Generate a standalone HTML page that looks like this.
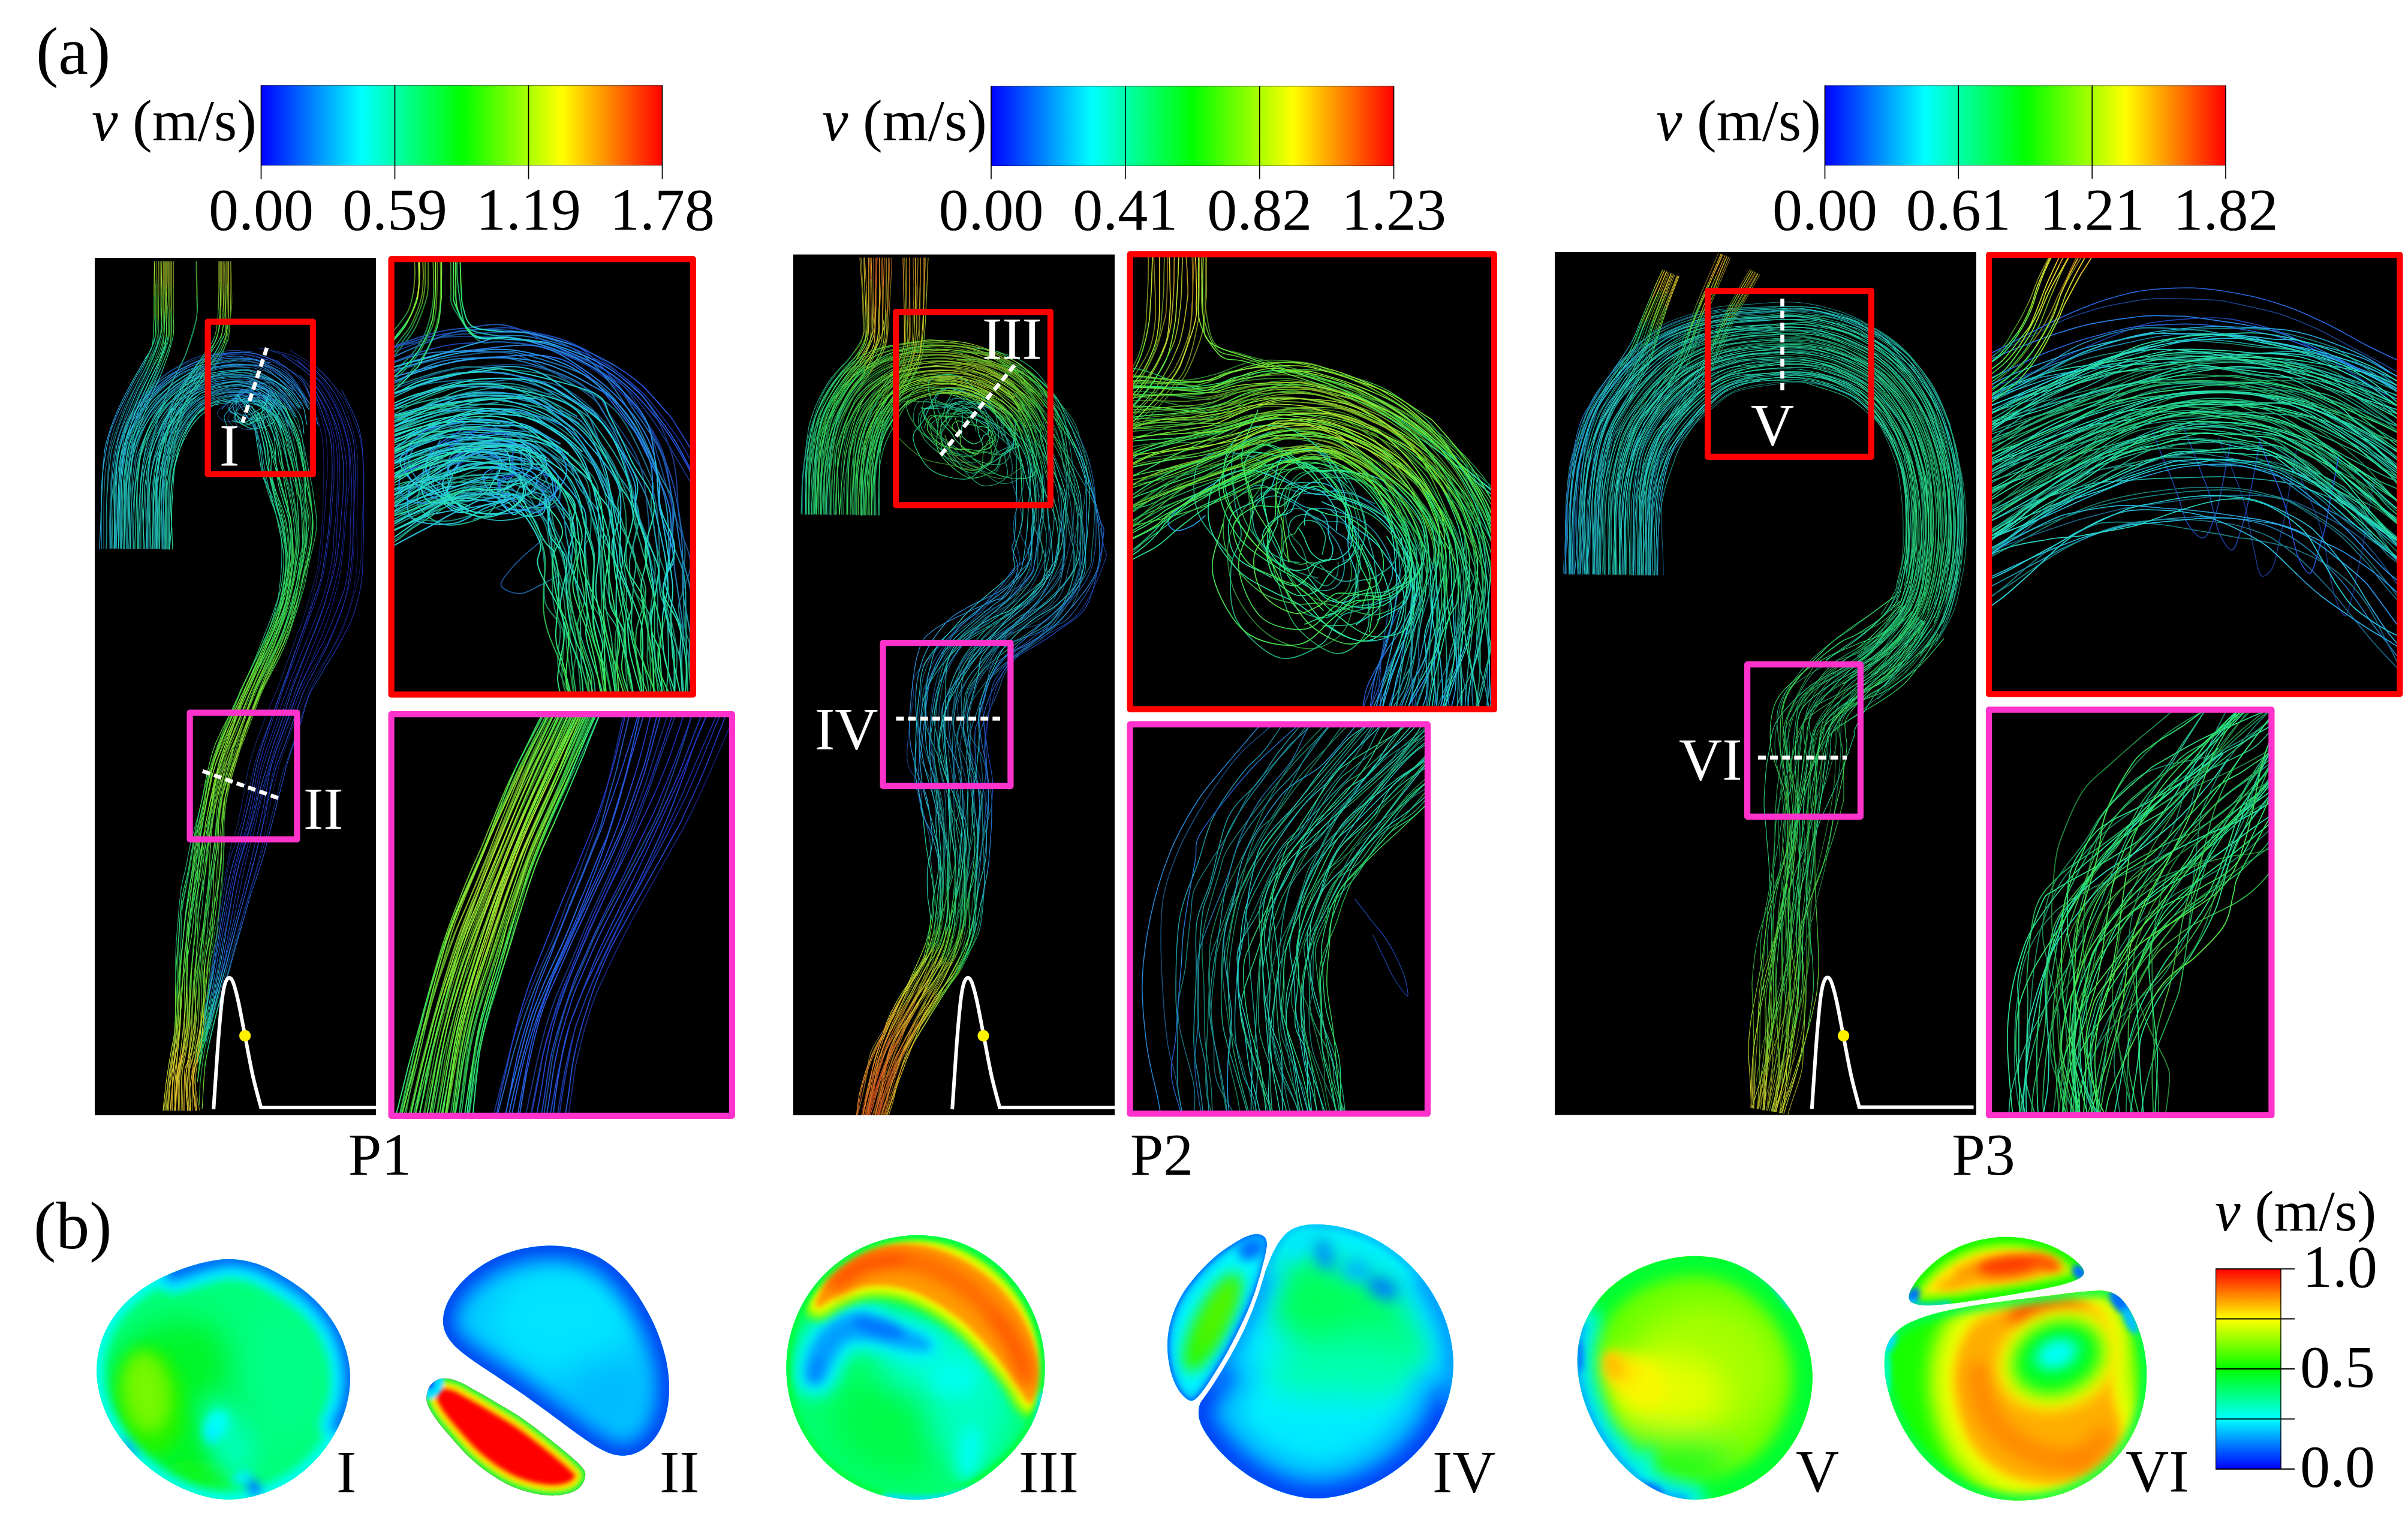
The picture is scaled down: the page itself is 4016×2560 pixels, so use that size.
<!DOCTYPE html>
<html lang="en"><head><meta charset="utf-8"><title>Aortic flow streamlines</title>
<style>html,body{margin:0;padding:0;background:#fff}svg{display:block}text{font-family:"Liberation Serif","Times New Roman",serif;fill:#000}.w{fill:#fff}.i{font-style:italic}.sl{fill:none;stroke-linecap:round;stroke-linejoin:round}</style></head><body>
<svg width="4016" height="2560" viewBox="0 0 4016 2560">
<defs>
<linearGradient id="rb" x1="0" y1="0" x2="1" y2="0"><stop offset="0" stop-color="#0000ff"/><stop offset=".25" stop-color="#00ffff"/><stop offset=".5" stop-color="#00ff00"/><stop offset=".75" stop-color="#ffff00"/><stop offset="1" stop-color="#ff0000"/></linearGradient>
<linearGradient id="rbv" x1="0" y1="1" x2="0" y2="0"><stop offset="0" stop-color="#0000ff"/><stop offset=".25" stop-color="#00ffff"/><stop offset=".5" stop-color="#00ff00"/><stop offset=".75" stop-color="#ffff00"/><stop offset="1" stop-color="#ff0000"/></linearGradient>
</defs>
<rect width="4016" height="2560" fill="#fff"/>
<rect x="435.5" y="142.3" width="669.0" height="133.7" fill="url(#rb)"/>
<path d="M435.5 142.70000000000002H1104.5M435.5 275.6H1104.5" stroke="#000" stroke-opacity=".55" stroke-width="1" fill="none"/>
<line x1="435.5" y1="142.3" x2="435.5" y2="299" stroke="#000" stroke-width="1.7"/>
<text x="435.5" y="383" font-size="100" text-anchor="middle">0.00</text>
<line x1="658.5" y1="142.3" x2="658.5" y2="299" stroke="#000" stroke-width="1.7"/>
<text x="658.5" y="383" font-size="100" text-anchor="middle">0.59</text>
<line x1="881.5" y1="142.3" x2="881.5" y2="299" stroke="#000" stroke-width="1.7"/>
<text x="881.5" y="383" font-size="100" text-anchor="middle">1.19</text>
<line x1="1104.5" y1="142.3" x2="1104.5" y2="299" stroke="#000" stroke-width="1.7"/>
<text x="1104.5" y="383" font-size="100" text-anchor="middle">1.78</text>
<text x="153" y="234" font-size="98"><tspan class="i">v</tspan> (m/s)</text>
<rect x="1653" y="143.5" width="671.5" height="133.5" fill="url(#rb)"/>
<path d="M1653 143.9H2324.5M1653 276.6H2324.5" stroke="#000" stroke-opacity=".55" stroke-width="1" fill="none"/>
<line x1="1653.0" y1="143.5" x2="1653.0" y2="299" stroke="#000" stroke-width="1.7"/>
<text x="1653.0" y="383" font-size="100" text-anchor="middle">0.00</text>
<line x1="1876.8" y1="143.5" x2="1876.8" y2="299" stroke="#000" stroke-width="1.7"/>
<text x="1876.8" y="383" font-size="100" text-anchor="middle">0.41</text>
<line x1="2100.7" y1="143.5" x2="2100.7" y2="299" stroke="#000" stroke-width="1.7"/>
<text x="2100.7" y="383" font-size="100" text-anchor="middle">0.82</text>
<line x1="2324.5" y1="143.5" x2="2324.5" y2="299" stroke="#000" stroke-width="1.7"/>
<text x="2324.5" y="383" font-size="100" text-anchor="middle">1.23</text>
<text x="1371" y="234" font-size="98"><tspan class="i">v</tspan> (m/s)</text>
<rect x="3043.5" y="142.5" width="668.5" height="133.5" fill="url(#rb)"/>
<path d="M3043.5 142.9H3712M3043.5 275.6H3712" stroke="#000" stroke-opacity=".55" stroke-width="1" fill="none"/>
<line x1="3043.5" y1="142.5" x2="3043.5" y2="298" stroke="#000" stroke-width="1.7"/>
<text x="3043.5" y="383" font-size="100" text-anchor="middle">0.00</text>
<line x1="3266.3" y1="142.5" x2="3266.3" y2="298" stroke="#000" stroke-width="1.7"/>
<text x="3266.3" y="383" font-size="100" text-anchor="middle">0.61</text>
<line x1="3489.2" y1="142.5" x2="3489.2" y2="298" stroke="#000" stroke-width="1.7"/>
<text x="3489.2" y="383" font-size="100" text-anchor="middle">1.21</text>
<line x1="3712.0" y1="142.5" x2="3712.0" y2="298" stroke="#000" stroke-width="1.7"/>
<text x="3712.0" y="383" font-size="100" text-anchor="middle">1.82</text>
<text x="2762" y="234" font-size="98"><tspan class="i">v</tspan> (m/s)</text>
<text x="60" y="123" font-size="112">(a)</text>
<text x="56" y="2082" font-size="112">(b)</text>
<rect x="158" y="430" width="469" height="1430" fill="#000"/>
<rect x="1323" y="424.5" width="536" height="1435.5" fill="#000"/>
<rect x="2593" y="420" width="703" height="1439.5" fill="#000"/>
<rect x="651.5" y="431" width="505.5" height="728.5" fill="#000"/>
<rect x="651.5" y="1190" width="570.5" height="672" fill="#000"/>
<rect x="1883.5" y="423" width="609.5" height="761" fill="#000"/>
<rect x="1883.5" y="1207" width="498.5" height="651.5" fill="#000"/>
<rect x="3316" y="424" width="687.5" height="734.5" fill="#000"/>
<rect x="3316" y="1182.5" width="473.5" height="678.5" fill="#000"/>
<clipPath id="cp1"><rect x="158" y="430" width="469" height="1430"/></clipPath>
<g class="sl" clip-path="url(#cp1)" stroke-width="1.2">
<path stroke="#121c6d" stroke-width="1.02" d="M584 702c5 16 10 36 12 55s0 36 0 58s-1 54-1 73s2 27 1 44s-4 44-8 62s-7 29-14 45s-15 34-23 49"/>
<path stroke="#132174" stroke-width="1.05" d="M603 745c3 15 4 31 4 52s-2 51-3 71s0 32-1 48s-1 31-6 52s-17 58-23 75s-6 14-13 28M538 621c14 13 21 26 29 40s12 25 17 41M551 1088c-9 15-16 23-26 41s-23 51-31 69s-10 26-14 39s-8 17-13 34s-11 48-16 68s-6 31-9 48s-8 35-12 53M529 696c5 15 7 26 9 40s2 29 2 45s-1 31-1 49s-1 39-3 58s-3 38-6 56s-9 36-13 51s-9 28-12 39s-5 11-11 29"/>
<path stroke="#142a7a" stroke-width="1.08" d="M412 652c7 2 17 1 22 5M383 669c6-5 8-7 13-12s11-17 19-20s23-1 27 3M570 659c12 17 17 35 23 49s8 22 10 37M561 1071c-8 15-25 45-33 60s-7 12-14 30s-17 54-24 75M484 584c18 12 40 24 54 37M430 1440c-5 18-11 38-16 55s-8 28-13 45M508 644c7 13 16 36 21 52M494 1063c-6 17-20 54-27 74s-11 26-17 41s-14 35-20 52s-11 33-15 49s-5 28-8 43s-7 36-10 50s-7 21-12 40"/>
<path stroke="#163280" stroke-width="1.11" d="M389 682c4-5 7-7 11-10s7-8 13-11s16-7 23-6M434 657c4 3 3 11 4 15M363 687c1-6 15-13 20-18M442 640c5 4 1 15 2 21M521 605c17 18 37 37 49 54M490 1236c-7 21-12 34-17 48s-7 26-10 39s-7 25-11 42s-12 46-18 66s-11 37-16 54s-10 35-14 47M487 620c7 8 14 12 21 24M385 1412c-4 18-10 53-14 71s-2 15-4 32"/>
<path stroke="#173d84" stroke-width="1.14" d="M353 591c18-5 30-8 49-6s43 12 64 18M393 591c16-1 26 0 41 5s31 10 45 24M439 605c15 6 34 21 51 32M380 699c0-6 6-13 9-17M436 655c6 1 10 7 16 11M438 672c1 4 1 7 2 11M375 703c-7-2-14-11-12-16M444 661c1 6 2 8 4 13M404 1532c-3 13-3 13-7 28M401 1540c-6 18-12 40-18 59M367 1515c-2 18-7 50-10 71"/>
<path stroke="#174985" stroke-width="1.18" d="M296 613c14-7 39-18 57-22M337 602c16-5 40-10 56-11M479 620c15 14 33 44 41 60M360 602c16-5 23-5 36-4s27 0 43 7M427 630c13 3 24 8 35 17M409 652c12 1 14 1 24 6M440 683c0 5 4 12 1 17M421 716c-7 2-19-1-24-5s-5-9-7-14M403 698c-8 1-22 7-28 5M448 674c1 6 9 16 5 22"/>
<path stroke="#175687" d="M265 635c12-11 16-14 31-22M298 621c14-11 23-15 39-19M520 680c7 15 3 22 5 33M302 623c17-10 43-17 58-21M455 614c17 6 23 11 33 23M359 631c13-5 14-4 25-5s30 1 43 4M462 647c11 9 21 25 31 38M405 637c13 0 16 0 27 6s32 16 42 25M362 656c13-2 35-4 47-4M433 658c10 6 27 17 36 26M404 658c12 1 20 5 30 8M392 715c-4-6-11-11-12-16M441 700c-3 6-12 14-20 16M448 694c-9 1-20 2-27 3s-11 0-18 1M453 696c-3 6-18 14-27 15s-16-7-24-10M397 1560c-5 16-13 48-18 65M383 1599c-5 19-11 39-16 54"/>
<path stroke="#176385" d="M176 782c3-16 8-46 13-63s12-30 16-40s4-10 9-21M249 665c12-14 34-34 49-44M239 685c7-12 9-16 19-26s27-27 44-36M342 608c16-5 27-8 46-8s50 7 67 14M488 637c11 12 24 33 30 47M402 600c14 1 32 6 44 10s16 5 27 16s26 34 38 51M356 614c15-3 41-4 61-6M349 635c15-4 38-9 53-9s28 3 40 8s25 17 37 25M307 658c12-8 39-22 52-27M324 653c10-7 15-9 28-12s39-5 53-4M474 668c10 9 12 19 18 28M387 638c15 0 35 5 47 9s17 9 24 15s14 11 20 22M307 695c7-9 19-21 29-27s14-9 26-12M469 684c8 9 9 19 13 28M361 663c11-2 31-5 43-5M411 666c11 1 12 2 20 5s16 9 25 14M357 1586c-3 21-6 41-9 58"/>
<path stroke="#177182" d="M173 915c0-14 0-26 0-42s0-43 1-58s0-17 2-33M214 658c6-11 17-28 25-45M177 915c0-12 1-21 1-34s0-26 0-44s2-51 3-66s1-16 5-30s13-38 19-54s12-26 19-38M183 915c0-19-1-40 0-56s0-31 1-43s1-17 2-30s3-26 7-43s13-41 19-58s16-35 21-46M228 680c9-15 26-34 37-45M210 739c4-13 7-21 14-34s13-26 25-40M207 793c2-17 5-46 10-64s15-33 22-44M292 631c14-9 34-18 50-23M518 684c6 14 4 26 7 39M300 631c16-10 41-20 58-25s29-7 44-6M325 624c13-7 16-8 31-10M314 652c11-7 20-13 35-17M249 751c3-11 6-20 12-32s18-31 26-41s8-12 20-20M292 681c9-11 22-22 32-28M316 666c8-8 15-13 27-17s29-10 44-11M266 840c0-17 2-47 4-61s2-11 5-21s11-29 16-40s8-15 16-23M365 656c14-3 39-1 49-1s6 0 14 4s26 15 34 24M314 697c8-9 17-18 25-24s12-7 22-10M348 675c8-5 6-5 17-6s35-3 46-3M442 634c15 16 36 33 46 49M379 1625c-5 18-7 23-12 40M367 1653c-4 14-5 19-9 34"/>
<path stroke="#167d7e" d="M224 649c6-12 11-20 18-34M233 639c6-12 6-9 12-22M192 790c1-13 2-28 5-42s7-25 13-43M270 915c0-18-1-40-1-55s-1-19 0-34s3-42 6-59s5-31 9-45s6-25 12-39s14-29 22-42M192 792c3-20 8-52 14-71s12-27 22-41M194 914c0-14 0-31 1-43s0-15 1-29s3-42 5-59s5-31 9-44M202 914c1-16 1-35 2-49s0-22 1-34s-1-21 2-38M235 693c6-11 10-18 20-29s22-23 37-33M263 664c11-13 21-23 37-33M245 695c9-15 18-26 31-38s36-26 49-33M246 744c5-14 16-34 23-45s7-11 15-19s20-20 30-28M235 915c0-10 0-17 0-30s1-32 1-48s3-34 5-48s4-26 8-38M244 915c0-10 0-18 0-30s0-29 2-45s4-39 6-52s1-14 5-26s8-31 14-44s12-26 21-37M277 723c5-10 10-20 16-30s15-20 23-27M478 684c5 10 9 26 14 39M266 915c0-11 0-22 0-35s-1-24 0-40M313 691c6-9 8-13 17-18s21-14 35-17M462 683c9 8 11 18 16 27M273 871c0-15 0-33 0-45s1-17 2-27s4-23 7-35s7-22 12-34s13-23 20-33M305 717c5-9 6-10 13-17s22-20 30-25M409 652c12 12 25 23 34 37M348 1644c-3 17-5 28-7 44"/>
<path stroke="#178074" d="M188 915c0-17 0-35 0-50s1-30 1-42s1-21 3-33M210 705c7-18 20-47 28-63M246 915c0-18 0-41 0-55s-1-15 0-31s1-45 3-63s3-27 8-45s14-45 20-62s15-33 21-44M318 641c8-13 20-25 28-36M282 915c0-14 0-27 0-44s0-39 1-55s1-22 3-38s7-40 11-56s8-27 13-40s13-24 19-34M186 914c1-17 1-38 2-51s0-12 1-24s0-27 3-47M203 914c1-13 2-27 2-40s1-24 2-40s1-38 3-55s3-30 7-44s11-30 18-42M220 738c4-14 5-16 12-28s20-33 31-46M214 915c-1-17-1-36-1-51s-1-27 0-41s1-32 3-45s0-17 5-30s15-38 24-53M235 915c0-10 0-16 0-30s-2-40-1-57s1-32 3-46s4-24 9-38M250 915c0-13-1-27 0-38s0-19 1-32s3-36 5-51s6-27 9-38s7-23 12-33M284 750c3-11 4-15 9-25s14-26 20-34M274 916c0-15-1-30-1-45M282 916c-1-19-1-41-1-56s-1-24-1-35s-1-17 1-29s5-30 9-43s11-27 15-36M488 683c10 15 11 26 15 43M443 689c9 14 18 34 23 49"/>
<path stroke="#17826a" d="M238 642c7-17 11-22 17-36M298 615c5-12 8-14 13-27M329 648c5-9 10-14 17-24M207 915c0-14 0-26 0-41s-1-34 0-48s0-19 2-34s7-40 11-54M266 915c1-11 1-20 1-33s1-26 2-41s2-32 5-47s7-33 10-44M503 726c3 17 5 40 8 58M367 1665c-4 17-12 45-16 63M358 1687c-4 14-8 36-13 54"/>
<path stroke="#18845f" d="M239 613c8-16 17-40 21-54M242 615c6-14 17-38 20-51M245 617c6-14 19-42 22-59M477 682c5 21 12 47 15 63M466 738c5 15 2 24 6 39M341 1688c-3 15-7 31-10 49"/>
<path stroke="#198455" d="M311 588c5-13 13-37 16-52M346 605c8-11 15-16 20-30M346 624c7-10 20-18 26-36M511 784c3 17 6 31 8 49s2 47 1 62M472 777c4 16 13 38 17 56"/>
<path stroke="#1a854b" d="M255 606c6-14 13-36 16-48M520 895c0 16-2 18-5 32s-5 33-10 51M492 745c4 15 1 18 4 33M489 833c4 17 5 34 6 50"/>
<path stroke="#1b8541" d="M505 978c-4 18-9 38-15 55M371 1476c-2 21-4 32-6 45s-4 20-7 34M496 778c3 14 11 37 15 54M495 883c0 17-1 35-2 48s-1 16-5 33"/>
<path stroke="#208538" d="M260 559c4-15 1-17 1-32M262 564c4-14 1-14 1-28M490 1033c-5 17-9 31-17 48M373 1400c0 18-1 56-2 76M358 1555c-2 14-5 29-8 48M511 832c4 17 8 30 8 49M488 964c-4 16-14 50-19 67s-6 18-11 30M332 1466c-2 20-1 33-3 47s-2 24-4 39M351 1728c-4 19-6 34-10 50"/>
<path stroke="#2a8630" d="M267 558c4-17 1-29 1-42M327 536c3-16 1-23 1-40M473 1081c-8 18-23 43-30 59M374 1368c-2 15-1 13-1 32M519 881c-1 19-7 44-11 64s-10 41-15 56M458 1061c-5 13-12 27-20 44M346 1392c-3 19-11 54-14 74M325 1552c-2 16-4 37-5 53M331 1737c-3 18-6 41-8 58"/>
<path stroke="#348729" d="M271 558c3-11 0-6 1-19M366 575c5-14 7-40 9-53M372 588c7-18 11-52 14-71M443 1140c-8 15-10 19-16 35M381 1309c-3 17-6 43-7 59M350 1603c-3 18-8 43-10 62M493 1001c-4 15-8 21-13 35s-13 34-19 49M363 1472c-1 17 0 11-3 26s-11 46-15 62M438 1105c-7 17-18 42-24 58M351 1353c-3 15-2 20-5 39M320 1605c-1 16 0 24-1 42"/>
<path stroke="#3d8722" d="M328 496c0-16-1-40-1-60M427 1175c-6 15-16 43-22 58s-8 20-12 33s-9 26-12 43M461 1085c-6 15-12 26-18 40M365 1365c-1 12-1 14-1 32s0 59-1 75M345 1560c-3 16-4 17-6 35M414 1163c-6 15-8 20-13 33M364 1302c-5 18-10 36-13 51"/>
<path stroke="#48871e" d="M261 527c0-15 0-44 0-59M263 536c0-15 0-42 0-59M268 516c0-14 0-25 0-38M340 1665c-2 19 0 33-2 49M443 1125c-6 13-10 24-17 42M371 1325c-5 18-5 28-6 40M339 1595c-3 19-6 57-7 75M401 1196c-6 14-14 31-20 48s-12 40-17 58M319 1647c-1 19-4 55-5 70M323 1795c-2 17-2 28-3 42"/>
<path stroke="#54871e" d="M272 539c0-14 0-45 0-62M375 522c1-14 0-14 0-28M426 1167c-6 18-17 52-22 67M394 1256c-5 16-18 51-23 69"/>
<path stroke="#60861e" d="M261 468c0-15 0-21 0-32M404 1234c-5 15-4 7-10 22M332 1670c0 17 3 13 3 29"/>
<path stroke="#6c851e" d="M263 477c1-17 1-27 1-41M268 478c0-13 0-28 0-42M375 494c0-15 0-39-1-58M386 517c2-19 0-30 0-43M338 1714c-1 17-6 36-8 48M314 1717c-1 16 0 11-2 24"/>
<path stroke="#74841d" d="M272 477c0-17 0-27 0-41M386 474c0-14-1-25-1-38"/>
<path stroke="#7b821c" d="M335 1699c-1 17-5 55-7 70"/>
<path stroke="#82801c" d="M330 1762c-3 13-7 14-7 29M312 1741c-3 13-11 36-13 55"/>
<path stroke="#897e1b" d="M323 1791c1 15 6 41 10 61M299 1796c-2 18-1 37-2 56"/>
<path stroke="#8c6d1a" d="M328 1769c-2 15-5 8-6 22s-1 41-1 61"/>
<path stroke="#151f83" stroke-width="0.99" d="M590 821c0 15 0 25 0 44s1 46-1 65s-2 32-8 53s-19 54-26 71M541 866c-2 15-2 31-3 43s-1 17-4 33s-10 45-15 64"/>
<path stroke="#17248d" stroke-width="1.02" d="M551 654c9 15 22 42 28 63s9 42 10 59s1 30 1 45M555 1054c-7 17-7 15-15 30s-26 43-35 61M583 795c0 15-1 15-3 34s-5 61-7 82s-4 33-6 47s-5 24-9 37s-6 25-13 44M527 666c5 19 13 40 16 57s2 28 3 43s-1 33-2 49s-2 35-3 51M519 1006c-5 19-10 33-16 50s-12 35-16 48s-5 13-9 26"/>
<path stroke="#192b96" stroke-width="1.05" d="M492 595c17 7 28 20 38 30s13 13 21 29M505 1145c-9 18-13 32-18 47s-10 28-15 41s-7 18-12 36s-12 55-16 71s-2 14-5 30s-11 49-15 66s-6 22-10 37s-9 32-14 50M530 634c12 14 22 28 30 46s16 42 20 61s2 39 3 54M545 1039c-7 18-19 47-27 67s-17 39-23 52s-3 10-8 25M541 665c7 13 13 28 17 43s7 32 8 51s0 43-1 63s-2 40-3 57s-1 31-3 48s-7 40-11 56s-7 28-12 41s-8 23-16 41s-21 50-29 68M478 1130c-5 13-12 30-19 50s-19 49-26 68s-8 26-12 44s-10 44-14 63s-10 36-14 50s-8 19-11 34s-7 41-10 59"/>
<path stroke="#1a369e" stroke-width="1.08" d="M459 601c15 7 24 17 35 25M430 580c21 5 46 7 62 15M490 600c13 8 29 21 40 34M487 1183c-6 15-18 46-25 65s-12 33-17 51s-11 40-14 54s-3 15-6 28s-9 31-13 48s-8 34-11 51M517 629c8 12 17 23 24 36M491 1133c-7 18-9 25-15 40s-14 38-20 55s-11 31-16 47s-8 33-11 49s-6 28-10 45s-12 40-17 58s-8 36-12 52M372 1498c-3 18-5 33-8 50"/>
<path stroke="#1c41a5" stroke-width="1.11" d="M351 591c17-3 46-3 70-5M340 599c19-6 47-12 67-11s38 7 52 13M409 656c8-4 16-13 22-13M403 663c6-3 10-3 15-4M400 1523c-5 19-12 43-17 60M453 585c12 5 24 6 37 15M401 1480c-4 18-7 33-11 53M390 1479c-3 17-6 31-9 47"/>
<path stroke="#1d4faa" stroke-width="1.14" d="M314 602c15-8 19-9 37-11M401 603c16-1 22-1 37 6M431 643c6 0 14 7 16 11M381 672c3-4 16-7 22-9M383 1583c-4 18-6 24-11 44M390 1533c-5 21-12 51-16 71M381 1526c-3 16-6 30-10 49M364 1548c-3 18-5 37-8 52"/>
<path stroke="#1e5fac" stroke-width="1.18" d="M260 637c15-14 39-28 54-35M290 623c15-10 30-18 50-24M339 613c17-6 45-10 62-10M438 609c16 8 43 27 56 39s12 22 18 32M406 617c14 0 20 1 33 7s29 18 43 27M393 636c14 0 32 4 42 7s11 3 19 10s20 20 30 31M405 678c3-3 4-5 8-7s9-8 14-8M447 654c2 5-5 11-4 16M385 688c-3-3-7-12-4-16M356 1600c-2 16-3 25-6 41"/>
<path stroke="#1e6fae" d="M222 684c11-17 22-33 38-47M250 656c11-10 25-24 40-33M297 634c11-7 24-16 42-21M368 612c17-4 26-3 39-3s21 2 35 8s31 22 47 33M324 628c16-8 36-12 52-15s26 0 39 0M392 611c16 0 33 2 48 7s30 16 41 26s14 21 22 32M318 634c12-6 25-11 39-13s36-5 49-4M356 628c12-5 9-5 22-4s43 3 56 6s14 4 23 12s22 24 33 36M347 646c11-4 31-9 46-10M383 658c10-2 13 0 21 1s17 3 27 8s20 13 29 20M417 669c3-1 6-4 9-5s10-1 12 1M398 678c2-3 7-5 11-7M393 687c2-4 8-7 12-9M427 663c5-1 13 1 15 4M443 670c0 4 6 7 6 12M405 691c-5-2-16 0-20-3M374 1604c-5 20-9 36-13 51M371 1575c-3 19-9 49-13 66"/>
<path stroke="#1e80ac" d="M199 740c5-18 13-39 23-56M202 740c5-15 18-42 26-56s12-17 22-28M238 702c8-14 22-33 32-44s15-16 27-24M304 636c15-7 47-20 64-24M279 658c11-10 29-23 45-30M343 622c15-6 33-10 49-11M255 698c9-16 20-29 30-40s21-18 33-24M310 651c12-8 35-19 46-23M296 683c10-11 23-21 31-28s9-6 20-9M421 648c11 4 25 13 37 19M334 664c12-6 33-11 46-13s19 1 29 1M345 669c11-6 28-9 38-11M413 662c9 3 20 9 29 13M438 665c3 1 5 5 4 8M396 688c-2-2 0-8 2-10M391 700c-2-2 0-10 2-13M442 667c2 3-1 9-2 13M449 682c-1 5-4 15-9 18s-18 0-24-2s-6-6-11-7M387 679c3-5 5-8 10-14s10-15 20-19s27-10 36-8M425 705c3 12 7 23 9 37M372 1627c-6 19-16 57-21 76"/>
<path stroke="#1d91a8" d="M184 766c2-16 1-13 5-25s8-29 15-45M208 915c1-17 1-39 1-53s0-15 1-28s1-31 3-48s6-39 9-52s4-14 8-25s9-26 15-41M185 914c0-18-1-37 0-54M188 815c1-11 0-11 2-23s3-34 9-52M192 914c0-17 0-35 0-51s0-29 1-44s1-31 2-44s1-20 7-35M208 915c0-13 0-24 0-38s0-33 1-47s1-23 3-37s3-31 8-46s9-30 18-45M248 692c9-14 23-29 33-39s9-11 23-17M222 788c2-15 5-40 11-56s14-32 22-45s12-19 24-29M275 670c8-10 18-20 30-28s23-15 38-20M222 915c0-14-1-25-1-40s2-41 3-55s2-17 3-27s2-21 6-37s14-41 22-58M396 620c17 2 44 9 59 15s19 17 29 25M402 621c14 0 24 3 35 7s20 6 30 15s22 26 32 39M246 753c4-14 12-32 18-45s12-21 20-31s14-18 26-26M351 642c13-3 30-6 42-7s18 2 28 2M247 915c0-11 0-22 0-34s0-23 0-36s1-24 3-39s6-38 10-53s7-22 13-34s14-26 23-36M352 653c12-4 31-8 43-9s16 0 26 4M360 652c12-4 17-4 27-4s25 2 37 3M308 687c7-9 14-17 26-23M368 656c8-2 16-5 27-4s31 3 43 8s21 13 28 21M297 729c4-9 10-22 18-32s18-21 30-28M356 667c9-3 21-6 31-7s17 0 26 2M378 663c10-3 12-3 21-1s24 7 36 10M442 673c0 3-4 6-7 8M406 693c-4 0-9-2-10-5M408 704c-5 1-14-1-17-4M374 695c1-6 9-11 13-16M453 638c10 2 14 13 22 19M420 634c12 9 24 11 36 25M416 634c17 15 39 28 50 44M413 635c14 15 33 31 42 46M414 644c14 16 33 34 42 47M407 677c5 9 11 14 16 26M418 696c6 16 13 33 17 47M358 1641c-3 17-4 18-8 38M350 1641c-3 16-6 37-9 55"/>
<path stroke="#1da1a3" d="M178 915c0-16 0-36 0-49s-1-14 0-30s4-55 6-70M204 696c6-17 18-41 24-55M212 776c2-12 1-14 5-29s12-41 18-58M245 668c6-16 15-34 22-51M246 915c0-13 0-25 0-40s0-32 0-51s3-46 4-62s4-24 7-38s8-32 14-49s17-38 23-52M257 915c0-17 0-34 0-50s-2-26-1-43s3-40 5-56s4-24 8-40s12-39 17-52s6-14 14-26M185 860c0-16 2-33 3-45M215 915c0-11 1-18 1-33s0-40 1-58s2-37 3-51s2-20 7-33s12-33 21-48M217 915c1-19 2-40 2-55s1-25 1-37s0-20 2-35M217 915c1-15 1-33 1-44s0-13 1-27s4-43 6-57s0-15 5-29s18-46 25-60s12-19 20-28M330 635c11-7 9-5 20-7s28-9 46-8M309 648c12-6 30-16 46-20s33-6 47-7M232 915c0-15-1-30-1-44s1-31 2-44s2-22 4-34s4-26 9-40M283 690c8-9 23-25 35-33s21-11 33-15M298 695c7-9 17-20 26-27s16-11 28-15M303 690c7-9 8-12 18-18s28-16 39-20M261 915c1-11 1-20 2-33M268 800c2-14 5-35 9-49s7-24 12-35s11-21 19-29M343 666c9-6 16-8 25-10M466 681c8 8 10 18 15 26M275 916c0-19-1-43-2-56s0-12 0-23s1-31 4-45s8-30 11-41s4-13 9-22M313 707c5-8 14-20 21-27s13-10 22-13M341 678c10-7 27-13 37-15M435 681c-3 3-6 3-8 5s-5 3-8 4s-9 4-13 3M423 696c-5 3-9 7-15 8M380 714c-2-7-7-13-6-19M456 659c11 15 25 44 33 62M430 652c12 15 28 32 36 45M442 661c10 16 23 32 30 49M410 650c13 13 28 25 37 40M434 742c2 14 1 29 5 47M423 703c4 13 7 31 11 49M361 1655c-4 14-6 22-10 37"/>
<path stroke="#1da596" d="M228 641c7-14 10-18 16-29M191 915c0-19 0-42 0-56s0-16 0-30s1-36 4-54s6-34 10-49s11-30 16-41s7-17 13-30M203 915c0-16 0-32 0-48s1-34 2-48s1-20 3-35s6-35 10-51s11-34 15-45s2-7 7-21M207 915c0-18 1-38 1-53s1-26 1-40s2-33 3-46M235 689c6-16 11-28 17-42M294 623c7-14 10-15 15-31M300 648c8-13 26-37 36-51M280 915c0-20 0-45 0-59s0-13 1-26s1-34 4-52s6-39 10-54s7-25 11-37s9-20 17-33M260 699c7-12 8-15 20-26s38-30 50-38M257 705c8-14 19-27 28-36s13-14 24-21M248 799c1-13 0-19 3-34s13-41 18-54s6-12 14-21M262 788c1-14 3-22 6-32s6-19 11-29s11-22 19-32M261 915c-1-10-1-17-1-30s-1-30-1-45s0-31 2-45s6-32 9-43s4-16 9-26s17-27 24-36M263 882c0-14 1-35 2-48s1-20 3-34M282 747c4-12 7-16 11-25s11-19 19-28s22-22 31-28M276 916c0-14-1-28-1-41s1-30 1-41s0-15 3-28s8-35 11-47s6-19 10-28s7-15 13-24M309 719c4-9 4-10 10-17s12-18 22-24M466 678c12 17 15 41 19 54M455 681c9 14 10 24 15 40M456 691c9 13 9 18 13 31M447 690c9 15 13 34 17 49M439 789c5 18 18 43 23 60M435 743c4 14 3 21 6 36"/>
<path stroke="#1ea888" d="M234 655c6-14 18-34 24-50M276 915c0-20 0-43 0-59s-1-19-1-34s3-42 5-57s3-22 7-35s11-36 16-47s4-11 11-22M323 654c9-14 27-33 36-47M229 915c0-12 0-18 0-34s0-43 0-61s3-35 4-47s1-10 5-22s15-39 22-52M230 915c0-16 0-34 0-46s-1-17-1-29s0-27 1-41s2-28 6-44s13-35 21-50M244 915c1-15 2-33 3-45s0-18 0-29s0-29 1-42M258 915c0-12 1-25 1-38s-1-24 0-39s1-37 3-50M265 915c0-14-1-26-1-42s1-42 2-54s0-10 3-22s9-37 13-50M279 916c-1-13-1-22-1-38s0-41 0-55s2-20 5-31s6-23 10-35s11-29 16-38M479 678c8 14 16 26 22 44M489 721c8 18 12 29 15 46M466 697c9 14 11 21 15 36M472 710c8 18 11 41 15 57M470 721c4 16 7 39 11 55M469 722c3 13 6 28 9 46M453 694c7 20 16 41 21 59M435 695c5 16 13 33 16 49M462 849c6 18 8 30 11 45M434 752c3 18 6 41 10 59M441 779c3 15 7 34 11 52M470 923c0 16-2 43-4 58s-1 13-6 27M351 1703c-5 19-5 22-8 39"/>
<path stroke="#1faa7b" d="M244 612c5-11 14-25 18-38M240 667c6-13 21-44 28-61M252 647c6-14 14-28 19-40M314 661c8-12 24-33 34-49M501 722c6 18 11 48 14 64M474 672c6 20 15 43 20 60M485 732c4 13 3 12 6 24M481 733c5 16 10 41 14 57M440 670c10 19 24 43 31 58M474 753c6 18 9 35 11 48M464 739c4 15 5 27 9 42M451 744c3 17 1 36 3 51M473 894c2 15 5 28 4 45M444 811c5 18 13 37 17 50M452 831c5 17 12 38 15 53s3 23 3 39M460 1008c-4 15-16 42-22 59M310 1447c-3 14-6 21-8 36s-4 33-5 52M351 1692c-3 15-7 34-11 51"/>
<path stroke="#20ab6e" d="M267 617c6-17 15-34 18-51M309 592c6-16 16-48 19-64M504 767c3 16 3 37 4 53s5 24 4 43M491 756c2 13 5 28 9 49M495 790c4 16 9 21 12 40M487 767c3 17 6 25 9 42M481 776c5 16 10 29 14 42M478 768c4 19 8 45 11 65M485 801c3 13 3 14 6 31M473 781c4 16 9 33 13 52M454 795c3 15 7 26 11 40M477 939c0 16-5 41-8 54s-3 13-8 25s-12 33-19 51M315 1456c-3 20-9 42-11 60s-2 33-2 48M461 861c4 12 5 12 8 24M320 1397c-4 16-7 35-10 50M297 1535c-2 20-4 46-4 66M350 1679c-4 19-12 59-15 79"/>
<path stroke="#21ab61" d="M271 607c5-13 10-21 13-35M336 597c9-15 18-22 22-36M359 607c9-15 16-26 21-40M515 786c4 17 5 20 7 35s7 38 6 57M494 732c5 17 7 26 10 42M512 863c0 18-4 51-7 70M500 805c3 20 10 55 11 76M507 830c2 19 5 55 5 72M496 809c3 18 9 49 10 64s2 13 1 26M495 818c4 14 10 27 12 41s3 31 1 48M471 728c7 14 7 17 11 30M489 833c3 19 8 33 8 51M491 832c2 16 8 51 8 69M486 833c4 18 8 40 9 58M465 835c3 14 9 29 12 45M442 1069c-8 18-20 40-28 57M333 1366c-4 15-6 19-9 34s-5 37-9 56M302 1564c-1 15-2 24-3 41M469 885c2 12 8 30 8 47M438 1067c-7 17-11 28-17 42M333 1350c-4 18-9 31-13 47"/>
<path stroke="#22ac53" d="M258 605c7-15 12-30 15-44M268 606c6-17 11-29 13-40M528 878c-1 19-8 39-12 58M504 774c4 16 8 37 11 54M505 933c-3 18-6 25-10 40s-8 38-12 52M511 881c1 20-3 33-5 48s-5 29-8 45M512 902c0 17-2 16-5 30s-7 33-12 50M507 899c-1 14-6 39-9 56s-5 29-10 46M508 907c-2 18-8 43-12 60s-7 25-12 41M482 758c4 12 7 24 11 42M497 884c1 18-3 41-4 57s-3 27-6 39s-2 18-8 34M499 901c1 18-2 23-5 39s-8 42-13 59M495 891c2 17-1 35-3 48s-1 16-4 31M477 880c3 16 4 32 4 50s-3 41-7 59M477 932c0 18-5 43-7 58s-3 17-9 32M316 1448c-4 20-11 52-14 70s-2 27-3 39s-1 16-2 33M293 1601c-1 20 1 36 1 55"/>
<path stroke="#29ac48" d="M262 574c3-12 2-23 2-37M328 528c3-16 1-16 1-31M348 612c10-15 21-33 26-45M516 936c-4 18-6 35-11 51s-9 30-15 46M515 828c3 18 8 32 7 51s-8 48-12 67M483 1025c-4 15-6 21-12 37M361 1399c-2 19-5 42-7 61s-4 39-6 57s-2 35-3 52M498 974c-4 17-9 35-15 52s-13 36-21 53M355 1448c-3 16-6 35-8 50s-2 22-4 40M495 982c-4 17-9 34-15 51s-12 30-20 47M356 1452c-2 17-5 35-8 55M488 1001c-5 17-11 37-18 56M351 1457c-2 21-4 41-6 56s-4 20-6 35M484 1008c-6 16-14 35-21 54M351 1413c-2 18-1 27-2 42s-1 28-2 45s-4 37-7 54M493 800c4 19 11 50 13 69M479 1014c-5 17-17 49-23 65M346 1417c-2 17-2 26-4 41s-3 30-4 45s-5 31-6 47M481 999c-4 17-8 29-13 42s-8 21-14 34M341 1465c-3 15-5 20-7 34s-5 30-7 48M488 970c-3 14-8 37-15 56s-17 44-24 60M339 1460c-2 19-5 35-7 50s-3 21-5 37M474 989c-3 18-7 35-13 50M414 1126c-8 17-14 32-19 44M345 1313c-3 16-9 38-12 53M299 1605c-1 17-3 41-3 60M461 1022c-6 16-21 47-27 62s-7 13-13 27M325 1401c-4 18-5 28-9 47M421 1109c-6 14-14 30-20 42M348 1289c-5 18-10 43-15 61M343 1742c-3 16-7 44-9 61"/>
<path stroke="#36ad3e" d="M285 566c3-17 1-34 1-49M490 1033c-5 16-11 34-18 50M374 1408c-1 15-1 29-3 44s-2 29-4 46s-3 40-5 58s-8 29-11 46M510 946c-4 19-8 34-12 48s-7 22-12 36M471 1062c-7 16-19 40-26 58M365 1348c-3 18-2 33-4 51M345 1569c-2 16-6 32-7 48M462 1079c-7 16-17 35-22 47M361 1400c-2 14-4 32-6 48M343 1538c-2 19-6 55-7 73M363 1404c-2 14-4 31-7 48M348 1507c-3 20-10 49-12 65s-3 18-4 31M470 1057c-8 19-20 41-28 59M359 1392c-2 18-6 45-8 65M339 1548c-2 15-5 36-7 55M463 1062c-8 18-17 40-24 56M359 1347c-4 19-7 48-8 66M340 1554c-2 17-6 31-8 47M506 869c2 18 1 26-2 42s-9 40-13 57M456 1079c-6 15-5 12-12 27M354 1356c-2 17-6 44-8 61M332 1550c-2 16-4 34-5 49M454 1075c-6 13-14 27-21 43M355 1360c-2 15-4 30-6 48s-6 42-8 57M327 1547c-2 18-5 44-7 60M347 1397c-2 17-5 44-8 63M327 1547c-2 17-5 45-7 64M461 1039c-5 16-12 29-18 44M333 1398c-3 18-6 48-8 66s-2 22-4 39s-8 49-10 64s-2 5-3 22M395 1170c-5 12-4 12-11 28s-24 52-30 71s-5 27-9 44M421 1111c-7 14-19 39-26 55M339 1343c-4 18-11 40-14 58M297 1590c-1 17-1 53-2 71M401 1151c-5 13-7 19-13 35M335 1758c-4 20-4 27-5 41"/>
<path stroke="#42ae35" d="M281 566c3-12 1-16 2-30M284 572c2-15 1-40 1-54M329 497c0-16-1-41-1-61M472 1083c-6 16-17 33-23 46M374 1362c-1 16 0 31 0 46M351 1602c-2 17-3 37-4 53M486 1030c-5 14-13 34-19 49M365 1413c-2 19-3 30-4 46s-3 34-4 50s-2 28-3 43s-4 24-6 44M445 1120c-8 17-12 30-19 48M381 1296c-5 15-12 35-16 52M338 1617c-2 16-1 32-2 49M440 1126c-6 11-6 11-11 23M364 1363c-2 14-1 23-3 37M336 1611c-2 18-2 18-3 34M460 1080c-7 17-20 38-27 55M365 1370c-2 17-1 20-2 34M332 1603c-2 13-5 29-6 48M442 1116c-8 19-17 37-23 51M362 1349c-2 17-1 24-3 43M332 1603c-2 18-4 41-5 57M439 1118c-7 16-11 25-16 40M332 1601c-3 15-7 27-9 46M491 968c-4 17-7 29-12 47s-15 45-21 61M349 1448c-1 14-1 23-2 40s-6 44-9 62M444 1106c-8 16-24 49-32 68M362 1315c-4 16-5 24-8 41M327 1599c-2 14-3 24-4 39M363 1321c-5 19-6 25-8 39M320 1607c-2 17-3 25-4 40M449 1086c-6 15-10 21-15 32M352 1355c-3 17-3 24-5 42M320 1611c-2 18-3 30-4 46M443 1083c-7 14-16 31-21 42M341 1354c-3 16-5 25-8 44M296 1665c-1 19 1 37-1 52M395 1166c-8 16-12 27-18 40M348 1292c-4 17-5 33-9 51M388 1186c-7 15-20 42-26 60s-9 26-14 43M294 1656c-1 19-1 42-2 59"/>
<path stroke="#4fae2c" d="M273 561c2-14 0-23 0-37M358 561c5-13 5-32 6-45M380 567c4-13 3-29 4-42M449 1129c-7 13-9 17-16 34M382 1314c-4 18-7 33-8 48M467 1079c-7 14-12 22-19 38M372 1344c-2 16-5 50-7 69M426 1168c-7 18-17 43-23 58s-8 24-12 36s-6 20-10 34M429 1149c-5 12-13 29-20 48M387 1266c-6 20-11 36-15 52s-6 31-8 45M433 1135c-8 16-12 28-19 44M375 1302c-3 17-7 51-10 68M419 1167c-6 14-9 23-14 35M391 1240c-5 15-12 35-17 53s-9 40-12 56M423 1158c-6 15-11 34-18 51M386 1259c-6 15-10 24-14 39s-10 30-13 49M458 1076c-6 16-10 22-15 35M352 1403c-2 16-2 31-3 45M338 1550c-4 19-7 32-10 50M412 1174c-8 18-11 29-17 44M376 1265c-5 16-11 35-14 50M323 1638c-2 16-2 34-4 55M433 1118c-7 16-15 36-22 52s-12 32-18 46M381 1249c-5 18-14 54-18 72M434 1118c-6 11-10 20-17 36s-20 48-26 62M365 1294c-5 19-10 44-13 61M422 1125c-5 12-6 13-11 25M358 1268c-6 17-5 22-8 37s-6 34-9 49M308 1589c-2 17-4 62-5 79M377 1206c-5 13-9 23-14 37s-11 33-15 49M295 1661c0 17 1 20 0 35M334 1803c-1 17-1 27-2 40"/>
<path stroke="#5dae27" d="M264 537c1-13 0-28 1-45M374 567c5-12 3-10 4-27M433 1163c-6 17-19 52-25 68s-5 10-9 24s-13 41-17 59M347 1655c-2 16-1 23-4 42M448 1117c-7 17-19 46-24 60M378 1320c-4 14-4 9-6 24M348 1596c-3 19-7 52-9 71M336 1666c0 16 1 31-2 48M409 1197c-6 20-15 49-22 69M333 1645c-1 16-1 42-2 60M414 1179c-6 15-13 34-18 49s-8 28-11 40s-7 17-10 34M326 1651c-1 19 2 47 0 67M405 1202c-5 12-9 23-14 38M327 1660c-2 16-1 26-2 40M405 1209c-6 16-14 36-19 50M323 1647c-1 19-2 51-3 68M443 1111c-6 13-13 30-19 43M357 1350c-3 19-4 36-5 53M328 1600c-3 17-5 35-6 55M395 1218c-6 15-13 30-19 47M393 1216c-5 13-7 16-12 33M316 1647c0 15 1 36 0 52M391 1216c-6 15-6 15-11 27s-11 33-15 51M316 1657c-1 16-1 36-2 52M411 1150c-6 13-14 32-23 51s-23 49-30 67M303 1668c-1 16 0 8-2 20"/>
<path stroke="#6dae27" d="M286 517c0-15 0-28 0-41M364 516c1-12 0-16 1-29M424 1177c-6 15-5 16-10 29s-11 34-17 53s-14 47-19 61M424 1154c-5 13-7 20-14 37M370 1292c-5 17-10 40-13 58M295 1717c-1 16-5 26-8 41"/>
<path stroke="#7cad27" d="M273 524c0-14 0-32 0-46M283 536c0-14 0-37 0-54M285 518c1-14 0-19 0-32M384 525c1-12 1-18 0-33M339 1667c-2 20-1 29-4 45M325 1700c-1 13-1 24-4 43M410 1191c-6 16-18 43-25 60s-10 25-15 41M322 1655c-2 19-2 45-3 60M316 1699c0 16-1 27-3 42M301 1688c-1 12-3 33-5 51M295 1696c-1 14-2 34-5 53M292 1715c-1 16-2 27-4 41"/>
<path stroke="#8bac26" d="M265 492c0-17 0-37 0-56M286 476c0-14 0-27 0-40M365 487c0-13 0-34 0-51M378 540c1-16 1-53 2-70M384 492c0-14 0-37 0-56M334 1714c-2 18-10 42-13 54M331 1705c-2 19-5 35-8 50M320 1715c-1 16-1 13-3 30M319 1693c-2 20-7 51-10 68M314 1709c-1 15-3 27-5 42"/>
<path stroke="#96aa25" d="M285 486c0-14 0-33 0-50M343 1697c-2 18-10 51-13 69M326 1718c-1 20-7 39-9 52M287 1758c-2 15-6 33-7 48s-2 31-3 46"/>
<path stroke="#9fa825" d="M273 478c0-15 0-28 0-42M283 482c0-16 0-31 0-46M380 470c0-17 0-23 0-34M335 1712c-2 17-8 40-10 54M321 1743c-2 19-9 54-10 72M317 1745c-1 17-4 52-5 70M319 1715c-1 16-2 16-3 30M288 1756c-2 13-4 22-6 38s-6 38-9 58"/>
<path stroke="#a8a624" d="M313 1741c-2 15-8 30-9 48M309 1751c-3 15-8 32-9 49M296 1739c-3 19-7 40-8 59M290 1749c-2 19-7 42-10 60s-3 28-5 43"/>
<path stroke="#b1a323" d="M330 1766c-2 17-4 23-4 37s1 33 2 49M321 1768c-3 13-4 7-5 21s1 42 1 63M323 1755c-3 16-8 26-10 42s2 37 2 55M317 1770c-2 14-3 16-2 30s2 35 3 52M311 1815c-1 18 2 25 2 37M312 1815c0 18 3 25 4 37M309 1761c-2 17-5 18-6 33s0 39 0 58M304 1789c-2 19 1 42 1 63M300 1800c-2 17 0 35 0 52M288 1798c-1 19-1 36-1 54"/>
<path stroke="#b49922" d="M316 1745c-1 15-5 37-6 55"/>
<path stroke="#b58d21" d="M325 1766c-3 13-5 11-5 26s4 40 6 60M310 1800c-1 18 2 35 3 52"/>
<path stroke="#1b27a4" stroke-width="0.99" d="M575 854c-1 18-3 44-5 63s-6 35-10 51s-6 25-11 40M544 684c7 17 11 32 15 49s3 35 4 51s-1 30-1 46s-2 34-4 50s-1 29-3 44s-6 35-10 51s-10 33-16 49s-11 28-18 45M551 879c-3 17-7 55-11 74s-6 23-9 34"/>
<path stroke="#1d2db0" stroke-width="1.02" d="M584 878c0 17 1 31-1 49s-3 35-9 57M548 669c8 13 11 21 16 37s11 42 13 59s2 24 1 39s-1 31-3 50M549 1008c-5 15-12 32-19 50s-16 38-24 59M516 635c9 16 21 33 28 49M511 1069c-7 17-16 39-23 57s-14 38-19 50s-3 10-8 25s-18 51-24 71s-7 31-10 47s-6 32-11 50s-13 44-17 58s-3 10-7 25M544 689c4 13 8 24 11 41s2 47 2 67s-3 37-4 51s0 13-2 31M531 987c-4 12-5 17-11 32s-15 42-21 59s-11 30-17 44"/>
<path stroke="#1f35bc" stroke-width="1.05" d="M606 818c1 18 0 21 0 35s1 31 0 51s0 44-3 65s-8 41-15 60s-19 38-27 53M592 807c0 17-1 25-2 45s-1 53-3 75s-5 43-8 58s-4 19-9 33s-14 37-21 52M538 640c11 14 17 26 25 43s14 39 18 57s4 41 5 55s0 15 0 29s-1 37-2 54M574 984c-7 22-22 57-29 74s-7 15-14 28s-19 33-27 50M517 626c13 13 23 29 31 43M506 1117c-8 21-17 46-24 65s-12 34-16 46s-5 12-9 26s-13 40-18 58s-9 36-14 53s-9 33-13 49s-8 27-12 45M572 827c-1 16-2 18-3 35s-4 47-7 67s-8 37-13 52s-6 22-12 38M392 1452c-3 15-9 45-13 64M526 652c6 12 13 24 18 37M482 1122c-5 15-9 24-15 43s-18 50-24 71s-11 39-14 52s-2 12-5 27s-8 42-12 59s-8 25-13 43s-12 46-15 62"/>
<path stroke="#2143c5" stroke-width="1.08" d="M570 650c7 16 17 33 23 48s9 26 11 46s2 56 2 74M561 1082c-8 15-15 24-22 37s-16 24-23 39M555 651c11 16 21 41 27 58s8 25 9 41s2 40 1 57M549 1070c-7 16-13 26-20 40s-16 28-24 46M495 600c14 13 31 26 43 40M504 1136c-7 16-13 31-19 48s-13 37-19 52s-8 23-13 40s-10 49-13 66s-4 20-8 37s-11 48-16 67s-9 36-12 49M471 592c15 11 33 21 46 34M400 1459c-4 19-9 45-13 66M543 670c8 14 14 28 19 44s8 34 10 52s0 45 0 61M537 1019c-6 16-15 40-22 58s-13 34-18 47s-4 9-10 26M379 1516c-3 18-5 28-9 48M384 1479c-4 16-4 18-7 33M549 722c4 15 3 17 4 28s1 25 1 40s-2 35-3 53s-2 36-5 56s-6 44-10 63s-12 36-16 49s-3 11-8 23s-13 36-20 53"/>
<path stroke="#2351cf" stroke-width="1.11" d="M345 598c17-5 34-8 51-8s34 7 51 10M516 1158c-6 14-9 31-15 49s-16 48-21 63s-4 16-7 27s-6 23-11 43s-15 59-20 78s-7 23-11 36s-8 23-13 38M521 612c11 13 24 23 34 39M505 1156c-7 19-15 44-22 64s-16 42-21 55s-3 12-7 25s-8 35-12 56s-12 50-16 67s-5 16-9 33s-14 53-19 70M404 1495c-4 12-3 10-7 26M387 1525c-4 21-8 43-12 59M517 631c9 13 19 25 26 39M487 1150c-5 16-18 56-24 72s-4 10-9 26s-15 51-20 67s-4 15-7 29s-10 36-15 54s-11 34-16 53s-9 45-12 63M377 1512c-3 15-8 39-11 57M501 626c8 11 17 18 25 34s18 47 23 62M492 1087c-6 18-11 32-18 51s-16 45-23 65s-14 39-18 53s-5 20-8 33s-4 26-9 46s-13 54-19 75s-10 35-14 51"/>
<path stroke="#2462d4" stroke-width="1.14" d="M427 590c20 5 48 21 62 31s16 12 23 27M296 619c17-11 32-16 49-21M431 601c17 4 34 11 49 23M400 660c5-3 10-7 17-8M418 1492c-4 14-8 28-14 49M399 1526c-5 17-5 20-9 35M397 1521c-4 15-13 49-18 66M375 1584c-3 17-4 24-8 38M384 1514c-3 18-6 32-8 45M370 1564c-4 19-10 52-13 68M366 1569c-4 19-7 35-10 53M383 1461c-4 16-6 29-8 43"/>
<path stroke="#2576d7" stroke-width="1.18" d="M342 597c15-6 14-5 28-7s38-5 57 0M246 663c12-13 34-33 50-44M347 602c14-4 32-9 50-8s36 8 54 11M355 603c13-5 10-4 23-5s36-2 53 3M480 624c14 13 24 34 37 50M431 609c18 2 21 5 33 14M400 632c13 0 19 2 30 6s27 14 36 22s13 15 20 23M402 649c11 2 33 8 44 13M413 655c12 3 24 9 33 14M370 682c5-5 10-11 15-14s9-5 15-8M417 652c7-2 18-5 26-3M404 1541c-6 20-15 52-20 71M379 1587c-4 18-4 19-9 37M375 1504c-3 15-5 27-8 44"/>
<path stroke="#268bda" d="M181 732c4-18 9-28 16-44M282 626c15-9 45-23 60-29M512 648c7 15 12 41 19 62M310 615c13-7 22-10 37-13M300 624c16-9 42-17 55-21M406 600c16-1 23 0 39 8s41 28 52 40M355 612c19-3 57-5 76-3M464 623c12 9 26 26 38 39M418 609c12 1 20 1 33 11M434 630c13 3 18 4 29 14M312 661c10-8 22-16 37-21s37-8 51-8M347 658c12-5 28-8 37-9s8-3 18 0M446 662c11 5 17 10 23 19M373 656c12-2 28-3 40-1M446 669c8 5 13 12 19 18M443 649c7 2 16 9 17 15M390 1561c-4 14-10 38-14 54M367 1622c-3 13-7 29-10 45M376 1559c-2 14-3 19-6 36M357 1632c-3 16-2 12-5 27M367 1548c-3 17-7 41-10 60"/>
<path stroke="#25a0d7" d="M166 915c1-15 1-29 2-44M172 776c2-15 1-22 5-37s12-38 19-54s14-30 22-44M169 915c0-12 0-23 0-37s0-32 0-47s0-23 2-40s6-42 10-59M197 688c7-16 19-38 26-52M197 733c5-17 13-36 19-50M197 915c1-12 1-23 1-37s0-34 1-50s2-35 4-50s4-27 7-40s6-22 11-37s15-38 23-54M252 651c11-12 15-16 30-25M201 780c2-19 6-39 10-52s6-18 12-29s11-23 23-36M265 647c13-12 31-24 45-32M224 708c8-16 21-36 34-50s26-24 42-34M344 610c15-3 45-10 62-10M497 648c12 13 12 24 18 35M318 625c14-8 18-11 37-13M333 622c14-7 27-10 41-13s31-2 44 0M451 620c14 11 40 36 50 50M344 632c11-3 27-8 42-8s35 2 48 6M463 644c11 11 30 35 37 48M402 628c15 2 28 9 42 13M265 725c6-13 15-28 23-39s14-17 24-25M408 639c11 2 23 4 34 11s24 21 36 31M381 644c13-2 30 0 42 3s21 9 31 14M312 684c11-11 23-20 35-26M469 681c6 9 11 22 16 34M314 695c7-8 17-19 27-25s20-11 32-14M390 670c4-2 13-1 18-1s7 1 12 1M408 664c6-1 12 3 17 4M397 660c3-4 13-7 19-10M460 664c1 6-7 14-10 22M408 654c7 2 15 3 20 4s10 3 15 5M390 684c-1-5-3-11-1-16s11-12 16-18M396 670c9 14 21 31 27 42M384 1612c-6 20-9 33-13 45M356 1622c-3 17-7 35-10 52"/>
<path stroke="#25b6d2" d="M168 871c0-15 1-31 2-47s1-34 2-48M223 636c7-14 12-19 18-31M185 915c0-17 0-38 0-51s0-15 0-27s1-33 3-50s5-36 9-54M216 683c5-14 10-24 15-36M192 915c0-14 0-27 1-43s1-43 1-56s0-10 2-24s8-47 11-62s2-10 7-24s16-40 23-55M202 915c0-12 0-24 0-38s0-28 0-42s0-25 2-42s6-42 9-57s8-23 13-37s12-31 19-46M260 915c0-15 0-27 0-44s0-42 1-56s-1-14 1-28s4-36 8-54s11-40 16-54s6-14 13-25M272 915c0-16 0-32 0-48s0-30 0-45s1-24 3-41s8-46 11-61s6-22 11-34s14-29 22-42M219 696c9-14 23-33 33-45M194 914c0-14 1-30 2-42s0-17 1-33s1-41 4-59M211 733c5-13 11-27 20-42s21-31 34-44M204 780c2-13 2-18 5-30s7-27 15-42M314 623c12-8 14-9 30-13M243 699c8-14 16-26 29-38s32-27 46-36M290 650c15-13 29-21 43-28M501 670c10 15 7 25 11 38M400 617c14-1 16-1 29 4s39 19 51 29s15 21 22 31M336 629c17-5 49-10 65-11s16 0 27 5s32 12 44 22s18 23 27 34M277 680c10-13 29-28 40-36s16-8 27-12M332 641c11-8 10-6 22-9s33-5 48-4M357 635c15-5 34-6 46-6s15 1 26 6s30 14 41 24s15 24 23 36M244 915c0-11 1-19 0-33s-1-36-1-49s0-19 2-31s3-28 6-40s8-25 14-37M329 655c12-6 36-14 50-17s19-1 29 1M343 653c9-3 24-8 38-9M344 651c13-6 30-8 41-9s14-1 24 1s24 6 35 13s20 17 30 26M265 795c2-12 5-26 8-37s5-20 12-32s17-31 27-42M274 779c2-12 1-6 5-16s14-33 20-44s8-15 15-24M368 668c11-3 24-4 36-2s24 7 33 11s14 8 20 14M398 670c10 0 15 1 22 3s12 3 19 7s16 7 23 16M409 669c9 0 11 1 19 5M382 683c0-3 4-10 8-13M420 670c5 0 13-3 17-2M392 674c5-4 11-9 16-10M425 668c5 1 6 2 11 3M429 643c6 3 16 6 19 10M394 674c0-4-1-10 3-14M443 663c5 2 11 4 15 8M396 694c-2-4-5-6-6-10M408 668c8 9 19 16 25 26M395 658c10 12 24 22 31 36M376 1615c-5 16-7 25-12 42M370 1624c-5 18-15 55-19 74M370 1595c-4 18-11 51-15 71M357 1608c-3 18-6 35-9 51"/>
<path stroke="#24cacc" d="M218 641c8-15 19-33 25-44M231 647c6-11 10-17 16-32M237 651c7-16 12-26 18-38M244 647c7-17 15-32 21-44M245 653c6-14 13-26 18-41M213 915c0-15 0-32 1-46s0-24 0-38s1-29 3-45s5-37 9-52s10-31 14-42s4-11 9-24M299 654c7-12 19-29 29-44M319 644c9-14 20-24 29-38M193 800c1-17 3-43 8-60s9-29 18-44M198 914c1-16 1-34 1-49s1-30 1-45s2-33 4-47s3-26 7-40M201 914c0-10 0-16 0-31s0-38 1-55s1-35 2-48M243 686c9-14 13-19 25-29s33-26 46-34M211 915c0-18-1-38-1-53s1-26 1-38s0-18 2-32s5-35 10-51s12-29 20-42M218 781c3-16 7-33 12-46s8-21 18-35s28-37 42-50M317 637c12-8 16-9 30-13s40-7 53-7M298 651c10-7 21-16 38-22M235 798c2-16 6-42 9-55s3-12 8-23s14-27 25-40M500 692c7 13 5 20 7 31M288 680c12-13 33-31 44-39M293 676c6-8 9-12 19-19s29-18 45-22M281 711c7-13 16-25 24-34s11-16 24-22M294 694c8-9 26-26 34-33s6-5 15-8M307 677c10-9 24-20 37-26M262 915c0-13-1-25 0-40s0-37 0-50s1-19 3-30M272 916c-1-17-2-36-2-50s-2-16-1-31s3-44 5-56M339 681c7-4 19-11 29-13M457 691c5 7 8 15 13 23M334 687c7-5 14-10 25-12s29-5 39-5M373 670c9-2 27-2 36-1M428 674c8 4 20 12 27 18M394 692c-3-3-11-5-12-9M437 668c4 2 9 8 8 11M436 671c4 1 14 1 17 4M448 653c2 5-3 13-4 18M394 685c0-5-1-6 0-11M458 671c4 4 9 11 7 17M403 706c-5-4-5-8-7-12M439 658c9 10 18 14 26 30M433 694c7 11 9 21 14 36M395 658c11 15 26 33 33 45M423 712c5 11 3 9 5 23M357 1667c-4 15-8 30-12 49M352 1659c-3 15-9 44-12 63"/>
<path stroke="#25cebb" d="M198 915c-1-18-1-41-1-55s0-16 0-30s2-39 3-54s2-18 6-31s10-31 16-47s14-35 21-50M249 668c6-14 18-38 24-56M262 915c0-16 0-34 0-48s-1-20-1-34s1-32 3-48s3-28 8-46s12-44 19-62s15-32 24-45M190 914c1-16 1-37 1-49s0-11 0-21s0-27 2-44M208 841c0-13-1-37 1-54s1-29 7-46s19-41 27-55M218 915c-1-18-1-39-2-54s-1-21-1-35s1-30 3-45M258 697c6-12 11-19 21-29s27-24 38-31M236 752c3-12 7-26 14-40s19-31 27-41s11-13 21-20M231 915c1-15 1-31 2-44s0-21 0-33s1-24 2-40M241 915c-1-18-3-42-3-55s-2-9-1-21s0-34 3-50s10-36 14-48s4-11 10-22s13-26 24-39M253 754c5-16 15-39 22-52s12-19 18-26M252 915c-1-13-1-25-2-39s-1-34-1-48s1-25 3-37s5-24 10-37s12-30 19-43M255 915c0-13 0-25 0-38s0-28 0-41s0-21 2-36s5-35 9-49s9-26 14-35s6-13 14-22M262 783c2-14 4-24 8-36s9-27 15-38s12-22 22-32M310 721c5-11 12-21 17-27s5-8 12-13M303 731c5-11 12-22 17-29s8-11 14-15M462 696c6 9 11 25 16 38M326 702c8-9 20-19 28-25s10-6 19-7M455 692c6 7 9 16 13 23M430 687c0 4 1 10-2 13M400 697c-2-2-3-3-6-5M445 679c-1 4-10 9-14 12M453 675c3 3 4 10 2 14M406 705c-6 1-13-2-19-3M444 671c-2 5-4 7-6 12M393 699c-3-4 1-10 1-14M465 688c-1 7-8 16-15 20s-20 7-28 7s-15-6-19-9M449 647c11 16 24 32 33 48M446 693c4 14 9 24 12 41M432 696c4 16 10 32 13 48M428 703c7 12 6 15 9 27M426 694c8 15 12 39 15 51M428 735c3 13 6 42 10 58M371 1657c-4 13-5 13-9 29M346 1674c-3 17-7 34-10 51"/>
<path stroke="#26d2aa" d="M243 597c6-10 8-9 11-20M241 605c5-12 14-27 17-40M315 632c9-14 21-27 28-35M266 915c0-15 0-28 0-45s1-38 1-53s1-24 3-37s3-26 6-40s5-28 11-44s17-38 25-51s9-13 18-27M277 915c0-13 0-24 0-40s0-39 0-56s2-29 4-42s2-22 6-37s11-40 16-54s9-20 15-30M206 915c1-16 1-35 2-47s-1-13 0-27M223 915c0-13 0-26 0-39s1-25 1-37s1-21 3-38s7-46 12-63s12-29 19-41M225 915c0-10 0-15 1-30s1-45 2-62s1-28 3-40s2-19 5-31M239 915c0-14 0-25 0-41s2-40 2-54s2-16 3-27s3-24 9-39M254 915c0-12 0-22 1-37s1-34 2-49s3-32 5-46M282 916c0-14 1-28 1-40s0-24 1-36s1-25 3-38s5-27 9-40s9-30 14-41M283 916c1-13 2-25 3-38s0-26 1-40s2-33 3-44s1-16 3-26s6-26 10-37M289 785c2-12 4-15 7-25s8-21 13-31s10-19 17-27M428 700c-3 3-12 6-17 6s-8-6-11-9M431 691c-5 2-8 3-12 5M455 689c-3 4-14 7-19 9s-10 0-15 1s-10 6-15 6M438 683c-2 4-1 11-6 15s-15 10-22 11s-14-6-17-10M458 653c11 20 27 43 35 61M465 688c9 15 19 45 24 63M443 664c9 15 21 30 27 47M430 665c9 13 20 24 26 38M438 688c8 15 17 32 22 46M437 691c3 13 5 23 9 38M431 688c8 17 18 35 23 52M420 677c6 14 14 29 18 41M441 745c3 12 0 7 2 20M364 1657c-4 17-10 39-15 59M355 1666c-4 20-8 34-11 49M348 1659c-3 16-5 28-8 44"/>
<path stroke="#27d59a" d="M247 615c7-14 18-42 21-56M255 613c6-12 13-19 16-35M243 648c7-16 15-29 21-43M265 603c5-12 9-19 11-30M263 612c6-15 14-32 17-49M328 610c11-15 27-29 33-45M318 656c6-10 12-18 20-31M288 916c-1-16-1-33-2-47s-2-23-1-37s2-35 4-47M482 695c8 16 14 32 19 49M477 681c6 16 13 27 18 47M470 711c7 16 10 35 14 50M456 703c6 15 8 33 11 48M460 734c5 14 3 22 7 37M458 734c2 18 2 48 5 65M447 730c5 15 11 36 16 54M438 718c5 13 7 18 9 33M445 744c3 16 1 30 5 47M437 730c3 11 5 29 8 44M443 765c2 12 8 36 12 53M438 793c4 15 10 21 14 34M351 1698c-5 19-6 26-9 39"/>
<path stroke="#28d589" d="M343 597c6-9 8-9 12-19M348 606c9-14 20-35 25-45M493 714c8 17 8 27 12 44M501 744c4 18 6 38 9 57M489 751c6 18 7 30 9 44M463 799c2 17 6 24 9 37s9 23 11 39M446 729c4 16 9 36 14 54M454 740c5 16 6 35 9 48M463 784c5 19 11 41 15 57M447 751c3 14 4 37 8 54M450 791c3 18 11 45 14 58s4 8 7 21M445 774c4 15 8 27 13 45M455 818c4 18 10 37 14 52M452 827c4 13 8 27 11 43s9 38 10 53M362 1686c-4 16-12 50-16 67M340 1722c-4 19-6 33-9 49"/>
<path stroke="#29d679" d="M273 612c7-18 13-38 16-53M338 625c9-12 25-29 32-43M495 728c5 19 11 49 13 68M498 795c2 14 3 20 4 40s3 59 3 77M484 761c4 16 7 25 9 43M467 751c3 16 3 28 6 45M467 771c4 15 11 34 15 54M483 875c3 17 5 44 4 61M460 783c5 18 12 40 16 54M463 788c3 13 5 16 9 30M478 841c3 16 4 25 5 39s2 23 1 42s-8 52-11 69M471 870c2 14 8 43 9 60M458 819c5 17 12 40 16 59M469 870c3 16 6 27 7 42s1 31 0 47M473 923c1 16 0 26-2 43s-10 45-15 62M345 1716c-4 19-8 42-12 64"/>
<path stroke="#2bd668" d="M254 577c2-11 2-32 3-46M264 605c6-15 11-31 13-44M276 573c2-11 2-22 2-36M330 618c9-14 31-40 38-56M505 758c4 17 7 36 10 55M510 801c3 18 10 40 11 57s1 24-1 40M508 796c3 18 1 30 2 43M505 912c-1 17-3 13-5 26s-4 31-9 51M493 804c3 19 4 51 5 69M473 796c2 18 7 41 9 58M482 825c5 20 9 51 10 66s3 10 1 26M487 936c0 18-1 29-4 45s-6 32-13 50M476 837c4 14 6 12 9 28M472 818c4 13 10 36 13 52s3 26 2 44M473 991c-3 18-4 23-9 37M455 805c5 18 14 35 18 49M480 930c1 17 0 27-3 44M474 878c3 19 4 42 4 55M476 959c-2 16-4 33-9 51M456 1028c-5 17-9 27-16 41M313 1456c-3 15-8 28-10 45s-4 44-5 60s-2 22-3 36M344 1715c-3 15-6 25-8 40M340 1703c-2 15-6 34-9 50"/>
<path stroke="#33d75a" d="M258 565c3-13 1-24 1-39M268 559c4-13 1-14 1-25M271 578c4-15 3-41 4-57M515 813c3 20 7 44 7 64s-5 41-7 54M520 898c-2 17-9 41-13 57s-4 24-9 41M510 839c2 14 7 21 5 39s-9 50-13 70M491 989c-4 19-13 48-20 67M350 1453c-2 18-6 44-8 64M498 873c1 18 1 27 0 41s-4 30-7 46M482 854c3 16 5 26 5 41s2 27 0 44M493 917c-2 16-10 55-13 70s-1 10-6 24M470 1031c-6 18-19 43-26 58M340 1412c-3 18-6 32-9 49s-9 38-11 53s-4 22-5 36s-2 30-3 47M485 865c2 17 5 52 4 72s-6 37-9 50M487 914c-1 18-5 48-8 64s-2 13-7 28M464 1028c-4 14-12 32-18 47M333 1405c-1 15-2 31-3 47s-3 32-6 49s-6 36-8 53M473 854c4 15 6 24 8 40s2 37 1 54M477 974c-3 17-11 45-15 60s-6 15-12 30M330 1415c-3 19-5 30-7 42s-3 18-6 32s-7 35-9 53s-4 34-5 51M478 933c1 14 0 14-2 28s-7 40-12 57M467 1010c-5 18-17 43-23 58M321 1445c-2 17-6 38-8 53s-3 19-5 37M440 1069c-6 15-14 31-22 48M333 1351c-4 20-9 42-12 60s-5 30-8 45M295 1597c-1 13-2 25-2 43"/>
<path stroke="#43d84e" d="M280 563c2-16 0-35 0-50M355 578c4-9 10-21 12-39M373 561c5-11 2-6 3-20M515 931c-3 13-2 8-7 24s-12 54-18 73M498 996c-5 16-14 45-19 59M365 1468c-2 17-6 31-8 46s-3 29-6 45M502 948c-3 19-5 32-8 46s-5 22-9 36M471 1056c-7 19-14 32-21 47M361 1379c-2 14-2 14-3 27s-5 28-8 47M342 1517c-2 20-3 38-5 55s-3 27-4 44M491 960c-3 15-7 29-11 45s-8 30-15 49M342 1457c-3 17-7 37-9 50s-2 15-3 32M487 939c-2 18-7 45-10 62s-6 24-10 38M474 1011c-4 14-15 42-23 61M343 1410c-3 16-4 31-6 45s-6 22-9 39s-6 46-8 64M444 1089c-7 15-10 18-17 33M351 1351c-3 20-7 42-11 61M480 987c-2 13-1 15-7 29s-19 42-27 59M328 1461c-3 18-5 27-8 43s-5 32-6 51M472 1006c-5 16-18 49-24 65M339 1396c-4 21-10 50-13 68s-4 23-6 39s-6 43-8 58s0 13-1 26M446 1075c-5 15-9 23-16 40M340 1362c-2 15-5 28-7 43M316 1554c-2 17-4 32-6 48M482 948c-1 17-6 36-9 49s-4 15-9 29M450 1064c-7 14-21 42-28 57M343 1347c-4 20-10 50-13 68M303 1593c-2 18-2 33-3 53M464 1018c-5 17-11 30-18 46M327 1410c-3 16-1 12-3 25s-6 36-9 55s-6 38-8 58s-5 44-7 62M444 1068c-6 15-8 19-14 32M337 1351c-4 19-7 32-10 48s-4 30-6 46M308 1535c-2 17-4 50-6 68M346 1287c-4 18-8 43-13 64"/>
<path stroke="#53d942" d="M257 531c0-14 0-23 0-39M278 537c1-13 0-26 0-43M289 559c2-14 0-20 0-34M361 565c6-16 5-33 6-49M490 1028c-5 19-7 23-14 39M369 1439c-2 14-4 31-6 52s-6 52-9 72M479 1055c-5 15-4 13-11 28M369 1412c-1 18-2 39-4 56M351 1559c-3 16-8 35-10 53M485 1030c-4 13-12 32-18 46M363 1409c-2 18-5 28-6 43s-1 34-2 50s-3 32-5 50s-6 36-8 55M450 1103c-7 15-16 31-22 43M369 1324c-4 20-6 41-8 55M465 1054c-7 19-20 46-27 64M348 1404c-3 17-4 36-6 53M330 1539c-1 17-2 53-3 70M467 1039c-5 14-10 30-18 47M338 1409c-2 15-4 38-6 56s-4 37-5 51s0 20-1 37s-5 42-6 61M451 1072c-8 18-17 35-24 51M351 1361c-3 17-6 33-8 49M320 1558c-3 18-6 29-8 45M427 1122c-8 14-20 41-27 55M312 1597c0 16 0 35 0 53M446 1075c-7 18-14 32-20 45M339 1401c-4 19-8 43-11 60M314 1555c-1 18-1 47-1 62M448 1071c-6 15-6 12-13 28M311 1587c-1 13-3 35-3 52M349 1311c-4 17-6 35-9 51M310 1602c-2 17-6 36-8 52M464 1026c-5 13-13 32-21 50M335 1376c-3 17-4 24-6 36s-4 19-6 36s-5 47-7 64s-3 21-4 38s-4 47-6 66M422 1121c-8 14-9 17-15 31M446 1064c-7 17-16 37-23 53M342 1337c-4 17-12 57-15 73M430 1100c-6 13-13 30-21 47M351 1288c-5 17-10 45-14 63M302 1603c-1 18-2 23-3 39M418 1117c-8 17-19 42-25 54s-4 10-10 21s-16 31-23 47s-9 29-14 48M346 1753c-3 18-4 20-5 36M336 1755c-2 15-4 33-7 50"/>
<path stroke="#63da37" d="M259 526c0-15 0-34 0-49M269 534c1-11 1-24 1-40M277 561c2-13 0-18 0-32M370 582c7-14 8-26 10-41M476 1067c-7 16-19 41-26 56M370 1408c0 16 0 17-1 31M354 1563c-3 19-5 29-7 44M468 1083c-7 15-24 46-31 61M373 1358c-2 16-3 35-4 54M341 1612c-2 18-2 41-2 56M467 1076c-6 15-10 24-17 40M367 1349c-3 18-2 43-4 60M428 1146c-6 12-6 14-12 29M333 1616c-2 16-2 40-3 55M357 1356c-4 17-7 31-9 48M327 1609c-1 18-2 21-3 35M449 1086c-7 17-19 40-25 55M343 1371c-2 13-3 22-5 38M427 1123c-8 17-15 34-21 47M359 1310c-3 17-5 34-8 51M312 1603c-1 16-1 32-1 50M400 1177c-6 15-7 15-12 30s-16 44-21 59s-3 15-6 29s-6 37-10 56M351 1348c-3 17-8 34-12 53M313 1617c-1 15-2 14-2 27M435 1099c-7 16-22 50-30 68M350 1337c-4 18-7 38-11 59M430 1115c-7 17-19 45-27 62s-14 27-20 41s-12 28-18 43s-12 33-16 50M302 1654c-1 17 0 33-1 50M443 1076c-7 17-19 41-26 56M407 1152c-7 14-17 35-25 54s-19 46-24 61s-4 15-6 28s-5 32-9 52M423 1117c-7 16-13 28-19 41M347 1305c-4 16-2 14-5 32M300 1610c-1 18-1 28-1 45M409 1147c-8 17-19 39-26 56s-14 28-19 42s-9 25-13 43M299 1642c-1 15-3 39-4 54M293 1640c-1 18 0 50-1 66"/>
<path stroke="#75da31" d="M275 521c1-17 0-26 0-40M280 513c1-14 1-24 1-37M368 562c7-17 3-28 4-43M376 541c0-14 1-45 1-62M450 1123c-7 15-11 21-17 35M373 1345c-3 20-2 48-3 63M347 1607c-1 15-3 32-4 46M437 1144c-8 15-6 15-12 29M393 1266c-4 14-12 34-15 49s-4 27-5 43M450 1116c-7 17-19 43-25 60M377 1306c-4 14-8 26-10 43M342 1607c-1 19-1 45-2 59M416 1175c-6 15-19 48-24 62s-3 10-7 25s-12 43-16 62M438 1118c-8 19-13 30-19 46M369 1304c-4 16-9 36-12 52M424 1141c-7 15-9 21-15 34M353 1328c-4 16-7 30-10 43M320 1614c-2 20-2 40-3 56M406 1170c-6 13-8 20-14 34M373 1257c-5 18-10 35-14 53M312 1650c0 18 1 40 0 55M426 1120c-6 14-10 20-17 36s-18 47-23 63M359 1303c-4 17-4 29-8 45M405 1167c-7 18-10 24-16 38M372 1254c-5 14-7 21-11 35s-7 30-11 48M308 1639c-1 17 1 29 0 48M417 1132c-7 14-9 21-14 33M351 1309c-4 17-12 49-16 67M306 1616c-1 19-2 31-3 47M300 1646c0 20 1 48 0 66M404 1158c-6 13-10 23-17 37s-13 27-20 45s-16 49-20 65M341 1789c-2 16-2 40-4 60"/>
<path stroke="#88d931" d="M259 477c-1-15-1-27-1-41M289 525c0-13 0-31 0-46M367 516c1-16 0-34 0-47M433 1158c-6 14-13 32-19 48M385 1291c-4 16-10 35-12 54M425 1173c-5 15-17 42-22 57s-5 22-10 36M339 1668c-1 15-1 19-3 35M425 1176c-7 16-11 23-16 37s-10 33-15 48s-12 30-17 45M330 1671c-1 14-2 20-3 34M419 1164c-7 17-13 37-19 53s-14 31-19 45s-7 26-12 42M324 1644c0 14 3 29 1 49M409 1175c-5 13-11 26-18 43s-18 42-25 60s-9 35-13 50M392 1204c-5 15-13 36-19 53M311 1653c-1 19-3 49-4 64M386 1219c-6 15-5 14-10 29s-13 38-17 55M311 1644c0 13 2 32 1 50M389 1205c-5 15-13 35-17 49M403 1165c-5 13-11 24-18 42s-19 48-25 65s-5 19-9 37M299 1655c-1 16-1 37-2 53M292 1706c0 16-1 14-3 29"/>
<path stroke="#9bd830" d="M257 492c0-16 0-37 1-56M270 494c0-16-1-39-1-58M275 481c0-14 0-30 0-45M277 529c0-14 0-35 0-50M278 494c1-17 1-39 1-58M367 539c2-18 2-52 2-70M414 1206c-6 16-12 33-17 48s-8 22-12 37M343 1653c-1 13-2 22-3 37M340 1666c-1 15-1 12-3 29M317 1670c-1 16-1 26-3 40M312 1705c0 15 0 18-3 34M303 1663c-1 16-3 37-4 49M295 1696c-1 16 0 19-2 38"/>
<path stroke="#aed730" d="M281 476c0-13 0-27 0-40M367 469c0-13 0-22 0-33M372 519c1-14 0-29 0-43M377 479c0-18 0-29 0-43M380 541c2-15 1-32 1-50M327 1705c-2 14-5 33-8 48M307 1717c0 14 1 8-1 24M301 1704c-1 18-3 37-5 55M300 1712c-1 19-2 26-4 44"/>
<path stroke="#bcd52f" d="M289 479c0-15 0-29 0-43M369 469c0-17 0-22 0-33M340 1690c-1 15-2 36-5 54M336 1703c-1 15-4 42-7 59M312 1694c-1 19-5 45-8 61M308 1687c-1 20-5 52-7 69M299 1712c-1 13-1 14-2 27M297 1708c-1 17-2 31-5 48M289 1735c-3 14-7 37-10 57"/>
<path stroke="#c7d22e" d="M277 479c0-16 0-29 0-43M372 476c0-14 0-27 0-40M381 491c0-17 0-37 0-55M337 1695c-3 17-9 53-12 73M325 1693c-2 20-8 56-11 72M314 1710c-2 15-7 33-10 48M293 1734c-3 20-9 60-11 79"/>
<path stroke="#d2cf2d" d="M306 1741c-2 15-8 51-9 69M309 1739c-2 15-9 40-12 59M296 1759c-1 18-4 39-5 55M296 1756c-2 17-7 44-9 60M282 1813c-2 20-2 26-3 39M279 1792c-3 19-5 40-7 60"/>
<path stroke="#ddcc2c" d="M319 1753c-3 14-8 23-9 39s2 40 3 60M297 1798c-3 19-4 36-6 54M291 1814c-1 15 1 25 2 38M297 1739c-2 12-7 30-8 49M287 1816c-2 16-2 24-3 36M292 1756c-2 17-6 36-8 52s-2 29-3 44"/>
<path stroke="#e1c02b" d="M335 1744c-3 17-12 35-13 53M329 1762c-2 16-6 26-7 41s4 33 6 49M325 1768c-3 20-7 31-8 45s1 26 1 39M314 1765c-2 16-5 8-6 22s-1 43-1 65M304 1758c-3 15-6 27-8 43s-2 34-3 51M297 1810c-1 19 1 28 1 42M304 1755c-3 16-6 20-8 36s-3 40-5 61M301 1756c-2 17-4 19-6 35s-2 41-4 61"/>
<path stroke="#e2b029" d="M322 1797c-2 18 2 37 4 55M289 1788c-2 18-2 42-2 64"/>
</g>
<clipPath id="cp1r"><rect x="652" y="431" width="505" height="728"/></clipPath>
<g class="sl" clip-path="url(#cp1r)" stroke-width="2.0">
<path stroke="#173587" stroke-width="1.86" d="M1054 657c9 10 19 23 29 36s21 31 29 44s11 19 19 32s18 32 28 47M976 583c29 17 66 43 91 72s42 67 53 101M1014 621c32 21 47 52 61 76M749 777c10-5 24-6 35-7s20 0 29 2"/>
<path stroke="#18408b" stroke-width="1.91" d="M974 604c17 8 41 23 55 32s16 12 25 21M489 642c19-9 51-28 76-38s53-15 75-21M890 556c34 5 56 11 86 27M1120 756c11 34 9 76 12 102M455 668c23-10 48-22 68-30M624 601c25-10 67-30 99-36s65-4 92-3s39-2 72 8s96 30 127 51M1075 697c13 23 14 37 22 64M724 800c3-8 15-18 25-23M813 772c10 1 19 3 29 5M936 810c-2 10 0 25-7 31M801 816c-1-11 14-22 22-33"/>
<path stroke="#184d8c" stroke-width="1.96" d="M928 586c14 5 29 10 46 18M452 663c13-7 19-11 37-21M640 583c21-5 32-8 54-12s45-12 78-14s84-5 118-1M523 638c20-8 37-11 54-17s23-11 47-20M1097 761c9 28 20 71 29 100s23 53 25 73M791 612c26-2 66-7 98-1s75 28 97 41s17 18 30 38s39 52 50 82M730 826c-6-7-9-18-6-26M929 841c-7 7-23 7-33 9M829 848c-11-6-27-21-28-32M878 923c-9 8-18 16-25 25s-20 22-17 29s20 13 31 13"/>
<path stroke="#195a8e" d="M891 576c16 3 23 5 37 10M1132 858c4 26 9 36 10 54M1151 934c3 21-9 38-12 52M598 645c21-12 29-13 46-19s37-14 59-20s46-11 73-14s55-10 89 1s92 47 117 66s19 22 34 44s44 62 57 84M478 715c23-9 46-18 68-27s47-19 64-25M647 652c20-6 58-22 82-29s35-9 62-11M1066 772c11 30 13 74 16 98M951 653c23 14 51 41 68 65M762 838c-10-2-25-6-32-12M727 753c6-11 27-25 43-28s40 5 54 9s18 12 29 17M759 763c13-6 26-16 44-19M744 752c19-5 33-6 52-8M896 850c-11 1-17 1-28 0s-28 4-39-2M905 900c-9 8-18 15-27 23M867 990c10 0 22-8 32-13"/>
<path stroke="#18688c" d="M1142 912c2 18-2 31-2 53M480 720c14-9 21-15 41-27s57-37 77-48M1073 787c13 23 17 29 21 53M610 663c17-6 18-4 37-11M1082 870c2 24-3 27 0 47M725 638c24-4 60-5 86-6s49-2 73 1s45 6 67 20M1019 718c16 24 23 58 31 82M807 791c11 0 23 0 31 3s11 9 19 13s21 8 29 13s17 8 23 17M777 821c14-6 23-7 34-8s22 1 33 2M795 834c-11 1-22 5-33 4M735 788c-2-12-14-25-8-35M853 751c12 5 29 6 39 14M705 797c2-10 22-21 33-32M729 782c10-7 18-13 30-19M803 744c17-4 45-7 62-2s36 20 40 32M684 771c16-10 42-15 60-19M796 744c19-2 42-3 63-5M899 977c11-5 21-11 31-17"/>
<path stroke="#187689" d="M834 570c16 1 41 4 57 6M1094 840c5 23 5 64 6 87M903 623c29 5 34 9 55 20s53 22 74 48s46 84 55 108M487 734c17-7 29-10 49-20s53-26 75-37s35-17 54-23s36-13 60-16M1050 800c8 23 8 36 15 58M875 644c25 7 65 24 85 38M818 692c22-5 35-6 52-2s36 14 51 23s21 15 36 31s47 42 57 64M859 728c17 1 28 2 43 11s39 30 51 42M712 816c18-9 45-17 61-21s23-4 34-4M909 837c5 8 5 17 11 33M777 835c13-2 23-1 33-2s20-4 26-4s2 3 7 3s21-7 27-3s9 22 14 30M851 644c23 1 47 10 71 14M589 941c23-14 51-30 69-41s25-18 37-26s19-16 32-25s36-22 50-28M892 765c10 8 24 23 20 33M732 827c-13-5-28-20-27-30M905 774c3 12-7 31-18 42M648 816c1-15 20-34 36-45"/>
<path stroke="#188485" d="M1140 965c0 22-1 56 2 80M1139 986c-3 14-8 14-7 32s10 48 15 71M1100 927c1 23-2 32 2 52M472 703c22-9 45-18 66-25s37-7 59-14s52-17 76-25s47-17 67-21s21-7 48-6s87 6 115 11M1087 799c8 25-3 20-1 40M1082 917c2 19 12 46 14 68M1065 858c6 22 22 52 26 74M724 649c25-7 57-8 83-9s42-3 68 4M960 682c20 14 24 32 35 48s19 24 30 47M758 687c22-3 37-2 57-1s40 1 58 4s35 7 52 18s39 29 52 44s20 32 26 49M518 797c21-9 42-20 61-28s29-12 50-19s61-15 79-20s9-3 27-9s60-24 83-29M1014 808c10 23 4 51 2 70M861 711c16 5 19 11 34 19s39 18 56 30M697 759c18-7 53-18 70-22s15-4 30-5s44-5 62-4M953 781c11 11 10 11 16 26s16 47 21 67M743 751c20-5 45-12 63-15s30-5 46-3s35 10 51 17s30 16 43 25s28 12 34 31M778 790c15-6 31-11 42-11s22 3 29 6s3 5 13 10s36 14 45 21s10 9 11 19M571 904c18-11 39-21 55-31s29-17 43-27s26-21 43-30M920 870c7 17 24 44 28 67M778 814c14-6 23-8 34-8s25 2 31 4s2-3 8 2s22 21 29 28s10 6 16 12M766 828c16-2 35-4 47-5s17 1 23 2s6 0 13 0s24-3 32 3s11 19 17 28M585 932c12-10 18-20 36-31s56-26 74-35s20-17 34-22s34-7 48-9M884 859c4 8 9 5 13 19M678 689c21-7 35-14 52-20s33-11 53-15s45-10 68-10M816 765c13 2 30 8 45 13M836 810c10 1 6 0 14-1s22-4 32-5M912 798c-3 10-24 24-39 29M783 829c-15 0-38 4-51-2M887 816c-10 11-31 18-45 25M677 860c-16-9-30-29-29-44"/>
<path stroke="#18867a" d="M675 603c-9 10-26 24-39 36M797 567c13 10 22 1 37 3M1142 1045c4 23 15 41 19 60s4 33 6 49M1147 1089c4 23 8 44 12 66M1102 979c4 19 16 47 20 67M1086 839c1 20 6 54 11 78M1096 985c3 23-1 49 1 67M1091 932c4 21 0 33-2 54M500 758c13-7 22-14 39-23s44-22 63-31s31-14 51-23s45-26 71-32M1025 777c11 23 29 65 35 89M749 649c19-6 28-9 50-8s60 1 86 11s54 34 71 47s19 16 30 31s31 34 40 54M515 790c18-9 34-17 54-27s46-26 65-35s26-14 46-21s56-16 78-20M1003 801c7 16 5 27 12 50M1016 878c-1 19-12 26-12 46M745 710c18-3 33-9 52-9s47 5 64 10M951 760c17 13 36 27 44 47M536 833c18-8 34-14 54-24s47-23 65-31s23-12 42-19M990 874c5 20 10 33 12 54M535 830c13-10 19-20 38-30s53-23 73-30s27-4 43-8s35-7 54-11M980 806c7 19 6 64 5 82M571 903c19-11 39-22 59-34s43-28 60-38s26-11 41-18s32-17 47-23M918 835c2 9-8 22-5 38M771 802c13-4 29-7 41-7s23 3 30 7s1 10 9 14s28 10 38 14s19-3 25 8M575 912c15-5 24-7 44-16s55-28 74-37s24-12 38-19s34-21 47-26M896 852c5 7 12 16 15 28M576 914c22-12 49-28 65-37s17-7 30-14s32-21 48-27s31-6 47-8M898 856c6 9 16 11 20 27M897 878c5 13 9 42 11 63M497 753c21-7 44-16 62-22s26-9 46-15s52-19 73-27M714 773c21-6 50-10 67-11s22 0 35 3M761 797c13 0 18 3 30 5s36 7 45 8M836 799c10-1 13-2 21 0s17 6 26 10M873 827c-15 5-37 1-52 2s-23 0-38 0M842 841c-15 6-26 10-42 14s-35 13-55 14s-52-1-68-9"/>
<path stroke="#19896f" d="M1122 1046c5 20 7 33 7 52M1097 917c5 24 17 47 18 66M1097 1052c2 18 6 22 11 40s9 46 13 68M1060 866c5 24-6 34-4 55M504 768c16-8 28-14 47-24s46-22 68-33s44-24 65-35s46-21 65-27M1026 784c9 20 13 43 17 68M1015 851c6 23 20 65 25 89M1004 924c0 20 7 53 12 74M525 810c13-8 22-15 38-26s39-30 60-40s47-15 67-20s37-10 55-14M995 807c8 20 0 53 4 73M985 888c0 19-9 8-9 27M913 873c4 16 18 35 25 58M948 937c5 24-3 50-1 73M576 913c12-9 21-16 38-28s44-32 64-44s36-16 51-23s28-12 42-16M914 838c6 11 11 44 12 59M911 880c4 12 3 23 8 44M918 883c4 15 2 43 3 64M908 941c2 21-3 45 1 63M552 864c19-13 42-29 59-40s24-16 41-25s40-20 62-26M575 912c20-15 45-35 59-46s10-14 24-24s43-31 60-38s31-6 43-7M710 836c16-6 35-13 49-18s23-10 36-13s30-5 41-6"/>
<path stroke="#198b64" d="M670 578c-7 9-13 16-19 24M670 572c-7 9-15 18-22 27M681 624c-9 9-21 19-31 29M678 614c-9 10-23 22-35 32M693 583c-6 8-8 11-18 20M1129 1098c0 19-3 41-4 62M1115 983c2 19-3 29-6 47M1089 986c-2 21-8 54-9 73M1056 921c3 21 15 48 19 71M1043 852c3 25 0 64 2 84M1040 940c5 25 5 38 5 58M999 880c4 20 14 28 21 45M1002 928c2 20 0 49 1 68M976 915c1 19 7 68 12 89M938 931c6 22 12 53 14 75M947 1010c2 22 9 43 13 62M926 897c2 15-5 13-2 29M919 924c5 20 18 53 22 79M921 947c1 21-1 45 3 63M909 1004c4 17 21 24 25 42M568 897c13-6 24-12 40-18s37-16 54-23s32-13 48-20"/>
<path stroke="#1a8b5a" d="M649 560c-9 10-14 14-21 21M700 587c-7 11-12 17-22 27M711 551c-5 13-12 23-18 32M756 513c8 14 28 45 41 54M1080 1059c-1 18 1 19 5 36s13 45 19 68M1075 992c4 23 5 49 6 68M1045 936c2 20 3 19 9 37M1016 998c6 21 17 36 21 52s4 25 5 45M1020 925c7 17 19 37 21 59M1003 996c0 19-1 28 0 48M960 1072c3 20 4 34 6 53M924 926c3 17 15 46 21 70M924 1010c3 19 13 27 16 48M934 1046c3 18-7 43-3 66"/>
<path stroke="#1b8c4f" d="M693 546c-7 14-16 23-23 32M688 545c-6 11-12 18-18 27M704 596c-7 10-14 18-23 28M1109 1030c-3 19-12 41-12 63M1081 1060c0 19-3 28-1 45M1054 973c5 18 20 47 25 72M1045 998c1 19-3 39-2 60M1042 1095c2 20 4 50 6 76M1041 984c1 22-12 52-14 72M1003 1044c2 20 6 50 9 72M988 1004c6 22 15 20 21 41M952 1006c3 23-4 42-1 60M966 1125c2 18 2 38 4 57M945 996c7 25 15 56 16 78M941 1003c4 26 2 53 4 75M940 1058c2 21-5 56-2 77M931 1112c5 23 20 47 30 71"/>
<path stroke="#1c8c44" d="M672 561c-7 10-19 23-28 34M721 563c-5 13-10 23-17 33M1097 1093c0 22 8 46 13 69M1080 1105c2 18 9 40 14 59M1079 1045c5 24 5 54 6 75M1043 1058c0 21 2 46 4 64s7 32 11 47M1027 1056c-2 20-2 28 2 48M1012 1116c4 22 8 39 12 58M1009 1045c6 20 12 61 15 82M951 1066c3 18 13 32 20 51M961 1074c2 22-5 36-6 55M945 1078c2 21 5 36 8 54"/>
<path stroke="#218c3b" d="M680 520c-7 12-22 30-31 40M721 545c-5 11-14 30-21 42M722 505c-2 15-7 34-11 46M752 484c1 14-3 15 4 29M1085 1120c1 20 0 30 0 46M1029 1104c4 19 13 44 20 67M1024 1127c2 22 2 31 3 47M971 1117c7 19 14 41 22 62M955 1129c0 18 4 36 6 54M953 1132c2 17 5 34 8 51M938 1135c3 21 13 33 19 49"/>
<path stroke="#2c8d33" d="M712 495c-4 14-12 37-19 51M704 506c-4 12-11 28-16 39M689 535c-5 11-9 16-17 26"/>
<path stroke="#368e2b" d="M733 519c-3 17-7 31-12 44M727 517c-2 13-2 16-6 28M723 459c0 13 1 31-1 46M751 425c1 20 1 44 1 59"/>
<path stroke="#418e24" d="M689 489c-2 10-3 19-9 31"/>
<path stroke="#4c8e20" d="M714 462c0 11 1 19-2 33M709 474c-1 13-2 20-5 32M703 496c-3 12-9 28-14 39M735 463c0 16 0 40-2 56M729 469c0 15-1 36-2 48M722 425c0 11 1 21 1 34"/>
<path stroke="#598e20" d="M713 425c1 12 2 25 1 37M709 425c0 16 0 35 0 49M692 458c-1 11-1 20-3 31M729 425c0 15 1 29 0 44"/>
<path stroke="#658d1f" d="M706 463c-1 12 0 21-3 33M691 425c0 11 1 22 1 33M734 425c0 13 1 22 1 38"/>
<path stroke="#7b8b1f" d="M705 425c0 13 1 26 1 38"/>
<path stroke="#1a2d9e" stroke-width="1.75" d="M1088 674c10 12 29 38 40 53s14 24 22 37s16 29 24 44"/>
<path stroke="#1c38a6" stroke-width="1.81" d="M1025 617c12 8 31 24 42 34s10 10 21 23M982 611c29 18 54 43 75 66s36 45 47 73"/>
<path stroke="#1e44ae" stroke-width="1.86" d="M947 578c18 6 30 12 43 19s22 11 35 20M720 561c27-6 63-10 88-12s33-5 60 1s71 10 105 34s72 76 95 107M458 673c20-7 39-14 61-22M720 582c22-6 38-9 65-10s62-4 95 2s72 20 102 37M1104 750c11 28 14 69 17 97M764 778c7-5 10-13 20-17s26-13 38-12"/>
<path stroke="#1f53b3" stroke-width="1.91" d="M512 644c16-8 17-10 39-21s70-29 98-40s45-16 71-22M1068 691c23 31 31 53 42 79s17 53 21 78M640 585c24-11 51-20 74-27s40-9 65-11s46-13 84 1s116 57 149 79M519 651c21-7 44-14 66-22s43-16 66-24s46-18 69-23M1121 847c3 28 0 51 1 70M743 791c6-6 15-8 21-13M822 749c12 0 27 8 32 15M773 720c21 0 46-6 62-1"/>
<path stroke="#1f64b5" stroke-width="1.96" d="M879 561c19 3 49 11 68 17M457 672c18-9 39-20 55-28M1131 848c5 24 6 46 7 69M568 621c24-13 47-26 72-36M1012 627c32 22 28 32 44 55s37 49 48 77s15 65 21 93M702 575c21-7 43-21 73-24s73-2 106 5s67 17 95 39M730 814c-2-7 8-17 13-23M854 764c4 7-3 17-4 26M835 719c15 5 25 20 31 30"/>
<path stroke="#2075b8" d="M460 679c13-6 21-7 39-17s46-28 69-41M1125 852c5 28 8 55 12 75M653 597c20-10 29-14 49-22M976 595c28 22 54 59 74 91M1122 917c1 20 2 24 5 46M639 612c22-9 45-19 74-23s79-3 106-2s27-4 55 4s84 23 113 41s44 41 60 63s28 45 39 70s20 49 25 76M726 606c23-8 41-8 63-9s41-4 71 3s80 23 105 38s32 37 46 57M860 763c15 2 21 4 29 9M752 831c-10-2-21-11-22-17M866 749c6 10 2 19 4 29M682 768c2-15 15-38 34-48s53-17 76-17s40 14 60 21M829 787c4-6 20-6 29-7s13 3 22 3s21-6 28-2s15 15 14 22"/>
<path stroke="#2087b5" d="M830 560c15 1 29-2 49 1M1138 917c1 23 0 50 1 69M1137 927c5 21 10 34 13 49s3 20 3 41M460 677c23-5 49-8 70-15M585 633c21-11 49-27 68-36M1050 686c21 32 36 75 48 101s21 33 25 52s-4 44-1 64M1127 963c3 21 10 61 12 83M472 702c20-10 42-20 61-29s32-21 50-31s35-21 56-30M651 643c21-12 52-30 75-37M1011 695c13 21 22 44 33 67s29 49 37 75M815 637c20-1 32-8 58-1s73 25 94 41s22 39 32 57M849 662c23 5 70 16 93 26s28 11 41 33M801 713c19 1 51 4 69 6s27 1 40 9s26 25 36 40s12 33 22 48M763 771c12-4 19-5 35-6s47-3 62-2M889 772c8 5 13 12 19 22s10 26 18 42M798 779c15-1 29-2 42 1s24 11 36 17s24 10 34 18s21 16 27 28M846 816c6 1 6 0 11 2s8 6 15 11M791 708c18-1 38 3 58 4M780 713c19-1 47 1 66 8s36 19 49 28s19 17 29 26M811 761c14-1 24 0 35 2s18 4 28 5M824 816c9-2 17-2 26-3M809 818c-7 3-13 7-22 9s-26 6-35 4M753 759c8-7 29-14 42-13s24 11 32 17M870 778c2 10 8 19 6 30M899 761c11 13 31 23 32 37M705 809c-10-11-25-27-23-41M835 813c-4-7-10-21-6-26M922 803c0 7-12 13-16 19M856 772c8 0 16 4 23 6s11 3 19 6"/>
<path stroke="#1f99b1" d="M1139 986c1 18 4 25 7 42s7 36 9 57M530 662c21-7 35-18 55-29M1122 903c3 20 16 37 19 58M1139 1046c2 23-2 35-2 53M1111 841c4 28 5 65 4 89M483 725c24-11 51-22 71-31s30-13 46-22s30-18 51-29M1081 837c9 26 12 57 15 82M865 628c31 10 81 43 102 57M652 681c22-11 69-34 96-41s46-2 67-3M999 734c9 17 15 28 26 48s36 45 40 71M734 669c22-6 54-8 73-9s20-2 42 2M983 721c12 22 27 75 35 99M534 828c17-12 36-25 51-34s21-11 40-19s49-21 72-31s45-24 62-29s24-3 42-2M968 816c9 15 27 25 32 44M870 729c17 3 13 3 26 12s36 27 49 40M818 736c18-1 35-2 50 0s28 8 38 14s17 12 26 24s19 31 26 45M562 886c21-10 44-21 63-31s32-17 49-28s37-28 52-37s25-14 37-19M926 836c7 17 22 40 26 57M562 886c23-14 49-30 67-42s32-21 46-29s27-14 40-18s24-8 38-11s31-6 45-7M937 843c5 13 5 34 7 49M776 813c17-3 34 0 46 0s18 3 24 3M872 829c6 5 16 10 23 18s15 18 20 32M723 695c16-6 29-11 46-15s42-6 62-9M532 824c21-14 48-31 63-40s8-7 25-16s54-29 74-38s31-12 47-16s32-6 50-6M541 843c20-11 44-23 60-32s20-14 33-23s28-23 44-33s35-23 52-30s30-12 50-12M763 746c18-6 33-8 52-8s45 5 60 10s20 13 30 20M545 851c19-10 36-20 56-29s47-22 61-29s12-5 28-10s48-15 68-18s38-4 53-4M817 770c14-2 33-3 44-3s15 3 23 4M756 783c18-6 33-8 46-10s21 0 31 0M732 840c14-5 27-9 37-13s14-4 23-6s22-4 32-5M817 826c12 2 19 5 26 4s9-5 13-7M746 787c1-8-1-21 7-28M827 763c8 5 10 11 17 17M709 776c5-12 17-28 25-41M876 808c-3 12-7 31-22 40s-43 12-64 18M931 798c1 15-7 37-23 48M740 832c-12-7-26-12-35-23M851 829c-5-7-12-9-16-16M906 822c-4 7-5 13-7 19M832 781c8-3 16-9 24-9M898 784c7 3 19 6 25 12"/>
<path stroke="#1eaaac" d="M787 551c9 4 27 7 43 9M1155 1085c2 21 3 47 4 70M1153 1017c0 22-4 66-4 90M1141 961c4 22 2 47 3 70M666 658c20-9 45-22 64-28s30-9 53-9s51-4 82 7M967 685c22 15 16 11 29 29s37 52 48 78M498 755c21-9 42-20 62-29s41-15 56-23s14-12 36-22M504 768c17-8 33-16 52-24s38-12 57-19s38-17 58-27s40-22 63-29M1018 820c8 24 6 28 13 46M796 665c20-2 50-8 75-1s57 31 74 44s15 16 26 32s31 43 39 64M1000 860c6 19-1 45 0 69M737 727c15-3 37-6 59-6s57 4 74 8M945 781c14 14 27 31 33 43s3 16 7 31M712 759c19-8 27-11 44-15s43-7 62-8M958 819c6 15 9 24 14 42M952 893c5 16 2 28 1 43M944 892c3 14 4 22 8 40M575 913c18-11 34-20 52-31s44-23 59-31s17-11 32-18s41-17 58-20M915 879c4 14 4 30 7 53M735 664c23-4 50-8 78-8s66 1 90 8s39 20 59 30M509 779c16-6 32-12 46-18s23-8 43-16s54-22 75-31s34-14 50-19M747 687c22-5 36-5 56-3s44 7 66 10M793 714c20 0 42 4 58 7s23 8 35 12M750 742c23-2 64-1 84 1s23 6 35 10M549 858c22-12 49-26 67-36s24-15 39-23s30-19 48-28s41-20 60-25M551 863c18-8 34-15 54-22s44-18 64-26s39-15 57-21s33-12 48-16s28-7 43-8M784 763c14 0 31 2 44 7s27 16 36 22s13 8 19 12M563 887c20-12 43-24 62-35s36-21 47-28s10-7 24-14s42-21 60-27M849 803c9-1 7-7 17-4s30 14 45 22M572 905c22-9 47-19 65-27s31-13 47-19s33-14 48-19M577 915c21-15 46-35 62-46s21-14 35-21s28-14 45-18s39-8 56-8s31 3 42 4M748 806c0-7-3-11-2-19M844 780c7 6 22 12 24 20M703 806c2-11 1-18 6-30M908 846c-15 12-48 21-70 22s-46-8-62-14s-24-14-36-22M863 852c-4-8-7-17-12-23M923 796c6 7 13 19 11 27"/>
<path stroke="#1fad9e" d="M1137 1099c0 19 1 39 1 59M1115 930c-1 24-9 37-9 54M1096 919c3 26 2 53 5 70M496 752c15-9 25-14 45-26s53-31 74-42s32-17 51-26M1044 792c10 25 8 52 13 74M1065 853c4 26-14 62-15 84M730 666c20-8 38-17 60-20s48-2 71 4s46 21 66 33s37 21 55 42s42 60 50 80M1031 866c6 18 23 43 28 62M516 793c16-7 27-9 47-20s54-33 72-43s14-10 34-19s60-28 82-35s24-9 45-11M1010 804c9 22 10 46 12 67M534 829c16-9 30-18 48-29s38-24 59-35s53-23 69-29s13-7 27-9M985 855c4 15 14 33 18 57M542 846c20-9 43-19 61-27s26-15 44-24s47-27 65-36M972 861c6 17 16 44 19 63M797 760c12-2 33-8 49-7s37 5 49 10s14 11 21 21s17 24 23 38M819 781c16 1 26 3 35 3s16-6 24-3s12 11 23 18s33 11 41 27M953 936c-1 15-11 23-8 46M952 932c3 18 10 48 13 66M796 793c12-1 34-4 46-4s14-1 23 3s19 13 29 21s23 15 33 26M846 820c5 0-2-2 1 0s12 7 17 13M492 743c20-8 41-18 60-25s31-12 52-19s49-15 71-21s37-11 60-14M793 667c20-2 15-3 34 0s59 7 81 15s32 23 49 34M798 674c22 0 44 0 66 5s44 16 65 24M767 680c18 0 50 1 70 3s36 9 54 13M522 804c17-11 33-21 50-32s39-26 56-36s22-15 42-23s55-21 77-26M535 831c16-10 30-17 49-29s46-30 64-41s31-17 46-24s25-12 42-15s38-7 57-8M540 840c22-13 47-29 65-40s28-15 43-23s34-15 51-21s29-12 51-14M564 890c17-9 34-16 50-26s35-26 48-36s16-15 30-24s37-25 53-32s26-8 39-9M735 807c17-4 30-3 42-3s23 1 35 1s28 0 37-2M769 821c10-4 11-6 22-8s29-5 44-8M781 830c13-4 21-6 32-8s27 1 33 1s-3-4 2-1s18 11 27 16M749 831c-6-6-1-17-1-25M868 800c3 9-7 21-11 32M853 797c-6 10-9 18-16 28M698 844c-6-11 3-26 5-38M934 823c-1 9-12 18-20 22"/>
<path stroke="#20b190" d="M1149 1107c0 23 3 32 4 49M1144 1031c0 23 1 46 1 67M1106 984c1 18 5 33 9 52s14 41 19 61M1101 989c2 17 9 14 11 33s3 59 3 82M1057 866c5 22 11 38 16 58M1050 937c-1 22 2 32 8 47M504 767c23-12 48-26 69-36s41-17 57-24s27-8 44-14s37-19 56-27M1032 805c8 20-5 21-1 41M1059 928c4 19-2 30-3 51M1022 871c2 20 0 40 3 59M1000 929c1 25 3 58 7 79M991 924c2 20-3 35-3 55M548 856c14-5 27-10 44-16M651 818c22-9 55-26 76-35s35-14 46-17s12-4 24-6M939 822c7 14 12 26 16 45M727 793c18-5 19-9 35-11s42-1 57-1M942 826c9 16 9 53 12 70M945 982c3 23 19 66 27 90M560 881c21-11 42-23 62-34s36-22 54-30s36-12 52-16s29-4 40-6s16-1 28-2M927 839c10 11 23 25 29 40M922 932c4 22 9 58 13 82M776 831c10-3 26-7 38-9s26-1 32-2M864 833c6 7 11 17 16 25M506 772c20-10 41-22 59-31s35-18 49-24s19-9 34-15s35-15 59-21s66-12 86-14M510 779c22-13 50-30 67-40s17-10 33-17s40-18 60-25s38-13 59-17s46-5 69-6M513 786c20-13 46-30 60-39s12-8 25-14s29-17 50-25s59-19 79-23s21-5 40-5M571 903c19-15 39-33 57-45s30-23 48-32s42-15 59-19M572 906c16-6 31-12 47-19s30-13 48-21s44-21 61-29s30-12 41-16M580 922c20-10 43-21 61-30s31-15 47-22s30-15 46-21s33-15 47-19M783 844c-11-4-28-7-34-13M837 825c-8 11-13 27-29 36s-48 17-66 14s-37-19-44-31M914 845c-9 3-21 1-30 1s-16-2-23-3"/>
<path stroke="#20b382" d="M773 534c4 13 4 12 14 17M1145 1098c1 21 1 39 2 59M1134 1097c4 20 4 41 7 61M1073 924c6 19 14 37 17 59M1058 984c5 15 20 24 25 42M1031 846c4 21 18 59 26 82M1056 979c0 21-5 53-2 75M1025 930c2 19 7 34 12 54M1007 1008c5 21 20 26 23 45M1003 912c4 25 3 63 6 88M592 840c17-6 36-12 59-22M955 867c4 19 7 48 8 68M551 863c18-8 37-15 54-24s31-22 51-29s54-13 71-17M954 896c3 16 2 12 6 29M965 998c3 18 2 24 3 43s-1 44 2 67M956 879c5 14 5 29 4 47M935 1014c5 25 13 49 16 66M590 942c22-12 50-28 67-38s18-15 34-25s44-29 58-37s16-8 27-11M880 858c5 8 9 13 14 25"/>
<path stroke="#22b474" d="M1115 1104c-1 24-3 39-4 58M1090 983c3 23 1 54 2 75M1083 1026c5 17 4 42 5 65M1057 928c8 24 19 37 20 58M1054 1054c3 22 16 40 21 59M1030 1053c3 19-4 49-4 69M1009 1000c2 26 8 47 11 67M988 979c0 21-1 45 2 69M972 1072c7 24 13 36 17 54s4 35 5 52M960 926c-1 17-11 34-10 57M951 1080c3 16 1 17 4 34M894 883c5 11 13 26 15 46"/>
<path stroke="#23b466" d="M763 468c2 18 6 52 10 66M1092 1058c0 22 0 37 1 55M1088 1091c1 23 2 49 3 74M1077 986c0 21-14 48-16 68M1075 1113c5 19 6 35 9 53M1037 984c5 20 14 48 18 68M1026 1122c1 20 4 34 6 51M1020 1067c2 20 3 35 4 53M990 1048c4 24 17 56 22 77M963 935c2 21-3 33 2 55M960 925c3 17 14 52 15 73M970 1108c4 23 12 47 18 71M955 1114c2 17 6 46 10 69M909 929c2 20-4 52-3 72"/>
<path stroke="#24b558" d="M1093 1113c1 17 4 34 6 51M1055 1052c5 19 3 29 6 48M1024 1120c2 18 3 36 4 54M1012 1125c5 21 7 33 10 50M965 990c4 22 18 60 24 78M975 998c0 20-13 29-12 50M950 983c1 24 11 59 16 85"/>
<path stroke="#2bb54c" d="M762 425c1 14-1 25 1 43M1061 1054c-2 21-1 37 3 55M1061 1100c3 20 8 45 12 67M989 1068c6 19 7 17 11 35M963 1048c2 21 19 57 23 79M966 1068c6 25 13 50 15 69M906 1001c0 21 2 34 8 53s17 41 25 62"/>
<path stroke="#38b642" d="M1064 1109c4 19 13 38 20 57M1000 1103c3 18 7 49 11 73M986 1127c3 22-1 35-2 53M981 1137c3 19 0 29 0 43M939 1116c7 22 13 45 20 68"/>
<path stroke="#2347d0" stroke-width="1.81" d="M1113 689c9 10 6 6 14 19s25 40 34 56s13 26 20 40M1122 735c7 11 13 21 20 34s16 29 23 44"/>
<path stroke="#2555d9" stroke-width="1.86" d="M1029 612c16 10 28 18 42 31s32 35 42 46M1099 697c10 13 18 24 26 37s14 25 21 38s14 26 22 39M1053 651c15 14 33 36 44 49s17 23 25 35M720 768c14-9 17-15 31-23s36-27 53-29s42 11 50 21M832 802c3-6 17-7 25-11"/>
<path stroke="#2667e0" stroke-width="1.91" d="M951 574c16 5 16 6 29 12s34 17 49 26M1024 620c14 10 29 23 42 35s23 29 33 42M981 601c14 7 18 9 30 17s28 19 42 33M906 593c31 4 44 10 68 28s57 63 73 84M721 750c10-12 34-23 51-34M669 794c7-11 37-18 51-26M854 737c8 10-3 27 0 38M696 758c18-7 37-16 54-21s32-9 51-12s40-6 61-3M704 722c17-11 49-15 73-23M904 814c2 5 5 10 5 16M841 826c-5-6-11-18-9-24M900 788c8 4 19 6 23 12s5 17 3 24M835 805c5-5 14-7 21-11"/>
<path stroke="#277de3" stroke-width="1.96" d="M981 596c17 8 28 14 43 24M926 578c16 6 41 17 55 23M983 609c35 21 69 54 88 81M787 584c27-2 77-12 108-7s54 23 78 39s47 35 67 57s39 50 49 80M790 599c33-3 86-9 116-6M1047 705c17 21 15 20 27 44s35 66 42 97M987 643c22 12 28 14 43 34s43 59 52 86M750 768c6-8 27-18 41-19s28 11 39 16s15 8 25 12M709 786c6-12 1-25 12-36M678 833c-12-8-16-28-9-39M854 775c2 12 11 19 16 29M862 722c20 3 48 10 62 22M694 809c-10-10-21-25-19-40s13-35 29-47M909 830c0 7-1 19-6 22M861 837c-6-4-16-5-20-11M926 824c-2 6-10 11-16 15M830 829c-2-7 1-18 5-24M839 775c10-3 20-1 30-1"/>
<path stroke="#2892e5" d="M886 556c19 4 49 13 65 18M925 575c13 5 40 14 56 21M887 569c14 2 24 4 39 9M796 572c21-5 32-14 63-8s89 24 124 45M1071 690c18 27 17 54 22 80M467 692c15-9 25-19 45-28s53-16 72-23s21-12 45-20s76-24 102-30s28-4 56-7M1089 753c10 29 6 67 11 96M777 587c27-3 57-7 87-2s67 14 97 32s65 48 87 77s39 71 48 95M470 698c19-6 38-11 58-19s46-20 63-27s19-9 39-15s54-17 80-23s47-12 80-15M1116 846c7 31 1 65 0 89M790 598c33-3 74-2 106 5s69 27 91 40M1082 763c10 26 3 45 8 73M721 634c22-6 48-14 76-14s66 6 90 12s34 13 54 25s47 28 66 51s40 67 49 90M847 683c18 3 53 10 74 19s32 14 47 33M841 704c17 3 37 11 55 17M850 791c10-1 15-5 26-1s26 16 39 24M775 763c7-5 22-10 32-10M753 770c5-7 16-14 25-21M751 798c-1-10-8-22-1-30M855 777c11 5 33 7 38 15M778 753c14 0 28 8 38 12M771 749c15-1 23 4 37 4M682 819c4-13 20-22 27-33M738 840c-20-2-49 1-60-7M924 744c13 11 24 32 20 48M731 833c-13-7-28-13-37-24M903 852c-6 4-20 2-27-1s-9-10-15-14M910 839c-6 3-12 4-18 6M849 848c-7-3-17-12-19-19M806 793c3-8 22-15 33-18"/>
<path stroke="#27a8e2" d="M838 553c17 1 30-1 48 3M903 570c13 2 9 1 22 5M459 676c16-3 30-5 49-10M731 592c23-7 43-15 65-20M1100 849c6 29 23 58 24 79M469 695c21-10 46-22 63-30s24-12 42-19s44-15 65-22s41-14 64-20s47-14 74-17M1096 789c8 24 2 30 4 49M472 703c22-10 49-22 65-29s15-5 33-11s52-15 74-22s33-15 58-22s56-19 88-21M491 742c18-11 37-23 54-33s28-18 48-27s49-19 71-27s34-15 57-21M1056 798c9 23 0 31 4 49M802 654c25-1 55 1 80 10s51 33 67 45s14 10 27 26M888 664c22 3 22 6 37 17M727 708c20-6 62-18 82-22s19-5 38-3M968 735c15 19 34 59 43 79s2 20 5 40M858 724c16 1 38 5 53 12s23 13 35 29M813 743c17-2 27-3 39-2s23-2 36 7s30 32 43 46s25 29 33 40M750 771c17-5 40-15 58-17s40 5 52 8s6 5 15 10s32 12 41 21s3 21 10 35M846 778c12 3 19 5 29 13s25 22 32 32M719 653c22-7 36-8 56-9s44 2 66 4M846 665c18 0 21-4 41 3s52 26 78 38M738 686c18-3 29-3 47-3s38 3 57 4M885 712c13 6 32 19 49 28M723 712c16-3 50-9 70-10s31-1 48 2M869 743c16 6 21 13 31 19M840 741c15 1 31 4 46 6M770 809c13-4 32-9 45-12s25-5 35-6M845 826c7 0 8-2 12-2M789 846c16-3 29-5 38-8s11-4 16-6M802 834c10-3 28-4 35-6s3-6 10-5s19 9 29 13M748 792c4-5 8-9 12-13s7-12 15-16M807 753c10 0 23 6 27 12M746 788c3-6 2-12 7-18M763 777c5-7 9-18 20-25s32-17 48-17s39 6 48 14M893 792c5 7 2 23-7 30M738 835c-2-8 10-19 15-28M714 797c-1-10 5-25 16-32s33-12 48-12M816 765c10 5 15 9 23 15M712 790c-4-9-2-26 8-33s36-7 51-8M808 753c14 0 33-7 47-4s33 14 34 23M668 763c5-12 32-28 50-33s44 2 61 3s27 1 45 2s46-2 60 5M688 865c-12-9-9-33-6-46M944 792c-4 17-23 37-42 48s-50 16-72 18M772 849c-17-4-28-10-41-16M892 845c-6 1-10 4-17 5s-18 2-26-2M822 826c-8-8-19-25-16-33"/>
<path stroke="#27bfdd" d="M846 563c18 2 44 5 57 7M837 565c17 2 35 1 50 4M508 666c18-5 38-10 62-18s57-24 83-34s54-14 78-22M1093 770c5 26 3 54 9 78M1124 928c2 20-17 23-15 42M1100 838c3 19 7 42 11 65M1116 935c-2 24-10 36-10 54M1090 836c4 27 15 67 19 91M731 633c28-7 61-17 89-20s52-3 77 7s59 40 76 54s14 7 28 27s49 68 59 94M1060 847c4 18 13 33 18 58M609 723c23-11 58-25 78-34s24-13 43-19s47-15 72-16M976 735c14 16 43 47 53 70s5 46 6 68M735 675c19-7 31-15 57-16s74 1 96 5M925 681c16 11 43 32 57 49s20 30 28 53M753 681c22-7 33-11 50-13s25-4 46 1s57 17 80 33s41 42 54 62s19 43 27 59M515 791c21-9 43-16 64-25s42-18 60-26s36-13 51-18s17-8 37-14M797 687c19-2 48-7 67-4s29 11 45 23s41 30 54 46s16 29 23 50M738 741c16-4 54-12 74-14s29-5 46-3M946 765c12 16 28 47 36 66M544 849c24-12 56-27 73-34s11-4 24-11s37-24 55-33s33-17 52-22s47-5 65-6M964 834c8 12 12 15 13 28M559 878c21-12 47-28 64-38s26-10 40-19s32-27 46-35s25-10 41-15M926 828c7 14 27 31 31 49M722 802c18-10 36-20 50-25s22-5 34-5s29 3 40 6M907 823c6 10 4 20 6 29M809 796c14-1 25 7 36 8s22-6 28-4s3 11 10 17s26 4 31 16M807 835c10 1 29 2 34 3s-8-1-5 2s14 15 20 18M504 767c12-7 21-12 37-22s39-25 56-36s24-16 44-25s56-24 78-31M508 775c14-9 26-17 43-28s43-27 63-37s41-17 59-22s28-9 46-12s41-6 62-8s48-3 65-3M515 790c11-7 17-12 34-22s45-28 66-39s40-19 61-26s44-13 62-17M731 705c23-5 44-6 64-6s42 3 56 5s20 2 34 8M526 813c19-11 39-24 56-34s29-17 47-27s50-23 66-30s12-6 28-10M687 748c19-8 48-18 68-21s29-3 48 0s50 11 66 16M740 742c17-3 39-3 56-3s29 0 44 2M854 761c12 2 16 3 24 5M799 775c14-3 32-7 48-10M560 881c16-6 28-11 49-19s54-18 75-26s41-13 55-17s19-7 31-10M786 825c14-3 21-1 31-1s21 2 28 2M584 929c13-9 19-17 40-28s65-31 84-39s14-4 27-7s39-6 54-9M589 941c17-8 32-13 52-23s50-27 68-36s27-16 39-22s20-11 29-15s15-9 25-11M834 765c5 6 1 15-1 21M738 807c0-7 6-13 8-19M752 798c3-7 6-13 11-21M879 749c9 8 5 22 8 33M735 785c10-7 15-9 25-16s21-18 34-21s39-3 48 3M886 822c-9 7-32 8-44 12M768 855c-12-1-27-12-30-20M734 821c-7-7-19-15-20-24M839 780c8 5 20 8 26 16M734 827c-8-6-17-16-26-23M740 811c-7-7-25-12-28-21M889 772c1 9-18 23-27 31M688 803c-10-10-25-28-20-40M884 740c15 7 30 26 27 38M857 831c-16 5-31 9-47 16s-34 23-54 26s-56 1-68-8M830 858c-22 1-42-5-58-9M909 827c-1 10 3 24-4 29M849 839c-8-5-20-6-27-13"/>
<path stroke="#26d4d7" d="M1102 848c5 24 23 43 23 66M1109 970c1 19 20 52 25 72M1111 903c3 24 10 56 11 76M1109 927c4 23 5 33 5 50M856 619c30 6 106 23 133 36s19 24 30 43s24 50 36 74M483 726c22-7 44-13 65-21s45-19 61-26s18-12 38-20s55-18 84-26M1060 795c10 26-5 38 1 62M1078 905c6 25 12 70 13 91M805 632c24-2 62-2 87 4s40 17 61 31s46 29 62 52s29 67 35 87M809 640c20 0 29 3 52 9s65 13 86 25s28 27 42 50M509 778c13-7 21-13 38-23s39-21 62-32M514 788c23-11 54-25 70-34s12-8 27-17s47-27 67-37s38-18 57-25M1010 783c7 23 12 62 17 87M516 793c17-10 32-20 51-30s46-21 62-30s16-17 37-25s64-21 87-27M1010 823c8 16 21 21 22 37M1016 854c3 20 12 61 14 81M813 681c24-1 43 8 64 15s43 20 58 31s20 19 30 34M527 814c22-11 48-23 68-32s33-15 49-25s31-23 49-33s44-19 61-26s25-8 43-11M986 802c7 21 12 57 17 76M531 822c14-5 24-10 41-17s37-13 61-22s65-26 82-33s7-5 23-9M982 831c9 20 12 35 15 51M977 862c2 14-2 34-2 55M859 734c12 3 18 7 28 17s24 30 35 45M957 877c4 18-12 33-9 56M570 902c19-12 39-26 55-36s23-15 39-26s40-27 58-38M913 852c2 10 3 14 8 27M567 895c21-10 49-22 65-29s17-9 33-17s48-25 65-32s21-4 34-7s32-14 45-14M914 833c6 12-3 40 2 57M843 829c8 1 6-4 10-4s10-1 15 5M696 869c18-13 36-28 50-34s24-4 34-4s16 3 27 4M856 858c6 2 9-10 16-2s25 36 29 51M800 690c25 0 56 1 78 6s39 15 55 25s25 21 38 32M522 805c14-9 26-17 41-26s33-20 49-29s27-15 47-23s50-18 72-22M812 710c17-1 36-1 49 0s16 0 31 8s37 26 56 38M901 738c16 4 22 11 33 16M542 844c12-8 21-15 38-26s42-32 60-43s28-19 47-27M543 846c17-12 37-25 53-35s25-19 41-28s36-20 53-27s32-11 50-14M843 743c15 0 17 0 28 3s26 11 39 17M698 770c15-6 28-12 46-15s43-2 61-1s37 5 49 7M809 746c17-3 35-2 48 2s21 16 31 23M552 865c20-11 44-25 59-33s15-7 33-12s58-16 78-22s30-8 43-12s20-7 34-11M788 781c13-2 29-3 41-1s21 6 32 9M579 920c15-9 26-17 44-27s47-27 65-36s29-14 45-20s39-10 53-12M833 786c-2 6-7 10-10 16M747 829c-7-5-9-15-9-22M746 824c-3-8 4-18 6-26M704 808c4-9 22-17 31-23M842 751c10 6 7 20 10 31M842 834c-13 3-18 5-31 8s-31 14-43 13M756 835c-8-5-15-8-22-14M865 796c6 8 14 21 10 31M760 839c-9-4-17-7-26-12M754 832c-5-7-7-14-14-21M862 803c-10 8-21 12-31 17M728 822c-12-7-30-9-40-19M911 778c-3 12-30 24-44 35M905 856c-6 6-24 6-34 3s-14-14-22-20"/>
<path stroke="#27d9c5" d="M789 545c11 6 33 6 49 8M793 560c14 7 35 2 53 3M788 559c13 10 33 5 49 6M1125 914c1 23-20 49-19 70M1134 1042c4 20 0 29 0 48M1122 979c1 20-3 25-3 44M1106 989c-1 18 5 36 8 52s8 26 10 45M1114 977c-1 17-8 33-9 53M482 722c21-12 42-26 63-35s42-13 62-18s40-10 57-16s21-14 46-20s76-12 100-15s17-5 46 1M1055 772c12 23 32 43 36 68M1061 857c6 24 28 61 34 80M1091 996c1 20-6 16-6 34M493 744c15-6 26-9 46-18s48-22 72-32s49-24 71-32s45-13 65-18s34-11 58-12M1050 806c7 21 1 17 6 35M502 763c17-8 34-12 52-23s43-31 59-41s17-7 39-15s64-28 90-36s47-8 67-8M989 724c15 22 32 62 44 84s21 26 23 48M1035 873c1 22-3 46-1 64M1027 870c5 25 10 44 11 62M1032 860c2 17-15 36-11 59M1030 935c2 20-2 20-2 38M637 746c22-12 46-23 62-31s14-7 33-13s57-20 81-21M965 761c9 14 18 38 27 55s23 24 28 44M1003 878c5 19 10 15 12 37M814 694c16 0 28 2 42 8s28 15 42 26s28 21 44 36s42 33 52 52M820 719c18 1 35 0 52 4s39 12 51 18s13 7 23 16s25 20 36 40M997 882c3 16 2 26 2 44M748 758c17-4 56-12 73-14s21-1 34 1s25 7 40 14s36 19 48 31s18 28 23 41M975 917c1 21 1 47 6 73M754 754c19-8 44-16 61-19s32-4 44-1M922 796c12 14 27 28 34 44M800 750c16 0 49 0 63 1s9-2 19 6s28 30 41 43M855 774c14 1 31-2 41 0s13 4 21 13M948 933c4 23 25 58 30 80M921 879c5 14 16 36 20 55M916 890c5 17 26 26 29 45M841 816c11-2 20-12 28-10s14 15 21 21M774 819c14-5 24-5 36-3s26 11 33 13M868 830c6 5 11 17 18 29M589 940c15-10 27-16 45-28s43-30 62-43M823 665c23-2 46-1 69-1M513 787c22-11 45-23 64-32s36-17 53-24s31-12 48-17s32-11 52-15s46-8 70-9M775 703c17 0 39 2 58 3M526 813c14-7 24-11 43-20s49-24 71-33s39-17 59-24s41-15 59-19s37-6 54-7M738 730c18-3 28-1 44-1s32 0 52 2s50 3 67 7M704 762c16-6 34-10 47-13s14-3 29-4s48-2 63-2M551 864c18-11 34-19 52-31s40-29 56-40s25-16 39-23M550 862c20-6 40-10 59-17s39-14 59-24s42-25 56-34s14-11 28-18s39-19 57-23M564 889c17-9 33-16 51-26s40-22 56-31s29-17 42-24s25-12 37-16s25-9 38-11M823 802c-4 5-4 12-11 17s-19 15-29 16s-29-1-36-6M771 849c-8-9-21-16-25-25M715 836c-9-5-14-20-11-28M782 851c-9-6-18-11-26-16M875 827c-4 9-21 22-35 27s-36 2-49 0s-21-10-31-15M867 790c1 14 11 29 3 41s-33 28-52 31M757 848c-15-7-18-18-29-26"/>
<path stroke="#28ddb3" d="M689 620c-9 10-24 24-36 36M1134 1090c1 20 3 46 4 68M1124 1086c1 20 0 49 1 74M1091 840c3 24-15 54-15 79M1095 937c6 19 3 15 1 33M1085 1030c1 17 4 47 8 69M1056 841c4 19 20 53 23 76M1056 856c2 21-17 57-14 80M1034 937c2 18 7 26 13 44M1038 932c1 18-6 24-3 46M1021 919c3 24 27 62 31 82M1028 973c0 17-2 42 2 66M518 797c16-5 27-6 47-14s50-26 72-37M1020 860c6 20 2 57 4 78M528 816c17-8 33-16 51-24s37-18 58-28s47-26 68-36s37-21 55-27s39-7 54-7M994 816c11 19 10 44 12 60M627 753c19-10 43-21 65-27s50-7 71-9s39 1 57 2M982 797c11 21 24 63 30 83M999 926c-1 18-7 40-5 63M541 842c22-9 52-22 68-29s10-6 28-14s62-26 81-33s13-5 30-8M966 831c5 14 4 25 8 41M546 852c20-6 39-9 59-18s48-26 63-35s16-11 30-19s36-19 56-26M956 840c7 16 6 31 8 49M704 780c16-8 49-25 65-30s16 0 31 0M923 800c13 14 30 24 35 38s-7 31-4 46M716 777c19-6 20-8 36-9s45 3 62 4s27 2 41 2M917 787c8 9 20 23 29 40s21 43 24 60M941 934c4 19 2 39 4 58M945 935c3 19-10 51-10 70M767 819c12-3 20-1 32-2s30 1 42-1M890 827c6 6 12 6 20 15s27 28 28 43M583 927c13-8 23-15 41-25s50-26 67-35s21-12 35-20s34-23 48-28M886 859c7 13 16 34 23 45s13 8 16 21M901 907c4 15-9 20-3 39M500 759c17-9 34-21 51-29s25-13 49-20s70-19 95-25s35-7 56-11s48-7 72-9M518 796c16-10 34-21 48-29s18-12 36-20s52-21 74-28s40-10 57-13s25-3 42-3M537 835c11-9 19-14 34-26s42-33 59-44s29-16 47-22s43-11 61-13M544 849c15-10 27-17 45-28s43-27 63-37s35-16 52-22M760 839c-15-1-36 2-45-3M818 862c-19 3-46-8-61-14"/>
<path stroke="#29e0a2" d="M660 561c-8 10-17 18-25 27M704 600c-6 13-7 11-15 20M679 608c-11 12-26 23-39 35M1106 984c1 21 19 36 25 55s11 44 13 63M1119 1023c0 20 1 49 3 72M1105 1030c-1 19 0 44 3 66M1096 970c-1 18-11 54-10 74M1093 1099c3 22 9 42 14 64M1079 917c2 23-10 43-10 63M1047 981c6 17 18 40 23 62M1035 978c2 21 13 62 18 84M1030 1039c3 24 15 55 19 77M1015 915c3 21-2 67 2 90M1006 876c2 16-1 21 1 37M531 822c16-12 32-24 48-36s29-23 48-33M1012 880c6 20 4 20 4 39M994 989c2 24 12 61 16 79M974 872c3 16 13 35 16 57M981 990c4 25 19 61 23 80M964 889c3 18 4 45 7 59M550 862c15-8 25-13 45-24s55-33 73-43s19-8 36-15M954 884c3 15 15 23 20 45M555 871c14-13 27-26 41-37s24-19 44-29s57-22 76-28M970 887c3 17-4 27-6 43M978 1013c5 22-4 31 0 51M945 992c2 19 2 34 8 55M570 901c17-10 36-23 52-30s27-8 45-14s45-16 62-22s26-13 38-16M938 885c2 16-15 28-16 47M925 925c4 13 7 33 7 56M898 946c5 19 29 53 36 72"/>
<path stroke="#2ae190" d="M703 576c-6 12-13 21-24 32M773 515c3 11 5 24 16 30M1144 1102c2 20 0 37-1 55M1122 1095c3 22 9 42 13 64M1108 1096c4 21 13 42 19 64M1076 919c-1 25 9 50 14 73M1042 936c3 24 26 43 31 62M1070 1043c4 23 1 52 2 73M1052 1001c5 21-5 24-5 38s0 30 4 52M1049 1116c5 22 6 36 9 53M1024 938c1 20 3 24 6 43M1017 1005c5 23 18 30 23 47M1007 913c2 16 6 32 10 58M1010 1068c4 19 4 15 7 33M990 929c2 22-1 55-1 75M1004 1070c4 18-2 12-1 29s7 51 11 77M971 948c3 14 5 12 11 27M978 1064c3 19 14 49 20 68s8 29 12 44M953 1047c6 22 21 52 27 74M935 1005c-1 18 3 23 8 41s19 47 25 70M934 1018c7 20 7 25 7 44"/>
<path stroke="#2ce17f" d="M729 546c-5 15-18 42-25 54M764 518c6 16 16 34 29 42M759 508c5 12 16 42 29 51M1090 992c4 22 11 41 13 61M1086 1044c0 19 11 24 14 44s3 50 4 75M1069 980c0 20 5 37 9 57M1073 998c4 20-3 39-4 57M1072 1116c1 21 1 34 1 51M1053 1062c5 23 8 32 12 50s5 37 7 55M1051 1091c5 21 14 51 21 76M1030 981c3 19 11 49 12 72M1040 1052c5 17 3 36 6 55M1016 919c-1 18-8 50-9 72M1017 1101c4 17 8 48 12 73M989 1004c1 19 0 25 2 42M982 975c6 15 20 38 24 62M974 929c4 21 2 59 5 83M964 930c-2 17-11 31-8 53M980 1121c7 21 9 38 13 58M968 1116c5 22 4 44 6 65M922 932c-2 20 3 50 8 70M932 981c1 23-6 61-5 82M941 1062c-1 19-11 49-11 70"/>
<path stroke="#2de26e" d="M666 557c-7 8-19 22-29 33M682 531c-6 11-15 21-22 30M769 479c1 15 0 25 4 36M1103 1053c1 20-7 40-5 58M1078 1037c3 20 9 42 11 63M1069 1055c0 17-2 28 3 46M1042 1053c1 22-6 43-5 62M1046 1107c3 20 9 42 13 62M1017 971c5 26 14 74 16 97M1007 991c-1 23-1 38 3 61M991 1046c3 18 10 41 14 62M1006 1037c5 23 1 55 2 78M979 1012c3 24 8 41 13 61M956 983c3 22 20 56 27 80M930 1002c4 20 16 28 18 50M927 1063c1 21 7 24 12 44M930 1132c1 21 9 36 14 54"/>
<path stroke="#36e25e" d="M719 540c-3 9-9 25-16 36M757 488c0 14-3 8 2 20M1098 1111c3 18 13 33 20 50M1089 1100c2 22 1 43 2 65M1072 1101c5 18 17 42 25 63M1037 1115c2 20 11 37 16 55M1033 1068c1 22-4 20-4 38M1010 1052c4 22 17 57 22 77M1005 1108c3 22 5 45 7 68M1008 1115c1 23 3 41 5 61M992 1073c5 19 14 36 17 54M983 1063c7 24 10 45 14 64M948 1052c3 23-6 63-4 85M939 1107c6 21 13 51 20 77"/>
<path stroke="#47e352" d="M679 538c-5 10-6 10-13 19M735 506c-1 13-1 24-6 40M767 425c1 18 1 39 2 54M760 466c1 15-2 37 4 52M756 425c0 21 0 49 1 63M1029 1106c0 17 3 45 4 67M1032 1129c6 20 9 28 13 42M1009 1127c2 17-2 33-2 50M997 1127c3 19 6 33 9 50M944 1137c3 22 13 31 19 46"/>
<path stroke="#57e546" d="M695 498c-3 10-7 23-13 33M723 518c-1 11 0 12-4 22M760 425c0 14-1 25 0 41"/>
<path stroke="#68e63a" d="M736 467c0 13 1 26-1 39M726 478c0 16-1 30-3 40"/>
<path stroke="#7be534" d="M696 498c-3 14-12 30-17 40M699 473c-1 12-1 15-4 25M736 425c0 14 1 28 0 42"/>
<path stroke="#8fe433" d="M698 425c0 16 1 36 1 48M726 425c0 18 0 38 0 53"/>
<path stroke="#b7e232" d="M700 454c-1 12-1 30-4 44"/>
<path stroke="#c6e031" d="M699 425c0 10 1 17 1 29"/>
</g>
<clipPath id="cp1m"><rect x="652" y="1190" width="569" height="671"/></clipPath>
<g class="sl" clip-path="url(#cp1m)" stroke-width="2.0">
<path stroke="#131d73" stroke-width="1.70" d="M1226 1190c-10 24-19 46-31 73s-29 65-40 88"/>
<path stroke="#14237b" stroke-width="1.75" d="M1155 1351c-11 23-15 30-26 49s-25 45-38 68s-27 47-41 74s-33 65-43 88"/>
<path stroke="#162c81" stroke-width="1.81" d="M1007 1630c-11 23-13 27-21 50s-19 66-24 88s-4 22-7 44s-8 57-13 86M1125 1156c-9 27-17 54-26 81s-18 58-26 80s-12 33-20 55s-22 52-32 75M1053 1132c-6 29-13 59-19 87s-13 59-18 79s-3 16-10 40s-24 74-35 103"/>
<path stroke="#173587" stroke-width="1.86" d="M1138 1161c-9 24-16 45-26 72s-23 66-33 92s-15 42-25 65M1021 1447c-10 24-18 41-29 64s-21 48-32 75s-26 59-36 85s-16 49-21 69s-7 28-12 52s-13 61-19 91M971 1441c-10 29-21 53-28 72s-6 17-15 40s-32 69-42 96s-14 35-23 62s-21 75-28 102s-10 40-15 60"/>
<path stroke="#18408b" stroke-width="1.91" d="M1161 1168c-7 25-13 45-22 73s-24 70-33 94s-11 28-22 50M1054 1390c-9 22-19 47-29 69s-21 47-30 67s-13 29-23 52s-26 59-36 85s-16 41-24 69s-16 72-21 97s-7 37-11 56"/>
<path stroke="#184d8c" stroke-width="1.96" d="M1084 1385c-11 22-32 62-43 83s-13 24-23 43s-22 40-34 69s-32 72-41 101s-14 51-19 71s-4 26-8 49s-9 59-13 89"/>
<path stroke="#198b64" d="M1006 1178c-13 29-30 68-40 89"/>
<path stroke="#1a8b5a" d="M816 1689c-5 20-9 31-13 50s-7 41-12 67s-9 60-14 90"/>
<path stroke="#1b8c4f" d="M966 1267c-10 21-9 20-18 38M836 1623c-7 26-14 47-20 66"/>
<path stroke="#1c8c44" d="M861 1532c-7 27-17 65-25 91M787 1801c-4 28-9 62-14 94M771 1815c-4 29-6 52-9 78"/>
<path stroke="#218c3b" d="M948 1305c-8 18-21 44-32 70M997 1173c-10 23-21 46-31 70M799 1724c-4 20-8 48-12 77M990 1170c-8 20-15 36-25 61M784 1720c-5 27-9 66-13 95M984 1167c-8 18-14 32-24 55M759 1811c-5 27-8 53-12 79M722 1807c-6 27-10 51-14 76"/>
<path stroke="#2c8d33" d="M916 1375c-11 26-25 59-34 86s-13 44-21 71M811 1678c-6 20-8 26-12 46M965 1231c-10 24-25 61-36 87M989 1170c-8 18-16 35-25 55M775 1758c-5 26-8 50-11 72s-7 41-10 61M772 1728c-6 26-9 56-13 83M736 1807c-4 25-9 52-13 79M961 1157c-11 21-21 43-31 65M739 1720c-5 23-12 60-17 87M713 1821c-4 24-7 40-11 61M938 1146c-12 26-25 55-36 79M699 1746c-6 23-9 40-13 62s-8 45-12 68"/>
<path stroke="#368e2b" d="M966 1243c-10 23-19 46-30 71M833 1606c-8 26-16 53-22 72M929 1318c-10 25-18 41-28 63M802 1655c-7 22-13 39-18 65M964 1225c-9 20-16 37-29 65M791 1675c-6 28-12 57-16 83M960 1222c-10 22-26 57-37 81M789 1657c-6 23-12 46-17 71M968 1160c-14 29-31 63-43 87M748 1736c-5 25-8 46-12 71M930 1222c-11 22-22 44-32 68M751 1670c-5 20-7 27-12 50M717 1816c-6 26-9 44-14 66M958 1155c-13 27-27 58-37 80M730 1736c-6 27-12 61-17 85M691 1823c-5 22-9 36-14 54M902 1225c-11 24-21 46-30 65M720 1665c-9 28-16 57-21 81"/>
<path stroke="#418e24" d="M936 1314c-11 26-27 60-36 82M857 1522c-8 27-16 58-24 84M901 1381c-9 23-19 45-29 72M840 1543c-8 23-9 25-15 44s-16 45-23 68M923 1303c-11 24-19 40-29 63M810 1589c-6 19-14 45-21 68M925 1247c-12 25-19 38-28 60M767 1657c-7 26-14 54-19 79M898 1290c-11 23-24 50-33 71M772 1600c-9 28-15 50-21 70M956 1154c-14 29-29 61-40 85M738 1723c-6 27-15 67-21 93M921 1235c-11 22-15 29-25 53M750 1659c-7 26-14 50-20 77M942 1148c-10 20-18 35-29 60M710 1745c-8 29-14 55-19 78M749 1579c-9 25-21 59-29 86"/>
<path stroke="#4c8e20" d="M900 1396c-9 22-11 28-19 49s-16 51-24 77M872 1453c-10 27-24 68-32 90M935 1290c-14 27-37 75-49 101M815 1593c-8 26-17 55-24 82M894 1366c-10 23-21 46-32 75M826 1540c-8 24-9 29-16 49M897 1307c-10 21-22 47-31 67M789 1581c-6 21-15 50-22 76M865 1361c-9 22-14 33-24 57M807 1503c-12 30-25 69-35 97M916 1239c-12 25-21 45-29 64M758 1653c-7 22-13 43-20 70M896 1288c-11 24-30 66-40 89M776 1578c-7 22-18 54-26 81M913 1208c-11 24-28 57-40 85M737 1649c-10 31-19 67-27 96M872 1290c-8 19-10 24-20 49M777 1514c-11 23-18 40-28 65"/>
<path stroke="#598e20" d="M837 1520c-8 24-15 47-22 73M862 1441c-11 29-27 74-36 99M806 1529c-9 27-10 30-17 52M841 1418c-10 24-23 55-34 85M887 1303c-8 19-12 29-21 50M779 1588c-10 27-15 42-21 65M856 1377c-9 23-10 24-20 49s-31 76-41 102s-11 28-19 50M852 1339c-10 24-28 69-41 98s-24 53-34 77"/>
<path stroke="#658d1f" d="M886 1391c-12 26-15 34-23 55s-18 49-26 74M866 1374c-8 19-10 23-20 49s-30 80-40 106M866 1353c-8 21-21 53-30 77M813 1492c-10 26-25 69-34 96M873 1293c-12 28-25 62-34 84M788 1503c-9 22-12 29-20 53s-22 61-31 93"/>
<path stroke="#718c1f" d="M836 1430c-9 23-14 35-23 62M839 1377c-9 22-10 27-19 48s-23 57-32 78"/>
<path stroke="#1a2d9e" stroke-width="1.75" d="M1205 1183c-12 28-25 61-35 85s-15 36-24 56s-22 44-33 67M1200 1182c-11 25-23 52-34 77s-21 50-31 72s-19 42-29 63s-21 43-31 64s-18 33-31 61"/>
<path stroke="#1c38a6" stroke-width="1.81" d="M1113 1391c-12 23-25 46-38 71s-29 51-42 78s-28 57-39 83s-21 53-27 70s-6 12-10 31s-12 59-17 88s-8 55-12 83M1044 1519c-13 28-37 78-50 106s-17 41-25 62s-16 49-20 68s-5 20-9 43s-11 64-16 96"/>
<path stroke="#1f53b3" stroke-width="1.91" d="M1062 1135c-7 31-14 67-21 94s-10 47-17 70s-14 49-20 71s-13 36-20 55"/>
<path stroke="#1f64b5" stroke-width="1.96" d="M984 1425c-7 19-14 36-24 60s-23 59-33 82s-17 36-27 61s-25 65-33 92s-13 43-19 68s-15 57-22 86"/>
<path stroke="#24b558" d="M774 1820c-3 24-6 49-9 73M684 1789c-6 22-13 57-20 86"/>
<path stroke="#2bb54c" d="M994 1172c-11 27-25 57-35 80M798 1689c-6 24-10 39-14 61s-7 46-10 70M992 1171c-12 28-25 57-35 83M786 1729c-6 28-12 74-16 101s-6 42-9 63M990 1170c-8 20-14 36-25 60M698 1824c-7 27-9 36-13 54M935 1145c-13 25-27 54-39 76M713 1668c-8 28-13 53-18 73s-6 25-11 48"/>
<path stroke="#38b642" d="M959 1252c-9 23-16 41-25 60M824 1609c-8 25-19 57-26 80M957 1254c-11 25-19 45-29 69M805 1659c-5 19-13 41-19 70M965 1230c-10 24-24 59-36 87M778 1726c-5 23-10 55-14 83s-7 55-11 82M968 1160c-12 27-27 61-36 82M741 1755c-6 24-4 22-8 44s-11 57-16 86M967 1160c-8 18-15 32-25 53M744 1721c-6 27-13 70-18 97s-7 44-11 66M712 1802c-5 22-11 52-17 78M953 1153c-11 23-21 44-35 69M710 1791c-7 28-15 59-22 88M949 1151c-8 17-13 27-24 49M724 1717c-6 26-20 80-26 107M896 1221c-11 22-18 35-29 57M932 1144c-11 21-21 39-34 65M698 1726c-7 27-11 46-17 70s-12 52-18 78"/>
<path stroke="#46b738" d="M934 1312c-8 19-15 35-24 56M847 1539c-9 28-15 45-23 70M820 1615c-7 21-9 25-15 44M793 1670c-7 25-10 33-15 56M738 1808c-6 29-10 52-14 78M932 1242c-9 20-9 19-17 39M770 1649c-7 25-23 81-29 106M942 1213c-10 22-25 53-35 76M761 1655c-7 24-11 39-17 66M954 1153c-15 30-33 67-44 90M723 1748c-6 27-6 32-11 54M732 1707c-7 26-14 55-22 84M925 1200c-12 23-31 58-45 88M736 1672c-6 21-6 20-12 45M944 1149c-8 17-14 28-25 50M716 1726c-6 24-9 35-15 61s-13 60-20 91M936 1145c-11 24-24 50-34 71M707 1715c-8 28-16 60-23 86s-12 50-18 74M939 1146c-16 29-34 65-46 86M709 1716c-6 28-17 73-24 100s-10 40-15 60M867 1278c-11 23-23 52-36 80M742 1572c-11 32-21 68-29 96M898 1209c-14 26-34 63-47 90M720 1637c-7 27-16 63-22 89"/>
<path stroke="#54b82e" d="M910 1368c-9 21-19 41-29 70s-24 72-34 101M928 1323c-10 23-25 55-33 73M847 1530c-10 31-20 63-27 85M929 1317c-12 27-26 56-36 79M826 1578c-9 26-25 68-33 92M981 1166c-14 28-30 62-41 85M753 1815c-4 24-9 49-13 74M970 1161c-14 30-31 66-41 89M757 1714c-5 21-14 66-19 94M915 1281c-9 20-23 51-35 79M785 1606c-7 19-8 19-15 43M907 1289c-11 22-18 35-29 62M787 1575c-8 24-18 55-26 80M910 1243c-11 23-15 30-23 49M752 1642c-8 28-22 79-29 106M918 1222c-13 26-33 65-44 86M751 1636c-7 25-12 46-19 71M761 1592c-9 27-19 59-25 80M919 1199c-11 23-27 54-40 84M739 1641c-8 27-17 61-23 85M902 1216c-10 21-16 32-27 57M893 1232c-12 22-12 22-24 45M726 1649c-7 27-10 39-17 67M831 1358c-12 28-29 68-37 87s-5 10-14 31s-27 64-38 96M851 1299c-12 26-21 48-29 68M743 1561c-9 25-15 48-23 76"/>
<path stroke="#62b829" d="M895 1396c-8 18-7 14-15 37s-23 67-33 97M893 1396c-10 23-15 38-23 58s-15 41-23 62s-12 36-21 62M781 1677c-7 25-11 42-15 65s-9 48-13 73M929 1250c-11 24-13 28-22 50M765 1682c-6 20-4 11-8 32M811 1535c-10 26-19 51-26 71M811 1511c-8 21-15 40-24 64M887 1292c-8 18-18 40-27 61M771 1582c-6 19-11 32-19 60M874 1308c-10 20-8 16-18 39M773 1561c-7 22-15 51-22 75M880 1288c-14 30-28 64-39 90M789 1511c-10 25-20 54-28 81M763 1565c-8 23-16 49-24 76M732 1633c-8 27-17 54-25 82M869 1277c-11 24-32 72-43 98M754 1554c-7 21-20 68-28 95M822 1367c-9 20-13 33-22 53s-21 47-30 70s-19 47-27 71"/>
<path stroke="#72b729" d="M940 1251c-11 24-16 35-26 56M907 1300c-10 21-26 58-35 81M794 1590c-9 29-23 71-29 92M880 1360c-12 29-25 62-37 91s-23 58-32 84M878 1351c-12 26-30 70-41 96s-18 43-26 64M860 1353c-9 22-16 39-27 68s-32 79-43 106s-12 36-19 55M856 1347c-10 22-29 69-40 95s-17 43-24 63s-12 34-19 56M841 1378c-11 26-17 43-26 65s-17 43-26 68M879 1283c-14 29-31 71-41 94M788 1501c-10 24-17 41-25 64M875 1273c-11 26-28 68-39 95M759 1557c-7 20-18 50-27 76M826 1375c-11 25-13 31-23 55s-28 67-36 88s-6 14-13 36"/>
<path stroke="#82b629" d="M914 1307c-10 21-22 46-33 71M805 1593c-8 28-18 59-24 84M872 1381c-10 23-15 34-23 56s-19 49-28 75s-18 50-27 78M838 1377c-9 22-7 19-16 40s-24 59-34 84M836 1368c-11 27-16 42-26 66s-25 61-34 82s-10 22-17 41"/>
<path stroke="#92b528" d="M881 1378c-11 25-23 58-31 79s-11 28-18 51s-18 57-27 85"/>
<path stroke="#1e2fba" stroke-width="1.70" d="M1186 1177c-12 26-25 58-34 79s-10 25-21 49M1162 1169c-7 21-12 36-22 63s-27 70-38 96M1150 1165c-10 28-20 59-29 85s-20 52-29 73M1133 1159c-7 22-15 43-22 66s-16 47-24 70s-16 43-26 68M1053 1132c-4 23-7 42-12 69"/>
<path stroke="#2138c6" stroke-width="1.75" d="M1213 1186c-11 28-22 57-33 85s-27 62-36 81s-2 7-15 31M1185 1177c-8 19-15 35-24 57s-18 53-28 79M1131 1305c-11 25-34 74-45 98s-11 24-20 43s-23 47-34 71M1177 1174c-10 26-21 54-30 78s-14 38-26 64M1102 1328c-10 25-16 37-26 57s-20 41-32 67s-32 62-44 88M1092 1323c-10 21-16 34-26 55s-25 52-35 72s-15 29-24 49s-20 40-32 70M1061 1363c-10 24-23 55-33 78s-14 32-27 60s-35 81-46 109s-16 36-24 60s-19 64-24 84s-3 14-7 36s-13 63-19 95M1096 1147c-7 29-15 62-21 87s-10 38-17 61M1041 1201c-6 26-14 63-22 89s-13 43-22 68s-25 62-33 82s-7 16-17 40"/>
<path stroke="#2347d0" stroke-width="1.81" d="M1129 1383c-13 23-46 83-61 109s-17 31-26 47s-19 32-28 52s-18 40-27 67s-22 68-28 97M1133 1313c-10 27-21 55-32 80s-20 44-32 69s-28 53-42 79s-28 56-39 78s-17 35-24 53s-14 33-20 57M1032 1517c-11 24-21 42-34 71s-32 80-41 103s-5 10-10 30s-16 65-21 93s-10 52-14 78M1121 1316c-11 26-33 69-43 91s-8 16-20 39s-37 71-51 99s-24 52-33 73s-14 29-21 52s-18 55-23 80M1000 1540c-13 26-22 50-31 69s-11 24-19 48s-22 66-29 95s-10 60-14 83s-6 36-9 54M975 1569c-13 30-32 79-43 111s-14 52-19 76s-7 43-11 65s-8 44-12 66M1112 1152c-6 20-9 37-16 61s-15 57-24 84s-18 53-29 79M1106 1150c-7 30-16 67-22 90s-5 23-13 46s-21 62-32 91M1058 1295c-7 23-17 53-25 75s-15 39-23 59s-17 38-28 62M1090 1144c-6 18-10 28-18 54s-23 77-30 103M1079 1141c-7 24-13 45-21 73s-19 63-28 90s-18 50-24 70M947 1480c-10 23-30 74-41 102s-19 45-27 70s-17 56-23 80s-9 43-15 66s-11 51-16 76"/>
<path stroke="#2555d9" stroke-width="1.86" d="M959 1755c-7 29-8 55-12 78s-6 43-10 64M944 1729c-6 24-12 60-16 87s-6 51-9 77M930 1750c-6 25-9 46-12 69s-8 48-12 71M1043 1376c-11 26-23 53-34 76s-20 41-30 64s-23 48-33 72s-22 49-31 70s-13 34-19 56s-12 50-18 77M1039 1377c-12 29-26 58-38 82s-21 44-31 66s-21 47-30 67s-15 29-23 51s-19 51-27 81s-15 73-20 99s-7 39-10 58M982 1491c-10 24-24 56-36 82s-21 45-32 74s-26 71-34 98s-12 46-17 69s-9 43-14 65M1042 1301c-8 26-8 31-16 55s-19 61-30 89s-21 56-32 81s-21 49-31 71M1079 1141c-5 21-9 38-15 64s-13 60-21 89s-19 64-25 84s-6 19-15 39s-24 60-35 84M1006 1374c-7 19-9 22-18 45s-25 62-37 91s-24 60-33 84s-16 36-24 61s-19 62-26 86s-8 36-13 58"/>
<path stroke="#2667e0" stroke-width="1.91" d="M878 1791c-5 28-10 60-15 90M933 1597c-9 21-18 39-25 56s-12 23-20 51s-24 88-31 117s-8 38-12 57M968 1501c-10 25-16 41-27 66s-29 60-39 86s-15 36-23 64s-21 79-28 106s-7 36-11 54M855 1799c-4 23-10 52-16 78"/>
<path stroke="#2ae190" d="M1000 1175c-11 26-24 59-33 79M782 1832c-3 25-5 42-8 63"/>
<path stroke="#2ce17f" d="M1006 1178c-11 26-24 58-32 79M794 1803c-2 24-6 63-9 94M784 1840c-3 22-5 37-8 55M967 1254c-9 21-9 24-19 46M794 1742c-6 28-9 64-12 90"/>
<path stroke="#2de26e" d="M974 1257c-9 21-12 28-20 47M800 1752c-3 20-3 27-6 51M1002 1175c-9 20-18 39-27 59M812 1688c-7 26-12 51-17 77s-8 54-11 75M816 1659c-6 20-16 54-22 83M929 1142c-13 27-29 58-41 82M681 1778c-6 25-16 64-24 95"/>
<path stroke="#36e25e" d="M954 1304c-8 20-20 45-30 69M816 1685c-8 27-12 48-16 67M975 1234c-9 20-16 39-27 63M836 1608c-8 28-17 54-24 80M948 1300c-9 21-24 53-36 82M856 1535c-8 25-21 67-28 87s-7 18-12 37M999 1174c-9 21-18 40-27 61M783 1804c-4 27-9 60-13 90M764 1828c-4 22-7 42-10 63M888 1224c-11 24-20 40-29 60M716 1652c-8 27-13 48-19 69s-9 32-16 57"/>
<path stroke="#47e352" d="M847 1588c-7 24-24 69-31 97M912 1382c-12 29-27 67-36 92s-12 37-20 61M808 1677c-7 25-9 32-13 54s-7 45-12 73M988 1169c-13 28-28 62-38 84M774 1762c-6 28-7 45-10 66M986 1168c-14 30-30 64-41 89M759 1825c-3 23-5 44-8 66M976 1164c-10 21-17 37-29 63M749 1793c-5 28-10 63-15 95M744 1821c-5 22-9 44-13 66M744 1793c-4 24-11 62-16 94M963 1158c-12 26-24 52-36 78M721 1810c-4 22-9 49-13 73M957 1155c-10 22-19 40-30 65M724 1738c-7 26-10 42-14 66s-10 51-15 76M859 1284c-8 19-15 35-23 57"/>
<path stroke="#57e546" d="M924 1373c-11 24-22 46-32 74s-24 72-31 95s-6 22-14 46M948 1297c-11 24-26 56-37 82M860 1525c-8 26-16 56-24 83M972 1235c-10 21-20 44-30 66M950 1253c-10 22-10 23-20 46M798 1660c-7 26-18 74-24 102M769 1753c-5 27-6 49-10 72M750 1821c-5 26-7 45-10 68M762 1721c-5 24-8 45-13 72M976 1163c-11 22-21 43-32 66M756 1752c-4 23-8 46-12 69M972 1162c-9 20-18 40-27 60M753 1742c-4 20-5 27-9 51M729 1793c-6 28-11 60-17 91M732 1750c-7 29-7 38-11 60M748 1649c-8 28-18 63-24 89M950 1152c-12 26-25 55-36 79M720 1734c-7 27-14 58-19 82s-8 42-13 63M944 1149c-14 29-31 65-41 86M701 1789c-7 28-14 59-21 89M937 1146c-11 21-20 42-31 64M686 1798c-7 28-13 51-20 77M745 1563c-10 27-21 63-29 89"/>
<path stroke="#68e63a" d="M911 1379c-11 25-19 46-28 70s-15 49-23 76M942 1301c-10 21-20 41-30 63M836 1580c-6 22-21 71-28 97M930 1299c-10 22-30 67-40 89M816 1603c-6 20-11 31-18 57M945 1257c-11 24-16 36-26 59M790 1661c-7 27-16 65-21 92M981 1166c-11 28-25 60-35 83M766 1731c-6 26-12 64-16 90M978 1165c-8 18-14 32-25 55M763 1732c-6 29-12 72-16 98s-6 39-9 58M947 1227c-12 26-30 65-42 92M780 1653c-6 21-13 45-18 68M944 1229c-11 23-25 52-35 74M772 1683c-8 30-11 47-16 69M945 1222c-10 20-16 34-28 59M771 1669c-8 29-13 52-18 73M964 1158c-10 22-18 39-30 65M746 1712c-4 19-12 52-17 81M927 1236c-11 26-23 50-34 75M762 1636c-8 30-23 85-30 114M927 1220c-12 25-30 62-39 83M741 1658c-10 30-15 50-21 76M722 1707c-6 25-14 53-21 82M906 1210c-11 22-23 44-35 69M725 1639c-6 22-10 41-17 67s-15 64-22 92M836 1341c-9 21-18 47-28 72s-24 54-35 79s-19 44-28 71"/>
<path stroke="#7be534" d="M846 1542c-7 24-3 15-10 38M873 1431c-9 25-28 83-38 112s-13 41-19 60M919 1316c-11 22-27 57-35 76M812 1591c-7 22-15 43-22 70M946 1249c-9 23-15 37-23 56M784 1664c-7 22-13 40-18 67M953 1220c-10 23-27 59-38 83M782 1657c-6 21-13 46-19 75M905 1319c-12 26-22 49-30 67M798 1595c-6 20-12 37-18 58M909 1303c-10 22-16 35-25 55M805 1574c-9 31-24 80-33 109M917 1281c-12 26-29 63-42 93M801 1572c-8 26-22 69-30 97M934 1223c-11 26-30 66-40 89M755 1680c-6 19-4 13-9 32M893 1311c-12 26-25 56-35 78M785 1571c-8 22-14 35-23 65M888 1303c-9 21-10 21-18 41M775 1571c-9 23-18 50-27 78M914 1231c-12 24-22 46-31 67M903 1235c-10 22-10 20-20 43M742 1640c-8 25-13 42-20 67M744 1572c-6 20-13 45-19 67"/>
<path stroke="#8fe433" d="M912 1364c-11 23-21 44-32 73s-26 82-34 105M890 1388c-9 22-8 17-17 43M868 1428c-8 23-27 75-36 102s-13 39-20 61M923 1305c-8 19-15 34-24 55M809 1594c-8 22-17 47-25 70M797 1606c-8 26-10 30-15 51M875 1386c-8 18-7 15-17 40s-29 80-39 108s-14 41-21 61M884 1358c-9 20-18 42-27 66M830 1497c-9 25-15 46-25 77M875 1374c-13 30-26 63-35 87M819 1518c-6 18-10 29-18 54M894 1312c-10 23-13 29-21 48M781 1598c-9 26-20 63-26 82M858 1389c-9 22-15 36-22 55s-15 34-23 56s-19 48-28 71M870 1344c-9 19-20 47-32 75s-29 67-39 92s-16 37-24 60M883 1298c-9 21-17 38-25 59M776 1557c-10 27-26 72-35 101M883 1278c-10 24-29 69-40 98M770 1557c-8 23-20 59-28 83M871 1279c-12 26-27 58-39 84M764 1518c-10 24-13 34-20 54"/>
<path stroke="#a3e333" d="M884 1392c-9 19-7 13-16 36M899 1360c-10 21-19 42-31 71s-28 75-38 102s-14 39-21 61M915 1303c-10 23-16 35-26 58M833 1501c-10 28-27 80-36 105M857 1424c-10 23-19 48-27 73M840 1461c-9 24-14 38-21 57M808 1524c-11 29-18 48-27 74M858 1357c-9 21-17 41-27 65s-22 52-31 75s-15 33-24 60M843 1376c-12 28-21 51-30 73s-15 38-23 56s-12 30-20 52M832 1363c-12 26-20 45-31 71s-28 61-37 84"/>
<path stroke="#b7e232" d="M889 1361c-11 24-26 59-35 83s-12 30-21 57M873 1360c-7 19-15 37-26 64s-28 71-39 100"/>
</g>
<clipPath id="cp2"><rect x="1323" y="424.5" width="536" height="1435.5"/></clipPath>
<g class="sl" clip-path="url(#cp2)" stroke-width="1.25">
<path stroke="#163c81" stroke-width="1.19" d="M1527 1126c-11 17-1 16-4 39s-12 77-10 101s17 31 22 46"/>
<path stroke="#174883" stroke-width="1.22" d="M1766 1026c-11 20-23 30-36 40s-26 13-39 21M1799 965c-7 24-26 49-42 63s-41 17-55 22M1597 1184c1 18 16 47 21 64s3 20 4 34M1724 972c-8 13-10 16-20 24s-23 14-39 26M1727 932c-3 10-1 23-12 34s-36 23-50 32s-23 13-35 23s-29 22-42 38s-28 37-36 55s-9 30-9 51s6 52 9 75s5 45 8 60M1702 889c3 13 19 36 19 50s-13 24-20 35s-13 23-27 32s-42 15-57 24s-16 13-31 29s-49 49-59 67M1535 1312c4 16-1 32 4 47"/>
<path stroke="#175484" d="M1684 1110c-6 8-9 14-12 22s-4 13-9 25s-19 39-24 52M1800 945c-4 23-22 61-34 81M1691 1087c-13 7-28 16-38 24s-17 12-25 27s-23 44-25 61s4 21 9 36s13 35 19 53s13 42 15 57s-1 13-3 29M1799 885c1 22 7 56 0 80M1702 1050c-13 6-16 4-27 12s-28 27-38 40s-20 22-26 36s-15 28-14 46M1622 1282c2 15 2 34 3 54M1786 896c-2 16-7 32-12 50s-7 41-18 56s-37 29-50 39s-16 8-25 18s-22 30-32 45s-25 32-31 46s-2 18-5 34s-11 45-12 63s5 34 8 47s6 19 6 32M1763 986c-9 18-29 26-43 37s-25 16-40 27M1592 1189c-2 17-2 9-1 25M1771 944c-7 16-27 37-41 51s-29 22-42 32M1588 1192c-2 20-7 42-6 60M1749 884c0 12 3 21-1 35s-17 40-24 53M1665 1022c-16 13-42 34-56 50s-21 30-28 45s-9 24-12 42s-4 49-5 68s1 34 3 51s7 31 9 50M1729 924c-3 13-5 28-13 41s-25 26-35 34s-10 6-24 17s-43 32-57 48s-23 28-31 48s-14 53-16 72s-1 30 0 47s3 30 6 50M1733 905c-2 13-3 17-6 27M1560 1300c3 16 5 14 8 32M1704 859c3 14-5 17-2 30M1539 1359c5 15 19 30 23 43M1691 889c1 13 10 36 10 47s-6 12-11 20s-12 17-23 30s-30 34-47 50M1540 1128c-5 17-4 33-6 51s-3 39-5 59s-6 40-4 60s12 44 16 61"/>
<path stroke="#176182" d="M1756 1041c-18 22-37 30-49 42s-18 19-23 27M1639 1209c-4 13-6 12-6 28s5 47 6 64M1788 1010c-11 18-30 37-46 51s-36 24-49 34s-20 17-28 24M1638 1262c6 17 14 52 16 70M1790 888c2 18 14 34 10 57M1781 952c-4 19-7 32-15 44s-15 16-31 29s-52 34-66 48s-15 29-22 41s-13 16-18 29s-11 36-12 48s2 12 2 24s-2 27-1 49s4 63 5 82M1791 830c5 15 7 33 8 55M1625 1336c1 20 6 45 5 65M1787 852c2 20 2 28-1 44M1615 1326c0 14-5 30-5 51M1788 968c-3 17-6 23-19 36s-36 29-55 40M1746 982c-11 18-25 30-37 44s-27 30-36 41M1653 1092c-8 13-24 38-31 53s-7 19-11 32s-10 30-13 47s-7 37-7 54M1770 879c0 14 5 22 4 40s-2 50-11 67M1680 1050c-15 11-38 27-51 38s-19 11-25 28s-10 57-12 73M1591 1214c1 16 4 50 7 71s9 36 10 53M1773 901c0 18 5 27-2 43M1688 1027c-14 10-25 17-38 29s-34 29-42 41s-6 14-10 30s-7 44-10 65M1582 1252c0 18 6 32 7 47s2 30 2 46M1746 846c2 17 2 26 3 38M1576 1328c2 18 1 44 2 62M1732 841c0 15 0 30-1 44s0 26-2 39M1559 1281c2 21 6 52 8 71M1740 855c1 16-4 38-7 50M1568 1332c3 19 8 58 9 77M1688 803c3 14 14 41 16 56M1692 862c-2 14-3 15-1 27M1620 1036c-17 15-41 27-55 42s-20 34-25 50M1541 1359c4 17 8 30 10 42"/>
<path stroke="#166e7f" d="M1826 843c0 20-3 55-5 74s3 17-8 37s-39 66-57 87M1639 1301c1 18 0 27 0 40M1804 954c-2 25-6 38-16 56M1665 1119c-8 7-13 9-22 20s-24 29-28 44s1 34 5 47s12 15 18 32M1654 1332c1 17-2 16-6 34M1792 832c0 16-3 37-2 56M1643 1374c-2 16-6 46-11 66M1795 885c-3 20-9 49-14 67M1623 1346c1 19 4 17 2 33M1773 794c7 16 14 21 18 36M1630 1401c-1 19-8 32-13 51M1789 900c2 18 3 50-1 68M1714 1044c-19 11-44 18-59 26s-20 12-30 24s-19 30-25 47s-10 41-11 56s1 17 6 33s18 44 23 62s4 26 5 42M1778 863c0 14 2 36-3 56s-18 45-29 63M1673 1067c-10 11-12 12-20 25M1591 1278c-1 17-1 27 1 47M1770 834c2 17-1 31 0 45M1608 1338c1 17-3 32-4 47M1766 837c2 16 6 46 7 64M1591 1345c1 15 0 31 1 46M1738 780c4 19 6 49 8 66M1578 1390c2 19 6 30 6 48M1730 946c-3 11-4 16-11 24s-21 17-33 28M1567 1352c3 19 5 31 7 44s1 16 1 30M1721 930c-2 11-2 13-7 25s-13 33-24 46s-29 17-46 29M1562 1105c-8 18-18 57-22 78s-6 28-3 47s17 52 22 67M1728 808c4 19 11 31 12 47M1577 1409c1 18-3 21-4 35M1716 918c-2 14 0 16-3 25s-11 19-17 29s-7 18-16 28s-25 14-41 28M1583 1081c-15 19-30 44-38 59s-5 16-7 35s-7 58-4 80s17 40 22 55M1688 775c2 14-3 14 0 28M1562 1402c5 12 3 18 4 31M1707 806c-1 18-12 42-15 56M1551 1401c2 12 0 15 1 30"/>
<path stroke="#167a7c" d="M1338 858c0-19 0-39 1-56s4-34 5-47M1581 675c4-6 15-17 25-14s27 20 35 29s6 17 13 26s19 18 29 27M1583 667c8-4 29-3 39 4s19 26 24 36s0 15 4 24M1669 705c4 11 6 19 12 33M1582 675c13 0 16-5 30-5s37-5 50 3s20 30 30 45M1820 800c4 19 6 24 6 43M1639 1341c0 14-1 23 0 43M1805 862c-1 20 2 67-1 92M1791 792c2 20 1 24 1 40M1799 828c2 18-1 36-4 57M1773 775c5 23 12 57 14 77M1610 1377c-1 21 4 52 4 73M1780 857c4 19 8 24 9 43M1623 1334c0 16-1 35-3 54M1781 834c-1 16-2 15-3 29M1592 1325c3 19 11 52 14 70M1759 780c4 20 9 38 11 54M1604 1385c-1 16-2 31-2 47M1761 810c5 16 3 12 5 27M1592 1391c1 16 5 29 6 44M1732 905c-2 16 0 30-2 41M1686 998c-13 11-28 22-45 37s-43 40-56 55s-13 24-17 38s-4 28-6 51s-5 60-4 82s5 34 8 50s7 30 8 46M1729 796c3 16 3 31 3 45M1721 888c-1 16 1 31 0 42M1644 1030c-17 13-41 32-55 44s-18 13-27 31M1559 1297c4 15 2 12 5 25s9 35 11 55M1729 861c-1 19-10 44-13 57M1639 1028c-16 14-40 35-56 53M1556 1310c5 15 4 22 7 36M1566 1433c1 14 3 33 3 50"/>
<path stroke="#167d72" d="M1344 755c2-12 1-14 5-29s13-45 20-62M1583 701c2-7-6-19-2-26M1573 692c4-7 2-22 10-25M1650 731c4 9 17 21 18 31M1681 738c6 14 28 38 26 49M1532 671c9-6 36 4 50 4M1802 733c6 18 14 49 18 67M1639 1384c0 20 3 60 3 79M1811 768c5 23-1 50-2 65s-3 9-4 29M1648 1366c-4 18-12 53-16 72M1779 714c4 19 10 58 12 78M1632 1440c-5 21-12 36-17 57M1781 773c6 22 15 36 18 55M1625 1379c-1 16-9 44-12 64M1750 736c4 15 16 43 23 58M1760 788c4 16 15 50 20 69M1781 769c5 22 0 49 0 65M1606 1395c3 18 2 22 3 38M1584 1438c1 18-2 42-3 62M1741 853c0 19-7 37-9 52M1574 1357c1 17-1 40-1 54M1575 1426c0 15-2 37-2 55M1728 836c0 20-6 36-7 52M1713 742c4 15 10 47 15 66M1573 1444c-1 14 1 31-2 49M1563 1346c3 13 10 32 12 47M1676 722c3 13 10 40 12 53M1552 1431c1 15 5 40 7 59"/>
<path stroke="#178067" d="M1369 664c8-18 18-31 26-41M1662 757c-8-2-18-5-26-5M1571 717c1-8 11-9 12-16M1561 705c4-4 9-7 12-13M1668 762c1 10-3 26-12 28M1707 787c-2 11-22 22-38 19M1642 1463c0 18-1 17-3 31M1617 1452c-4 18-11 43-14 60M1762 719c7 17 7 34 11 56M1614 1450c0 22-4 37-6 54M1620 1388c-2 19-5 43-8 61M1602 1432c0 16 3 32 3 49M1734 744c8 21 21 51 27 66M1598 1435c2 16 4 30 3 48M1720 733c6 14 14 28 18 47M1732 793c3 18 9 41 9 60M1573 1411c0 13 1 15 2 27M1718 750c4 14 9 31 11 46M1575 1377c1 20-1 47-2 64M1723 802c1 13 7 39 6 59M1575 1393c1 15-1 24-2 43M1699 754c3 15 9 34 8 52"/>
<path stroke="#17815d" d="M1636 752c-8 1-11 9-21 8s-29-5-37-12s-8-23-7-31M1656 790c-9 1-32-11-43-18M1669 806c-15-3-38-27-53-36M1581 747c-14-9-45-22-53-34s-5-35 4-42M1784 692c13 19 12 23 18 41M1777 697c12 18 28 48 34 71M1632 1438c-4 19-5 27-7 44M1766 681c9 13 9 15 13 33M1763 699c6 17 12 53 18 74M1613 1443c-2 20-1 42-2 57M1744 706c7 15 1 15 6 30M1752 761c4 14 3 11 8 27M1609 1433c1 16 2 35 2 55M1744 718c5 17 11 43 15 62M1573 1481c-1 18-1 38-3 54M1723 772c2 15 6 45 5 64M1702 716c7 10 7 11 11 26M1720 780c5 13 1 8 3 22M1569 1483c1 18 1 38-2 54"/>
<path stroke="#188253" d="M1395 623c8-11 13-13 21-24M1387 859c0-15 0-30 0-44s2-29 3-42s1-21 5-36M1349 857c0-11-1-18-1-34s1-44 4-62s4-30 11-48M1460 859c0-16 0-36 0-49s0-23 1-34M1461 859c0-15-1-32-1-44s0-18 1-28s3-21 5-32M1613 772c-11-8-15-19-25-27s-21-13-32-20M1616 770c-15-10-20-13-35-23M1639 1494c-2 14-2 34-8 54M1603 1512c-3 16 1 26-2 40M1731 671c11 15 24 30 31 48M1608 1504c-3 18-4 33-8 50M1612 1449c-3 19-6 36-10 52M1750 702c10 17 26 45 31 67M1605 1481c-1 17-3 35-8 54M1601 1483c-1 18-4 41-8 60M1705 696c10 12 10 23 15 37M1581 1500c-1 19 0 38-3 54M1722 744c4 15 7 30 10 49M1575 1438c1 13 4 29 3 48M1705 711c7 14 9 24 13 39M1573 1441c-1 18-1 26-2 43M1571 1493c-2 19-7 47-11 62M1573 1436c-2 19-5 55-7 72M1687 715c3 11 9 23 12 39M1559 1490c1 19 6 41 4 56"/>
<path stroke="#198249" d="M1395 737c4-15 13-44 18-57M1363 713c6-17 18-42 28-58M1349 857c0-16 0-33 0-47s1-24 4-38s6-34 12-50M1377 857c0-11-1-19 0-34s2-41 4-55s2-16 7-29M1403 858c0-14 0-31 0-43s-1-19 0-34s5-39 8-53M1404 858c1-13 0-23 2-38s7-43 9-56s2-13 5-23M1440 859c0-13 0-27 0-39s1-19 3-33M1453 859c1-13 1-24 3-38s3-31 5-44M1461 776c1-11 2-20 4-30s7-24 10-31M1466 755c3-10 5-19 10-30s15-28 22-37M1625 1482c-3 17-3 35-8 57M1724 638c20 13 33 30 42 43M1615 1497c-5 21-9 49-14 68M1611 1500c-1 15 2 18-2 33M1736 703c8 19 12 43 16 58M1611 1488c0 20 1 50-2 67M1729 679c10 13 10 22 15 39M1715 686c5 13 11 38 19 58M1717 743c6 13 4 13 6 29M1696 723c8 16 19 44 24 57M1667 693c7 10 5 15 9 29"/>
<path stroke="#1a823f" d="M1413 680c4-12 2-6 9-16M1448 858c0-13-1-26 0-39s1-25 3-40s4-28 9-45s16-42 22-56M1348 857c0-13 0-24 1-38s-1-26 0-43s3-36 8-55M1391 655c10-15 18-24 30-35M1365 722c6-17 15-37 23-52M1388 739c5-14 13-38 21-52s12-24 24-36M1385 858c1-12 1-18 2-34M1385 858c0-13 1-27 1-40s2-24 4-38s5-30 10-45M1411 728c4-15 4-19 12-32M1420 741c2-11 4-26 10-41s20-38 29-49M1426 858c0-12-1-20-1-35s0-42 1-55s1-14 3-23M1443 787c2-13 7-36 10-48s5-17 9-25M1461 777c2-13 4-24 7-34s5-18 8-27M1475 715c3-8 2-7 8-15M1587 673c14 0 32 0 48 0M1722 623c18 16 48 51 62 69M1747 671c14 13 11 11 16 28M1710 644c12 20 28 46 34 62M1602 1501c-3 15-4 24-9 42M1578 1486c0 18-4 42-8 62M1571 1484c-2 17-5 41-8 58M1668 680c13 11 26 26 34 36M1566 1508c-2 17-4 19-6 31M1567 1537c-3 17-6 30-14 46"/>
<path stroke="#1f8336" d="M1436 858c0-16-1-32 1-49s5-38 7-52M1482 678c7-14 10-16 17-28M1357 721c5-20 13-43 22-61s19-31 33-44M1421 620c12-11 29-22 44-29M1388 670c7-14 12-23 24-35s29-30 47-40M1387 824c1-16 3-46 4-62s3-21 6-32s4-21 10-34M1400 735c4-14 7-28 15-43M1423 696c7-14 20-36 32-48M1429 745c2-10 3-20 8-32s11-25 19-36M1462 714c3-9 6-16 12-25M1476 716c4-9 9-19 13-27M1483 700c5-7 16-24 23-31M1498 688c6-9 9-12 16-17M1552 671c14 0 21 2 35 2M1631 1548c-5 20-16 46-26 65M1741 657c12 13 24 21 36 40M1601 1552c-3 14-8 28-16 45M1696 630c14 10 24 26 35 41M1722 667c9 11 19 18 28 35M1597 1535c-4 19-10 44-17 60M1703 667c11 9 7 6 12 19M1664 657c12 9 32 26 41 39M1710 703c6 12 9 26 12 41M1671 666c11 15 26 31 34 45M1570 1535c-2 16-3 26-8 41M1686 691c9 13 25 38 31 52M1560 1555c-4 14-5 14-10 25M1680 688c6 10 4 16 7 27"/>
<path stroke="#29832f" d="M1416 599c7-10 20-28 24-40M1422 664c7-10 22-30 31-44M1444 757c3-15 4-20 8-33s10-29 15-41M1412 616c14-12 38-26 51-32M1465 591c14-7 26-10 46-13M1711 622c14 13 26 31 39 47M1433 651c12-13 34-30 48-39M1407 696c6-13 15-33 25-46M1415 692c8-16 21-38 33-50M1455 648c12-12 30-20 41-26M1459 651c9-11 13-13 25-18M1474 689c6-8 14-22 22-29M1489 689c5-8 6-14 14-21M1506 669c7-7 12-7 19-9M1514 671c7-5 19-10 27-12M1708 777c-12 7-23 19-37 21M1503 672c11-7 35-1 49-1M1677 621c16 11 55 37 70 50M1609 1533c-4 15-13 38-21 57M1600 1554c-3 17-8 38-15 54M1708 645c9 19 21 39 28 58M1609 1555c-3 18-9 26-16 39M1680 639c17 13 38 26 49 40M1593 1543c-5 19-8 35-17 53M1578 1554c-3 17-12 33-17 44M1628 651c12 6 28 18 40 29M1672 681c7 10 15 26 24 42M1636 661c10 10 25 22 31 32M1563 1546c-1 16-6 22-13 36"/>
<path stroke="#328428" d="M1432 858c0-11-1-17 0-32s3-40 5-57s5-32 11-48M1467 683c5-12 9-19 15-30M1441 858c1-19 2-44 3-58s0-11 2-24s6-39 10-55s11-31 17-43M1733 639c10 12 22 33 32 50M1459 595c18-10 42-16 61-20M1481 612c14-8 24-9 38-13M1432 650c11-13 24-25 40-34M1448 642c11-13 24-21 36-28M1496 622c10-5 13-5 24-7M1484 633c12-5 31-10 46-13M1456 677c9-12 24-26 34-33M1496 660c8-7 14-10 24-13M1525 660c8-3 13-6 25-7M1541 659c8-3 10-4 21-5M1671 798c-14 1-34-10-49-14M1487 712c-5-15 6-33 16-40M1617 1539c-5 22-15 56-22 75M1648 605c22 5 57 20 76 33M1601 1565c-5 19-11 33-18 48M1649 609c16 7 34 10 47 21M1651 629c17 13 42 28 52 38M1632 638c14 5 19 9 32 19M1685 676c8 9 18 16 25 27M1597 644c10 3 19 1 31 7M1560 1539c-2 13-1 26-7 43M1648 661c13 6 25 18 32 27"/>
<path stroke="#3c8421" d="M1448 721c5-17 16-39 22-52M1482 653c7-12 19-23 25-37M1473 678c5-12 9-17 17-29M1499 650c7-11 19-28 25-41M1463 584c14-7 17-7 32-9M1511 578c19-4 50-7 71-6M1669 595c12 6 29 15 42 27M1693 613c11 10 30 30 45 45M1519 599c15-3 31-6 47-7M1689 630c12 9 20 19 30 28M1484 614c13-7 26-10 39-12M1678 643c14 9 26 24 39 35M1490 644c10-7 15-8 28-10M1503 668c8-6 24-13 36-17M1641 668c9 5 22 14 33 21M1562 654c11 0 33 0 45 1M1622 784c-14-3-20-4-35-8s-37-4-53-15s-42-34-47-49M1676 599c15 8 28 9 46 24M1593 1543c-5 17-15 49-20 64M1580 631c17 2 38 3 52 7M1659 666c11 7 17 12 27 25M1563 1542c-2 17-4 32-8 45M1550 1580c-4 11-9 25-17 41M1598 653c17 3 36 2 50 8"/>
<path stroke="#47841e" d="M1470 669c7-13 11-18 18-28M1495 575c14-2 36-6 57-5M1708 617c12 8 16 10 25 22M1582 572c21 1 42 7 57 10s18 6 30 13M1520 575c20-4 43-4 56-4M1648 607c13 6 29 15 41 23M1472 616c15-8 39-12 52-15M1679 634c12 9 25 23 38 34M1520 615c11-2 28-4 42-5M1530 620c16-2 31-4 45-4M1518 634c12-3 35-6 46-7M1520 647c11-3 30-7 41-8M1539 651c11-4 23-4 33-4M1550 653c11-1 33-2 45-1s18 5 26 7s11 4 20 9M1607 655c12 2 18 7 27 10M1597 607c17 0 30-8 51-2M1577 607c24 0 55-2 72 1s11 3 28 13M1561 1598c-4 11-6 11-12 23M1570 1548c-4 20-10 42-15 58M1562 1576c-6 15-16 33-24 49M1654 667c11 7 11 5 18 14M1553 1583c-8 16-24 38-33 52"/>
<path stroke="#52841e" d="M1453 620c9-15 19-27 24-43M1552 570c21 0 51 4 70 7M1664 592c15 6 33 17 44 25M1576 571c14 0 9-2 25 3s55 18 71 25s10 4 21 14M1566 592c16 0 36 2 49 5s21 4 33 10M1524 601c13-3 16-2 27-3M1689 637c13 8 18 15 27 23M1523 602c14-3 31-5 44-5M1562 610c13 0 24 0 37 2s27 6 40 11s26 11 39 20M1575 616c14-1 26 0 38 2s24 7 35 11M1561 639c11-1 13-1 23 0s24 4 36 8s24 10 37 16M1572 647c11 0 18 1 27 3s19 5 30 10s24 15 37 22M1605 1613c-10 19-26 35-35 47M1583 1613c-6 16-16 32-22 45M1585 1597c-8 17-25 41-33 56M1585 1608c-8 16-22 29-30 43M1593 1594c-8 13-19 26-29 39M1580 1595c-6 17-11 25-20 40M1578 637c15 4 31 7 45 12s26 10 36 17M1564 634c14 2 27 1 42 6s37 20 48 27M1550 1582c-6 14-18 35-25 49"/>
<path stroke="#5e831d" d="M1440 559c4-11 1-13 1-28M1488 641c6-10 15-20 20-32M1490 649c7-12 22-28 28-43M1524 609c6-12 6-21 8-35M1622 577c19 4 28 8 42 15M1551 598c11 0 24-1 39 2M1642 612c16 7 35 17 47 25M1567 597c12-1 19 0 32 3s32 8 45 14s23 11 35 20M1564 627c12-1 10-2 22 0s35 7 48 12s18 8 28 12M1595 1614c-7 19-11 23-19 37M1588 1590c-8 19-18 39-28 58M1576 1596c-9 18-28 41-37 54"/>
<path stroke="#6a831d" d="M1507 616c6-14 11-29 14-46M1590 600c15 2 35 6 52 12M1573 1607c-6 16-5 11-13 27M1549 1621c-7 12-17 31-26 48M1555 1587c-3 13-8 20-15 33M1533 1621c-7 16-18 35-28 54M1520 1635c-9 14-12 18-19 31"/>
<path stroke="#72811c" d="M1561 1658c-7 13-8 19-16 35M1552 1653c-8 16-9 22-14 35M1555 1651c-9 14-14 26-22 41M1538 1625c-9 17-17 33-27 51M1553 1582c-6 18-21 47-28 62"/>
<path stroke="#797f1c" d="M1441 531c0-16-2-50-3-67M1477 577c5-16 4-35 6-54M1508 609c5-12 8-27 9-39M1532 574c2-13 2-30 2-45M1570 1660c-9 13-11 16-19 27M1576 1651c-8 13-17 28-28 43M1564 1633c-10 14-18 23-29 40M1560 1635c-10 15-27 34-37 51M1539 1650c-9 13-8 10-16 24M1555 1606c-6 15-14 26-21 36M1525 1631c-7 14-8 20-16 33"/>
<path stroke="#807e1b" d="M1438 464c-1-17-1-23-2-34M1518 606c7-16 9-37 10-52M1560 1648c-9 19-23 43-30 56M1538 1688c-6 13-12 27-20 42M1560 1634c-8 16-26 52-36 71M1540 1620c-6 14-14 29-24 47M1501 1666c-7 13-16 31-24 46"/>
<path stroke="#867c1b" d="M1521 570c2-17 2-41 2-55M1534 529c1-15 0-27 1-44M1545 1693c-9 16-27 43-36 60M1533 1692c-9 16-22 39-29 53M1523 1669c-10 17-23 35-31 52M1534 1642c-6 11-9 12-17 27M1505 1675c-9 20-23 48-29 63M1525 1644c-7 15-7 16-13 28M1477 1712c-8 15-19 27-25 44M1509 1664c-7 14-20 33-29 49"/>
<path stroke="#89741a" d="M1517 570c2-13 1-20 1-38M1551 1687c-8 12-20 29-28 43M1548 1694c-10 14-23 31-33 45M1530 1704c-7 13-6 4-13 20M1523 1686c-11 18-20 37-27 53M1523 1674c-8 15-23 46-31 63M1511 1676c-9 18-21 42-29 58"/>
<path stroke="#896b19" d="M1483 523c1-18 2-41 3-57M1523 515c1-15 1-19 1-33M1528 554c2-16 0-28 0-41M1535 485c0-16 0-37 0-55M1518 1730c-7 15-20 35-27 50M1535 1673c-11 16-25 38-35 57M1492 1721c-9 16-14 31-21 49M1476 1738c-6 15-4 15-7 28M1452 1756c-6 18-8 44-12 63M1480 1713c-10 16-20 30-26 46"/>
<path stroke="#8a6118" d="M1518 532c0-18-1-51-1-68M1524 482c0-14-1-35-1-52M1528 513c0-12 0-20 0-34M1509 1753c-9 17-12 27-17 40M1517 1724c-6 15-20 56-26 72M1491 1780c-7 16-9 27-14 43M1504 1745c-8 13-9 12-15 28M1524 1705c-9 19-15 28-21 42M1496 1739c-7 15-10 25-15 40M1492 1737c-8 17-10 24-15 38M1471 1770c-6 19-14 45-19 63M1517 1669c-8 15-22 43-30 62M1482 1734c-8 17-10 23-16 41M1516 1667c-9 17-23 37-33 58M1469 1766c-4 13-8 32-13 50M1512 1672c-6 11-14 24-24 43M1440 1819c-4 20-9 36-14 54M1454 1759c-6 17-7 32-12 51"/>
<path stroke="#8a5817" d="M1486 466c1-16 1-24 1-36M1523 1730c-9 15-17 31-23 46M1492 1793c-6 13-12 24-18 39M1477 1823c-6 17-13 40-19 59M1489 1773c-6 17-14 53-20 71M1500 1730c-10 20-20 40-25 58M1481 1779c-5 15-11 33-15 51M1477 1775c-4 14-7 28-11 45M1452 1833c-5 18-7 30-10 45M1466 1775c-5 17-13 47-17 64M1456 1816c-5 19-11 41-17 61M1442 1810c-4 19-10 42-15 63"/>
<path stroke="#8a4e16" d="M1517 464c0-17 0-23 0-34M1528 479c-1-14-1-33-2-49M1500 1776c-6 15-8 27-14 45M1515 1739c-9 15-17 28-23 42M1474 1832c-6 15-11 34-16 50M1491 1796c-6 17-4 15-10 29M1469 1844c-6 18-10 25-15 37M1503 1747c-7 14-12 29-17 42M1466 1830c-5 17-7 34-11 51M1466 1820c-4 18-9 41-13 61M1449 1839c-5 17-7 25-11 38M1483 1725c-9 20-19 48-25 64M1488 1715c-9 18-23 50-30 68"/>
<path stroke="#894515" d="M1486 1821c-5 19-11 43-17 64M1492 1781c-6 14-8 25-12 43s-8 41-11 61M1481 1825c-5 14-15 38-23 57M1486 1789c-5 14-8 22-13 38s-14 36-21 54M1475 1788c-6 17-7 30-10 46s-6 32-8 48M1487 1731c-9 19-16 38-22 53M1458 1789c-6 16-6 17-10 32M1458 1783c-8 19-10 27-14 43"/>
<path stroke="#883b14" d="M1465 1784c-5 15-8 22-13 37s-8 37-13 56M1448 1821c-4 14-8 37-12 55M1444 1826c-4 15-7 33-10 49"/>
<path stroke="#1a359a" stroke-width="1.13" d="M1842 937c-7 19-24 63-43 86M1648 1197c-1 15-4 31-5 43M1654 1174c-3 11-6 20-8 32s-4 24-4 37"/>
<path stroke="#1c3fa2" stroke-width="1.16" d="M1840 907c3 19 9 11 2 30M1799 1023c-20 22-56 35-74 47M1653 1154c-2 11-3 29-5 43M1643 1240c-1 12-1 16 0 29M1666 1136c-7 15-9 26-12 38M1642 1243c-1 12 1 23 2 40"/>
<path stroke="#1d4da6" stroke-width="1.19" d="M1821 821c5 19 16 67 19 86M1725 1070c-17 11-22 13-33 23s-24 27-30 37s-7 12-9 24M1643 1269c1 14 5 28 5 50M1827 911c-3 22-4 36-15 56s-37 48-54 66s-37 31-48 40s-11 4-18 15s-20 34-26 48M1644 1283c0 16 1 40 0 56"/>
<path stroke="#1d5da9" stroke-width="1.22" d="M1648 1319c1 21-2 60-3 81M1818 776c5 17 8 37 9 60s2 53 0 75M1644 1339c0 16-1 19-3 39M1838 890c1 19 1 38-7 61s-30 57-44 74s-23 16-41 24M1639 1180c0 11 3 32 4 49s3 38 2 53"/>
<path stroke="#1e6dab" d="M1814 792c6 17 3 9 7 29M1825 840c9 21 12 32 13 50M1746 1049c-19 9-53 18-68 29M1652 1115c-6 14-7 36-9 47s-4 7-4 18M1645 1282c0 16-4 23-6 41M1774 1011c-11 15-33 43-47 57s-26 19-37 28s-24 16-32 27M1768 957c-8 18-26 37-37 50s-15 17-30 28s-44 28-59 38s-19 9-28 20s-21 28-27 45s-6 38-6 55s1 22 4 42s8 58 11 77"/>
<path stroke="#1d7da8" d="M1645 1400c-1 20-3 27-4 41M1801 731c7 15 13 27 17 45M1641 1378c-2 19-6 60-8 78M1678 1078c-16 11-20 23-26 37M1639 1323c-2 17-4 42-6 65M1809 907c-1 22-11 53-17 71s-7 18-18 33M1658 1123c-8 11-14 25-19 36s-6 19-11 32s-12 36-15 52M1767 866c4 14 8 18 8 33s0 40-7 58M1596 1312c3 19 4 24 6 39"/>
<path stroke="#1d8ea4" d="M1782 719c9 21 25 56 32 73M1641 1441c0 15 2 29 0 48M1797 846c5 18 13 39 12 61M1613 1243c-2 16-1 32 1 47s6 28 8 45M1805 883c2 22 10 53 3 75s-29 43-46 60s-40 33-56 44s-33 10-45 18M1607 1204c0 13 1 18 3 30s4 26 8 41s14 31 16 51M1774 861c-1 19 3 52 1 71s-4 27-13 41s-28 28-43 43s-32 31-46 46s-24 28-33 39s-16 15-23 26s-16 23-20 37s-6 30-7 47s-2 35-1 54s3 42 7 61M1791 947c-6 20-34 44-48 58s-27 14-42 23s-31 23-43 32M1605 1135c-5 19 0 44-1 59s-7 20-8 34s6 31 7 51M1752 811c4 18 11 40 15 55M1602 1351c3 14 7 29 7 48M1744 950c-4 14-9 29-20 42s-32 25-45 34M1582 1153c-6 15-11 21-12 39s3 48 5 68"/>
<path stroke="#1c9ea0" d="M1593 646c13 3 34 21 45 32s11 23 19 33s22 16 30 29M1607 682c11 0 19-12 32-10s42 13 50 24s4 30 2 40M1641 1489c-2 20-2 45-9 67M1774 682c11 16 19 33 27 49M1633 1456c-1 18 0 12-2 30M1783 763c10 19 33 56 42 77M1622 1335c3 17 8 36 9 57M1790 962c-6 23-17 50-31 68s-40 25-53 35s-19 13-29 21s-24 18-34 28M1610 1184c-1 13-6 28-3 44s11 35 16 52s12 32 14 49M1661 1080c-12 9-18 23-27 35s-18 25-23 40s-4 36-4 49M1634 1326c2 20-2 47-3 69M1779 819c-1 14-4 23-5 42M1596 1326c4 20 14 37 17 55M1782 881c3 20 16 45 9 66M1658 1060c-12 8-20 7-29 19s-20 36-24 56M1603 1279c0 21-2 56-3 73M1609 1399c0 18-4 44-6 63M1758 865c0 16-4 31-6 45s-3 26-8 40M1679 1026c-13 9-20 9-32 21s-32 36-43 54s-16 36-22 52M1575 1260c2 19 6 34 7 49s-1 21 0 38M1745 891c1 15-2 39-3 52s4 17-4 29s-33 34-45 44s-13 8-29 19s-54 28-69 44s-17 33-23 52s-13 43-14 61s4 31 7 46s7 23 11 42M1738 910c4 16 11 41 7 56s-20 27-29 36s-13 10-25 18s-31 20-47 30s-32 17-48 32s-38 41-47 60s-7 40-6 57s7 28 14 45s17 36 23 56M1738 924c-2 14-9 28-17 42s-20 27-32 39s-24 23-37 32s-29 14-41 25s-21 20-29 37s-13 40-18 64s-13 63-14 81s6 10 9 27"/>
<path stroke="#1da193" d="M1689 742c-9 5-19 8-26 13M1561 664c4-9 19-20 32-18M1687 740c8 12 13 29 20 44M1600 686c9 2 16 2 26 6s25 10 35 18M1574 675c11 0 22 8 33 7M1691 736c-3 10-13 11-15 21M1633 1388c-2 22-3 54-4 69M1782 796c4 20 11 31 15 50M1631 1392c1 21-3 52-4 70M1797 890c0 19 0 49-7 72M1643 1114c-10 11-21 23-27 34s-4 22-6 36M1637 1329c1 17-6 36-7 54M1796 826c5 17 7 35 9 57M1613 1381c3 18 4 35 3 52M1775 828c4 15 4 33 7 53M1600 1352c-1 16-6 9-5 27M1747 761c2 15 2 33 5 50M1766 867c2 20 1 57-5 75s-21 24-30 33s-13 10-24 20s-27 27-40 41s-27 24-40 42s-28 45-36 63s-10 28-14 45s-9 41-11 55s-3 15 0 31s12 46 18 67M1582 1347c1 16 6 48 8 63M1737 852c1 17 7 24 8 39M1576 1280c3 18 7 50 9 68s1 23 1 39M1724 873c2 18 11 22 14 37M1580 1300c5 20 6 46 8 64M1733 884c0 14 7 27 5 40M1559 1271c3 17 6 57 9 74s2 11 5 28"/>
<path stroke="#1da585" d="M1350 858c0-17-1-36 0-51s-1-19 1-35M1639 676c13 5 26 19 39 29M1663 755c-6 5-5 12-12 17M1570 700c-1-10-13-27-9-36M1572 678c10 0 19 5 28 8M1661 710c10 9 22 25 24 36M1603 684c11 3 18 5 30 10s25 14 38 20M1541 687c1-8 22-11 33-12M1676 757c-2 10 9 31 2 39M1761 668c9 16 12 31 21 51M1631 1486c-2 18-4 54-10 77M1629 1457c-1 16-2 9-2 25M1796 851c2 14 2 21 1 39M1775 780c5 13 16 29 21 46M1631 1395c-1 22-2 47-5 63M1776 778c5 16 3 28 3 41M1759 791c6 15 12 22 16 37M1595 1379c2 17 10 57 12 75M1584 1339c6 21 16 43 19 59M1752 814c3 17 6 35 6 51M1590 1410c2 15 3 15 3 27M1727 802c-1 18-5 52-3 71M1588 1364c2 18 5 33 5 46M1740 837c0 18-6 32-7 47"/>
<path stroke="#1ea778" d="M1336 857c1-19 1-41 2-56s2-24 4-38s4-35 7-51M1343 858c1-18 1-39 2-53s0-14 2-29s6-46 9-61M1351 772c2-16 6-48 10-63s4-16 12-30M1383 858c0-14-1-29 0-44s1-32 3-45M1592 690c6-4 11-12 20-12s26 6 35 13s16 21 18 29s-1 15-3 21M1588 695c4-5 6-15 15-18s24-6 36-1M1651 772c-7 6-18 18-30 17M1569 724c-1-11 2-14 1-24M1542 684c6-6 21-6 30-6M1685 746c2 10-4 23-12 27M1566 675c11-1 26 6 37 9M1566 725c-8-13-27-30-25-38M1678 796c-6 9-28 18-42 13s-34-32-44-45s-14-23-21-34M1732 632c18 14 30 34 42 50M1770 723c7 18 4 20 13 40M1627 1482c-1 15 3 47-2 70M1772 727c4 20 6 50 10 69M1627 1462c-1 19-1 25-2 42M1786 803c3 22 8 33 10 48M1630 1383c-1 17 1 31-2 50M1616 1433c0 18-5 32-8 52M1739 723c8 17 6 23 8 38M1603 1462c-3 19-9 38-11 51M1754 825c4 14 11 23 12 42M1603 1398c3 16 2 21 0 39M1740 764c4 16 9 34 12 50M1738 789c2 20-2 46-1 63M1586 1387c0 16-2 37-3 56M1593 1410c1 14 1 23-1 37M1732 780c4 16 8 40 8 57M1573 1373c3 18 12 60 13 78"/>
<path stroke="#1fa76b" d="M1349 712c4-16 9-31 16-45s12-24 22-37M1356 715c3-16 2-17 10-33M1373 679c7-14 25-41 34-54M1369 858c0-18 1-41 1-55s1-17 2-29M1373 858c1-17 0-40 1-52s-1-9 1-24s8-52 12-68M1386 769c1-14 2-24 5-36s6-26 10-38M1426 858c0-12 0-22 0-35s0-26 3-44s7-44 12-62s12-33 20-47M1458 858c0-17-1-39-1-52s0-12 2-25s8-41 13-57s12-27 17-37M1361 857c0-10-1-14-1-31s2-50 4-67s2-16 7-32M1361 857c-1-16-2-34-2-49s1-28 3-40s3-22 8-36M1370 857c0-13-2-24-1-40M1379 857c0-12-1-24 0-38s-1-28 1-45M1422 858c0-14 0-31 1-43s-1-17 1-30M1467 859c0-16-1-36-1-50s0-20 1-31M1594 683c5 1 14 5 19 9s9 11 11 15M1662 741c-1 6-3 9-5 15M1579 709c3-6 5-9 9-14M1621 789c-13-2-36-17-45-28s-5-27-7-37M1537 714c-4-10-1-24 5-30M1673 773c-9 4-26 1-38-3M1553 714c-8-9-11-23-17-35M1579 671c5-7 11-24 23-24s37 12 48 22s11 30 15 41s6 18 10 27M1533 691c4-10 21-15 33-16M1575 650c15 4 30 16 43 24s20 15 32 24s26 22 40 33M1727 619c14 13 24 32 34 49M1775 720c5 19 7 61 11 83M1767 748c8 18 3 19 8 32M1626 1458c-2 16-7 20-10 35M1746 720c12 20 24 41 30 58M1737 738c4 15 16 38 22 53M1607 1454c2 18 0 16-1 32M1592 1513c-3 14-2 18-5 32M1743 786c5 16 7 25 11 39M1593 1437c0 12 0 27-2 47M1729 761c2 15-1 22-2 41"/>
<path stroke="#20a85f" d="M1366 682c7-15 25-46 36-60M1372 774c1-11 1-23 5-39s11-44 19-61M1387 714c4-16 6-19 12-30s13-24 20-35M1401 695c5-12 10-21 18-34M1461 670c7-14 16-25 23-37M1429 858c0-15 0-31 1-44s-1-17 2-33s6-47 11-65s11-30 18-43M1489 687c5-10 5-10 12-23M1371 727c6-16 20-48 28-63M1370 732c4-14 7-30 18-48M1369 857c1-16 0-33 1-50s1-34 3-49M1369 817c1-15 3-37 6-53s6-27 10-39s7-20 12-32M1370 857c1-16 2-33 3-48s5-30 7-43M1380 774c2-18 6-41 12-59s14-34 22-47M1385 858c0-17-1-37-1-49s-1-11 0-25s5-39 8-54M1395 858c0-13 0-26 0-37s0-20 1-33s4-29 8-44M1412 858c0-13 0-23 0-38s1-39 2-53M1419 858c1-16 2-33 3-49M1424 785c1-12 2-28 6-43s10-33 15-44M1426 858c0-11 0-21 1-34s-1-25 1-40M1467 778c2-11 5-25 8-34s5-12 8-19M1579 687c2-3 9-5 15-4M1624 707c3 4 3 8 4 12M1657 756c-2 5-1 14-7 19M1569 729c0-9 7-15 10-20M1597 690c9-1 23-5 33 0s23 20 25 29M1605 759c-12-3-26-4-37-11s-27-23-31-34M1635 770c-11-3-21-12-30-17s-15-9-24-16s-21-13-28-23M1692 741c-7 6-14 15-23 17M1572 692c4-6 2-13 7-21M1627 771c-13-1-26 2-40-4s-36-21-45-34s-12-32-9-42M1527 649c11-6 33-3 48 1M1674 590c23 5 39 17 53 29M1632 1556c-8 22-28 52-37 66M1738 656c11 17 24 49 32 67M1756 677c10 16 12 30 16 50M1625 1504c-1 16 0 43-4 60M1628 1433c-2 18-9 40-13 60M1608 1485c-3 20-5 53-9 70M1603 1437c-3 17-10 48-14 66M1728 719c6 15 8 30 12 45M1726 736c5 18 11 34 12 53M1583 1443c-1 20-1 44-2 60M1592 1447c-2 13-7 27-12 46M1718 739c6 16 11 25 14 41M1586 1451c2 17-3 13-5 28"/>
<path stroke="#22a852" d="M1387 630c10-13 29-31 37-42M1407 625c9-13 14-13 20-24M1353 858c0-15-1-30 0-46s2-34 3-48M1356 858c1-19 1-40 2-56s2-24 3-35s2-20 6-36M1396 674c7-17 19-31 26-41M1461 673c7-14 16-25 24-38M1348 857c0-15-1-27 0-44s1-35 3-54s5-36 12-55M1353 857c1-17 2-34 4-50s2-31 3-45s4-26 7-41M1359 857c0-11-1-17 0-34M1399 664c8-15 7-15 20-27M1388 684c10-17 31-44 44-58M1373 758c2-15 4-28 7-42s9-28 16-41M1397 693c6-12 13-27 23-40M1380 766c2-13 4-22 7-34s7-28 12-42s9-26 19-39M1414 668c8-14 17-24 28-34M1392 730c4-16 8-27 14-40s16-29 26-40M1404 744c4-15 10-31 15-44s10-20 18-31M1407 858c0-13 1-25 1-38s-1-31-1-43M1414 767c1-13 1-15 4-27s7-29 14-42M1414 858c0-16 0-36 0-49M1422 809c1-16 1-32 2-46s2-26 5-38s5-20 12-32M1445 698c5-12 9-16 15-25M1428 784c1-16 4-36 8-51s10-29 15-39M1435 859c0-15 0-30 1-43s0-22 1-35s4-31 6-43M1450 859c0-11 0-19-1-32M1483 725c3-7 8-14 13-22M1578 702c-1-5-2-11 1-15M1596 691c9 2 17 9 24 13s10 7 16 12s15 11 20 18M1594 687c6-2 16-4 25-1s24 11 31 19s11 21 11 28M1650 775c-6 4-17 10-28 7s-30-12-38-21s-14-24-15-32M1580 696c8-1 9-5 17-6M1655 719c3 8-8 15-10 22M1545 666c8-3 27 7 41 11M1669 758c-9 3-21-4-30-4M1552 712c0-10 15-13 20-20M1513 684c-3-13 4-29 14-35M1667 598c22 12 48 20 65 34M1621 1563c-6 23-19 45-27 61M1616 1493c-3 16-3 39-10 58M1731 701c8 16 1 22 6 37M1606 1486c-1 16-3 43-6 63M1701 658c12 14 31 48 38 65M1724 730c7 17 14 40 19 56M1717 711c6 15 11 35 12 50M1581 1479c-1 14 1 40-3 58"/>
<path stroke="#28a846" d="M1402 622c10-15 19-19 26-29M1356 764c2-15 2-24 7-39s11-37 19-53M1367 731c4-15 11-41 18-57s14-26 21-36M1369 858c0-14 0-28 0-42s1-24 3-39s6-37 9-50s3-20 9-34M1419 649c8-12 19-22 27-35M1419 661c9-14 24-30 33-45M1385 858c0-18-1-42-1-56s1-13 2-25M1444 858c0-18-1-40-1-53s0-13 3-28s10-47 15-63s7-18 14-30M1363 704c7-19 20-44 29-59M1367 721c3-14 4-26 14-44s27-44 41-59M1359 823c0-17 0-51 2-68s2-21 8-36M1419 637c14-12 42-34 61-43M1432 626c13-13 20-16 33-22M1396 675c6-13 12-24 23-36M1369 857c-1-15-2-31-2-45s2-26 5-40s6-29 12-47M1420 653c10-13 22-30 38-40M1418 651c10-13 28-30 42-39M1375 857c2-18 3-42 4-55s0-7 2-21s7-47 11-64M1442 634c11-9 23-18 38-25M1432 650c9-12 18-21 33-29M1393 858c1-10 1-13 2-29s1-46 2-63M1394 858c0-11-1-17 0-33M1437 669c8-11 19-26 32-35M1407 777c1-13 0-18 3-30s6-30 12-43M1432 698c6-14 16-28 25-38M1414 809c0-13 0-17 1-29s3-26 7-40s9-28 14-40M1418 858c0-17 1-37 1-50s0-18 2-31s2-30 6-45M1441 693c7-12 21-29 30-38M1460 673c7-8 11-17 24-25M1700 678c7 10 19 30 29 45M1451 694c5-10 4-13 14-22M1443 738c3-12 3-18 9-31M1438 859c0-15-1-32-1-46s1-25 3-37M1449 827c0-13-3-31-2-46s4-32 7-44M1449 859c0-13 0-28 1-40s1-24 2-35s4-22 7-33M1496 703c4-8 7-17 13-24M1587 714c-3-3-8-8-9-12M1569 691c5-4 19-2 27 0M1656 734c4 7 5 17 7 25M1581 696c4-3 6-8 13-9M1661 733c0 7-9 10-13 15M1552 693c6-3 20 3 28 3M1645 741c-3 6-3 8-5 15M1541 695c-4-10-3-26 4-29M1607 660c11 10 28 21 35 31s5 21 6 29M1639 754c-9 1-13 9-25 8s-34-3-45-12s-17-28-17-38M1586 751c-14-8-30-12-42-23s-28-31-31-44M1590 587c28 1 61-2 84 3M1625 1552c-4 23-16 50-25 67M1711 626c17 14 35 34 45 51M1621 1564c-4 17-9 26-18 42M1755 686c9 13 15 14 20 34M1729 673c12 20 30 57 38 75M1705 656c13 15 29 43 41 64M1591 1484c-2 21-6 57-10 76M1581 1503c-1 17-2 28-4 41"/>
<path stroke="#34a93d" d="M1382 672c8-17 19-32 29-45M1422 633c7-10 10-9 17-20M1390 693c6-13 17-34 27-50M1386 777c2-12 4-33 7-46s5-21 10-33M1484 633c7-12 16-24 20-33M1447 858c1-15 1-31 2-46s2-33 4-47s4-27 8-39s7-24 14-37M1501 664c8-13 27-39 33-58M1392 645c10-15 14-21 28-31M1422 618c14-14 25-20 43-27M1369 719c5-16 17-41 26-57s13-22 28-34M1480 594c18-9 32-9 48-12M1708 632c11 11 25 31 37 47M1465 604c14-7 35-12 50-16M1419 639c11-12 29-27 43-35M1384 725c6-17 17-43 25-59M1458 613c15-10 40-18 55-22M1392 717c4-18 7-26 15-40M1707 646c12 10 19 23 28 35M1397 766c1-16 2-24 6-37s11-33 16-44M1394 825c1-16 2-44 5-61s6-30 10-43M1422 704c6-13 14-25 24-36M1457 660c9-10 18-17 29-24M1436 700c6-12 11-20 20-31M1427 732c4-15 11-31 17-43M1471 655c9-8 14-10 25-15M1465 672c10-9 32-26 44-33M1452 707c7-13 22-37 29-47M1440 776c1-11 3-21 7-33s10-27 16-40M1454 737c3-12 7-18 11-26s10-13 15-20M1459 751c2-11 5-22 10-32s12-24 17-32M1509 679c7-7 20-13 27-17M1677 699c9 8 13 17 20 25M1596 722c-3-3-6-4-9-8M1564 714c2-7-1-19 5-23M1572 706c2-4 6-6 9-10M1541 714c4-7 4-18 11-21M1640 756c-2 7 1 22-6 26M1565 724c-6-8-21-19-24-29M1648 720c2 8 2 12 3 20M1704 619c12 12 24 20 34 37M1615 1493c-4 21-7 46-10 63M1587 1545c-3 14-9 39-15 54M1589 1503c-3 19-3 29-8 44M1704 675c10 12 18 29 24 44M1708 683c8 13 13 36 18 53M1580 1493c-5 19-13 48-18 66M1698 684c6 18 14 39 20 55"/>
<path stroke="#41aa34" d="M1406 638c7-11 12-13 20-26M1403 698c6-12 15-28 22-40M1485 635c8-13 20-31 25-43M1432 858c0-12-1-19 1-36s4-46 6-61M1475 684c7-13 20-32 27-45M1475 689c6-13 15-30 22-41M1420 614c13-11 34-25 54-32M1462 604c14-8 25-11 40-14M1409 666c9-16 15-26 26-37M1460 612c13-10 26-12 41-15M1708 639c9 11 22 32 33 48M1407 677c7-13 15-30 29-43M1480 609c15-6 39-11 53-14M1465 621c15-8 41-16 56-20M1419 685c5-11 7-14 15-23s20-22 32-30M1409 721c4-12 9-24 15-35s11-19 20-30M1469 634c13-10 33-17 46-22M1446 668c11-12 25-25 37-33M1486 636c11-6 26-10 37-13M1456 669c10-11 23-25 36-32M1444 689c7-12 14-21 22-29M1484 648c13-8 42-17 55-20M1686 665c8 6 7 4 14 13M1696 677c10 10 10 15 16 23M1481 660c8-10 6-7 14-11M1463 703c6-12 14-25 22-34M1480 691c5-7 8-13 16-20M1486 687c5-8 5-11 12-16M1566 724c2-6 3-13 6-18M1634 782c-7 4-25 3-35-3s-19-23-24-32s-4-14-10-23M1651 740c1 8 6 20 2 27M1595 1622c-8 15-7 10-14 21M1594 1624c-8 16-14 24-21 35M1717 641c14 13 28 32 38 45M1599 1555c-4 17-6 19-13 31M1690 640c14 15 34 44 41 61M1667 634c11 8 22 9 34 24M1703 684c8 13 14 29 21 46"/>
<path stroke="#4eab2b" d="M1439 761c2-16 1-14 6-29s18-50 24-63M1474 582c20-8 51-10 67-12M1465 591c18-7 50-11 66-13M1423 628c15-12 42-30 60-38M1528 582c16-2 30-5 48-3M1679 611c12 7 18 10 29 21M1515 588c15-3 22-5 39-5M1654 597c14 6 30 17 45 25M1502 590c15-3 34-5 49-5M1435 629c12-11 29-23 43-30M1513 591c15-4 19-4 33-4M1681 622c13 9 28 22 42 33M1501 597c15-4 32-5 48-5M1436 634c13-13 38-26 52-33M1533 595c14-3 14-3 29-3M1667 617c15 7 29 18 40 29M1521 601c15-4 22-3 35-4M1699 643c11 9 18 18 27 28M1444 656c9-10 23-23 35-31M1515 612c13-5 14-5 30-6M1483 635c13-8 26-12 37-16M1701 667c11 10 19 24 28 35M1688 657c12 8 14 13 21 20M1466 660c7-8 12-14 24-19M1496 640c11-5 29-9 40-12M1677 655c11 10 23 26 34 39M1539 628c12-4 7-3 20-3M1509 639c12-7 18-6 28-8M1495 649c9-5 23-12 38-14M1485 669c7-9 14-14 22-18M1498 671c6-6 19-14 29-18M1689 697c9 9 11 16 17 24M1536 662c8-3 9-4 19-5M1645 677c8 5 23 14 32 22M1653 767c-4 6-16 14-27 12M1605 587c16 3 30 1 48 7s41 19 58 32M1694 628c13 11 23 25 35 45M1606 1551c-6 18-19 39-27 54M1669 631c14 6 23 11 36 25M1600 1549c-4 19-6 37-15 54M1577 1544c-1 12 1 20-4 33M1694 667c7 10 17 28 23 44M1578 1537c-4 19-12 39-18 52"/>
<path stroke="#5cab26" d="M1424 588c9-11 12-14 15-27M1428 593c7-11 14-23 17-35M1427 601c7-12 17-32 20-46M1411 627c9-13 22-25 28-34M1417 643c10-15 25-30 33-44M1452 616c9-15 19-30 24-45M1425 658c8-13 16-21 24-34M1504 600c4-10 5-13 6-25M1469 669c6-14 4-9 9-18M1502 639c8-12 13-17 17-31M1497 648c7-12 14-14 19-29M1483 590c19-8 35-8 50-11M1576 579c18 1 44 6 61 11s30 14 42 21M1554 583c16-1 44 0 60 3s26 5 40 11M1682 619c11 8 30 25 45 37M1478 599c15-7 28-8 43-10M1704 634c11 10 25 30 37 44M1546 587c13 0 31 0 47 2M1643 603c14 6 25 11 38 19M1689 625c10 6 10 4 19 14M1488 601c14-6 20-5 32-7M1562 592c15 1 43 2 61 7s30 10 44 18M1556 597c13 0 26-1 43 2M1657 617c16 7 30 17 42 26M1466 632c12-9 28-14 41-19M1479 625c11-7 18-10 34-13M1523 623c12-3 18-5 32-5M1638 628c14 6 38 20 50 29M1492 637c13-8 26-11 42-15M1681 656c8 8 23 25 34 37M1490 641c11-6 30-12 44-15M1536 628c11-3 13-4 25-4M1559 625c12 0 39 1 55 4M1651 643c12 6 26 16 35 22M1537 631c9-2 16-4 31-4M1648 644c12 7 37 24 48 33M1496 671c9-7 25-16 36-21M1555 657c10 0 28-2 40 0s26 8 34 12s8 3 16 8M1626 779c-10-2-29-14-37-23s-9-20-13-30M1600 1619c-9 17-18 23-29 37M1605 1556c-4 17-3 22-11 39M1621 620c16 3 34 5 48 11M1581 1547c-4 15-9 30-17 46M1667 649c15 8 26 14 37 26M1581 1560c-4 19-7 27-14 41M1673 656c13 8 26 14 35 27"/>
<path stroke="#6aaa26" d="M1439 613c7-10 21-28 26-43M1446 614c8-12 18-26 23-40M1478 651c6-9 19-21 25-36M1534 606c7-18 7-40 8-54M1541 570c15-2 12-2 27-1M1531 578c16-2 17-2 31-2M1664 596c16 7 29 17 44 26M1533 579c14-2 25-3 39-3M1551 585c15-1 24-2 42 2s49 13 64 19s13 5 25 13M1593 589c17 3 35 9 50 14M1549 592c16-1 33-1 50 1s35 6 50 11s30 15 40 21M1520 594c12-1 23-3 39-3M1599 599c17 3 41 11 58 18M1507 613c14-4 27-6 41-8M1686 642c12 10 23 24 35 36M1545 606c15-1 46 0 61 2s20 5 31 9s23 12 35 18M1520 619c11-4 13-6 28-7M1666 640c11 8 25 17 35 27M1555 618c14-1 38 0 52 1s18 3 31 9M1561 624c13-1 35-2 50 0M1648 636c11 6 19 10 29 19M1614 629c15 3 25 8 37 14M1568 627c15 1 46 6 59 9s10 1 21 8M1533 635c15-3 38-4 52-4M1507 651c8-5 12-8 25-10M1532 650c11-4 20-6 31-8M1527 653c10-5 17-7 30-8M1651 667c9 7 29 21 38 30M1581 1643c-7 11-19 29-29 43M1573 1659c-7 12-11 18-20 32M1603 1606c-10 16-30 39-40 53M1670 613c20 5 33 16 47 28M1596 598c20 4 44 6 60 11s26 9 38 19M1586 1586c-7 12-17 22-29 40M1646 614c15 9 30 12 44 26M1572 1599c-5 15-11 21-20 37M1676 647c9 12 19 23 27 37M1611 628c19 7 40 13 56 21M1675 648c14 7 12 8 19 19M1562 1559c-5 18-5 28-11 44"/>
<path stroke="#79a926" d="M1510 592c4-12 3-17 4-29M1568 569c16 2 46 6 66 11s33 15 50 23M1562 576c13 1 32 1 49 4s37 9 53 16M1572 576c13 0 26 1 42 5M1521 589c16-2 34-2 51-1M1677 616c14 7 17 8 27 18M1679 636c10 7 17 14 25 21M1513 612c15-4 43-8 58-9M1548 612c15-1 48 0 62 2s12 3 21 7s23 12 35 19M1534 622c15-3 38-4 52-4M1615 623c13 4 38 15 48 21s9 3 18 12M1534 626c15-3 29-5 43-5M1611 624c14 2 26 7 37 12M1585 631c14 1 20 4 31 7s23 11 35 16M1532 641c12-3 38-5 50-5M1563 642c11-1 23-2 35 0M1634 653c11 5 18 11 27 16M1557 645c12 0 32 0 45 2M1634 658c8 4 8 3 17 9M1601 608c23 1 50-1 69 5M1633 636c14 7 28 12 40 20M1567 634c15-2 27-8 45-5s49 13 63 19"/>
<path stroke="#88a825" d="M1426 612c8-13 24-41 29-55M1510 575c1-13 1-36 0-52M1542 552c2-13 1-15 2-28M1614 581c16 4 34 12 51 19M1572 588c16 1 33 3 51 8s41 14 54 20M1559 591c15 1 36 2 54 7s34 12 51 18M1548 605c14-2 27-4 43-2s40 8 54 14s24 12 34 19M1571 603c15 0 21 1 33 3M1647 619c13 6 26 14 39 23M1586 618c14 0 16 1 29 5M1577 621c14 0 25 1 39 5s29 11 43 17M1582 636c13 0 12 0 24 4s29 11 43 16M1598 642c12 1 26 7 36 11M1602 647c13 2 24 8 32 11M1573 1577c-5 14-15 31-25 48M1560 1589c-6 14-9 12-18 28"/>
<path stroke="#93a725" d="M1439 593c7-10 10-13 12-23M1449 624c9-13 22-30 27-47M1514 563c0-11-1-26-1-41M1519 608c5-13 8-36 9-51M1516 619c6-14 13-44 15-59M1604 606c13 3 29 7 43 13M1552 1686c-10 14-20 27-28 43M1553 1691c-8 15-24 39-32 53M1571 1656c-10 14-24 34-34 49M1594 1595c-8 16-26 42-36 60M1579 1605c-7 16-12 26-19 39M1585 1603c-9 16-29 34-38 46M1567 1601c-6 14-16 26-24 40"/>
<path stroke="#9ca424" d="M1439 561c2-12 0-33 0-48M1445 558c3-13 1-27 1-40M1447 555c4-15 1-27 1-41M1450 599c8-15 12-29 15-42M1469 574c4-13 2-23 3-40M1476 571c4-15 3-30 3-46M1510 523c0-17 0-32 0-47M1503 615c6-14 10-35 13-49M1544 524c0-13 2-35 2-50M1563 1659c-10 14-12 16-20 31M1552 1636c-9 16-27 45-35 60M1564 1593c-7 17-21 42-27 54M1551 1603c-5 15-15 37-20 50"/>
<path stroke="#a5a223" d="M1465 570c4-16 2-34 2-50M1513 522c-1-15-1-33-1-48M1557 1626c-11 19-29 52-39 71"/>
<path stroke="#ada022" d="M1439 513c0-15-1-28-2-42M1446 518c0-14-1-26-1-40M1448 514c1-15 1-31 1-45M1451 570c2-11 2-23 2-40M1479 525c1-16 2-33 2-49M1510 476c0-16-1-31-1-46M1528 557c2-16 1-28 1-40M1531 560c3-14 1-16 2-29M1546 474c1-16 1-29 2-44M1524 1729c-9 16-15 33-21 52M1521 1744c-8 14-8 14-15 31M1560 1644c-7 12-14 21-23 38M1547 1649c-9 12-11 14-18 25M1543 1641c-9 15-21 31-28 45M1548 1625c-9 17-20 37-31 56M1542 1617c-9 17-27 55-35 71"/>
<path stroke="#b09621" d="M1455 557c5-14 1-19 1-30M1472 534c0-17 0-45 0-62M1476 577c6-16 3-33 4-52M1512 474c0-16 0-29 0-44M1529 517c0-13 1-22 1-37M1503 1781c-5 18-9 39-14 57s-11 32-16 49M1537 1705c-10 14-19 27-26 38M1543 1690c-9 16-26 46-33 61M1558 1655c-10 18-14 32-23 47M1517 1696c-9 15-8 14-14 31M1537 1647c-7 13-3 6-10 22M1531 1653c-6 12-6 11-14 26"/>
<path stroke="#b18a20" d="M1437 471c-1-14-2-27-3-41M1445 478c-1-15-2-32-3-48M1449 469c0-14 0-26-1-39M1467 520c1-17 0-37 0-52M1465 557c3-14 2-24 2-40M1481 476c1-16 1-31 1-46M1516 566c2-14 0-18 0-35M1533 531c0-13 1-30 1-46M1506 1775c-7 18-20 54-26 72M1529 1674c-7 12-16 31-24 46"/>
<path stroke="#b27e1f" d="M1453 530c0-17-1-48-1-64M1456 527c1-12 1-23 1-39M1472 472c0-17 0-28 0-42M1530 480c0-14 1-33 1-50M1534 485c1-17 1-37 1-55M1480 1847c-7 18-9 25-14 38M1511 1743c-7 12-10 16-16 31M1537 1682c-8 17-20 45-28 62M1518 1697c-9 19-13 31-18 44M1503 1727c-7 16-18 49-24 66M1515 1686c-8 14-11 19-19 37"/>
<path stroke="#b2711e" d="M1467 468c0-14 0-25 0-38M1467 517c1-15 2-40 3-55M1516 531c0-18 1-52 1-68M1510 1751c-8 14-7 10-14 26M1535 1702c-10 16-24 37-31 49M1500 1741c-6 12-9 19-14 34M1479 1793c-7 17-9 23-14 38M1527 1669c-7 15-25 55-34 74M1517 1681c-11 19-27 42-34 57M1517 1679c-7 15-24 49-31 65M1507 1688c-8 16-8 12-15 25"/>
<path stroke="#b1651d" d="M1457 488c1-16 0-39 0-58M1480 525c2-19 2-46 3-62M1517 463c0-17 0-22 0-33M1495 1774c-5 16-11 43-15 62s-7 33-11 49M1496 1777c-6 16-21 53-27 71M1509 1744c-7 18-12 31-17 45M1486 1775c-5 14-11 36-16 54M1505 1720c-8 15-17 26-23 46M1465 1831c-5 14-11 32-17 49M1496 1723c-7 17-21 51-27 68"/>
<path stroke="#b0591b" d="M1452 466c0-17-1-24-1-36M1470 462c0-14 0-21 1-32M1469 1848c-6 17-5 23-8 35M1504 1751c-8 12-7 11-12 25M1492 1789c-5 14-7 24-11 40M1470 1829c-4 18-8 35-12 53M1482 1766c-7 19-10 52-14 72M1469 1791c-6 16-6 18-11 32M1483 1738c-8 15-7 17-12 34M1486 1744c-7 16-4 13-10 29M1492 1713c-6 14-16 37-23 58"/>
<path stroke="#af4c1a" d="M1483 463c0-16 1-22 1-33M1492 1776c-4 13-11 37-17 55M1481 1829c-5 15-12 36-18 55M1468 1838c-4 19-7 29-10 44M1493 1743c-9 19-14 28-20 40M1458 1823c-4 15-9 37-13 55M1471 1772c-5 16-15 46-19 64M1476 1773c-5 16-17 52-24 69M1469 1771c-7 22-12 53-17 70"/>
<path stroke="#ae4019" d="M1475 1831c-5 18-11 34-17 51M1473 1783c-5 12-8 17-13 33s-11 41-16 62M1452 1836c-4 18-5 28-8 42M1452 1842c-6 18-9 23-14 35M1452 1841c-5 18-8 24-12 36"/>
<path stroke="#224fca" stroke-width="1.16" d="M1840 896c-3 23-13 83-25 109s-31 32-48 45s-40 27-54 35s-18 11-26 19M1640 1198c0 13 4 29 6 46s7 37 9 54s-1 35-1 51"/>
<path stroke="#2460d0" stroke-width="1.19" d="M1834 866c5 18 9 7 6 30M1687 1104c-8 7-15 18-21 28s-13 22-17 33s-8 20-9 33M1632 1201c-3 11-6 8-6 23M1691 948c-7 7-9 14-19 26"/>
<path stroke="#2474d3" stroke-width="1.22" d="M1654 1349c0 17 0 30-2 48M1633 1194c-1 12 1 21 3 37s9 38 11 59M1802 968c-6 20-14 25-27 39s-36 31-52 46s-33 29-44 41s-17 19-23 29s-9 20-13 33s-8 33-11 45M1626 1224c-1 14 1 46 2 65M1709 932c-6 12-12 9-18 16M1672 974c-10 12-30 34-43 47M1537 1246c-3 20-5 26-5 43s0 42 4 60"/>
<path stroke="#2588d5" d="M1814 792c7 22 16 57 20 74M1652 1397c-1 17-2 37-5 56M1833 895c1 22 4 41-7 64s-43 60-62 79s-35 26-49 35s-26 11-36 19M1656 1122c-6 11-9 25-13 37s-9 23-10 35M1647 1290c2 20 2 48 1 65M1812 842c0 15 1 28 0 49s-4 58-10 77M1628 1289c2 20 5 38 6 53M1725 940c-2 11 1 9-6 18s-21 26-33 38M1724 879c-2 15-9 42-15 53M1629 1021c-13 13-23 16-35 32s-31 48-39 67s-6 27-9 48s-7 58-9 78M1536 1349c4 18 14 31 19 47M1674 982c-15 10-45 22-62 32s-23 12-35 25M1692 897c-1 14-5 8-4 17s12 24 9 37M1652 1004c-20 9-74 31-94 46s-20 17-27 39s-11 69-13 94s-2 37 0 55s8 36 12 52"/>
<path stroke="#259dd2" d="M1795 733c7 17 13 37 19 59M1824 829c3 15 9 45 9 66M1679 1092c-10 8-17 18-23 30M1648 1355c0 16-2 22-3 35M1809 796c5 19 2 30 3 46M1634 1342c0 14-1 17-2 35M1762 921c-3 18-3 25-8 38s-10 25-20 39s-31 32-45 45s-25 22-37 32s-19 15-31 29s-33 40-41 55s-8 20-8 33s3 31 9 47s17 33 21 52s4 45 4 61M1732 892c-3 17-5 37-7 48M1686 996c-13 13-29 24-43 38s-31 31-43 47s-23 36-29 49s-8 15-11 30s-7 39-9 62s1 57 2 74s-1 13 3 30M1701 961c-8 9-25 23-35 31s-10 6-26 18M1707 932c-2 12-2 14-7 24s-12 25-20 35s-13 9-28 22M1540 1168c-5 22-6 49-7 69s2 37 3 52s2 21 6 37M1721 846c1 16 5 19 3 33M1719 931c-3 11-11 14-18 23s-13 18-27 28M1577 1039c-11 13-26 32-35 53s-14 46-15 72s6 60 9 80s3 22 7 39M1695 830c0 19-2 53-3 67M1697 951c-2 14-16 34-23 43s-3 1-22 10M1530 1290c5 16 12 24 16 42"/>
<path stroke="#24b2cd" d="M1647 1453c-3 19-8 40-12 57M1813 805c5 13 8 9 11 24M1645 1390c0 13 1 27-1 43M1632 1377c-1 19-2 55-3 75M1642 1149c-5 14-9 33-10 47s2 24 1 36s-1 18-3 37M1631 1127c-4 17-14 48-17 65s0 25 1 36s3 17 3 33M1774 851c-2 17-9 52-12 70M1606 1352c0 16-1 20-2 34M1754 912c1 15 3 23-1 35s-11 27-19 38s-15 17-28 29s-36 29-51 44s-29 32-40 48s-20 31-26 46s-10 25-13 39s-2 25-1 43s6 48 7 66M1740 834c-1 16-6 40-8 58M1556 1326c3 18 17 58 21 77M1721 907c-2 16-3 25-6 34s-6 12-14 20M1640 1010c-15 13-54 40-69 57s-15 30-20 47s-6 33-7 55s-2 53 1 76s10 41 14 58M1713 885c-2 14-4 35-6 47M1652 1013c-16 13-48 39-63 55s-17 26-26 43s-18 36-23 57M1542 1326c4 16 11 37 16 58M1555 1396c5 15 9 29 11 45M1720 889c0 15 2 32-1 42M1543 1283c4 16 14 44 17 59s0 16 1 34M1690 922c-2 13 5 18 2 26s-7 11-18 21M1546 1332c4 18 8 47 9 67"/>
<path stroke="#23c5c8" d="M1607 670c15 1 44 8 58 19M1796 748c10 22 13 43 17 57M1782 726c9 21 22 51 27 70M1813 895c-3 24-3 49-11 68s-26 34-40 46s-29 15-43 27s-33 30-43 42s-12 22-18 34s-12 23-16 37M1630 1269c-2 19-8 57-9 78M1803 860c-1 18 2 53-5 75s-22 39-36 55s-34 29-48 40s-22 14-35 24s-32 26-40 38s-4 19-8 35M1618 1261c0 15-3 41-4 61M1776 819c4 17 1 15-2 32M1604 1386c-1 15-3 33-4 52M1762 931c-8 17-28 42-38 55s-11 12-21 22s-26 27-38 41s-21 26-32 41s-24 33-33 49s-19 31-24 47s-9 31-10 47s2 31 7 49M1748 859c2 22 6 38 6 53M1582 1300c2 17 0 23 0 37s1 27 3 43M1765 914c-2 15-5 32-16 48s-35 37-50 48s-28 12-43 20s-36 20-49 31s-19 20-25 37s-4 42-5 63s-1 52-1 69s1 17 2 34s4 50 5 68M1577 1403c4 19 3 24 4 37M1727 841c-1 18-4 49-6 66M1559 1303c3 17 3 26 5 44M1715 848c-1 18-1 23-2 37M1715 782c2 15 4 47 6 64M1722 843c2 16-1 31-2 46M1705 868c-2 17-12 41-15 54M1674 969c-11 10-36 30-48 41s-10 7-23 23s-46 48-58 69s-9 39-12 58s-4 36-5 58s-3 53-1 75s8 34 10 52M1695 785c0 16 1 27 0 45M1555 1399c0 20-7 35-8 51"/>
<path stroke="#24cab7" d="M1344 858c0-17-1-35-1-50s1-25 2-40s5-38 9-54M1629 699c5 3 13 5 17 8s3 11 2 14M1573 680c12-2 19-12 34-10M1665 689c14 12 26 38 26 50s-19 20-28 27M1551 678c6-9 10-27 23-30s39 9 59 13M1776 690c7 13 13 26 19 43M1644 1433c-3 16-9 33-13 53M1629 1452c0 20 2 26 0 44M1810 778c4 13 7 25 7 44s-2 50-4 73M1802 827c2 13 1 15 1 33M1614 1322c-1 21 1 44 0 62M1751 749c9 20 21 53 25 70M1775 882c-2 14-4 32-13 49M1573 1282c5 18 17 39 24 59M1749 836c6 14 11 23 13 36s5 27 3 42M1583 1332c1 17 1 19 1 37M1736 794c5 17 5 24 4 40M1564 1347c2 18 3 48 4 62s2 7 1 21M1718 780c2 19-2 51-3 68M1558 1384c5 21 10 54 13 69M1707 753c5 12 6 13 8 29M1566 1441c3 17 2 37 2 54M1710 793c4 18 11 34 12 50M1561 1376c1 18 5 52 4 73M1537 1345c3 17 4 38 6 52M1547 1450c-1 15-1 26 0 40"/>
<path stroke="#25cea7" d="M1354 714c4-16 9-29 16-42M1379 858c0-12-1-19 1-36M1648 721c-1 4-6 4-8 6M1605 704c0-4 0-10 0-15M1539 681c11 0 23 1 34-1M1540 701c5-9 6-14 11-23M1635 1510c-4 18-6 32-11 50M1792 744c13 19 14 21 18 34M1621 1347c-1 21 4 35 5 50M1788 782c9 19 11 32 14 45M1614 1384c-1 19-4 31-5 50M1600 1438c-2 19-4 44-6 63M1776 847c2 15 1 21-1 35M1597 1341c6 20 12 40 13 58M1748 781c1 21-1 57 0 78M1585 1380c2 17 7 35 8 56M1584 1369c-1 17-3 49-3 68M1581 1440c0 13 0 29 0 44M1723 801c3 14 4 23 4 40M1704 819c1 16 4 32 1 49M1543 1397c1 13 1 13 4 28"/>
<path stroke="#26d097" d="M1370 672c7-13 16-27 24-38M1354 858c0-13 0-24 1-38s1-28 3-45M1380 822c1-17 4-51 5-65s1-11 3-22s7-32 12-45M1640 727c-2 3-1 6-4 8M1581 685c3-4 9-12 16-11s21 10 27 16s4 16 6 22s2 8 3 14M1663 766c-8 6-15 7-23 12M1523 732c-2-14 13-22 17-31M1597 627c16 6 37 30 49 43s13 22 24 34s33 23 42 38M1752 651c16 17 16 25 24 39M1754 671c10 16 19 34 28 55M1629 1496c-2 17-7 43-12 62M1626 1397c0 16 0 24-2 41M1761 795c8 19 13 38 15 52M1610 1399c1 19-3 38-6 54M1729 785c6 20 15 36 20 51M1714 730c5 14 18 46 22 64M1713 752c5 17 8 34 10 49M1569 1430c0 14-2 41-5 62M1571 1453c2 15 2 8 2 21M1680 712c9 12 21 30 27 41M1695 740c6 14 10 36 15 53M1565 1449c-1 21-8 39-9 52M1693 733c2 14 2 36 2 52M1547 1490c0 14 5 28 5 45"/>
<path stroke="#27d186" d="M1394 634c8-11 16-18 24-29M1358 775c1-16 5-38 7-53s4-20 10-34M1400 690c5-12 7-17 16-30M1358 857c1-10 2-16 2-31s-1-38 0-55s2-33 5-48M1437 859c0-11 0-22 0-33s-2-22-1-36M1454 859c0-11-1-19-1-33s1-40 2-53M1465 859c0-18 1-41 1-56M1636 735c-3 2-8 6-13 5M1605 728c-3-5-1-11-1-15s1-5 1-9M1578 699c2-4 0-10 3-14M1633 726c2 6 8 16 6 21M1640 778c-9 6-15 20-29 21s-45-5-59-16s-27-37-29-51M1701 743c-9 5-22 8-29 14M1550 635c7-9 31-14 47-8M1712 742c9 14 19 41 12 50M1751 670c12 19 34 55 45 78M1631 1486c-4 21-7 51-12 69M1609 1434c-1 19 0 46 0 64M1720 702c8 12 22 28 31 47M1738 734c3 11 8 26 10 47M1593 1436c2 20 1 50 0 69M1581 1437c-1 19-1 26-1 45M1581 1484c0 14 1 28-1 44M1706 735c5 14 11 27 12 45M1568 1495c0 16 1 33-1 47M1556 1501c-2 13 0 14-2 26M1702 772c1 15 2 31 2 47M1547 1425c2 15 9 43 10 61"/>
<path stroke="#29d176" d="M1348 858c1-17 1-37 2-50s0-15 2-31s8-53 12-71M1375 688c6-15 18-35 29-51M1368 858c0-12-1-19 0-36s2-49 3-65s2-20 5-33M1439 858c1-18 1-39 2-53s1-16 4-31s7-40 11-56M1365 723c4-15 7-28 16-44M1365 857c0-13-1-26 0-40s0-32 2-47s4-28 7-40M1391 858c0-15-1-28 0-44M1436 790c1-13 3-30 7-44s10-29 15-39M1442 859c0-16 0-33 1-48s3-30 5-41M1455 773c1-14 2-18 4-28s5-19 11-31M1466 803c1-15 1-23 1-33s1-19 3-28M1623 740c-6-1-15-8-18-12M1568 711c4-4 8-8 10-12M1596 695c7 1 15-1 24 2s24 12 30 20M1672 757c-7 7-4 20-13 27M1557 682c-2-13-14-38-7-47M1724 792c-7 9-36 7-53 2M1676 592c22 12 59 43 76 59M1624 1560c-6 17-14 37-23 54M1624 1438c-2 17-6 42-8 64M1750 712c12 19 30 51 38 70M1594 1501c-1 20-1 37-4 54M1727 734c8 16 26 42 34 61M1604 1453c-2 16-6 28-10 44M1713 717c6 20 10 49 16 68M1703 705c6 10 5 10 11 25M1573 1474c0 13-1 40-4 58"/>
<path stroke="#2ad266" d="M1364 706c4-17 7-21 13-34M1361 858c1-12 0-22 1-37s2-36 3-53M1376 724c3-13 7-29 14-44M1376 858c0-18-1-41-1-56M1416 660c8-12 24-32 33-45M1456 718c5-16 10-27 17-40M1454 858c0-13 0-25 1-39s2-30 5-46s7-38 10-49s4-12 9-22M1345 857c0-10 0-15 0-30s-1-39 1-57s3-36 8-54s11-37 20-54M1381 679c10-16 27-38 43-52M1374 730c3-13 3-20 12-37M1391 814c0-17 2-40 3-53s-1-9 4-24M1400 858c-1-17-2-37-2-51s-2-17 0-31M1437 859c0-16 1-32 1-47M1458 707c4-9 4-9 11-18M1444 859c1-16 1-34 2-48s2-22 4-34M1448 770c2-11 3-15 7-25s8-24 14-36M1470 714c6-12 18-30 25-38M1458 859c0-10 0-18 0-30s0-28 1-41s4-24 7-35M1470 742c2-10 5-18 9-27M1616 708c5 1 7 0 12 2s16 1 21 5s11 14 10 18M1639 747c-2 4-12 9-19 7s-18-12-24-18s-6-11-11-16s-10-10-15-16M1578 694c7 0 11 1 18 1M1650 717c5 8 7 21 4 26M1659 784c-10 6-30 17-45 12M1566 754c-8-14-1-30-2-42s-5-18-7-30M1671 794c-17-4-33-19-49-29M1720 631c16 12 23 24 34 40M1738 669c14 18 42 57 54 75M1609 1498c-1 18 0 28-3 45M1729 711c8 13 6 11 9 23M1593 1505c-1 18-3 26-6 41M1693 702c6 11 15 34 20 50M1564 1492c-2 21-4 45-7 62M1651 683c10 9 20 17 29 29M1675 708c8 11 15 18 20 32M1695 731c5 13 5 26 7 41M1557 1486c2 19 0 34-2 51M1685 704c7 10 6 16 8 29"/>
<path stroke="#32d358" d="M1377 672c7-13 18-30 26-43M1365 768c2-18 4-36 8-52s9-30 16-44M1362 858c1-12 1-23 1-36M1390 680c7-15 20-34 28-46M1375 802c1-15 1-21 3-34s3-29 7-43s11-31 16-43M1473 678c7-14 19-32 26-43M1479 702c5-11 13-28 21-42M1374 662c9-16 19-31 33-44M1424 627c16-15 38-27 53-34M1386 693c8-16 30-49 40-62s2-8 17-15M1398 737c5-14 17-46 24-61s8-16 19-26M1398 776c2-14 7-41 10-54s3-12 10-23M1400 858c1-15 2-30 3-44s3-28 5-40M1413 858c1-12 0-19 1-35s1-45 3-60M1429 859c0-18 0-40 0-53s-1-10 0-21M1429 859c0-15 0-31 0-44s1-23 3-36s6-30 9-40M1438 812c1-14 1-27 2-39s3-22 5-33M1469 689c7-9 19-26 29-34M1450 777c1-11 3-24 5-35s4-20 9-31M1469 709c6-11 14-25 20-34M1495 676c6-9 7-8 14-12M1466 753c2-11 5-19 10-30s13-22 19-31M1479 715c5-9 13-21 18-28M1597 702c5-1 13 5 19 6M1659 733c0 4-9 6-12 8M1554 696c6-4 17-2 24-2M1654 743c-2 6-14 7-21 8M1614 796c-15-5-40-28-48-42M1623 580c18 4 32 0 53 12M1727 637c14 12 13 15 24 33M1619 1555c-5 19-9 24-18 41M1617 1558c-5 18-12 32-21 49M1616 1502c-1 22 3 47-1 66M1702 672c6 10 10 17 18 30M1712 701c8 14 7 17 15 33M1594 1497c-4 17-10 40-14 54M1580 1482c1 19 5 51 4 70M1679 675c13 9 18 21 24 30M1580 1528c-3 15-7 35-13 50M1688 695c9 11 13 26 18 40M1567 1542c-1 13 0 19-8 35M1554 1527c-2 12-5 30-10 46"/>
<path stroke="#42d44c" d="M1418 605c8-10 20-19 24-33M1404 637c10-16 28-31 36-45M1389 672c7-14 17-29 24-40M1363 822c1-14 2-31 3-45s2-26 6-43s14-47 20-62M1401 682c6-12 10-19 17-29M1423 858c0-17-1-34 0-50s3-33 4-45s2-16 6-30M1453 858c0-19 0-40 1-56s3-28 4-38s1-12 4-23s8-29 13-43M1407 618c14-14 29-26 50-34M1477 593c16-8 25-8 37-11M1441 650c11-10 34-26 46-33M1418 699c6-11 18-30 29-42M1408 774c2-12 2-18 6-32s10-39 16-54M1417 763c1-15 3-22 6-32s2-16 10-29M1429 785c2-12 3-34 7-49s12-31 18-42M1441 739c3-11 3-15 8-24s13-26 19-35M1445 740c3-12 8-28 12-38s7-14 12-22M1464 711c5-11 12-26 19-35M1489 675c6-8 9-12 17-17M1509 664c6-3 12-7 23-10M1497 687c6-7 10-10 16-14M1588 713c-1-5 4-10 9-11M1647 741c-4 3-5 4-8 6M1599 716c-1-5-4-13-6-19M1617 749c-6 0-10 1-18 0M1547 717c-2-8 2-17 7-21M1633 751c-7 1-14-1-21-2M1654 603c20 6 49 17 66 28M1720 667c12 12 19 25 30 45M1693 656c12 18 29 42 36 55M1647 676c8 7 20 21 28 32M1650 678c11 6 28 17 35 26M1552 1535c-1 17-6 42-10 57"/>
<path stroke="#51d541" d="M1403 629c9-12 19-21 27-32M1392 672c6-14 7-14 16-26M1418 634c9-12 15-16 23-26M1433 733c4-14 10-35 19-53M1499 635c7-12 11-16 15-26M1475 698c6-13 10-21 19-37M1500 660c8-14 21-26 27-43M1514 582c13-3 22-7 39-7M1691 617c13 11 31 29 47 44M1443 616c15-7 53-23 73-29M1447 657c11-12 27-22 37-29M1430 688c6-15 10-24 20-34M1725 690c7 10 10 18 15 27M1433 702c7-13 20-37 32-49M1454 694c6-11 12-17 18-23M1468 680c6-10 9-15 16-21M1469 680c6-8 9-16 19-23M1498 655c10-8 22-11 30-14M1483 676c6-10 11-16 21-21M1671 677c9 8 18 18 26 27M1495 692c5-8 10-14 15-19M1513 673c7-4 11-7 23-10M1603 729c-5-6-14-12-15-16M1639 747c-3 3-6 10-12 10M1601 728c-1-5-1-7-2-12M1599 749c-8-2-19-2-28-7s-21-17-24-25M1612 749c-6 0-13 1-20 1M1601 1614c-9 17-22 36-31 50M1668 602c20 12 45 24 59 35M1590 1555c-3 17-7 32-13 48M1692 670c8 12 14 28 21 47M1678 684c11 8 9 6 15 18M1656 670c11 6 24 14 32 25M1569 1532c-3 18-8 35-15 51M1670 695c7 9 20 23 25 36M1618 668c12 4 21 4 32 10"/>
<path stroke="#61d536" d="M1413 632c8-11 15-15 22-27M1418 653c7-10 15-16 24-32M1449 615c10-13 17-18 22-33M1452 680c8-17 24-40 32-53M1457 584c22-8 61-13 78-15M1711 616c12 11 29 32 44 48M1487 617c12-7 15-7 29-9M1694 645c11 9 21 22 32 34M1484 628c10-6 13-6 25-9M1450 654c10-11 26-24 39-30M1472 671c6-7 8-11 17-17M1693 688c9 9 12 17 18 25M1528 641c8-3 9-4 19-5M1506 658c9-6 20-11 33-14M1532 654c12-3 32-6 45-7M1636 659c11 6 27 17 40 25M1510 673c5-5 7-6 14-8M1674 688c7 8 16 21 24 31M1627 757c-5 0-17-5-22-10s-3-14-4-19M1596 599c19 2 37-1 58 4M1708 636c10 11 15 15 30 33M1615 1568c-4 20-13 36-21 51M1606 1543c-4 18-12 42-18 59M1681 651c10 17 24 36 31 50M1587 1546c-4 15-8 33-15 50M1631 650c15 6 36 16 48 25M1557 1554c-4 17-8 27-13 40M1627 666c11 4 12 3 20 10M1579 656c13 4 28 8 39 12"/>
<path stroke="#72d530" d="M1535 569c16-3 8-2 22-2M1553 575c17 0 46 1 64 5s27 10 40 16s20 10 34 21M1516 587c20-6 32-4 46-5M1687 618c14 9 21 17 32 26M1516 608c13-3 34-7 53-6M1696 655c12 10 21 24 29 35M1465 653c12-13 27-20 40-25M1489 654c9-6 28-15 39-19M1484 659c8-7 19-15 31-19M1488 657c11-8 32-16 44-20M1547 636c10-1 29-3 41-2M1619 641c12 5 26 13 40 19M1504 655c10-6 25-11 38-13M1539 644c13-4 32-5 45-5M1645 660c10 5 18 10 26 17M1577 647c13-1 21 1 31 3s16 4 28 9M1524 665c7-3 16-7 27-9M1536 663c12-3 37-8 51-9M1596 1607c-8 17-23 40-31 53M1677 636c14 11 31 18 43 31M1580 1551c-4 14-5 18-11 32M1666 647c9 8 18 12 26 23M1584 1552c-2 19-6 29-12 43M1586 637c15 5 29 7 45 13M1567 1578c-7 15-15 23-25 40M1629 655c13 6 38 21 49 29M1625 656c10 4 20 7 31 14M1559 1577c-8 16-30 42-41 58M1582 651c15 5 35 10 45 15M1650 678c8 6 12 8 20 17M1555 1537c-3 18-7 42-10 55"/>
<path stroke="#85d430" d="M1408 646c9-13 28-37 36-49M1484 627c8-12 12-15 15-24M1514 609c4-10 7-20 9-35M1494 661c9-16 29-45 36-60M1557 567c13 1 39 1 60 6M1683 598c16 7 16 7 28 18M1562 582c14 0 26 1 38 3s19 2 33 8s39 17 54 25M1569 602c18 0 44 4 59 8M1659 622c11 6 24 13 35 23M1509 619c12-3 31-8 47-9M1489 624c13-7 26-8 38-10M1505 628c13-6 25-7 38-9M1665 657c8 7 23 20 35 30M1515 640c12-5 26-8 40-10M1532 637c12-4 19-3 28-4M1662 662c10 7 23 18 31 26M1588 634c12 1 20 3 31 7M1542 642c13-3 27-3 40-2M1584 639c12 0 20 3 30 7s22 9 31 14M1551 656c11-3 28-5 41-4M1653 673c8 5 13 8 21 15M1587 654c14-1 24 3 33 5s16 7 24 11M1570 1664c-8 13-12 18-19 30M1601 1596c-9 17-24 45-34 63M1600 648c9 2 16 1 29 7M1544 1573c-6 16-15 36-22 51M1570 654c17 2 38 3 51 7s21 12 29 17"/>
<path stroke="#98d32f" d="M1442 572c4-14 2-33 2-50M1430 597c7-11 14-18 17-33M1440 592c9-13 12-25 14-35M1441 608c7-10 16-19 21-34M1527 617c7-17 10-41 12-58M1617 573c21 5 51 18 66 25M1628 610c15 3 20 7 31 12M1556 610c15-2 30-3 45 0M1651 623c13 5 21 12 32 18M1527 614c13-2 22-3 37-3M1651 629c13 6 32 16 45 26M1528 635c11-4 16-5 28-6M1555 630c14-1 31 0 43 1M1560 633c9-1 14-2 26 0M1634 647c13 5 18 9 28 15M1582 640c13 1 27 5 37 8s16 7 24 11M1592 652c14 1 29 6 39 10s15 7 22 11M1577 1603c-7 15-19 33-27 45M1554 1583c-6 16-17 29-25 43M1542 1592c-4 14-9 17-16 29"/>
<path stroke="#aad32f" d="M1471 582c5-16 5-43 6-63M1601 610c16 2 36 8 50 13M1564 611c14 1 36 3 50 6s23 5 37 12M1543 619c13-1 28-2 41-1s28 5 39 8s15 4 26 10s29 18 43 27M1556 629c12-1 30-3 45 0s37 14 48 18s8 4 16 10M1598 631c13 2 23 6 32 10s17 8 26 13M1586 633c13 3 36 9 48 14M1565 1660c-8 14-9 12-18 26M1594 1619c-8 15-20 25-29 38M1588 1602c-6 16-10 24-19 40M1569 1583c-5 14-13 35-20 51M1572 1596c-7 17-17 36-27 53M1544 1594c-6 13-13 23-21 38"/>
<path stroke="#b8d02e" d="M1435 605c8-12 18-33 22-45M1442 621c9-17 25-52 30-67M1499 603c4-9 7-16 9-29M1551 1694c-8 13-19 30-27 45M1572 1595c-7 14-17 29-25 41M1542 1618c-10 16-25 41-34 57M1518 1635c-10 16-17 25-23 37M1545 1592c-3 12-1 6-10 21M1526 1621c-6 12-12 23-21 40"/>
<path stroke="#c3cd2d" d="M1444 522c0-17-2-38-2-53M1454 557c2-10 1-9 1-24M1444 597c9-13 11-12 14-26M1523 574c2-15 2-38 3-55M1530 601c7-15 5-15 6-28M1539 559c2-16 1-27 1-40M1567 1659c-10 18-21 32-28 44M1550 1648c-8 13-11 13-21 28M1529 1626c-8 13-14 19-24 37M1522 1624c-6 14-9 19-17 37"/>
<path stroke="#cecb2c" d="M1462 574c4-16 3-42 4-58M1547 1686c-9 14-28 43-36 58M1495 1672c-7 12-10 17-17 35"/>
<path stroke="#d9c82b" d="M1442 469c-1-15-1-26-1-39M1447 564c3-15 2-40 2-56M1455 533c0-15-1-49-1-66M1477 519c1-19 1-41 1-56M1526 519c1-18 1-34 1-49M1536 573c2-13 3-36 4-53M1540 519c1-13 1-22 1-37M1524 1739c-7 15-12 28-18 45M1539 1703c-7 13-8 20-14 32M1565 1657c-9 13-18 25-27 41M1569 1642c-10 16-30 42-40 58M1549 1634c-7 16-14 34-21 48M1545 1649c-10 17-22 36-30 49M1547 1636c-9 13-15 21-24 36M1523 1632c-8 16-19 41-26 57M1535 1613c-8 15-33 53-42 69"/>
<path stroke="#dcbc2a" d="M1457 560c4-12 1-15 2-29M1472 554c5-16 0-15 0-27M1508 574c1-14 0-37 0-54M1527 470c0-15 0-27 0-40M1541 482c1-15 2-35 2-52M1506 1784c-7 17-15 42-21 58M1529 1676c-10 15-31 44-40 62M1508 1675c-9 16-13 24-20 39M1505 1661c-8 18-24 52-31 70M1505 1661c-9 17-22 43-32 62"/>
<path stroke="#ddac28" d="M1458 571c2-14 2-45 3-59M1466 516c1-17 1-27 1-42M1478 463c0-14 0-22 0-33M1540 520c1-16 1-33 1-48M1485 1842c-5 17-9 29-14 44M1525 1735c-6 13-14 28-21 45M1511 1744c-9 16-9 22-14 36M1505 1663c-9 18-27 54-35 72M1478 1707c-6 19-17 55-23 76"/>
<path stroke="#de9d27" d="M1449 508c0-17 0-30 0-43M1454 467c0-18-1-25-1-37M1459 531c0-13 1-36 1-53M1472 527c1-12 1-29 1-45M1508 520c0-17-1-31-1-46M1504 1780c-6 16-11 36-17 54M1497 1780c-5 14-12 31-17 49M1538 1698c-10 16-22 40-30 54M1529 1700c-10 15-12 20-20 34M1528 1682c-7 14-13 23-21 38M1515 1698c-9 13-12 16-19 31M1523 1672c-9 15-22 37-30 52M1488 1714c-6 14-15 28-20 47M1497 1689c-8 15-10 19-16 36M1473 1723c-10 19-19 37-26 55s-10 32-14 48"/>
<path stroke="#df8e25" d="M1449 465c0-13 0-23 0-35M1467 474c0-14 0-29 0-44M1507 474c0-15-1-29-1-44M1541 472c0-15 0-28 0-42M1487 1834c-6 17-13 34-19 51M1480 1829c-6 17-12 36-17 55M1489 1738c-9 18-9 30-13 46M1468 1761c-6 18-9 43-14 63M1470 1735c-8 18-9 23-12 35M1455 1783c-6 21-8 33-11 49s-6 29-8 44M1474 1731c-7 18-8 24-13 41M1493 1682c-10 16-5 9-13 25M1433 1826c-3 16-4 32-6 47"/>
<path stroke="#de7e24" d="M1461 512c0-15 0-15 0-28M1509 1734c-7 13-16 31-23 48M1476 1784c-4 15-5 31-9 47s-9 33-13 50M1496 1729c-7 15-18 44-24 60M1493 1724c-9 15-13 21-20 39M1454 1824c-4 19-7 36-11 54M1481 1725c-7 16-16 44-21 61M1458 1770c-4 13-5 22-8 40M1461 1772c-4 16-10 42-15 59M1480 1707c-7 17-25 56-32 74"/>
<path stroke="#dc6f22" d="M1460 478c1-17 1-32 1-48M1473 482c1-17 1-35 2-52M1508 1752c-8 14-11 18-17 31M1507 1720c-8 15-19 33-27 53M1472 1789c-6 17-6 24-11 38M1460 1786c-5 16-6 24-9 39M1450 1810c-4 17-9 44-14 66M1446 1831c-4 18-7 30-11 45M1448 1781c-7 18-7 20-11 36"/>
<path stroke="#db5f21" d="M1461 484c1-14 1-36 2-54M1491 1783c-6 13-14 31-19 47M1486 1782c-8 17-14 36-19 52s-8 32-12 47M1480 1773c-9 20-20 50-25 68M1461 1827c-4 15-10 35-16 52M1473 1763c-7 17-16 48-21 68s-6 31-8 47M1451 1825c-4 15-9 34-14 51M1437 1817c-3 15-7 37-10 56"/>
<path stroke="#d9501f" d="M1472 1830c-5 17-7 35-11 53M1455 1841c-6 18-7 25-11 37"/>
</g>
<clipPath id="cp2r"><rect x="1884" y="423.5" width="608.5" height="760.0"/></clipPath>
<g class="sl" clip-path="url(#cp2r)" stroke-width="1.65">
<path stroke="#18408b" stroke-width="1.57" d="M2295 1144c-4 19-8 31-12 47"/>
<path stroke="#184d8c" stroke-width="1.62" d="M2316 1017c-3 13-6 38-9 59s-8 48-12 68"/>
<path stroke="#195a8e" d="M2529 1169c4 20 4 41 6 61M2513 1173c-1 21-4 35-5 53M2515 1121c0 17-2 30-4 47s-8 38-12 56M2480 1172c0 19 0 33 0 50M2434 1147c2 18 3 45 5 68M2366 1131c-2 21-7 47-10 71M2321 994c-3 11-3 9-5 23"/>
<path stroke="#18688c" d="M2538 1119c-2 18-8 45-11 63s-3 31-4 46M2509 1108c3 22 15 41 20 61M2513 1100c1 21 1 52 0 73M2508 1066c4 19 6 38 7 55M2481 1108c-1 18 0 45-1 64M2489 1167c-5 17-12 35-18 53M2439 1167c0 18-5 31-7 47M2447 1163c2 18 4 36 6 54M2430 1104c0 15 3 24 4 43M2398 1150c-5 16-8 38-12 57M2383 1107c-2 19 0 19-1 35s-5 42-7 63M2370 1037c-4 18-3 24-4 39s2 34 0 55M2372 1148c-6 16-13 36-20 54M2362 1148c-6 15-15 35-22 52"/>
<path stroke="#187689" d="M2541 1071c0 21-1 29-3 48M2488 1064c-4 23-5 26-7 44M2506 1061c1 21-2 40-4 58s-8 31-13 48M2465 1155c-2 20-8 42-12 62M2434 1105c1 21 5 43 5 62M2437 1115c3 21 7 31 10 48M2429 1055c-1 19 0 34 1 49M2413 1111c-7 18-11 23-15 39M2403 1165c-6 17-11 28-17 42M2388 1105c-4 18-10 27-16 43M2376 1109c-4 15-8 24-14 39M2334 1155c-4 16-7 28-11 42M2348 1143c-5 18-11 37-17 56M2336 950c-4 16-11 33-15 44M2176 823c11 1 17 0 28-1s23-7 38-4s34 15 51 22"/>
<path stroke="#188485" d="M2537 991c2 23 4 59 4 80M2508 1038c-1 17-3 48 1 70M2529 1110c-5 20-15 48-20 67s-6 32-10 48M2509 1049c2 20 3 30 4 51M2494 1005c6 26 11 41 14 61M2499 1172c1 18-2 35-3 52M2468 1099c0 20 0 36-3 56M2433 1040c-3 21 0 44 1 65M2427 1038c1 21 7 56 10 77M2416 1143c-3 21-4 45-5 68M2439 1045c-6 23-19 49-26 66M2424 1106c-5 18-14 42-21 59M2384 1158c-3 17-7 32-10 47M2389 1031c-3 20-5 57-6 76M2389 973c-5 17-15 47-19 64M2396 1038c-1 20-4 48-8 67M2386 1055c-2 19-6 38-10 54M2348 1104c-5 18-10 36-14 51M2360 1091c-3 18-7 34-12 52M2350 1139c-5 19-17 39-26 59M2196 866c7 3 10 3 17 4s19-2 27 2s22 16 25 25s-2 22-7 28M2138 815c13-1 27 7 38 8"/>
<path stroke="#18867a" d="M2518 1006c-3 18-8 15-10 32M2538 1057c-1 23-4 33-9 53M2504 977c2 22 4 51 5 72M2495 1158c-7 21-16 41-24 62M2487 1178c0 16-1 30-1 44M2508 974c-3 21-15 68-20 90M2499 990c4 23 7 49 7 71M2492 1117c3 22 6 37 7 55M2465 1151c-2 19-6 45-9 67M2465 1034c0 16 3 45 3 65M2431 993c-2 18-5 25-4 45M2439 989c-2 21-8 47-10 66M2429 1085c-3 15-10 37-13 58M2450 979c-1 17-5 44-11 66M2429 1058c-1 17-1 30-5 48M2391 1104c-2 21-4 37-7 54M2399 984c-3 14-7 26-10 47M2392 987c2 17 5 32 4 51M2360 1047c-4 18-8 39-12 57M2367 1037c-2 16-4 36-7 54M2352 1051c0 14 2 16 2 30s1 39-4 58M2345 903c0 13-5 32-9 47M2170 849c9 2 19 13 26 17M2258 925c-4 7-12 8-19 12M2097 829c8-10 27-13 41-14"/>
<path stroke="#19896f" d="M2477 802c15 13 24 20 36 30M2527 931c7 27 7 37 10 60M2525 928c3 24-4 59-7 78M2530 972c3 20 8 62 8 85M2475 911c4 23 13 68 19 94M2513 1092c-3 17-11 44-18 66M2489 1123c0 21-1 38-2 55M2503 934c8 21 7 18 5 40M2476 1037c4 24 12 57 16 80M2469 1108c0 19-2 25-4 43M2463 1001c1 17 1 17 2 33M2451 981c-4 17-15 39-18 59M2440 929c2 18 1 39-1 60M2437 1052c-2 16-4 18-8 33M2432 1002c1 22-1 38-3 56M2401 1029c-3 21-7 53-10 75M2403 948c2 18-2 22-4 36M2399 932c-1 14-5 23-10 41M2385 993c2 18 2 43 1 62M2372 995c-3 17-7 34-12 52M2371 993c-1 14-2 27-4 44M2354 996c-2 18-2 41-2 55M2232 938c-1 8 1 16-3 23s-11 16-18 16M2146 855c3-6 16-8 24-6M2198 964c-11-3-20-4-33-10s-33-12-46-25s-28-35-32-51s1-38 10-49"/>
<path stroke="#198b64" d="M2419 754c17 13 42 35 58 48M2502 858c13 26 20 45 23 70M2498 918c5 24 5 37 6 59M2514 1058c1 16 2 18-1 34M2491 1055c-1 24-1 48-2 68M2480 922c8 24 14 45 19 68M2467 1038c1 19 3 51 2 70M2459 933c2 23 3 51 4 68M2460 942c1 19-4 23-9 39M2439 935c-1 18-6 41-8 58M2444 990c1 22-4 46-7 62M2447 946c6 18 5 16 3 33M2397 885c4 15 3 32 2 47M2384 936c3 15 6 34 8 51M2377 946c4 17 7 29 8 47M2211 977c-7 0-19-10-25-18s-7-22-9-30M2170 911c-5-7-16-15-20-25s-8-25-4-31"/>
<path stroke="#1a8b5a" d="M2494 829c13 27 26 75 33 102M2520 935c9 22 8 16 10 37M2473 833c11 23 20 61 25 85M2467 863c5 20 3 24 8 48M2502 995c5 22 10 47 12 63M2459 852c12 20 36 62 44 82M2472 970c1 22 1 43 4 67M2464 996c2 20 2 24 3 42M2447 871c8 20 12 53 13 71M2440 886c6 23 1 31-1 49M2425 878c9 19 12 32 15 51M2410 867c12 20 30 60 37 79M2426 929c5 22 6 52 6 73M2413 976c-3 18-8 32-12 53M2391 876c5 18 11 54 12 72M2375 899c6 15 6 23 9 37M2360 895c6 16 13 35 17 51M2381 946c-1 15-5 32-9 49M2372 951c1 15-1 28-1 42M2362 944c-1 15-6 34-8 52M1843 959c17-13 36-28 50-41s24-25 35-36M2340 871c6 12 6 19 5 32M2177 929c-3-8-3-11-7-18M2234 798c15 19 24 46 29 66s3 38 2 53"/>
<path stroke="#1b8c4f" d="M2375 721c15 11 27 19 44 33M2444 770c13 19 45 61 58 88M2443 793c10 22 18 51 24 70M2494 979c0 23-2 52-3 76M2449 849c10 19 23 49 31 73M2449 865c8 23 7 45 10 68M2432 920c4 16 11 48 12 70M2376 844c12 16 17 27 21 41M2367 903c3 16 4 33 5 48M2361 905c2 13 2 23 1 39M1928 882c10-11 17-20 29-29M2210 789c14 6 31 20 41 33s13 32 19 48M2114 753c15-8 41-9 61-2s44 28 59 47M2265 917c0 16-3 26-4 40"/>
<path stroke="#1c8c44" d="M1893 644c-9 12-23 25-35 38M2328 691c17 10 32 20 47 30M2451 769c16 18 31 33 43 60M2481 840c14 27 31 73 39 95M2435 776c11 15 28 33 38 57M1735 688c16-6 32-12 48-17s29-10 49-13s47-6 72-5M2402 735c16 17 30 37 41 58M2481 922c7 24 16 50 21 73M2490 919c2 17 3 37 4 60M1746 714c15-13 29-28 47-38s41-17 61-20M2428 814c14 18 18 18 31 38M2469 908c1 17 2 41 3 62M2458 920c2 21 4 57 6 76M2412 821c12 15 27 29 35 50M2405 798c12 22 29 65 35 88M2386 815c11 15 30 44 39 63M2421 891c7 15 7 12 11 29M2374 823c10 11 24 23 36 44M2403 873c8 16 18 34 23 56M2418 921c1 18-2 37-5 55M2370 837c10 15 15 21 21 39M1799 847c19-9 41-21 56-27s19-7 35-11s44-8 61-12s16-1 38-8M2349 847c9 15 21 37 26 52M2341 851c6 12 14 28 19 44M2381 900c2 15 2 30 0 46M1957 853c12-9 23-16 44-26s57-22 78-29s30-10 44-13s31-2 44-3s24-4 35-2M2310 829c10 11 24 30 30 42M2250 924c1 11 5 22 4 33M2168 790c11-5 28-6 42-1M2083 799c5-17 16-38 31-46M2261 957c-1 15 1 30-3 46s-7 38-19 52M2094 825c8-12 15-24 23-36"/>
<path stroke="#218c3b" d="M1914 610c-6 12-11 22-21 34M1877 631c-9 13-23 25-34 37M1718 644c23-2 51-5 70-7s20-5 39-6s54-2 78-1M1728 670c20-2 36-1 59-5s59-18 80-22s32-3 48-3s31 1 48 0s40-4 56-7M2423 745c16 14 8 6 21 25M1738 693c18-7 32-14 54-22s57-21 78-25s31-3 49-2s42 3 59 4M2408 748c14 12 16 14 27 28M1904 653c24 1 55 7 74 10s25 4 40 3M2350 693c16 11 37 26 52 42M1854 656c20-2 38 3 58 7s44 12 62 14M1745 712c17-2 29-3 50-6M2424 809c13 17 16 21 25 40M2462 869c5 15 5 22 7 39M2412 793c11 17 29 49 37 72M1773 784c14-7 27-13 41-20s29-14 49-22M1767 767c20-10 41-22 60-29s35-14 53-17M1771 778c23-6 48-14 68-20s35-11 54-14s44-6 61-8M2362 782c10 13 14 17 24 33M1773 783c15-3 25-7 46-10s60-6 82-9M2406 871c6 15 11 33 12 50M1794 836c19-6 42-13 57-17s17-5 34-11s49-16 71-23M1989 789c21-6 69-23 90-31M2325 792c13 12 39 36 51 52M1813 884c19-9 43-19 57-26s15-9 28-18s37-27 55-38M2320 809c11 13 20 23 29 38M1818 896c13-9 26-17 40-27s27-22 41-32M2365 854c8 14 13 31 16 46M2352 856c7 15 12 31 15 47M2349 866c7 14 10 26 12 39M2202 780c12 1 22 5 34 10s30 10 42 17s22 11 32 22M2254 957c-1 11-4 26-12 33M2142 851c0-10 0-23 4-33s12-23 22-28M2086 856c-1-19-7-40-3-57M2239 1055c-12 13-33 27-54 27M2069 857c8-14 17-21 25-32"/>
<path stroke="#2c8d33" d="M1916 696c-11 11-15 14-22 21M2274 660c14 7 37 20 54 31M1905 630c25 1 50 5 70 4s29-4 49-9s45-20 70-23M2402 724c17 14 34 28 49 45M2019 633c15-4 14-11 36-14s59-12 90-7M2347 690c23 14 59 42 76 55M1727 667c15-7 28-13 45-19s35-15 56-19s43-6 70-3M2435 775c14 17 31 39 46 65M1978 648c17 1 25 4 41 2s36-12 59-15M2018 666c15-2 23-8 49-12M2302 670c23 8 31 13 48 23M2460 850c8 22 14 48 21 72M2481 874c9 21 7 27 9 45M1974 677c19 3 33 5 50 2M2375 743c13 17 39 53 53 71M1795 706c21-3 56-11 78-15s31-2 50-4s50-4 66-7s18-2 32-7M2372 745c14 16 39 46 52 64M2441 816c13 21 16 37 21 53M2450 867c7 22 5 31 8 53M1761 752c14-3 25-5 43-11s38-16 62-23s59-17 78-21M1863 742c20-8 49-18 71-25s47-11 64-15s20-5 37-8M2372 779c18 16 27 26 40 42M1880 721c18-4 40-4 57-5s23 1 42-1s57-6 74-9M2364 757c16 13 28 20 41 41M1954 736c17-2 25-2 41-5s37-8 53-13M2387 829c10 18 26 47 34 62M1901 764c21-2 30-2 47-5s40-10 58-16s32-14 47-21M2352 797c13 13 12 14 22 26M2381 833c9 14 15 24 22 40M1956 785c21-6 40-13 58-19s31-11 46-17M2333 786c10 12 28 36 37 51M2079 758c21-8 23-13 36-18s24-9 41-11M2295 769c13 8 16 10 30 23M1953 802c18-11 34-18 54-28s51-23 69-31M1899 837c14-10 29-21 44-30s26-13 46-21M2326 825c8 11 10 15 15 26M1818 895c17-16 37-35 52-47M1816 889c16-10 33-21 48-29M1828 921c14-9 27-15 41-26s28-30 44-44M2242 990c-7 8-21 14-33 13M2140 877c1-9 1-16 2-26M2185 1082c-21 0-52-10-73-26s-44-47-54-72s-12-55-10-76s13-37 21-51"/>
<path stroke="#368e2b" d="M1915 687c-12 11-19 16-28 23M1929 573c-3 10-9 26-15 37M1882 639c-10 10-23 23-34 34M1898 595c-5 11-12 24-21 36M2026 573c10 12 29 12 47 18s45 12 63 17s25 8 43 14s49 18 65 24s16 6 30 14M2094 602c24-4 58 0 78 2M2346 683c19 12 38 26 56 41M1898 626c27 2 72 15 93 19M2078 635c22-3 49-6 76-3M2351 705c20 13 43 31 57 43M2067 654c26-4 85-11 109-12M2208 646c21 4 70 16 94 24M2438 792c13 20 35 61 43 82M2024 679c16-3 25-12 48-19s61-18 85-21M2291 669c22 12 46 34 60 46s11 12 24 28M2021 673c13-5 28-18 50-24M1741 701c21-6 46-14 65-18M2413 789c13 20 30 56 37 78M1944 697c20-5 23-4 39-6s40-8 57-12M2383 762c16 13 18 13 29 31M2035 694c17-4 48-13 66-15M2307 726c19 13 48 37 65 53M2053 706c18-4 14-6 31-10M2310 722c15 8 39 22 54 35M2048 718c16-6 25-13 43-19s44-15 66-17M2324 740c15 13 28 30 38 42M1781 803c19-9 43-19 58-26s16-9 31-15s39-15 59-21s42-8 61-13M2356 785c12 14 20 26 31 44M2053 722c15-8 22-18 41-25M2299 740c12 12 41 43 53 57M1788 819c19-14 40-30 57-41s27-19 40-25s23-9 41-12s50-2 69-4M2353 785c13 17 20 33 28 48M2382 833c9 11 18 23 24 38M2060 749c15-6 25-13 43-19s44-13 63-16M2313 765c10 9 11 9 20 21M2156 729c17-2 47-1 62 1s16 5 28 11s36 20 49 28M2076 743c17-8 23-14 38-18M2280 769c10 9 29 27 40 40M1989 786c21-9 53-20 75-29M2291 782c12 11 27 31 35 43M1870 848c14-12 17-17 33-27s41-22 57-28s17-6 37-11M2336 816c13 12 22 24 29 38M1864 860c15-9 25-16 41-24s35-17 54-25s41-14 59-20M2324 811c11 14 21 30 28 45M1913 851c16-14 36-31 52-40M2322 820c9 12 21 32 27 46M2209 1003c-12-1-29-10-40-20s-21-27-27-41s-5-27-5-38s3-19 3-27"/>
<path stroke="#418e24" d="M1961 646c-11 13-34 38-45 50M1907 677c-11 12-18 18-27 26M2172 604c21 3 25 5 44 13s52 21 73 32s39 21 57 34M2145 612c32 4 76 26 100 35s24 9 41 16s38 13 61 27M1991 645c20 3 16 3 32 0M2400 736c15 14 22 22 35 39M2154 632c28 3 67 16 89 22s26 8 44 17s44 21 64 34M2176 642c23-1 11-1 32 4M1738 694c17-4 32-7 51-11M2432 793c12 19 20 36 28 57M2157 639c25-2 39 0 61 5s50 14 73 25M2071 649c22-6 51-15 79-14s68 13 89 19M2277 671c17 10 46 29 61 42s20 16 34 32M1806 683c18-4 26-6 46-6s50 3 74 5s51 6 68 7M2382 741c16 17 45 53 59 75M1760 751c18-7 34-14 53-22s39-18 57-23M2040 679c17-4 23-10 45-13M2315 715c16 10 52 34 68 47M2101 679c19-2 25-1 43 0s45 6 64 10M2255 702c16 6 32 11 52 24M2084 696c17-3 47-10 71-11s51 3 71 7M2276 707c14 5 20 6 34 15M2157 682c22-3 47 0 67 3s32 9 48 18s37 24 52 37M1990 728c20-4 38-8 56-14M2094 697c19-6 51-15 73-16s42 5 61 12M2279 723c12 8 8 5 20 17M1995 737c19-2 28-2 45-6s38-13 57-18M1790 825c20-11 44-25 60-33s19-10 35-15s40-9 62-13s48-7 69-11M2355 802c14 13 19 19 27 31M2166 714c19-2 31-2 49 1s42 13 58 22s30 20 40 28M2114 725c15-4 35-7 52-7M2214 726c16 5 36 20 47 27s10 6 19 16M2064 757c22-8 41-17 58-21s28-5 43-5M2255 755c13 8 24 15 36 27M1997 782c21-5 66-16 85-20s21-6 33-8M2287 780c17 9 36 23 49 36M2018 791c18-7 31-11 50-17s46-19 59-23M2285 775c14 10 28 22 39 36M1965 811c16-9 24-10 43-16s49-13 68-18s36-10 48-13M2293 788c13 10 19 19 29 32"/>
<path stroke="#4c8e20" d="M1957 643c-11 13-31 33-42 44M1883 658c-9 11-16 17-23 26M1935 550c-2 13-2 13-6 23M1903 609c-6 11-12 19-21 30M1906 569c-2 9-4 16-8 26M2011 516c3 16 5 44 15 57M2023 645c16-2 42-13 64-16M2344 690c21 13 41 32 56 46M1789 683c19-5 43-11 64-13s39-2 61-2s49 2 69 1M2387 738c17 16 33 36 45 55M1746 715c15-6 23-10 44-19s61-25 83-32s34-4 50-4s30 0 45 0s29 4 48 2M2403 755c14 13 22 17 35 37M2239 654c21 6 22 7 38 17M1994 689c17 0 15 1 33-5M2345 709c18 12 21 14 37 32M1870 706c19-6 38-9 54-11s25-2 45-5s56-8 75-12M2372 748c14 11 28 21 41 41M2085 666c21-2 60-3 84-1s41 9 61 15s42 16 57 21s12 4 28 14M2208 689c18 4 30 7 47 13M2226 692c20 3 36 10 50 15M2046 714c19-5 40-16 57-20s29-7 48-7M2314 741c17 13 30 29 42 44M2228 693c19 7 39 22 51 30M2097 713c19-5 40-10 56-13M2303 733c12 11 37 35 50 52M2016 753c20-4 37-10 55-16M2300 757c14 10 41 33 55 45M2166 718c17 0 32 2 48 8M2165 731c15 0 34 1 50 5s28 12 40 19M2115 754c12-2 27-3 41-4s33-1 45 0s19 2 33 7s36 13 53 23M2127 751c14-5 11-4 22-5s28-5 43-5M2236 749c16 6 34 15 49 26M2124 764c12-3 10-3 24-5s44-9 59-9M2239 757c14 7 40 21 54 31"/>
<path stroke="#598e20" d="M1981 618c-8 15-9 15-20 28M1980 607c-6 17-12 22-23 36M1907 687c-10 10-15 14-23 20M1947 631c-10 12-29 34-40 46M1911 542c-2 10-3 19-5 27M2011 477c0 17-3 23 0 39M2087 629c22-3 49-5 71-3s39 5 59 9s36 10 57 19s49 22 70 36M1983 669c20-1 37-5 53-9s16-10 38-13M2016 662c19-3 47-13 67-17M2351 716c22 13 37 27 52 39M2027 684c18-6 56-24 76-30s27-7 46-8M2275 670c21 9 52 28 70 39M2044 678c20-3 24-8 41-11M2326 718c16 9 31 18 46 30M2151 687c19 0 51 3 68 6s21 4 37 12s42 23 58 36M2153 700c17-2 23-5 44-2s67 17 85 22s9 2 21 13M2071 737c17-5 35-13 50-17s26-6 42-6M2268 738c13 6 17 8 32 19M2192 741c15 1 29 3 44 8M2207 750c15 0 18 1 32 7"/>
<path stroke="#658d1f" d="M1943 648c-10 13-26 29-36 39M1963 607c-6 13-7 13-16 24M1911 618c-8 13-20 29-28 40M1940 495c-1 13-3 42-5 55M1919 577c-4 13-10 22-16 32M2011 415c0 20 0 45 0 62M2074 647c22-4 68-9 91-10M2275 667c20 8 37 15 56 27s40 27 56 44M2083 645c20-3 28-6 53-4M2149 646c19 0 49 2 70 6s35 8 56 18M2085 667c17-3 38-5 58-5s44 6 66 11M2274 694c20 8 36 15 52 24M2163 714c16 0 36 0 53 4s38 13 52 20"/>
<path stroke="#718c1f" d="M2005 555c-5 20-17 48-24 63M1941 471c0 14 0 11-1 24M1913 508c-1 13-1 24-2 34M2165 637c23 0 29 4 48 9s43 13 62 21M2136 641c25 3 72 14 96 19s24 7 44 17s54 26 75 39M2209 673c22 5 46 14 65 21"/>
<path stroke="#7b8b1f" d="M1997 542c-3 16-10 48-17 65M1968 608c-7 14-15 26-25 40M1984 552c-4 17-14 42-21 55M1929 580c-5 14-11 25-18 38M1942 415c0 19-1 43-1 56M1927 531c-1 13-4 33-8 46"/>
<path stroke="#82891e" d="M2012 496c-2 15-2 38-7 59M1915 467c-1 15-1 28-2 41"/>
<path stroke="#89871d" d="M2012 467c0 13 1 14 0 29M1999 512c0 14 2 14-2 30M1983 564c-4 17-9 30-15 44M1989 505c-1 16-1 30-5 47M1942 534c-3 11-8 33-13 46M1927 502c0 14 1 17 0 29M1916 415c-1 17-1 36-1 52"/>
<path stroke="#90851d" d="M2012 415c0 17 0 38 0 52M2000 458c0 16 0 40-1 54M1925 447c0 14 2 40 2 55"/>
<path stroke="#937d1c" d="M2002 415c-1 14-2 26-2 43M1988 507c-1 17-2 41-5 57M1989 461c0 15 1 29 0 44M1945 514c-1 15 0 9-3 20M1924 415c0 11 0 17 1 32"/>
<path stroke="#93731b" d="M1990 465c-1 16 0 26-2 42M1988 415c0 15 1 31 1 46M1947 448c0 16-1 52-2 66"/>
<path stroke="#94691a" d="M1992 415c-1 17-1 35-2 50M1947 415c0 11 1 16 0 33"/>
<path stroke="#1e44ae" stroke-width="1.53" d="M2301 1131c-2 19-4 41-6 62"/>
<path stroke="#1f53b3" stroke-width="1.57" d="M2305 1135c-8 18-16 37-23 56M2307 1079c-5 19-4 33-6 52M2285 1150c-7 19-10 26-15 39"/>
<path stroke="#1f64b5" stroke-width="1.62" d="M2356 1154c0 19 0 32 1 49M2333 1127c-4 15-15 45-22 68M2332 1020c-8 16-19 41-25 59M2312 1077c-7 21-21 54-27 73"/>
<path stroke="#2075b8" d="M2540 1118c-4 21-12 33-18 51s-12 37-18 56M2353 1090c0 19 2 45 3 64M2355 1155c-4 20-7 30-10 46M2346 1050c-5 19-7 38-9 51s1 10-4 26M2306 1141c-5 18-3 35-4 53M2329 1085c-8 18-16 32-24 50M2324 1026c-3 17-6 31-12 51"/>
<path stroke="#2087b5" d="M2547 1041c1 24-3 55-7 77M2511 1155c0 22 2 48 3 72M2457 1117c-2 17-2 19-2 36s4 44 6 66M2413 1151c1 20 8 42 12 62M2358 1039c-3 17-4 31-5 51M2373 1076c-4 19-13 58-18 79M2331 1086c-8 18-20 37-25 55M2351 1029c-6 17-15 38-22 56M2352 985c-5 15-13 20-20 35M2192 865c6 6 14 10 21 17"/>
<path stroke="#1f99b1" d="M2532 1180c-3 17-7 32-10 48M2517 1093c-1 19-5 39-6 62M2516 1101c-5 15-15 31-22 50s-14 47-21 70M2483 1153c-2 20-7 45-11 67M2444 1168c-1 20-1 32-2 48M2431 1162c0 18 0 35-1 52M2418 1092c-4 19-6 39-5 59M2409 1168c-2 17-6 28-9 41M2374 990c-6 17-12 33-16 49M2383 1043c-4 17-5 15-10 33M2343 1130c-8 16-23 43-35 65M2343 1147c-7 18-21 32-32 48M2367 986c-4 19-16 45-21 64M2309 1139c-8 19-16 35-24 52M2333 974c-2 12-5 35-9 52M2215 876c5 4 9 7 13 11s11 6 16 11s13 12 17 20M2154 837c8 4 14 10 21 15s11 8 17 13M2213 882c7 8 15 18 20 29s10 25 9 36M2181 847c13 4 25-2 43 4s45 13 62 29s34 47 36 67M2270 830c24 13 60 43 71 68"/>
<path stroke="#1eaaac" d="M2540 1125c-1 19-5 38-8 55M2530 970c6 18 15 46 17 71M2520 1038c1 18-1 35-3 55M2525 1066c0 21-4 21-9 35M2484 1105c0 15 1 29-1 48M2478 1152c4 19 8 47 12 71M2467 1046c-3 21-8 53-10 71M2468 1168c-6 21-14 32-22 48M2451 1091c-2 18-6 56-7 77M2433 1169c-7 18-9 29-13 43M2432 1108c0 17 0 37-1 54M2436 1039c-5 17-14 34-18 53M2413 1107c-1 20-2 44-4 61M2336 1127c-3 21-6 47-9 71M2357 1099c-5 17-6 15-14 31M2355 1085c-1 19-5 43-12 62M2359 1034c-6 15-19 34-28 52M2363 980c-2 16-7 31-12 49M2363 928c1 15-6 42-11 57M2335 954c0 11 0 9-2 20M2197 864c7 3 13 9 18 12M2261 918c4 7 8 18 8 26s-4 17-9 21M2127 827c9 1 19 6 27 10M2242 947c0 12-5 24-12 30M2261 835c16 6 42 18 53 34M2148 830c13 6 21 14 33 17M2322 947c3 20-11 43-23 54s-36 8-50 13M2149 802c20 10 29 12 49 16s48-1 72 12M2341 898c12 25 8 65-3 84s-43 24-61 32"/>
<path stroke="#1fad9e" d="M2541 1069c1 19 1 38-1 56M2516 933c8 17 9 19 14 37M2513 987c5 21 6 33 7 51M2519 975c3 22 7 70 6 91M2477 1119c-4 20-10 40-14 57s-4 28-5 42M2480 1060c2 22 3 29 4 45M2467 1108c3 16 7 25 11 44M2477 992c-2 18-6 33-10 54M2484 1091c-2 19-10 56-16 77M2464 1176c0 22-9 27-14 41M2455 1057c-2 20-2 16-4 34M2460 1106c-6 18-20 45-27 63M2434 1060c-2 19-1 31-2 48M2411 1050c0 18 2 37 2 57M2398 1151c-1 20-3 38-5 57M2377 1139c-6 16-15 42-23 63M2358 1136c-6 16-15 42-23 63M2390 941c-2 19-11 33-16 49M2395 972c-2 17-9 53-12 71M2345 1075c-3 14-6 32-9 52M2372 1025c-3 17-10 56-15 74M2354 1031c-2 19 3 35 1 54M2371 938c1 14 0 30-4 48M2368 996c0 16-3 23-9 38M2333 1077c-6 18-16 43-24 62M2331 914c3 13 3 30 4 40M2173 858c7-1 17 3 24 6M2260 965c-5 4-14 5-21 4M2089 862c1-11 6-22 12-27s18-8 26-8M2230 977c-8 7-20 9-31 8s-23-9-33-16M2218 833c14 0 27-4 43 2M2314 869c12 15 18 43 15 59s-23 26-34 34M2062 830c12-7 23-21 38-21s34 14 48 21M2249 1014c-14 4-22 8-34 13M2200 750c16 17 36 32 48 49s18 37 24 52s6 28 9 42s9 27 11 43M2002 768c14-16 52-15 77-9s51 33 70 43M2277 1014c-17 8-30 5-42 15M2059 752c9-20 39-22 59-32"/>
<path stroke="#20b190" d="M2534 1007c5 27 6 42 7 62M2493 1055c-4 22-11 43-16 64M2463 1057c-1 20 2 35 4 51M2477 933c2 19 1 40 0 59M2483 1057c3 19 4 16 1 34M2471 1059c-1 19-5 29-11 47M2442 994c-1 25-6 47-8 66M2446 989c-1 15-6 33-10 50M2410 999c0 17 0 33 1 51M2399 1085c-1 16 0 45-1 66M2389 1105c-4 15-6 18-12 34M2373 1105c-6 17-9 15-15 31M2389 942c5 12 7 13 6 30M2355 1039c-4 13-7 21-10 36M2360 904c5 12 10 20 11 34M2361 928c3 15 4 35 2 52M2349 895c4 8 14 18 14 33M2343 1029c-2 17-4 30-10 48M2221 955c-5-2-10-4-16-6M2150 896c-2-9-1-20 3-27s12-10 20-11M2239 969c-8-1-16-7-22-12M2167 938c-6-1-12 0-19-2s-17-6-26-12s-18-17-24-27s-9-25-9-35M2166 969c-9-8-17-19-23-27s-9-17-13-25s-8-15-11-22M2295 962c-11 7-26 3-34 9M2292 936c2 16 6 37 2 54M1997 852c-9-28-8-69 5-84M2235 1029c-13 10-15 35-32 46M2070 892c1-19-9-35-11-58s-10-63 0-82"/>
<path stroke="#20b382" d="M2479 811c12 10 20 17 31 26M2487 868c13 25 22 48 29 65M2490 912c8 24 18 54 23 75M2507 933c7 20 9 20 12 42M2473 974c2 24 5 64 7 86M2468 975c5 24 12 62 15 82M2450 1087c2 20 14 67 14 89M2464 970c-1 21-7 67-9 87M2467 997c3 19 5 44 4 62M2442 946c5 20 5 27 4 43M2401 1056c-2 17-2 13-2 29M2397 1051c-1 20-5 39-8 54M2389 878c3 16 4 44 1 63M2369 997c-5 16-10 29-14 42M2372 995c2 17 2 13 0 30M2367 971c-4 16-11 42-13 60M2356 934c4 15 11 45 12 62M2348 891c5 11 11 22 13 37M1838 945c16-9 33-16 48-26M2336 878c7 10 8 8 13 17M2346 974c0 13-1 38-3 55M2321 873c4 12 8 27 10 41M2177 868c5-1 14 0 20 4s11 14 13 21s-1 14-2 19M2205 949c-6-3-12-4-18-8s-16-9-22-17s-13-18-15-28M2217 957c-6-4-10-10-15-15M2203 785c16 3 40 19 52 34s20 43 22 60s-6 31-8 44s-4 18-4 31M2261 971c-8 7-8 18-16 28s-19 29-33 31M2281 985c-1 22 7 50-2 68M2294 990c-4 17-13 38-28 47M2055 932c-20-27-50-53-58-80M2203 1075c-17 11-46 28-69 22s-57-37-71-62s-11-65-10-88s16-36 17-55"/>
<path stroke="#22b474" d="M2434 773c18 14 32 27 45 38M2513 907c7 27 17 73 21 100M2480 856c11 24 20 57 27 77M2499 986c2 25-3 47-6 69M2472 990c-1 20-8 48-9 67M2463 877c11 23 12 37 14 56M2454 1055c-5 19-6 11-4 32M2461 928c4 19 4 21 3 42M2450 944c7 19 13 34 17 53M2445 913c1 20-1 57-3 81M2409 944c2 21 1 37 1 55M2410 982c0 21-7 57-9 74M2399 1034c-5 18-19 54-26 71M2368 899c8 13 17 31 21 43M2360 927c4 15 10 52 12 68M2374 938c0 11-4 18-7 33M2341 864c8 16 14 27 19 40M2348 906c3 11 5 13 8 28M1886 919c14-10 28-23 39-33s12-17 26-27M2303 839c10 12 25 30 33 39M2343 951c3 12 3 10 3 23M1841 953c20-15 45-33 60-44M2165 880c3-4 7-11 12-12M2208 912c-1 6-2 9-3 13M2144 844c5-14 6-30 15-40s28-21 44-19M2265 954c-1 12 0 29 0 44M2212 1030c-14 2-39-5-51-17s-23-41-26-58s5-34 5-47s-3-22-4-33M2279 1053c-8 17-29 38-49 37M2057 789c5-19 32-23 47-35M2266 1037c-15 9-40 5-60 7"/>
<path stroke="#23b466" d="M2374 728c16 12 43 32 60 45M1726 664c15-10 27-21 44-30s39-19 61-22s46 0 69 4M2439 783c14 23 35 60 48 85M2464 842c8 19 18 46 26 70M2468 916c3 20 3 34 5 58M2471 940c5 22 2 31 1 50M2449 913c5 17 13 38 19 62M2477 974c-1 25-19 63-23 81M2416 868c9 22 21 58 26 78M2396 984c1 19 2 47 1 67M2404 994c1 18 0 22-5 40M1813 883c21-7 46-14 63-22s27-17 39-25M2369 843c11 12 16 18 20 35M2346 862c7 12 15 23 22 37M2384 941c-1 19-10 39-15 56M2353 902c4 12 4 9 7 25M1823 909c20-12 43-27 58-36s22-14 32-20M2338 869c5 12 7 26 10 37M1827 919c17-11 35-25 49-34M2327 858c7 10 15 21 21 33M1951 859c14-11 34-25 58-37s63-27 81-35M2277 809c9 9 16 19 26 30M2329 903c3 13 11 37 14 48M1901 909c15-11 20-15 30-22s19-15 31-22s20-11 42-21s68-28 89-37M2303 840c8 11 13 20 18 33M2159 890c3-3 3-6 6-10M2230 1090c-19-1-51-25-68-45s-23-54-31-74M2115 922c-9-17-30-32-39-55s-24-59-19-78M2242 840c19 9 39 12 56 27s39 41 47 62s7 51-1 67M2175 810c13-4 25-14 44-14s46 1 66 14s47 39 57 63s12 55 6 75s-26 33-39 43"/>
<path stroke="#24b558" d="M2493 851c12 23 13 30 20 56M1900 616c24 5 52 19 72 25M2442 787c15 21 27 44 38 69M2482 907c8 23 15 54 17 79M2454 854c6 18 11 42 14 62M2409 799c14 18 43 56 54 78M2440 858c7 18 17 52 21 70M2424 881c8 20 18 44 26 63M2438 877c6 16 6 17 7 36M2397 873c5 18 10 50 12 71M2404 931c4 16 7 30 6 51M2393 938c1 14 2 28 3 46M1915 836c12-9 19-17 32-26s24-18 44-29M2327 804c14 10 32 27 42 39M1806 864c23-4 53-10 71-14s22-3 33-6s14-5 32-14M2327 827c9 14 12 23 19 35M2370 904c6 12 5 23 4 34M1913 853c11-7 14-10 31-18s51-21 74-30s46-19 65-27M2307 813c9 12 25 36 34 51M1876 885c14-9 22-14 35-21s23-14 40-22s40-16 58-23s32-12 52-20M2302 828c10 10 17 19 25 30M2090 787c19-8 18-8 30-12M2245 782c15 8 22 17 32 27M2093 807c21-9 26-12 37-16s23-9 34-12M2274 806c11 10 21 23 29 34M2193 939c-4 0-7-1-11-1M2140 911c0-6 5-12 8-16s8-3 11-5M2131 971c-8-21-7-31-16-49M2344 996c-8 16-31 25-47 29M2139 815c14-1 22-2 36-5M2309 991c-14 9-31 8-43 13"/>
<path stroke="#2bb54c" d="M2338 704c14 9 20 13 36 24M1972 641c20 6 30 12 50 9M2371 693c17 14 23 23 34 38s21 30 34 52M1737 692c17-4 31-6 52-12M2441 796c8 15 15 26 23 46M1730 674c20-6 41-12 61-17s38-11 57-13s33-3 53-1M2434 812c9 16 14 25 20 42M2444 861c9 21 22 58 27 79M1752 731c20-8 41-19 58-24s28-9 49-10s56 2 78 2M2379 769c14 14 16 12 30 30M2436 875c6 15 8 21 13 38M2456 910c8 20 21 40 21 64M2416 816c11 15 17 23 24 42M2407 816c14 20 25 45 31 61M1775 788c16-4 26-6 47-12M2390 814c8 15 17 32 26 54M2383 838c9 16 10 18 14 35M2398 928c4 19 6 49 6 66M1991 781c20-10 57-26 76-34M2286 779c15 8 27 14 41 25M1942 830c18-9 61-32 78-42s16-7 29-15M2373 879c6 17 11 42 11 62M2335 850c6 16 14 39 18 52M2342 863c11 14 23 28 28 41M2083 778c18-7 33-15 45-19M2289 795c11 8 9 7 18 18M1827 917c13-10 26-21 39-30s20-17 37-26s45-19 64-26s32-12 52-20M2321 833c11 14 12 23 17 36M2061 799c21-7 55-19 69-24s11-3 20-5M2264 796c13 9 28 22 38 32M2120 775c12-4 31-8 43-10s10-5 24-2s43 12 58 19M2321 876c5 13 4 15 8 27M2164 779c11-3 21-7 33-6M2237 783c13 6 26 14 37 23M2182 938c-4 1-9 4-15 3s-14-4-19-9s-9-15-8-21M2297 1025c-17 3-39-7-54-10s-25-8-39-9M2089 816c16-6 36 0 50-1M2266 1004c-12 6-20 14-30 21"/>
<path stroke="#38b642" d="M1906 660c-8 10-22 24-33 36M2287 673c18 10 36 22 51 31M1720 650c19-1 31-1 55-3M2440 770c12 18 40 58 53 81M2022 650c21-2 52-17 73-23M2212 619c26 5 66 15 92 27s50 33 67 47M1789 680c21-5 51-16 74-20s43-2 62-2s37 2 52 1s25 0 42-6M2411 755c17 18 21 27 30 41M1901 643c21 1 50 6 71 8s33 5 52 4M2391 732c18 15 36 35 51 55M2450 846c13 18 23 37 32 61M1753 732c13-5 19-8 39-16M1937 699c22 1 39 3 56 1s30-5 47-12M2410 823c12 19 19 37 26 52M1760 751c22-7 46-14 66-20M2401 826c9 20 15 36 23 55M1767 767c19-7 37-15 58-22s45-12 63-16M1822 776c20-5 56-15 76-20s30-10 48-16s40-13 58-19M2367 781c11 11 15 19 23 33M1785 812c18-7 36-14 55-20M2389 887c6 15 12 28 15 44M2388 899c5 18 3 25 5 39M2067 747c18-8 18-10 33-12s41-4 58-3M2237 755c14 6 34 16 49 24M2049 773c14-7 33-20 53-28M2294 778c10 13 24 35 33 49M1822 905c11-10 21-18 35-28s29-24 45-34M1825 913c17-8 35-16 50-25s24-15 39-27M2128 759c12-4 17-4 28-5s24-3 38-1s28 6 44 13s39 22 51 29M2019 815c19-8 48-21 65-29M2150 770c9-1 23-4 36-4s25 2 38 7s27 14 40 23M2197 773c12 1 27 5 40 10M2204 1006c-13-2-25 4-43 1s-43-8-62-22s-43-40-52-62s-9-54-2-72s29-29 44-35"/>
<path stroke="#46b738" d="M1925 635c-8 13-10 15-19 25M2228 645c17 7 41 18 59 28M1775 647c25-2 72-9 93-11s13 1 32 1M2095 627c20-5 29-7 48-9s42-3 69 1M2019 653c16-5 39-19 59-25s30-12 57-9M2337 692c23 16 56 46 74 63M2024 655c19-1 43-9 62-12M2407 793c13 15 31 34 43 53M1792 716c20-7 61-24 80-29s19-4 37-4s53 0 73-1M2396 764c18 18 28 33 38 48M1752 729c15-3 29-5 47-8M2418 814c11 18 18 26 26 47M2040 688c16-6 32-19 53-25s44-12 68-11M2323 720c20 15 42 36 56 49M1755 737c16-3 31-6 49-9s31-7 55-10M2428 857c6 14 20 33 28 53M1826 731c21-6 39-12 56-15s28-4 47-6s50-2 69-4M2377 767c15 16 29 34 39 49M1770 774c20-13 41-29 60-39s38-21 58-26s44-4 60-5M1888 729c18-3 29-2 45-4s27 0 47-3s53-10 72-15M2356 761c13 13 37 36 51 55M2004 721c17-6 35-13 49-18s16-8 33-11M2325 744c18 11 31 25 42 37M1840 792c18-6 38-11 55-15s30-5 48-9s44-9 63-14s32-9 50-16M2339 777c15 16 34 45 44 61M2365 835c9 17 18 36 24 52M2382 876c7 16 12 32 16 52M2158 732c17 1 32 5 45 9s20 7 34 14M2102 745c20-8 51-16 67-20M2264 752c15 8 19 13 30 26M2347 841c9 12 19 22 26 38M1902 843c17-10 33-17 53-24s46-14 64-19s25-7 41-12s40-16 56-22M2313 810c8 12 15 25 22 40M1914 861c15-11 35-30 51-41s30-16 46-24M2302 820c11 11 29 29 40 43M2084 786c17-8 26-16 40-21s27-11 42-13M2269 783c14 11 40 36 52 50M1826 916c18-12 38-27 55-35s35-10 46-13s10-2 23-6s38-10 58-17s37-14 58-25M2300 824c7 14 16 39 21 52"/>
<path stroke="#54b82e" d="M1916 662c-9 11-26 26-39 38M2028 581c10 12 23 9 38 14s34 10 54 16s47 13 65 19s26 7 43 15M1900 637c18 1 59 4 78 5s14 2 32-3s52-24 76-29M2367 699c20 15 37 33 49 45s11 8 24 26M2135 619c28 2 85 18 108 25M2274 657c16 8 40 18 63 35M2086 643c20-2 36-3 58-1M2335 695c19 11 38 22 56 37M1756 740c16-6 27-10 48-19s54-24 75-30s36-8 54-10M1982 682c20-1 28 0 47-4s44-16 66-20M2321 705c21 14 56 41 75 59M1799 721c17-2 33-5 57-8s63-6 83-9s22-2 36-6M2383 757c11 16 25 40 35 57M2161 652c24 0 59 12 76 16s13 4 27 12s40 25 59 40M1859 718c23-3 64-4 87-6s31-2 47-5s32-8 49-15M2368 760c15 18 31 43 42 63M2416 829c9 18 5 15 12 28M1998 706c20-3 36-8 50-11s17-8 32-12M2322 721c19 13 39 31 55 46M1948 704c15 0 15 2 32 2s48 1 67-1M2370 765c11 17 22 42 31 61M2052 707c19-5 23-11 42-16M2326 737c15 10 16 10 30 24M2086 692c16-2 44-5 66-4M2259 713c18 7 48 20 66 31M2056 738c17-7 39-19 54-24M1791 827c20-6 42-14 61-19s38-8 53-11M2362 835c9 17 20 47 26 64M2359 836c7 10 17 25 23 40M2169 725c16-3 15-3 31 1s48 17 64 26M1812 881c17-9 37-20 52-28s21-9 35-15s35-13 53-20s40-14 57-21M2317 810c10 9 20 20 30 31M2116 766c17-6 25-11 41-14M2286 780c10 8 19 18 27 30M2011 796c17-7 37-14 53-20s26-11 43-16M2279 794c8 8 13 14 23 26M2166 752c15-1 34 0 47 2s19 8 28 13s15 5 28 16M2066 820c22-10 54-30 69-38"/>
<path stroke="#62b829" d="M1932 640c-7 12-7 12-16 22M1955 578c-6 14-22 43-30 57M1902 651c-8 10-24 26-36 39M2006 523c4 20 12 46 22 58M2086 610c24-6 44-7 69-5s56 12 79 20M2292 650c23 12 54 33 75 49M2243 644c23 6 15 5 31 13M2144 642c22 2 50 8 72 12s36 10 56 17s43 14 63 24M1933 681c19-3 43-4 58-5s17-2 33-6s34-16 58-20M2375 760c14 13 19 19 32 33M2095 658c22-4 48-4 68-4M1975 698c15-3 30-6 51-13s48-24 71-30M2350 719c17 14 21 22 33 38M2042 692c17-6 36-19 53-25M2320 713c16 13 33 29 48 47M1761 752c23-8 50-16 69-22s27-12 41-17s28-10 47-12M2369 753c16 19 37 59 47 76M2080 683c16-4 36-12 60-13M2262 689c17 7 41 18 60 32M2047 705c20-3 29-9 49-14M2338 728c17 13 21 21 32 37M2094 691c19-4 51-9 72-10M2265 704c18 8 45 24 61 33M2152 688c23 2 52 9 70 13s20 5 37 12M2110 714c15-6 21-8 36-9s36-5 56-1M2267 723c16 7 19 10 31 18s27 20 41 36M1905 797c15-4 21-4 37-9s42-14 63-22s45-20 63-28M2337 788c9 12 20 31 28 47M1804 859c19-11 42-25 59-34s23-15 38-23s34-17 53-23M1806 865c17-13 36-27 52-38s35-21 48-28M2341 815c12 11 11 11 18 21M2009 797c18-6 31-11 49-18s41-18 57-23M2289 787c14 9 18 14 28 23M2157 752c15-4 38-9 55-8M2256 759c13 6 21 12 30 21M2107 760c16-4 43-10 57-13M2189 746c15 4 49 16 64 24s18 15 26 24M2135 782c15-8 11-8 20-12M2278 793c8 9 14 17 22 31"/>
<path stroke="#72b729" d="M1917 630c-6 10-6 11-15 21M2234 625c23 7 36 12 58 25M2082 650c25-4 66-5 88-4M2325 716c16 13 36 31 50 44M2163 654c20 1 32 3 50 8s39 11 57 18s30 11 51 25M2097 655c23-6 48-6 67-6M2281 675c23 11 52 31 69 44M2095 667c17-6 31-9 48-10s37-2 59 3s53 16 73 25s30 16 45 28M1918 701c19-2 47-1 66-2s33 2 50-1M2140 670c23-1 62 4 83 7s22 5 39 12M2096 691c19-4 46-10 68-11s51 0 68 1M2266 689c17 8 54 27 72 39M2166 681c21 0 38 4 54 7s28 7 45 16M2202 704c20 3 49 13 65 19M2068 738c17-9 27-17 42-22M2313 761c12 10 15 14 24 27M1954 779c19-6 42-11 60-16s31-7 47-12s32-11 47-15M2333 795c9 11 20 22 29 40M1906 799c14-7 17-8 33-13s42-12 61-18s37-11 55-16M2115 756c15-6 22-8 37-10M2234 755c14 7 41 23 55 32M2212 744c16 1 32 9 44 15M2164 747c13-2 10-5 25-1M2155 770c9-4 16-12 32-12s47 7 62 12s20 14 29 23"/>
<path stroke="#82b629" d="M1959 591c-6 15-19 37-27 49M2004 461c1 18-2 43 2 62M2170 646c22 1 25 4 43 10s44 18 62 28s33 19 50 32M2164 649c19 0 28 1 48 6s46 10 69 20M2034 698c16-4 31-13 50-19s40-15 64-15M2319 718c15 9 34 17 50 35M2232 681c17 2 16 0 34 8M2110 716c14-5 28-9 45-10M2267 728c17 9 35 23 46 33M2108 736c15-5 27-8 42-10M2304 767c12 9 19 17 29 28M2055 752c18-6 36-14 52-17s27-5 44-5M2284 770c13 10 44 34 57 45M2152 746c15-1 37-2 51-1s16 3 31 10"/>
<path stroke="#92b528" d="M1964 546c-3 12-2 17-9 32M1940 586c-6 14-16 33-23 44M2005 415c-1 15-1 28-1 46M2148 664c24-1 57 6 79 12s40 17 55 24s23 10 37 18M2155 706c18-1 39-1 58 3s37 11 54 19M2150 726c15-2 29-6 48-3s48 10 66 18s29 17 40 26M2151 730c17 0 40 2 58 6s40 16 52 22s10 3 23 12"/>
<path stroke="#9eb327" d="M1972 552c-3 16-6 24-13 39M1969 509c-2 14-3 26-5 37"/>
<path stroke="#a8b127" d="M1971 463c0 16-1 32-2 46M1952 545c-3 16-6 27-12 41"/>
<path stroke="#b1ae26" d="M1981 493c-2 16-5 43-9 59M1972 415c0 16 0 32-1 48"/>
<path stroke="#baac25" d="M1957 491c-1 13-2 38-5 54"/>
<path stroke="#bda124" d="M1977 415c1 14 3 30 3 43s2 20 1 35M1958 471c-1 13 0 8-1 20"/>
<path stroke="#be9423" d="M1959 415c-1 19-1 43-1 56"/>
<path stroke="#2555d9" stroke-width="1.53" d="M2281 1143c-7 17-6 31-10 46"/>
<path stroke="#2667e0" stroke-width="1.57" d="M2523 1175c-3 21-7 34-10 52M2312 1086c-9 15-24 40-31 57M2292 1134c-5 19-5 38-8 57"/>
<path stroke="#277de3" stroke-width="1.62" d="M2531 1100c-1 21-5 54-8 75M2356 1136c-8 17-19 41-28 62M2310 1078c-5 14-14 37-18 56"/>
<path stroke="#2892e5" d="M2525 1045c3 17 6 33 6 55M2486 1167c1 19 3 38 5 56M2408 1161c-7 19-8 32-13 48M2427 1151c-3 19-10 40-15 60M2395 1168c1 17 2 27 2 41M2376 1133c-10 18-27 44-40 66M2318 1131c-7 17-15 41-23 62M2307 1136c-5 17-10 38-16 56M2336 1050c-8 16-15 20-24 36M2319 1047c-3 14-5 16-9 31M1948 870c-1 6 7 14 13 15s19-4 27-8"/>
<path stroke="#27a8e2" d="M2529 1162c-2 22-8 44-12 65M2484 1107c0 19 1 41 2 60M2437 1095c-7 20-22 47-29 66M2421 1149c-6 21-17 40-25 60M2429 1099c0 20 0 33-2 52M2392 1110c-1 19 2 42 3 58M2406 1162c-2 19-9 31-14 46M2379 1158c-3 19-13 30-20 45M2396 1092c-4 13-10 23-20 41M2377 1097c-6 18-12 22-21 39M2321 1128c-6 20-13 44-19 66M2334 1092c-6 15-10 22-16 39M2318 1091c-4 17-7 28-11 45M2329 991c-1 18-7 41-10 56M1966 848c-7 7-17 16-18 22M1988 877c8-4 15-11 22-17"/>
<path stroke="#27bfdd" d="M2537 1183c-4 21-8 30-12 46M2531 1094c1 18 0 46-2 68M2532 1175c0 22-6 36-9 53M2517 1001c6 23 6 28 8 44M2450 1155c-2 17-2 41-3 61M2452 1041c-3 21-7 35-15 54M2437 1085c-3 17-9 44-16 64M2424 1029c1 21 4 50 5 70M2398 1056c-6 22-6 36-6 54M2401 1093c2 18 6 49 5 69M2356 1160c-9 20-9 27-13 40M2378 1086c0 18 4 52 1 72M2402 1051c0 20-2 27-6 41M2389 1029c-2 21-7 50-12 68M2330 1129c-5 19-8 45-13 67M2340 1075c-5 16-12 33-19 53M2311 1152c-5 21-5 28-8 42M2350 1039c-4 17-11 38-16 53M2332 1033c-4 18-10 41-14 58M2361 992c-3 18-17 42-25 58M2208 860c4 4 6 11 7 16s0 8 0 12M2188 805c11-2 30 2 40 12s19 31 23 44s-3 27-3 38s0 15 2 25M1988 830c-8 6-15 12-22 18"/>
<path stroke="#26d4d7" d="M2535 1164c3 17 8 45 11 68M2550 1100c-1 23-9 61-13 83M2523 1094c3 22 9 59 9 81M2497 1174c2 16 6 34 9 52M2483 1057c0 20 0 32 1 50M2458 1111c-4 18-6 26-8 44M2467 1180c2 22-2 26-3 39M2418 1146c-8 20-15 42-23 62M2439 1050c0 16 1 19-2 35M2421 974c1 16 2 34 3 55M2392 1051c2 17 6 23 9 42M2377 1054c-4 16 1 15 1 32M2396 972c1 18 6 59 6 79M2346 1082c-7 18-11 28-16 47M2352 1033c-4 16-7 26-12 42M2334 1073c-8 22-18 59-23 79M2356 992c-1 15-3 30-6 47M2327 939c1 14 4 34 2 52M2181 852c3-3 9-5 13-3s11 6 14 11M2215 888c1 4 2 7 3 11s5 10 5 16M2219 850c9 9 23 16 28 26s8 26 6 35M2205 820c9 6 19 21 23 32s1 22 1 33M2153 853c5-5 5-15 11-23s13-23 24-25M2250 924c3 11 12 27 13 39s-2 32-11 38M2142 758c14-9 43-13 60-2s33 47 40 68s-2 40 4 57s19 27 29 47s31 57 28 76M2254 874c17 15 37 25 51 44s33 50 36 73M2141 802c17 7 28 15 43 20s27 1 45 7s44 12 64 28s44 44 53 67s9 57 1 75M2035 800c-8 5-16 10-24 15s-16 10-23 15"/>
<path stroke="#27d9c5" d="M2529 1130c1 16 3 17 6 34M2544 1039c4 20 7 37 6 61M2526 1051c3 17 5 25 5 43M2490 910c7 22 21 69 27 91M2491 1124c1 20 3 33 6 50M2482 990c2 20 1 48 1 67M2474 1045c-4 23-11 47-16 66M2437 1171c0 22-1 29-1 44M2450 972c1 17 4 49 2 69M2442 1089c-5 15-16 37-24 57M2414 1163c-5 20-12 30-18 46M2425 978c-5 20-21 56-27 78M2389 1145c-4 19-7 41-10 61M2388 992c-1 20 1 43 4 59M2397 1081c-8 22-32 59-41 79M2399 989c-6 20-19 49-22 65M2386 974c1 16 5 35 3 55M2359 980c0 17-4 37-7 53M2346 984c-3 13-9 32-14 49M2355 941c5 14 10 33 6 51M2324 905c2 13 2 19 3 34M2176 865c1-4 2-10 5-13M2223 915c0 5-1 12-4 16M2253 911c-3 9-13 16-20 20M2153 832c4-6 11-17 19-19s23 0 33 7M2129 863c8-6 18-4 24-10M2252 1001c-8 6-26 5-38-2M2205 837c13 7 29 9 39 20s17 29 18 42M2190 779c17 10 34 35 45 51s14 34 22 48s13 22 22 37s25 32 31 51M2121 811c7-13 8-43 21-53M2303 1004c-2 19-27 25-41 38M2341 991c3 22-3 51-16 64s-40 16-60 13M2081 784c19-1 43 12 60 18M2347 999c-8 18-33 23-50 35"/>
<path stroke="#28ddb3" d="M2454 790c16 13 38 30 57 45M2457 799c14 12 33 28 49 41M2526 1064c0 23 1 49 3 66M2515 992c5 21 8 42 11 59M2510 1044c4 20 9 28 13 50M2495 1057c-2 23-4 48-4 67M2448 1090c5 24 16 69 19 90M2436 1084c0 20 2 65 1 87M2445 944c3 15 4 12 5 28M2451 1057c-2 15-3 18-9 32M2437 990c2 22 2 45 2 60M2418 930c2 14 3 27 3 44M2426 1089c-2 19-7 54-12 74M2401 1094c-4 19-9 33-12 51M2388 1106c-4 20 5 28 4 45s-6 37-8 56M2408 1028c-2 15-2 32-11 53M2395 942c1 14 0 11 1 30M2384 935c2 16 2 24 2 39M2369 1021c-6 15-17 44-23 61M2354 1021c-6 16-13 30-20 52M2352 948c3 15 4 29 4 44M2354 954c-1 16-4 17-8 30M2334 903c5 10 17 23 21 38M2176 876c0-4-1-7 0-11M2219 931c-3 3-10 5-15 3M2233 931c-7 4-17 1-23 3M2144 851c4-5 4-13 9-19M2118 936c-4-15-14-33-12-45s15-21 23-28M2214 999c-12-6-21-24-32-36M2262 899c2 12-6 26-12 34s-16 9-22 14M2148 809c8-6 24-3 36-4M2132 769c15-5 40 0 58 10M2310 966c7 20 14 50 9 67M2097 834c12-8 16-11 24-23M2337 897c2 23 11 49 6 68M2206 752c17 15 27 35 41 53M2265 1068c-20-3-43-20-60-31M2025 808c11-16 36-23 56-24M2238 786c20 3 48 2 70 17s52 43 62 68s8 60-1 79"/>
<path stroke="#29e0a2" d="M2422 771c14 10 21 16 35 28M2532 992c2 28-5 49-6 72M2530 981c6 20 11 39 14 58M2501 976c2 20 6 49 9 68M2474 868c9 19 9 20 16 42M2475 939c4 18 6 31 7 51M2485 970c-1 19-6 52-11 75M2442 1039c0 15 2 28 6 51M2441 1054c-4 15-4 11-5 30M2432 877c7 24 10 51 13 67M2455 1002c3 23-2 41-4 55M2412 890c7 18 5 26 6 40M2421 1052c2 14 6 18 5 37M2431 935c1 17 0 22-6 43M2416 1031c-4 17-10 44-15 63M2398 935c-2 19-9 38-10 57M2409 994c0 14 1 20-1 34M2412 934c-1 15-7 35-13 55M2390 887c5 17 4 41 5 55M2377 993c-2 14-3 13-8 28M2355 933c2 12 5 30 4 47M2366 977c-2 13-7 28-12 44M2338 906c5 13 11 28 14 42M1842 956c19-12 41-26 56-37M2322 882c5 10 6 11 12 21M2315 864c4 12 7 29 9 41M2204 934c-5-1-12-7-16-11s-7-12-9-17s-3-8-5-12s-5-9-8-13M2210 934c-7 1-10 2-16 5s-11 10-19 11M2116 883c2-9 11-15 16-20s9-7 12-12M2218 934c-7 2-16 3-22 7M2108 824c4-10 18-14 26-21M2228 947c-7 4-9 8-14 14M2133 841c3-10 6-26 15-32M2104 813c3-17 14-38 28-44M2319 1033c-5 17-23 34-40 36M2120 963c-21-13-50-21-61-38s-13-49-6-64s33-19 44-27M2343 965c-4 18-19 35-33 43M2078 717c17-9 44-9 65-4s45 24 63 39M2205 1037c-17-10-28-23-42-31s-25-11-42-20s-41-19-58-37s-39-48-45-71s-3-54 7-70M2313 895c14 24 36 47 42 72s6 61-5 76M2140 763c20 5 36 18 52 22s27-2 46 1M2369 950c-9 19-36 28-53 35"/>
<path stroke="#2ae190" d="M2418 760c11 10 21 18 36 30M2377 737c16 11 32 23 45 34M2499 921c7 25 12 49 16 71M2436 795c12 20 29 54 38 73M2502 981c-1 20-6 52-7 76M2458 880c11 24 13 40 17 59M2483 934c3 17 4 18 2 36M2444 1004c-1 17-3 21-2 35M2458 994c-3 21-13 45-17 60M2429 921c2 17 6 48 8 69M2414 1001c1 22 5 36 7 51M2418 875c7 17 12 43 13 60M2422 994c-1 15-3 20-6 37M2416 1031c-7 18-24 55-28 75M2377 878c3 13 6 41 7 57M2349 906c4 13 5 14 6 27M2322 869c7 14 11 24 16 37M2349 890c3 15 5 48 5 64M1898 919c14-10 23-19 31-28M2301 846c9 12 15 26 21 36M1842 957c22-11 48-25 64-33s18-9 29-17s23-21 38-32M2175 950c-9 2-22 2-32-3s-21-19-26-29s-4-26-1-35M2196 941c-5 4-5 11-11 17M2113 865c-1-11-8-31-5-41M2214 961c-5 6-8 17-16 23s-22 11-34 9M2123 891c3-9 7-13 8-21s-1-19 2-29M2197 811c14 3 38 18 47 33s4 37 6 56M2134 915c-5-14-14-26-19-43s-14-42-11-59M2279 1069c-17 2-44-10-61-22s-32-35-44-50M2216 819c14 10 26 7 44 17s50 21 66 40M2310 1008c-14 7-36 7-53 4M2043 768c4-21 19-42 35-51M2350 1043c-11 16-41 22-63 18M2070 757c18-8 50 1 70 6M2316 985c-17 7-34 1-48 7"/>
<path stroke="#2ce17f" d="M2386 735c15 11 21 16 32 25M2516 898c5 22 15 66 16 94M2508 916c10 24 16 44 22 65M2498 924c3 21 1 32 3 52M1739 698c20-8 41-16 58-23s27-14 47-19s50-10 72-11s43 2 62 1M2499 938c3 19 4 23 3 43M2465 865c8 19 15 51 18 69M2451 938c2 23-5 49-7 66M2399 804c12 19 25 50 33 73M2434 916c6 21 18 62 21 86M2421 888c7 17 5 16 8 33M2376 817c11 18 29 54 36 73M2432 999c-2 14-9 14-16 32M2399 874c4 18 0 41-1 61M2406 945c2 17 2 35 3 49M2402 898c8 16 11 21 10 36M2362 838c10 13 22 31 28 49M2365 852c8 11 8 12 12 26M2380 935c0 15-1 43-3 58M2366 944c3 14 2 21 0 33M1929 891c9-9 8-14 20-24s30-28 52-41M2269 808c10 9 23 25 32 38M1973 875c15-12 33-26 53-38M2185 958c-6 6-15 19-25 19s-27-7-35-16M2112 920c-1-11 6-19 6-29s-3-15-5-26M2164 993c-12-3-29-15-37-26s-13-31-14-44s7-23 10-32M2134 845c10-3 12-11 23-16s25-20 40-18M2143 953c-3-13-5-25-9-38M2174 997c-12-14-18-26-27-38M2213 857c13 4 31 2 46 12s36 29 43 45M2213 792c16 12 30 40 38 58s3 38 5 53M2269 908c8 18 18 33 23 54M2177 785c17 13 25 28 39 38s30 17 45 25M2117 742c17 1 44 23 61 35s24 32 38 42M2326 876c16 19 31 54 28 73s-25 36-41 43M2257 1012c-16-3-34-13-48-20s-25-17-37-25M2091 905c-14-17-32-40-40-63s-13-53-8-74M2147 760c16 8 30 18 49 23s42-3 67 7s64 31 82 56s31 68 26 93s-32 44-51 55M2287 1061c-22-5-50-29-68-44M2033 812c1-23 19-47 37-55M2268 992c-14 5-18 17-34 25s-39 16-58 24"/>
<path stroke="#2de26e" d="M1908 656c-10 13-25 25-38 38M1872 644c-8 10-17 18-25 28M2328 694c14 10 43 30 58 41M2326 703c15 10 35 23 51 34M2473 842c11 24 19 55 26 79M2486 854c8 23 10 50 12 70M1978 646c20-1 41-4 56-7s13-8 32-11M2402 749c15 18 22 26 34 46M2480 867c10 24 15 52 19 71M2413 794c14 22 35 62 45 86M2464 932c2 22-2 42-6 62M1765 762c21-6 42-12 63-17s48-7 66-10M1790 825c19-12 40-25 58-36s38-24 51-31s8-5 25-10M2411 922c1 23 1 58 3 79M2391 833c11 14 20 26 27 42M2424 943c3 20 0 36-2 51M2429 944c4 17 5 40 3 55M2398 889c8 19 6 38 8 56M2364 838c9 14 30 44 38 60M1808 871c13-6 24-9 40-18s39-27 55-37s26-18 42-25M1807 868c21-10 45-21 63-29s29-13 42-17s16-7 30-12M2329 810c14 14 28 31 36 42M2372 904c5 12 7 16 8 31M2329 855c7 14 16 38 20 51M2344 895c7 14 18 35 22 49M1831 928c19-9 39-19 56-28s33-16 44-23s9-7 24-16s42-25 65-38M2298 820c8 13 18 34 24 49M2335 861c6 10 11 13 14 29M2001 826c22-13 62-30 82-39M2242 790c12 6 17 9 27 18M2026 837c19-13 48-28 63-37M2301 833c7 11 11 19 14 31M2125 961c-8-10-12-29-13-41M2174 771c14 3 34 17 46 30s18 33 24 46s5 25 9 36s11 20 16 33s16 33 16 49M2093 845c12-5 30 3 41 0M2183 847c10 3 18 6 30 10M2302 914c8 17 6 41 0 54s-27 17-39 20M2159 781c13-5 39 0 54 11M2256 903c3 14 5 21 11 37s20 35 23 54M2292 962c5 21 14 54 7 73M2115 743c21 6 45 29 62 42M2076 772c4-17 24-31 41-30M2313 992c-17 7-42-3-56 0M2071 758c2-25 18-49 27-74M2172 967c-12-8-23-14-37-24s-30-21-44-38M2320 994c-19 11-45 3-62 9M2219 1017c-19-14-28-33-43-44s-28-14-47-27s-48-29-64-51s-33-60-32-83"/>
<path stroke="#36e25e" d="M2298 677c14 7 15 8 30 17M2288 680c17 9 23 14 38 23M2501 860c11 20 10 16 15 38M2473 834c10 22 26 58 35 82M2066 628c19-4 50-12 80-10M2340 691c21 16 46 41 62 58M1748 720c19-2 36-4 55-7s44-11 63-14s29-4 46-6M2439 818c14 19 19 27 26 47M2435 865c7 18 15 50 16 73M1894 735c19-2 32-2 47-3s25-1 44-5s56-12 74-17M2362 761c16 13 26 23 37 43M2415 875c8 15 12 20 19 41M2384 821c14 19 29 51 37 67M1924 748c18-5 60-16 79-21s23-4 37-8M2347 785c12 11 18 15 29 32M1789 823c13-3 23-4 40-9s41-13 61-21s38-19 58-29M2352 792c16 14 28 28 39 41M2408 869c8 20 14 53 16 74M2377 823c8 13 19 32 22 51M1799 849c17-11 34-24 49-33M1945 791c15-8 35-15 52-21s30-10 48-17M2332 809c12 11 21 17 30 29M1942 810c14-5 33-11 51-18s39-15 60-25M1827 917c19-10 41-21 58-30s31-18 42-24s9-8 22-15M2321 858c6 9 16 23 23 37M2020 823c22-13 53-28 70-38M1829 922c15-9 32-18 46-26s23-12 37-20s37-21 52-29M2083 787c21-9 27-11 41-14s32-2 44-2s18-2 30 1s32 12 44 18M2089 800c15-9 16-11 28-17M2275 801c10 10 19 22 26 32M2136 786c7-10 24-17 38-15M2285 965c1 16-9 31-13 47M2207 1018c-13-13-27-30-40-38M2057 877c3-15 23-26 36-32M2263 988c-13 4-25-1-35 2M2126 865c3-12-1-29 4-43s15-36 29-41M2290 994c3 19-4 40-6 60M2299 1035c-6 18-25 38-44 39M2041 821c-4-23-1-55 12-68s41-15 62-10M2090 841c-7-19-19-53-14-69M2257 992c-15 3-18 10-32 20s-27 34-48 37M2089 835c-2-21-20-52-18-77M2258 1003c-16 7-20 17-36 29"/>
<path stroke="#47e352" d="M1936 617c-7 11-17 27-28 39M1888 660c-9 11-17 18-26 26M1895 611c-6 12-15 23-23 33M2246 653c19 8 39 17 52 24M2222 649c18 8 48 22 66 31M2454 779c17 24 37 61 47 81M1729 671c19-4 39-9 59-13s40-10 59-12s35-2 57-1M2436 777c11 16 27 41 37 65M2449 789c17 21 28 43 37 65M2146 618c30 3 79 19 101 25s14 3 30 11s42 21 63 37M2438 791c13 20 32 51 42 76M1912 693c18-2 39-2 59-5s47-8 65-14M2375 743c12 14 24 28 38 51M1751 726c17-8 33-18 52-26s41-16 60-20s28-3 51-2M2377 752c17 16 47 47 62 66M2443 858c7 19 18 51 21 74M2059 710c19-5 23-9 37-12M2307 726c18 9 40 22 55 35M1785 813c14-8 27-15 43-24s34-20 51-28s29-13 47-19s43-12 62-16M2040 719c14-4 30-11 48-15s39-7 61-6M2303 750c12 9 31 23 44 35M2406 867c3 16 3 33 5 55M1948 764c19-9 42-20 60-28s32-15 47-21M2406 895c9 21 19 31 23 49M1794 834c19-13 44-31 58-40s10-7 26-12s48-10 68-14s33-4 50-7M2356 798c12 11 14 13 21 25M2361 828c11 15 30 41 37 61M1848 816c15-9 23-15 39-21s39-9 58-13s35-7 53-11s35-12 54-18M2347 810c10 13 8 13 17 28M2045 753c19-7 43-20 60-26M2289 774c15 11 31 25 43 35M2053 767c22-10 52-28 68-35M2282 771c13 10 34 26 47 39M2354 861c8 14 14 31 18 43M1949 848c14-8 35-19 57-29s58-25 76-33M2309 819c9 12 14 21 20 36M1828 920c19-7 41-14 57-21s31-15 42-22M2312 842c6 9 4 7 9 16M2090 785c17-9 17-12 30-18M2276 790c9 10 14 17 22 30M1964 847c16-8 20-10 41-19s62-26 81-34s19-9 30-13M2310 828c9 10 18 22 25 33M2117 783c11-6 28-15 43-18M2242 779c12 6 23 13 33 22M2128 831c-1-14 0-35 8-45M2167 980c-13-9-21-7-35-15s-40-14-53-29s-24-43-22-59M2228 990c-10 3-13 12-24 18M2110 891c6-12 13-15 16-26M2255 1074c-19 2-50-15-68-30s-33-45-44-63M2079 891c-13-19-34-47-38-70M2119 890c-9-16-21-29-29-49M2177 1049c-20 3-56-3-74-20s-34-56-37-81s13-48 17-67s8-25 6-46M2222 1032c-15 12-32 39-57 43s-66-3-89-22s-47-64-53-94s10-57 16-85"/>
<path stroke="#57e546" d="M1948 592c-4 12-6 14-12 25M1880 653c-9 10-17 17-26 26M2085 597c18 7 27 9 44 14s35 11 55 18s43 16 62 24M2035 593c12 10 21 5 38 9s45 13 62 18s26 8 41 13s27 8 46 16M1719 648c16-4 30-7 49-10s37-10 62-11M1726 664c21-4 45-9 62-13s23-7 41-10s48-6 70-6M2446 790c13 19 17 23 27 44M1904 645c22 0 55 5 73 6s21 3 34 0M2411 745c12 12 15 16 25 32M1734 685c20-7 38-14 60-21s52-15 69-18s21-1 38 0s42 3 62 3M2386 727c18 16 47 41 63 62M1741 701c12-2 15-1 37-7M2036 674c19-5 26-14 45-19s45-13 71-14M2338 707c16 13 24 22 37 36M1914 678c22 1 65 7 85 9s19 1 36-2M2413 825c11 17 16 21 22 40M2423 822c13 17 14 18 20 36M2096 698c15-3 30-7 48-7s41 0 60 3M2254 705c18 6 35 11 53 21M2386 821c10 18 21 38 29 54M1988 726c18-5 27-6 47-11s55-18 75-21M2342 777c12 12 29 26 42 44M2149 698c21 0 48 5 68 11s41 16 55 23s18 9 31 18M2055 715c16-6 29-13 47-16M2292 750c16 10 43 28 60 42M2382 824c9 14 19 26 26 45M1996 761c17-3 33-7 51-12s35-15 54-20M1796 839c22-6 51-14 67-18s15-4 30-9s47-15 66-22M2052 753c18-7 40-19 58-24M2302 761c17 13 34 36 45 49M2105 727c17-5 24-9 42-9s54 4 71 9M2247 743c12 8 28 20 42 31M2121 732c15-7 9-6 25-6s56 2 73 6s22 11 32 18s18 11 31 21M1813 883c22-11 48-25 66-33s23-9 37-15s25-11 43-18M2326 819c13 15 20 28 28 42M2082 786c17-8 18-10 30-15s21-10 36-14M2273 783c13 10 26 24 36 36M1927 877c10-7 10-10 22-19s35-24 54-35M2120 767c13-6 33-14 47-18M2239 761c12 7 27 19 37 29M2116 781c10-4 19-8 32-11M2236 775c14 7 33 18 46 27s19 16 28 26M2160 765c14-3 32-4 46-2s25 9 36 16M2149 937c-1-12-3-26-5-37s-3-18-5-29s-11-26-11-40M2204 1008c-11 5-27 17-43 15s-41-15-53-30s-18-43-17-60s13-31 19-42M2143 981c-12-19-15-32-25-47s-26-24-39-43"/>
<path stroke="#68e63a" d="M1926 667c-11 12-27 28-41 41M1918 624c-9 13-21 26-30 36M1909 572c-3 13-8 27-14 39M2018 571c13 11 48 20 67 26M2002 540c6 19 21 42 33 53M1830 627c24-2 58 0 85 2s57 7 73 8s9 2 23-2M2400 713c12 14 37 41 54 66M1899 635c22-1 41 4 62 3s48-2 63-5s10-7 30-12M2395 723c16 18 38 48 51 67M2011 651c14-2 24-12 49-17s77-14 103-15M2310 663c25 12 39 24 56 38s33 31 45 44M1963 649c21 0 40 0 61-5s46-19 64-23M1778 694c23-5 75-22 100-28s35-5 51-7s26-1 42-2s36-1 52-3M2398 745c13 13 26 26 40 46M2152 641c26 0 62 8 83 13s27 7 44 16s43 25 59 37M2035 685c17-3 49-14 67-17M2336 721c18 11 23 15 41 31M1760 751c23-3 52-6 70-8s21-5 38-8s41-7 64-11M1772 780c12-6 19-8 37-18M2204 694c18 2 33 6 50 11M1779 798c14-9 25-17 43-27s47-29 64-37s18-6 36-8s51-3 71-4M2353 770c13 16 22 34 33 51M2110 694c20-4 29-3 48 0M2308 752c13 8 21 13 34 25M2388 825c10 15 14 25 18 42M2102 699c17-3 41-2 60 1s42 10 58 15s27 12 39 17s18 8 33 18M1793 832c18-11 39-24 55-34s28-19 42-26s22-12 39-17M2374 819c9 18 22 55 32 76M2101 729c20-5 44-11 64-13M2307 759c15 10 37 28 49 39M1959 790c18-7 31-12 46-19s31-14 47-23M2334 803c11 10 17 11 27 25M2110 729c19-4 38-4 52-5s18 0 31 2M2243 735c18 6 42 14 59 26M2218 727c17 4 17 8 29 16M1959 817c17-7 42-16 61-23s42-14 58-20s32-13 44-17M2148 757c15-3 38-6 53-6M2236 760c12 6 25 13 37 23M2003 823c19-11 42-22 61-31s32-17 49-24M2284 802c13 13 21 31 28 40M2167 749c14-3 24-3 36-1s24 6 36 13M2148 770c13-3 32-7 47-6s26 5 41 11"/>
<path stroke="#7be534" d="M1948 640c-7 9-12 16-22 27M1959 542c-2 13-7 37-11 50M1909 614c-8 14-20 28-29 39M2007 532c2 18-2 28 11 39M2011 635c13-3 32-14 57-18M2313 654c27 12 50 30 64 39s10 6 23 20M2054 621c21-5 64-16 92-17s52 6 76 13M2295 646c21 11 38 22 54 35s30 24 46 42M2163 619c27-1 29 2 54 9s68 23 93 35M2088 621c19-5 25-8 48-6M2343 695c16 10 26 17 43 32M2023 654c15-2 20-8 42-11M2360 713c17 11 25 19 38 32M2102 668c17-3 20-4 38-4s46 2 67 6M2269 688c21 8 49 23 67 33M1932 724c23-4 58-9 74-12s11-1 23-6M2368 764c14 17 34 45 45 61M1809 762c18-11 50-34 71-44s37-14 57-18s46-3 64-5M2365 759c18 16 45 47 58 63M1993 722c20-1 31-1 48-4s31-9 50-14M2158 694c19 2 47 9 65 14s25 10 39 18s32 17 46 26M1783 808c12-7 21-15 36-22s32-17 50-22s39-7 60-10s46-3 68-6M2348 776c13 14 31 34 40 49M1929 755c17-6 45-12 65-17s36-7 56-12M2351 790c10 10 21 21 31 34M1789 822c18-8 37-16 54-25s36-18 51-25s24-13 43-17M2165 716c20-1 40 1 57 4s29 10 43 17s27 12 42 22M2052 748c15-8 27-20 46-27M2296 772c13 11 27 22 38 31M2193 726c14 2 32 3 50 9M2122 757c13-4 18-5 32-6M2279 777c12 9 35 28 47 42M2201 751c15 1 23 4 35 9M2113 768c17-6 38-12 53-15M2234 764c15 8 37 25 50 38"/>
<path stroke="#8fe433" d="M1938 587c-5 12-12 25-20 37M1917 533c-2 12-4 26-8 39M2006 462c0 19-1 52 1 70M1999 481c0 21-3 41 3 59M2068 617c25-5 67-8 92-7s29 3 54 10s72 22 99 34M2222 617c25 7 52 19 73 29M2136 615c22 2 61 9 87 17s51 21 71 32s34 20 49 31M2065 643c22-3 66-6 90-5M2296 677c25 10 46 24 64 36M2207 670c22 4 40 9 62 18M2029 706c13-5 35-16 54-23s37-15 61-17M2333 725c14 12 22 22 35 39M2001 695c19-3 32-5 48-8s28-10 48-12M2091 704c18-5 36-11 59-13M2308 725c12 11 32 29 45 45M1997 748c21-4 38-9 59-16s48-20 63-25M2050 726c20-5 48-14 66-18M2319 763c13 9 22 17 32 27M1937 755c19-5 49-8 70-11s43-7 60-11M2351 791c14 11 14 11 23 28M2098 721c19-7 48-15 69-15M2252 739c12 9 30 23 44 33M2154 751c13-2 33-5 50-3s37 10 49 15s14 4 26 14M2166 753c14-2 20-2 32-1s22 3 36 12"/>
<path stroke="#a3e333" d="M1967 613c-8 16-12 18-19 27M1962 509c-1 14 0 19-3 33M1927 572c-4 13-11 29-18 42M2007 415c0 16-1 27-1 47M1999 415c0 22-1 46 0 66M2155 638c24 0 30 3 54 9s62 19 87 30M2144 666c25-2 61 0 84 4s38 11 56 20s35 23 49 35M2097 675c19-2 49-1 67 1M2314 728c18 9 33 15 51 31M2150 691c23-3 58-2 79 0s34 10 47 15s19 9 32 19M2119 707c14-6 11-5 25-5M2269 724c18 7 26 13 39 22s27 17 40 30M2116 708c18-3 26-2 42-1s32 1 51 6s46 15 64 23s33 18 46 27M2067 733c17-5 28-11 43-15M2288 754c15 8 49 26 63 37M2167 706c20 0 39 8 54 14s18 11 31 19"/>
<path stroke="#b7e232" d="M1965 456c-1 16-2 39-3 53M1948 555c-2 14-5 21-10 32M1919 502c-1 13-1 19-2 31M2164 676c18 2 25 4 40 9s36 11 55 18s38 15 55 25M2144 702c14-1 37-4 58-1s49 15 67 23M2110 718c15-4 35-7 50-8s17-3 34 3s56 23 72 30s8 2 22 11"/>
<path stroke="#c6e031" d="M1992 541c-5 18-18 55-25 72M1967 415c-1 14-2 26-2 41M1933 534c-1 12-2 24-6 38M1921 457c0 14-1 32-2 45"/>
<path stroke="#d1dd30" d="M1952 506c-1 16-2 36-4 49M1922 415c0 14 0 27-1 42"/>
<path stroke="#ddda2f" d="M1995 506c0 12 2 17-3 35M1951 461c0 15 1 29 1 45M1934 497c0 11 0 24-1 37"/>
<path stroke="#e9d72e" d="M1995 467c1 15 1 27 0 39M1950 415c0 15 1 31 1 46M1934 467c0 13 0 19 0 30"/>
<path stroke="#edca2d" d="M1993 415c1 17 2 37 2 52M1934 415c0 17 0 38 0 52"/>
</g>
<clipPath id="cp2m"><rect x="1884" y="1207.5" width="497.5" height="650.5"/></clipPath>
<g class="sl" clip-path="url(#cp2m)" stroke-width="1.45">
<path stroke="#174985" stroke-width="1.42" d="M2108 1221c-14 13-27 21-45 42s-44 59-61 86"/>
<path stroke="#175687" d="M2307 996c-17 23-35 47-52 67s-30 34-48 54s-43 50-59 68s-26 23-40 36M2002 1349c-17 28-30 52-41 80s-20 52-23 85s-2 79 0 117s5 78 9 107s11 42 15 66s11 56 13 81s0 46 1 69"/>
<path stroke="#177182" d="M2278 1143c-21 19-50 57-67 76s-18 19-30 37M2024 1733c2 30-2 45 5 69M2324 1012c-13 22-24 45-41 66s-47 42-62 61s-19 37-30 54M1965 1696c2 33 21 84 26 113s-2 40 2 63s15 49 22 74"/>
<path stroke="#167d7e" d="M2414 1093c-20 19-44 41-61 57s-29 22-45 40s-31 48-48 71s-40 49-54 69s-18 34-31 52M2070 1697c6 27 20 62 27 89s15 55 20 78s8 40 12 60M2378 1060c-14 15-24 31-41 44s-38 20-59 39M2181 1256c-11 19-26 48-40 73s-33 55-45 77s-17 32-27 56M2035 1552c-9 26-17 36-19 66s6 84 8 115M2029 1802c7 23 28 48 35 70s4 43 6 64M2191 1193c-11 17-20 29-37 49s-48 48-65 73s-25 47-40 74s-42 64-53 86s-7 27-10 50s-6 59-9 87s-15 51-12 84"/>
<path stroke="#178074" d="M2503 1173c-16 17-29 30-47 52s-47 60-64 78s-18 12-37 27s-59 42-78 62s-28 41-37 57M2189 1654c-2 20-7 19-6 36s0 39 7 65s29 69 38 93s9 37 13 55M2473 1146c-23 17-51 37-70 51s-25 21-42 34s-38 22-58 41s-48 50-65 74s-27 50-36 68s-13 19-20 36M2129 1587c-7 22-12 46-14 65s-1 27 2 48s7 57 15 81s22 43 31 65s18 45 26 67M2449 1124c-10 18-13 34-32 54s-63 53-80 69s-5 13-23 30s-65 54-83 73s-12 23-23 39M2110 1685c2 22 19 59 25 86s8 52 15 77s16 45 24 68M2175 1382c-12 18-32 35-45 55s-21 44-32 68s-26 59-32 78s-2 18-1 37s0 49 5 77M2392 1073c-11 16-21 31-34 49s-29 40-45 59s-33 35-50 55s-34 41-54 65s-47 56-65 78M2049 1639c-1 27 1 53 4 75s9 29 16 53s18 64 24 91s8 47 12 71M2069 1462c-10 24-25 64-34 90M2352 1036c-18 21-36 42-52 62s-30 37-45 57s-31 46-48 66s-33 33-51 54s-39 47-57 70s-40 51-51 70s-8 18-15 42s-22 69-27 101M2008 1651c1 29 0 58 2 85s8 56 10 78s0 32 4 53s12 49 17 74"/>
<path stroke="#17826a" d="M2240 1449c-10 15-12 20-20 35s-19 42-24 56s-4 11-5 30s-1 64-2 84M2472 1145c-16 19-30 41-49 57s-43 24-63 43s-45 51-62 70s-25 28-40 45s-40 41-50 57s-8 22-15 39M2140 1582c-3 21 2 41 2 63s-6 49-6 67s3 20 9 38s23 44 30 71s9 62 13 92M2469 1142c-23 21-52 46-69 61s-14 13-29 28s-45 49-62 67s-27 28-42 45s-35 40-50 62s-30 52-39 70s-8 17-14 33M2143 1571c-5 22-7 48-8 67s-1 24 2 47s9 61 13 85s7 39 13 63s14 54 22 81M2182 1450c-7 18-13 47-22 69s-23 46-31 68M2208 1389c-11 15-32 30-44 53s-19 62-26 83s-13 24-16 43s-1 53-3 72s-12 23-9 45M2144 1379c-19 23-34 40-46 58s-19 37-26 56s-10 35-14 59s-9 60-9 87M2395 1075c-23 18-53 40-70 54s-11 12-29 31s-57 58-78 81s-37 36-52 56s-28 46-40 62s-22 14-33 37s-21 72-28 97M2052 1546c-4 22-13 46-13 77s12 84 13 108s-5 16-3 34s13 50 17 78s3 62 4 93M2369 1052c-17 18-35 35-51 55s-30 44-44 62s-27 31-40 48s-24 35-41 56s-38 48-56 73s-38 61-49 80M2032 1579c-7 25-3 14-5 33s-8 56-7 83s7 50 12 80s12 73 17 100s13 41 19 61M2361 1045c-19 15-40 29-56 45s-24 30-38 48s-27 36-44 56s-41 40-59 64s-38 57-51 82M2015 1691c-1 28-5 88-4 115s3 26 9 48s18 57 27 86M2006 1558c-4 33 2 63 2 93"/>
<path stroke="#18845f" d="M2193 1456c-8 17-21 41-30 62s-19 43-23 64M2164 1508c-6 16-16 41-21 63M2065 1493c-7 25-9 31-13 53M2088 1426c-11 20-9 12-19 37s-30 91-37 116M2113 1340c-13 24-17 39-29 65s-34 63-44 91s-17 49-21 73s-1 51-2 72s-1 23-2 50"/>
<path stroke="#1a854b" d="M2486 1157c-13 22-25 47-38 66s-25 32-41 49s-39 34-55 50s-24 30-44 49s-61 53-78 67s-16 7-24 21s-23 50-30 69s-8 26-10 42s-7 38-4 57s14 36 22 60s18 66 23 87s0 17 3 39s13 62 19 92M2499 1170c-21 17-44 37-63 51s-31 14-51 32s-55 59-70 78s-9 16-21 33M2154 1650c-1 17-1 23 5 41s20 46 29 70"/>
<path stroke="#1b8541" d="M2294 1364c-13 17-42 55-55 71s-14 10-23 28s-24 57-32 79s-12 32-17 50s-11 42-13 58M2188 1761c8 23 16 47 21 72s8 49 11 74"/>
<path stroke="#1c41a5" stroke-width="1.35" d="M2260 1500c8 10 16 20 24 31s17 20 24 30s14 22 20 34s12 25 15 36s7 31 4 30s-16-20-23-31s-11-23-17-35s-11-23-17-35"/>
<path stroke="#1e5fac" stroke-width="1.42" d="M2334 1021c-13 18-24 37-39 54s-31 30-49 52s-45 57-60 80M1993 1781c1 29 10 74 15 101s10 42 15 63"/>
<path stroke="#1e6fae" d="M2186 1207c-16 24-19 42-33 63s-37 42-51 63M1998 1631c-1 22 1 52 0 77s-7 44-5 73"/>
<path stroke="#1e80ac" d="M2102 1333c-14 21-24 41-33 62s-10 35-21 65s-37 88-45 116s-5 33-5 55"/>
<path stroke="#1d91a8" d="M2374 1056c-15 15-22 26-43 45s-63 53-82 71s-16 16-30 35s-40 56-56 77s-28 27-43 47s-38 46-51 70s-17 50-23 73M2019 1651c-3 29-3 35 1 61s15 68 19 93s6 33 8 56s1 52 2 79M2347 1032c-16 19-34 41-49 58s-25 20-44 40s-50 58-67 78s-26 23-39 38s-22 27-38 49s-43 55-59 87M1999 1714c2 27 9 39 12 68s5 81 8 108s7 36 11 53M2281 1095c-18 18-21 35-38 52s-47 37-65 54s-30 34-44 51s-23 37-38 55s-35 29-48 57M1991 1740c1 30 6 43 9 65s7 48 8 72s-1 47-2 71M2315 1004c-14 20-29 44-43 60s-22 22-40 39s-42 38-62 62s-45 66-61 86s-21 18-35 36s-36 47-48 71M1964 1706c1 25-2 72 0 102s11 58 15 82s6 41 10 61"/>
<path stroke="#1da1a3" d="M2415 1094c-20 16-42 33-59 50s-31 31-46 53s-27 56-43 79s-36 38-51 55s-31 32-44 47M2093 1706c2 26 5 42 5 68s-6 62-3 87s12 45 18 67M2407 1087c-23 18-54 38-71 55s-19 26-31 43s-23 40-38 59s-34 31-50 55s-35 67-48 87s-21 12-32 33M2064 1615c-2 25-6 80-4 110s8 48 13 67s14 22 19 44s11 62 16 92M2046 1474c-6 23-7 38-11 67s-14 82-16 110M2051 1382c-15 31-26 79-34 103s-9 19-12 42s-5 63-6 94s-2 67 0 93M2352 1036c-24 20-53 40-71 59M2048 1364c-13 28-21 80-30 109s-18 39-22 65s0 54-1 88s-5 84-4 114M2026 1358c-13 24-17 46-26 75s-25 58-32 95s-7 100-7 129s2 24 3 49"/>
<path stroke="#1da596" d="M2344 1247c-22 17-38 35-54 50s-30 23-45 43M2124 1713c0 24 1 36 7 56s18 41 27 65M2459 1134c-13 14-23 26-38 42s-35 31-56 54s-50 61-65 81s-14 20-29 35s-37 36-56 56s-44 44-55 61s-11 22-15 40s-8 50-10 72s-4 36-3 58s3 50 7 74s14 48 18 72s7 53 8 76s2 41 3 62M2172 1378c-14 14-24 19-39 41s-42 69-51 91s-2 18-1 37s2 45 4 72s6 61 8 87M2137 1419c-11 20-22 65-33 91s-29 47-36 64s-3 16-4 41M2386 1068c-15 19-31 37-46 57s-32 49-45 67s-19 20-35 40s-45 56-63 77M2040 1714c5 26 17 59 23 81s8 27 14 49s14 58 21 86"/>
<path stroke="#1ea888" d="M2474 1147c-17 17-28 33-50 50s-57 34-80 50M2245 1340c-14 19-31 53-42 75s-18 38-24 54s-8 23-13 38M2153 1561c-6 20-19 39-23 64s-6 64-6 88M2158 1834c9 24 18 53 27 80M2438 1114c-17 15-34 30-50 45s-23 29-44 49s-67 56-86 72s-15 8-28 25s-36 54-49 79M2097 1656c-1 29-2 48-3 66s-3 21 2 42s16 59 25 85s21 47 32 71M2197 1309c-18 22-31 31-47 50s-38 48-50 66s-12 21-21 40s-27 48-34 76s-7 65-8 94s-1 52 3 79"/>
<path stroke="#1faa7b" d="M2520 1189c-17 12-32 22-52 38s-44 34-66 55s-49 48-65 67s-19 28-32 46s-29 46-41 63M2208 1535c-7 12-11 21-15 36s-8 32-8 50s3 36 10 59s23 53 30 77s10 39 14 63s6 55 9 82M2166 1507c-4 15-7 34-13 54M2181 1384c-13 25-21 49-30 70s-21 38-29 53s-12 17-16 42s-7 79-9 107M2429 1107c-17 13-33 19-51 41s-38 67-56 90s-36 36-50 49s-17 7-33 24s-41 54-59 77s-41 44-54 65s-21 37-25 59s3 53 3 72M2101 1622c0 22-4 67-1 94s15 46 18 65s0 26 2 50s4 63 7 94M2390 1071c-13 16-26 32-39 50s-25 33-42 52s-41 46-60 67s-34 37-51 57s-35 41-50 62M2054 1728c2 27 5 31 10 55s17 63 22 87s8 40 12 60"/>
<path stroke="#20ab6e" d="M2264 1458c-13 17-23 26-33 38s-17 26-23 39M2507 1176c-16 24-31 52-46 71s-30 22-46 40s-36 48-54 65s-41 24-57 39s-24 33-37 47s-31 18-43 35s-22 49-30 67s-17 23-19 38s6 32 8 51s-2 43 5 66s27 54 33 73s0 21 6 43s22 59 33 89M2486 1157c-22 25-48 56-65 73M2197 1858c4 21 8 34 13 51M2465 1139c-24 21-54 47-73 64s-29 26-41 40s-18 24-33 39s-39 34-57 51s-38 27-55 47s-30 50-43 72s-25 43-32 63s-13 36-14 58s8 51 10 74s3 46 5 67s4 36 10 57s19 47 24 71s7 49 10 74M2104 1584c0 18-2 16-3 38M2148 1359c-16 20-31 38-45 60s-28 47-37 74s-15 67-18 88s-2 12-1 37s4 82 7 110"/>
<path stroke="#21ab61" d="M2513 1182c-18 18-33 36-54 55s-52 44-71 60s-28 20-42 34s-26 33-40 49s-29 29-43 48s-32 48-41 67M2202 1694c1 16-1 34 4 58s20 60 25 85s4 45 7 67M2496 1166c-16 14-26 24-46 42s-57 50-75 69s-27 32-39 48s-20 27-34 46s-37 50-50 66M2173 1627c-3 21-6 44-3 70s13 59 19 83s10 40 15 61s12 44 17 66M2421 1230c-17 18-22 18-35 31s-27 33-43 50s-30 27-50 48s-52 62-67 80s-18 18-26 29s-12 21-18 39s-15 46-18 71s4 59 5 77s-2 9 1 30s14 67 18 96s5 56 9 77"/>
<path stroke="#22ac53" d="M2520 1188c-16 13-28 21-47 37s-48 40-65 58s-21 27-38 47s-46 52-64 72s-31 35-42 51s-16 31-22 46M2201 1633c-1 14 1 28 3 48s6 44 10 72s8 70 14 95s12 36 18 54M2222 1495c-9 19-7 29-12 44s-15 28-16 47s5 52 7 70s0 22 1 38M2252 1437c-12 17-16 18-25 36s-24 57-30 73s-4 11-8 24s-13 36-16 57"/>
<path stroke="#29ac48" d="M2242 1499c-6 14-7 23-13 39s-19 44-24 59s-4 22-4 36"/>
<path stroke="#2462d4" stroke-width="1.38" d="M2309 997c-14 16-28 27-40 47s-21 50-35 74M2080 1290c-22 25-62 74-77 98M1961 1729c-3 31-10 42-7 68s19 65 26 91s10 41 16 62"/>
<path stroke="#2576d7" stroke-width="1.42" d="M2234 1118c-14 24-32 51-49 71s-35 33-53 50s-31 26-52 51M2003 1388c-14 25-5 24-10 50s-14 76-18 105M1970 1612c-3 31-7 87-9 117M2276 968c-13 19-24 37-38 58"/>
<path stroke="#268bda" d="M1975 1543c-4 29-3 37-5 69M2238 1026c-14 20-31 43-47 64s-33 42-48 61s-21 33-39 55s-50 58-67 79s-23 25-38 48s-36 59-49 92s-25 73-32 108s-12 70-13 104s3 70 7 103s14 67 19 92s6 34 9 55s8 47 12 71"/>
<path stroke="#25a0d7" d="M2380 1062c-14 25-24 53-41 75M2278 1192c-18 18-33 39-46 54s-16 20-32 34s-44 23-64 47s-46 66-59 94M2048 1772c-1 24-2 47 1 75s14 59 21 89"/>
<path stroke="#25b6d2" d="M2339 1137c-17 21-43 37-61 55M2077 1421c-13 29-13 52-19 77s-16 47-17 72s6 58 8 80s6 30 5 50s-5 47-6 72"/>
<path stroke="#24cacc" d="M2495 1166c-24 20-54 46-71 61s-18 15-32 31s-34 43-53 66M2171 1712c2 19 5 36 10 55s10 32 18 56s19 55 29 83M2417 1216c-21 16-39 23-58 39s-37 38-51 55s-21 23-35 43M2145 1699c0 25 9 48 15 74s14 56 21 79M2479 1151c-13 17-23 33-39 51s-38 41-56 58s-30 21-52 41s-59 59-76 75s-14 10-25 22s-30 31-42 52s-21 54-27 75M2158 1633c2 19 1 36 4 61s11 67 15 88s6 18 8 40s4 60 6 91M2436 1112c-17 24-36 51-51 70s-22 28-38 44s-37 30-55 51s-38 55-54 76M2137 1760c3 24 0 61 2 88s7 48 11 73M2409 1088c-14 16-27 29-44 48s-39 48-57 68s-36 34-51 50s-26 31-40 47s-31 26-48 48s-42 57-57 84s-26 51-33 76M2068 1577c-3 24-4 55-3 77s5 34 9 55s5 50 10 75s14 51 18 76s5 45 8 68M2407 1086c-19 23-40 50-56 68s-26 26-43 39s-39 21-56 36s-35 39-50 58s-25 36-41 55s-41 40-54 61s-15 42-21 68s-8 60-12 88s-12 54-10 80s14 57 18 79s5 25 6 50s-3 73-1 100s11 41 16 61"/>
<path stroke="#25cebb" d="M2506 1176c-14 18-26 34-42 54s-37 46-55 66s-36 37-53 51s-30 21-48 36s-42 40-59 57s-33 29-43 45s-15 38-19 51s-7 13-7 30s5 52 8 71s5 21 11 43s18 65 24 90s9 39 11 62s3 48 5 72M2339 1324c-18 24-42 54-58 75s-26 38-35 53s-12 23-19 36s-17 32-24 46s-11 14-16 34s-12 58-15 82s-2 42-1 62M2489 1160c-24 19-50 40-72 56M2273 1353c-14 21-40 57-52 80s-14 41-19 55M2170 1565c-5 17-7 33-11 55s-14 53-14 79M2181 1852c7 23 14 39 21 59M2162 1525c-6 21-10 32-11 50s6 38 7 58M2238 1353c-16 21-32 36-45 49s-20 11-31 28s-29 52-36 74s-7 39-10 60s-11 39-10 62s7 55 12 77s15 33 19 57M2426 1104c-20 24-42 51-60 73s-34 42-47 59s-13 25-28 44s-46 48-65 68s-39 35-53 49s-19 23-29 38M2110 1684c1 20 6 64 7 91s-4 46 0 71s14 51 21 77M2079 1509c-8 24-9 44-11 68"/>
<path stroke="#26d2aa" d="M2506 1175c-21 16-44 34-61 48s-26 26-44 41s-48 30-68 48s-39 38-56 56s-35 34-47 53s-18 44-25 63M2174 1640c-2 20 0 32 1 52s-2 45 1 70s14 59 19 84s9 42 14 63M2483 1155c-20 21-45 47-60 64s-16 23-33 39s-52 36-68 53s-18 34-32 51M2160 1709c3 22 15 25 19 48s-1 63 4 89s18 42 27 63M2202 1488c-5 15-8 17-13 30s-14 30-19 47M2330 1299c-21 17-66 48-84 67s-20 31-29 45M2146 1714c2 17 5 21 10 43s8 62 15 88s17 45 26 67M2430 1107c-14 26-27 53-42 77s-33 51-46 67s-12 13-28 28s-47 43-65 60s-24 22-43 41s-53 47-67 68s-16 32-17 54s6 62 8 82M2132 1621c-2 22-11 72-13 95s0 23 1 42s5 44 10 71s11 61 17 92M2451 1126c-19 15-42 30-58 44s-23 24-41 43s-49 58-67 76s-25 13-43 31s-49 57-64 79s-17 36-26 54s-23 36-30 55M2118 1650c1 23-3 34-2 53s-1 39 4 64s19 59 25 84s4 46 7 69M2144 1435c-9 14-23 30-30 49s-9 40-10 68s4 80 4 102s0 9 2 30"/>
<path stroke="#27d59a" d="M2526 1194c-23 17-52 38-70 52s-24 21-41 34s-38 25-58 44s-50 53-67 73s-24 32-33 47s-12 30-19 45M2204 1678c0 21-1 55 2 77s9 35 14 60s12 59 18 89M2205 1484c-7 19-15 37-18 52s-1 20-3 37s-9 47-10 67M2290 1362c-14 17-41 34-54 50s-18 32-27 50s-22 39-30 58s-14 39-16 56s3 24 3 46s-8 64-6 87M2483 1155c-14 13-23 21-42 40s-52 56-70 74s-20 14-41 30M2217 1411c-8 14-14 22-22 39s-20 42-25 64s-2 44-6 68s-15 52-18 74s-1 42 0 58M2130 1584c1 20 4 15 2 37M2122 1508c-7 18-13 31-13 55s8 63 9 87"/>
<path stroke="#28d589" d="M2238 1489c-6 16-14 33-18 48s-3 28-6 43s-9 32-11 49s1 28 1 49M2381 1235c-14 11-34 27-55 49M2424 1101c-22 21-46 43-65 62s-33 36-46 54s-19 36-32 56s-32 44-47 61s-30 25-44 41s-30 33-42 54M2074 1616c-1 23 3 62 8 88s13 42 19 70s8 71 13 97s12 35 18 53M2423 1101c-12 20-23 41-37 60s-25 37-48 55s-67 40-86 54s-15 7-30 27s-50 74-63 94s-9 10-16 29s-19 58-26 83M2102 1571c-7 26-24 64-29 87s-6 26-2 47s18 57 25 79s11 32 19 55s16 56 25 83"/>
<path stroke="#29d679" d="M2520 1188c-17 22-34 48-50 65s-23 18-41 36s-49 53-67 69s-28 16-44 31s-36 41-50 56s-21 21-30 34s-16 26-21 43s-12 42-13 59s1 22 2 40s1 39 6 64s18 57 22 85s0 58 3 80s12 34 17 51M2479 1151c-24 22-55 51-71 65s-13 8-27 19M2326 1284c-21 23-54 65-71 85s-18 19-29 37s-28 57-36 73s-7 8-14 25s-24 50-30 75s-5 53-6 71s-6 18-1 40s22 66 30 92s11 44 16 66s10 42 14 63M2148 1429c-12 21-19 48-29 72s-23 49-31 68s-13 25-14 47M2117 1503c-7 26-7 42-15 68"/>
<path stroke="#33d75a" d="M2522 1191c-13 17-26 35-41 53s-33 34-53 53s-47 43-66 61s-29 28-45 42s-33 31-46 45s-29 27-37 41s-10 32-13 47s-3 27-4 45M2213 1643c1 20 5 38 8 58s5 40 7 63s3 47 7 70s12 45 18 67"/>
<path stroke="#43d84e" d="M2217 1578c-2 19-5 44-4 65"/>
</g>
<clipPath id="cp3"><rect x="2593" y="420" width="703" height="1439.5"/></clipPath>
<g class="sl" clip-path="url(#cp3)" stroke-width="1.15">
<path stroke="#175484" d="M2629 880c1-13 1-38 2-55"/>
<path stroke="#176182" d="M2631 958c0-19-1-44-1-57s-1-9-1-21M2631 825c2-17 4-29 7-45s9-38 12-51s6-20 11-31s14-23 23-38M2651 958c0-18 1-41 1-55s0-12 1-25s2-38 3-53s3-27 5-41s5-28 8-42s5-25 11-39M2704 958c0-17-1-35-1-51s0-27 0-42s2-28 4-45s9-41 13-57M2607 957c1-17 2-34 3-50s2-34 3-51s3-38 5-54M2774 959c0-14 0-25-1-42s-2-45-2-62s0-27 2-40"/>
<path stroke="#166e7f" d="M2684 660c8-14 22-35 31-50M2680 703c7-13 18-30 26-43M2720 763c4-16 6-22 12-36s18-34 27-48s14-23 23-37M2618 802c2-15 1-17 7-37s15-61 25-84s26-43 35-56s5-10 18-23s44-41 60-53s22-13 39-19s42-14 64-18M2621 957c0-19 0-43 0-57s-1-7 1-24s5-64 7-82s-1-8 5-25s16-58 26-79M2636 957c0-18 0-40 0-54s-1-13-1-30s0-48 2-70s4-42 9-61s11-41 17-56s10-22 21-36s28-36 44-51s32-28 49-37M2641 957c-1-20-3-47-4-61s-1-10 0-24s3-44 6-63M2663 958c1-14 1-27 1-41s0-28 2-46s2-39 5-60M2690 958c-1-18-2-38-2-53s-2-18-1-34s3-46 5-63M2711 958c0-18-1-40 0-54s-1-14 0-28s3-42 5-58s5-27 9-39s5-23 12-36M2773 815c1-12 4-23 7-33s3-17 9-27s21-28 28-36s4-6 11-13s20-19 29-26"/>
<path stroke="#167a7c" d="M2618 958c0-16 0-32 0-46s-1-29 0-43s1-28 2-41M2706 660c8-14 15-26 21-37s10-17 15-29M2782 642c9-14 23-33 30-46M2753 958c-1-17-1-34-1-51s0-36 0-48s-1-11 2-25s8-46 12-61s7-22 13-34M2866 512c23-4 51-4 72-6s35-3 54-2s40 5 58 10s32 9 51 19M2660 690c10-22 24-37 34-50s12-17 27-30s44-38 60-48s17-11 36-17M2777 562c16-10 27-15 50-20s66-10 89-13M2643 809c3-18 7-32 12-47s9-29 17-46s23-40 34-56s20-27 32-40M2671 811c4-21 12-51 16-67s2-12 10-26s25-43 38-59s28-31 37-41M2666 958c1-18 2-35 3-53s2-45 4-59s0-11 2-26s7-49 10-65s3-20 10-36M2692 808c2-16 3-21 7-35s10-33 17-47s15-26 25-39s24-29 36-42s23-22 37-32M2737 743c6-13 16-30 26-44s24-30 36-42s25-22 33-29s6-6 17-11M2722 959c0-13 1-21 1-37s1-43 2-62s3-38 5-52s3-22 5-32s3-17 9-31s22-40 30-54M2765 959c-1-18-1-39-2-55s-1-30 0-42s-1-17 1-31s8-38 11-50s5-14 9-22M2857 680c8-8 15-13 23-19s17-9 30-12s35-6 50-8"/>
<path stroke="#167d72" d="M2620 828c1-14 2-23 5-40s9-45 14-63s9-29 16-42s16-26 25-39M2715 610c8-15 14-27 20-39M2660 958c0-14 0-27 1-43s0-37 1-53s1-30 2-41s1-13 3-25s5-33 8-47M2713 958c0-14-1-24 0-42s0-49 1-67s2-24 4-37s5-26 8-39s7-28 13-42M2731 958c0-11 0-16 0-33s-1-48-1-67s4-38 6-50s3-15 6-26s6-25 13-41s19-36 27-50M2779 739c6-12 16-26 24-40s20-30 28-43M3101 533c19 11 48 29 66 44s30 34 39 46s9 12 17 26M2817 545c19-5 59-15 78-18s23-2 40-4s42-4 60-4s27 1 44 4s31 6 52 16s57 32 74 45s21 20 30 33M2916 529c23-2 35-1 50-1s28-1 45 1s45 9 62 15s28 10 44 19s38 24 52 37s24 26 34 39s15 19 24 38M2738 620c11-13 24-28 38-39s24-19 45-27s57-16 79-19s37-2 53-2M2772 618c10-10 8-9 21-17s40-24 59-31s42-10 59-13s28-3 44-4M2695 719c6-15 19-39 30-56s25-31 37-42s20-19 35-28s33-16 51-21M2672 958c1-16 2-31 2-47s1-39 1-54s0-16 2-32s7-49 11-68s6-29 14-46M2675 958c0-20 0-43 1-58s0-23 1-36s1-29 4-47M2685 958c-1-16-1-29-1-47s-1-43-1-59s1-18 3-32s4-35 9-53s13-41 20-55M2814 613c13-9 30-18 46-24s32-10 47-13s29-3 41-5s15-3 30-2M2697 958c0-11 0-18-1-34s-2-43-1-62s3-41 5-55s2-14 6-27s12-39 18-53s12-21 20-33s20-26 31-39M2849 617c11-5 30-14 47-18s44-7 60-9s24-3 38-2s33 4 48 8s26 8 39 15M2774 691c9-13 13-17 22-27s21-20 30-28s15-11 28-17s36-12 50-16M2728 959c0-20 0-43 0-61s2-35 2-46s0-6 2-20M2737 959c0-20 0-43 0-61s0-30 0-44s2-24 4-37s6-28 10-40s6-22 13-35M2784 759c4-8 9-17 17-26s19-23 28-32s13-13 23-21s24-20 35-25M2960 641c14-2 23-3 36-3s28 1 41 4s28 8 37 12s11 4 20 10s21 19 29 28"/>
<path stroke="#178067" d="M2680 644c8-13 18-25 26-38M2675 749c3-14 5-24 10-36s13-23 20-35M2686 958c0-13 0-21 0-39s0-49 1-66s2-23 4-36s4-28 7-43s7-30 14-46M2812 596c7-14 8-22 12-35M2739 731c7-14 17-31 24-44s11-16 20-30M2782 691c8-13 11-16 20-31s29-44 38-58M2831 656c8-12 15-22 21-34M3223 649c7 14 20 42 27 59s9 31 13 47s8 29 11 49s5 51 6 72s-2 43-3 56s-1 11-4 25s-7 40-14 60s-21 40-32 60M3195 617c9 12 19 27 27 41s14 30 19 46s10 32 14 51M3227 677c8 19 21 58 27 75s4 14 6 30s7 44 7 65s0 45-2 64M2953 533c16 0 28-1 44 1s36 7 53 12s32 11 47 18s28 13 43 24s37 31 51 47M2955 553c17-1 38-3 54-2s28 4 44 9s31 10 47 19s37 25 51 36s20 23 28 35s15 21 23 39M2848 572c19-5 42-8 58-10s18-1 35-2s48-4 70-3s47 9 62 13s15 5 27 11M2702 711c7-16 22-38 31-51s10-15 22-27s35-31 49-41s19-12 38-17M2681 817c2-18 7-44 12-62s11-34 17-47s11-20 20-32s21-28 33-40s18-21 35-31M2715 712c7-14 9-17 20-30s35-39 47-50s10-10 21-17s27-17 45-24M2978 569c16 1 47 5 63 8s19 5 33 12s39 20 53 31s22 22 31 31s11 13 19 26M2775 655c12-12 28-28 40-37s18-13 31-19s29-12 47-15M2711 958c1-16 1-31 2-49s1-45 2-59s1-16 3-29s5-30 8-44s5-24 11-37s13-28 21-41M3081 611c14 7 31 17 43 27s20 20 28 32s19 30 25 40s3 3 7 17M2904 603c14-3 19-2 35-3s48-2 64-1s20 3 33 6s28 8 43 15s32 17 44 27M2732 832c3-13 10-46 14-61s7-21 12-32s11-17 20-29s26-32 35-42s9-10 19-18M2764 742c7-12 20-28 29-39s17-20 26-29s17-16 26-23s16-13 29-18M2887 655c10-6 17-7 29-10s24-4 37-6s32-3 46-3s28 3 41 5s25 8 35 12M3123 692c7 9 11 14 17 26s15 33 20 48s6 22 8 36s4 32 5 46s1 20 1 33s1 26-1 42M3188 1020c-12 15-26 31-37 46"/>
<path stroke="#17815d" d="M2742 594c5-11 10-27 15-41M2705 678c7-13 14-21 22-38M2712 728c6-17 16-36 26-53s24-35 34-48M2783 657c9-14 25-35 34-53M2745 958c0-11 0-17 0-33s-2-45-1-63s1-29 3-45s8-37 12-51s8-22 13-32s12-19 21-34s27-41 36-53M2852 622c7-11 11-21 18-35M3255 755c4 19 7 44 9 62s2 25 2 41s0 33-1 52s-6 43-10 62s-9 36-14 53M3265 911c-2 20-7 39-10 53s-2 16-8 32s-18 45-27 61s-18 24-30 36s-28 27-42 40M3191 635c14 17 26 39 33 52s8 16 12 29s11 35 14 53s4 36 5 55M3202 689c8 19 20 56 25 72s3 10 5 23s6 40 7 58s2 30 2 48M3100 581c12 6 29 13 44 27s38 45 49 59s7 12 12 25s12 32 17 50M2842 575c18-6 55-12 75-15s32-1 46-2s19-2 35 0s44 8 62 14M2798 605c16-11 45-24 62-30s25-7 42-9s44-4 60-5M2848 591c19-7 48-13 67-16s31-3 45-4s21-3 36-2s37 3 55 8s37 13 51 19M3177 677c7 13 18 33 26 51s13 40 17 55s5 24 6 36s3 21 3 39s-1 48-3 69M2893 584c18-4 44-5 63-6s38 0 52 1s15 1 30 6s42 14 58 21s25 14 36 23s20 17 30 30M2758 699c8-13 18-25 28-36s21-22 32-31s20-15 35-21s41-12 57-15M3184 727c5 15 17 53 21 68s2 11 3 24s4 40 5 56s0 30-1 45s-4 31-7 46M3123 647c12 9 19 18 28 29s18 26 25 38s10 23 14 34s7 20 10 35M2832 650c11-7 31-21 42-27s16-7 28-9s27-6 42-7M2874 633c12-5 34-11 46-14s16-3 30-4s37-3 53-3s25 3 38 6s24 7 36 12M3075 653c10 4 16 6 23 12s15 11 23 20s18 20 25 34s16 32 20 46M3173 923c-1 17-4 40-8 56s-10 28-17 38s-14 17-22 25s-19 16-28 24M3209 1037c-8 10-9 14-22 29s-42 49-55 63s-14 11-24 22s-26 31-32 43M3207 1036c-6 13-7 21-17 40s-33 57-44 72s-12 13-23 22M3205 1034c-15 12-34 28-45 38s-11 11-24 23s-38 35-50 49s-16 22-21 34M3151 1066c-10 15-18 29-27 42s-18 22-27 36s-24 39-31 50s-5 9-10 18M3189 1020c-10 10-18 20-31 31s-30 24-47 33s-35 12-53 20"/>
<path stroke="#188253" d="M2706 606c8-13 17-30 22-40M2735 571c5-13 7-23 13-37M2727 640c8-16 22-45 28-60M2772 627c9-13 16-20 22-31M2840 602c8-14 8-15 12-25M2829 647c8-13 7-10 13-22M3255 824c1 20 0 46-1 63s-2 26-4 43s-6 44-10 60s-6 24-9 36M3241 890c-1 18-4 40-5 60M3222 742c4 17 8 34 11 54s5 43 6 61s2 27 1 45s-3 42-5 58s-6 26-9 39M3060 572c19 5 33 11 48 21s34 23 46 34s17 19 25 29s13 15 21 32s21 49 27 70M2962 561c16 0 24-1 37 0s22 2 38 6s35 10 53 19s42 25 57 37s24 27 32 37s10 15 17 27M3102 596c13 7 16 8 28 17s28 27 39 41s22 34 28 47s9 19 13 33M3226 927c-2 20-7 38-11 52s-7 22-10 33M3162 659c9 13 22 33 29 46s8 17 12 33s12 52 15 67s1 12 2 25M2910 596c15-3 25-3 37-3s22-3 39-2s43 5 61 9s30 11 42 17s19 9 30 18M3200 783c3 15 6 40 8 55s1 22 1 36s-1 31-3 49s-7 41-11 57s-10 29-17 42s-17 21-25 31s-14 15-25 24s-26 20-40 30M2944 607c16-2 36-4 52-4s26 2 40 5s33 11 44 16s16 7 25 13s19 16 28 25s16 19 24 34M3077 630c12 6 25 13 35 20s18 15 27 28s22 33 29 47s10 25 14 38s6 24 8 39M3166 765c5 13 7 21 9 35s3 36 3 51s1 27 1 38s-1 19-3 33s-7 36-11 54M3076 1194c-7 13-5 20-6 30s0 12 0 26s-3 40-5 59s-4 36-7 54s-6 39-9 54M3123 1170c-11 10-34 27-44 34s-10 1-18 11s-24 32-32 49s-13 38-16 53s-4 18-5 34M3199 1029c-7 14-13 29-22 43M3065 1178c-6 12-10 23-13 38s-3 34-6 50s-7 31-10 43s-4 17-7 31s-9 37-13 55M3056 1212c-6 10-14 26-21 40s-14 27-21 45s-18 40-23 59s-5 43-6 58s0 19 2 35M3058 1104c-18 8-42 20-55 30s-21 10-28 28s-15 57-15 81s7 46 10 64"/>
<path stroke="#198249" d="M3227 758c6 20 8 40 11 54s2 20 2 32s2 25 1 44s-7 56-10 72s-1 13-6 26s-10 35-21 52s-35 41-46 53s-9 10-21 19s-31 23-47 35M3196 687c6 12 14 29 20 47s12 45 15 61s3 24 4 37s2 21 2 40s-4 53-7 73M3210 734c4 13 9 32 12 47s4 25 5 41s3 34 2 52s0 34-3 53s-8 47-12 63s-8 24-13 36M3220 830c1 12 2 31 2 48s-1 35-2 52s-4 33-8 49s-11 31-16 47M3119 635c12 9 26 22 37 36s21 33 28 45s7 14 11 27s10 38 13 52M3157 696c8 14 19 40 24 54s6 14 9 29s6 44 8 61s2 27 2 42M3190 802c2 15 3 36 4 51s1 27 0 42s-2 32-4 47s-5 29-9 43s-10 27-17 38s-14 18-24 28s-24 22-36 33M3049 1417c-2 15-3 20-7 37s-13 49-16 64s-3 10-7 27M3228 1053c-8 10-10 17-22 29s-33 35-50 46M3008 1351c0 17 1 47 2 66s3 28 5 45s4 42 4 57M3214 1041c-11 17-22 34-33 49s-22 28-35 40s-33 23-47 32s-25 16-36 25M3177 1072c-9 14-19 29-31 41s-28 19-40 30s-27 26-34 39s-6 28-8 38M3016 1395c-4 18-7 33-11 53s-10 49-13 66s-4 22-5 39M2987 1449c1 15 5 41 7 57s4 24 5 42M3192 1023c-11 17-25 40-34 52M3198 1028c-11 14-20 29-32 41s-26 22-39 29s-21 6-38 13s-45 19-63 31M2970 1307c2 19 4 31 5 48s3 39 4 55s0 25 0 40s-1 37-1 54"/>
<path stroke="#1a823f" d="M2794 596c6-11 9-21 15-36M2824 561c5-12 10-27 16-41M2817 604c9-18 13-37 19-53M2842 625c7-12 17-34 25-50M3230 945c-2 19-5 31-9 45s-11 27-16 41M3208 795c3 14 3 18 4 31s2 29 1 47s-2 43-4 61s-5 30-9 45s-10 28-15 41M3200 882c0 16-2 38-3 53s-2 20-5 34s-11 37-17 50s-14 20-20 28s-10 12-21 21s-30 23-44 34M3233 1058c-13 16-29 36-40 48s-12 14-24 22M3019 1545c-5 16-14 57-18 74M3156 1128c-17 12-35 16-51 26s-38 25-48 34s-10 9-13 20s-3 26-5 43M3228 1053c-9 13-17 26-28 39s-18 27-34 40s-44 28-59 36s-17 9-28 16M3019 1519c1 15 2 22 1 34s0 22-1 38M3063 1187c-11 8-22 16-29 27s-8 25-11 38s-4 23-4 41s1 46 2 67s3 43 4 58M3064 1220c-2 10 0 12-2 24s-8 31-13 48s-11 31-16 52s-9 54-12 72s-4 23-9 38M2987 1553c-1 16-2 43-2 58M2999 1548c1 17 2 44 1 64M3158 1075c-9 12-9 13-19 21s-28 15-45 26s-46 32-59 44s-13 16-16 28M3026 1142c-17 13-32 30-41 47s-6 38-8 58s-4 46-6 62s-3 22-4 35s-1 24-1 43M2978 1504c0 18 1 33 0 51"/>
<path stroke="#1f8336" d="M2728 566c5-10 3-9 8-20M2852 577c5-10 8-20 15-35M2870 587c6-15 15-37 21-51M3169 1128c-13 9-35 20-50 29s-27 17-37 26s-17 14-20 28s-1 43-1 57M3001 1619c-4 17-2 10-5 25M3039 1251c-1 17-2 41-3 58s-3 29-5 45s-4 33-6 50s-4 37-6 54M3079 1184c-12 8-32 19-40 29s-8 13-12 28s-7 45-9 61s-1 20-2 39s1 53 1 70M3019 1591c-2 15-5 36-9 54M3025 1418c0 14 1 14-1 31s-6 47-10 67s-8 38-11 52M3012 1454c-4 14-12 33-17 49s-11 28-13 47M2985 1611c0 14 1 14 1 28M3000 1612c-2 20-6 41-9 55M3019 1194c-4 13-3 28-6 47s-7 49-11 69s-7 39-8 53s-1 16-2 33s-3 52-4 68M2966 1387c1 19 3 50 4 71s5 34 6 52M2978 1555c-1 18-2 40-5 57"/>
<path stroke="#29832f" d="M2755 580c6-15 4-16 9-30M3061 1268c0 14 0 11-1 27s-6 49-9 65s-3 15-7 34s-14 60-17 78M2996 1644c-3 16-10 50-14 70M3019 1458c-1 17-1 30-2 48s1 41 1 59M3017 1411c0 18 0 22-1 36s-1 30-2 49s-1 50-1 67M3010 1645c-4 18-9 33-16 53M3003 1568c-3 15-3 17-6 33M2982 1550c-2 19 0 50 0 68M2986 1639c1 13 3 31 3 53M2991 1667c-3 15-4 17-8 31M2988 1464c-2 16-2 12-5 27s-8 46-11 65M2976 1510c2 17 3 40 4 55s0 20-1 34M2973 1612c-2 17-6 31-10 48"/>
<path stroke="#328428" d="M2757 553c6-15 11-29 17-45M3027 1472c-4 17-3 12-5 28s-4 49-6 66M3018 1565c-1 18-2 34-3 49M3013 1563c0 17 0 17 0 35M2997 1601c-2 15-6 43-9 61M2982 1618c0 17 3 23 3 37M2972 1556c-2 18-1 30-1 45M2979 1599c-1 15-4 40-7 56M2963 1660c-5 17-11 39-15 53"/>
<path stroke="#3c8421" d="M2748 534c6-14 15-36 21-49M2809 560c6-15 16-41 21-54M2836 551c6-15 11-29 16-41M2867 575c7-17 12-31 20-46M3016 1566c-1 16 0 16-1 33M2982 1714c-4 21-7 41-9 55M3015 1614c-1 14-2 21-6 37M3013 1598c0 18 0 54-1 72M2994 1698c-6 20-15 50-20 67M2988 1662c-2 19-4 32-6 49M2985 1655c0 15-2 36-3 51M2989 1692c0 21-1 57-2 75M2983 1698c-3 13-9 31-15 51M2971 1601c0 15 1 25 1 44M2972 1655c-2 16-4 23-7 40M2948 1713c-4 15-6 18-9 34"/>
<path stroke="#47841e" d="M2736 546c5-11 13-30 19-46M2840 520c6-14 13-30 20-45M3015 1599c-1 16-4 46-7 66M3009 1651c-3 16-12 44-16 60M3012 1670c-1 18-2 21-4 34M2972 1645c-1 19-4 52-5 70"/>
<path stroke="#52841e" d="M2867 542c7-15 21-39 29-54M2891 536c7-14 11-20 18-33M3008 1665c-2 19-6 35-8 50M2973 1769c-2 13-2 12-5 27M2993 1711c-4 15-5 16-9 33M2974 1765c-6 17-7 20-10 34M2982 1711c-2 17-4 34-7 52M2982 1706c-1 14-3 20-5 36M2987 1767c-2 17-2 13-6 28M2968 1749c-6 20-15 49-19 66M2965 1695c-2 16-7 40-10 57M2939 1747c-3 16-9 48-11 64"/>
<path stroke="#5e831d" d="M2764 550c4-14 13-38 18-53M3008 1704c-2 12-3 22-9 40M2977 1742c-1 17-3 46-5 65M2967 1715c-2 17-4 19-7 35"/>
<path stroke="#6a831d" d="M2852 510c5-11 6-13 11-27M3000 1715c-3 15-4 21-7 37M2968 1796c-2 14-7 38-10 58M2984 1744c-5 18-13 56-18 74M2964 1799c-4 15-9 36-13 54M2975 1763c-3 18-8 40-11 55M2981 1795c-4 15-13 40-20 59M2949 1815c-5 17-6 24-9 36M2955 1752c-3 16-4 26-8 42"/>
<path stroke="#72811c" d="M2830 506c6-14 6-14 12-28M2993 1752c-3 17-8 46-12 63M2999 1744c-5 19-18 54-24 72M2960 1750c-2 16-7 44-9 61M2928 1811c-3 17-4 25-5 37"/>
<path stroke="#797f1c" d="M2774 508c6-16 13-33 19-49M2887 529c8-16 18-34 25-46M2964 1818c-3 15-5 24-7 36M2972 1807c-1 19-2 32-4 49M2947 1794c-4 17-9 37-14 55"/>
<path stroke="#807e1b" d="M2769 485c6-13 9-21 13-31M2860 475c6-16 13-32 20-47M2966 1818c-4 18-4 24-7 36M2975 1816c-7 18-10 25-15 38M2951 1811c-2 17-3 27-5 41"/>
<path stroke="#867c1b" d="M2909 503c8-13 17-30 26-45M2981 1815c-3 17-6 28-8 41"/>
<path stroke="#89741a" d="M2755 500c7-16 14-32 21-48M2863 483c6-13 15-35 23-53M2896 488c9-16 15-26 23-39"/>
<path stroke="#896b19" d="M2782 497c6-15 10-25 15-37M2842 478c6-14 16-37 24-56"/>
<path stroke="#8a6118" d="M2912 483c7-13 11-19 16-28"/>
<path stroke="#1e6dab" d="M2610 957c1-13 1-19 2-37s3-52 5-73"/>
<path stroke="#1d7da8" d="M2646 958c0-18-1-37-1-53s0-34 1-46s0-14 2-27s6-40 8-54s2-16 5-28s7-32 13-47M2610 957c0-17 1-34 1-50s0-25 1-44s4-46 7-67s8-44 12-60M2617 847c2-20 4-34 7-50s5-31 9-46s3-25 13-48s36-66 49-86s16-20 27-31s23-23 39-33s39-19 61-26M2622 957c0-16 0-30 1-48s0-44 2-62"/>
<path stroke="#1d8ea4" d="M2639 958c1-18 1-42 2-55s-1-9 0-21s0-32 1-51s5-49 7-63s0-10 4-23s14-44 21-59s14-20 21-32M2674 703c7-16 20-34 26-46s7-10 15-24M2695 958c0-20 0-43 0-59s0-23 1-37s2-35 4-49s4-25 7-40s8-34 15-49s17-31 25-45s18-26 27-39M2747 958c0-11 0-19 0-33s-1-37-1-53s0-28 2-44s5-33 11-50s14-39 21-53s12-19 20-31M2631 736c4-16 4-21 11-36s19-40 30-57s25-33 38-47s21-24 42-37s60-28 83-35M2612 957c0-16-1-32-1-48s-1-31 0-46s0-24 2-41s2-38 9-62s19-63 29-84M2822 527c22-6 50-9 71-11s38-1 59-1M2617 957c-1-16-1-33-2-49s-1-29-1-44s-1-27 2-48s7-55 13-79s14-42 24-60s20-32 32-46M2625 847c1-19 3-37 5-50s0-12 6-30s20-63 27-81s6-15 16-28s25-34 40-50M2660 957c-1-14-1-27-2-42s-2-27-2-43s-1-34 0-52s4-41 6-58s4-24 11-40s15-37 28-55s37-43 52-57M2662 958c0-14 1-24 1-42s0-45 0-64s2-33 4-46s0-16 5-34s14-54 23-73s16-27 26-40M2658 957c0-16 0-31 1-48s3-40 4-55s1-16 4-34s12-56 17-74s6-23 12-36M2702 958c0-17-1-34-1-53s-2-41-1-58s1-28 3-42s5-28 10-44M2727 959c0-19-1-39-1-56s-2-27-2-43s1-38 3-51s2-19 4-30s4-21 10-34M2739 959c1-19 3-42 4-57s2-20 4-34s5-37 8-51s4-23 7-33s4-20 7-31s8-21 13-31s9-17 18-28M2750 959c1-13 1-24 2-38s2-34 3-49s1-25 4-41s6-38 9-53s6-25 11-36s12-21 19-31"/>
<path stroke="#1c9ea0" d="M2634 958c0-12 0-22 0-36s0-38 0-52s1-19 2-33s3-31 6-48s5-36 10-53M2695 654c8-11 17-25 25-38M2657 958c1-13 2-22 3-38s0-43 0-60s0-29 1-44s4-32 6-44s3-17 7-29M2774 640c9-13 19-22 27-38M2710 958c0-16 0-33 0-49s-1-28 0-44s2-35 4-52s6-33 11-49s12-35 18-49M2800 694c7-11 17-26 25-40s18-28 24-39M2749 958c0-15 0-28 0-44s-1-38 0-53s0-21 2-35s5-33 11-50s15-40 21-51s3-6 10-17M2835 524c23-8 39-8 57-10s30-1 51-2s55-1 72 0M2651 676c10-22 20-32 31-46s23-26 37-38s29-26 46-36M2952 515c21 0 48 0 67 2s28 4 47 10s48 18 67 28s31 21 45 33s24 24 35 41s25 45 32 62M2685 631c12-14 26-28 38-39s21-20 39-30s47-22 69-28M2719 608c15-16 31-31 49-44s45-22 64-28s34-9 50-12s31-2 47-3s26-4 47-3M2656 957c0-19 0-39 0-57s-1-39-1-55s1-27 3-43s4-36 9-55s15-44 22-58M2753 610c16-14 27-20 39-27s21-11 38-16s46-11 64-14M2721 659c10-13 24-28 34-38s11-12 25-21s45-24 60-31s20-7 35-9M2696 710c7-14 14-28 25-43s29-38 40-50s15-17 28-25s29-19 49-26s55-12 71-14M2713 761c5-16 15-39 22-51s7-12 17-24s28-31 42-43s24-19 38-26M2741 745c5-13 16-32 24-44s15-20 26-30s25-23 36-31s14-12 28-17M2731 959c0-16 0-29 0-47s-2-46-2-61s-1-17 1-31s5-38 7-50s3-15 7-26s12-26 20-37M2734 959c0-15 1-29 1-46s0-35 1-53s3-38 5-51s1-13 5-25s9-34 15-49M2800 694c9-11 25-30 34-39s14-10 23-14s21-10 33-13s20-3 36-4M2798 711c7-10 14-19 23-28s18-18 28-25s23-14 32-18s11-4 22-6M2753 959c0-14 0-26 0-44s1-48 2-63s1-18 3-28s5-25 8-38s11-30 15-40s8-12 15-22s20-26 30-37"/>
<path stroke="#1da193" d="M2652 736c4-17 11-36 17-48s8-13 16-25M2715 633c8-14 25-44 32-60M2674 743c4-11 10-29 15-40s12-17 18-28M2743 715c6-13 12-20 19-31s15-24 24-37M2740 958c0-19 0-39 1-56s0-30 0-44s2-26 4-40s5-29 9-43s9-28 16-43M2849 615c6-10 7-12 13-25M2793 708c8-12 25-37 35-53s18-26 26-41M3015 512c18 1 14 0 32 6s57 19 78 30s35 23 48 34s22 22 32 35s17 22 27 42s21 57 28 78M2765 556c17-10 39-18 58-24s34-10 55-13s54-4 70-5s12-3 27-3s44 0 65 5s46 12 66 21M3245 691c8 17 8 21 12 40s11 61 13 78s1 9 1 26M2831 534c23-7 47-10 68-12s39-3 57-4s35-4 55-2s46 9 62 13s17 4 33 13s48 28 64 40M2976 518c22 2 60 7 80 11s22 6 38 14s38 20 54 32s29 25 41 41M2636 957c0-14 0-28 0-42s-1-26 0-47s3-57 5-76s2-23 6-39s11-43 20-62s22-39 34-55s25-28 38-40M2632 957c0-12 1-23 2-37s1-25 3-46s6-61 9-80s2-15 6-32s15-51 23-69M2646 957c1-20 2-46 3-60s0-15 1-27s0-27 2-46s5-46 10-68s12-45 20-63M2689 689c6-14 7-15 18-28s34-39 47-51s14-15 30-24s48-22 67-28M2894 553c17-3 28-1 42-2s22-3 39-2s43 1 62 4s31 7 49 15s43 21 59 32M2875 560c15-3 37-5 54-6s26-4 46-4s56 5 75 8s22 6 35 12s28 12 41 21s23 15 36 30M2909 552c16-3 11-1 26-1s47-2 66 0s26 3 44 8s47 19 62 26M2676 958c-1-12-1-18-2-36s-2-51-2-70s1-28 3-41s4-22 8-36s7-30 15-47s21-37 33-53M2677 958c0-18 0-38 0-53s-1-23 0-36s0-27 2-42s3-32 8-51s12-45 21-64s22-33 33-47M2683 958c0-21-1-46-1-62s-1-20 0-33s0-27 2-44s7-39 12-57M2689 958c0-11 0-20-1-34s-1-36-1-54s1-37 2-53s3-26 6-42M2832 617c14-8 32-15 45-19s21-5 34-7s29-3 46-4s36-3 52-2M2720 959c0-15 0-31 0-45s0-22 0-36s0-30 2-48s6-47 10-63s5-22 10-33s9-19 16-29s15-21 25-33M2855 623c14-5 44-13 57-16s10-1 21-2s29-3 47-3s44 4 59 7s21 6 32 10M2764 707c7-11 14-20 24-30s22-23 36-33s37-21 49-26s7-4 20-6M2761 735c7-14 19-28 26-37s7-12 16-21s26-26 37-35s13-10 25-15M2926 624c17-1 43-3 60-3s30 0 43 2s20 3 33 7s30 11 41 16M2752 959c0-13 0-22 0-39s-1-49-1-64s0-17 1-30s4-30 8-44s9-29 15-41M2903 634c11-2 26-4 42-6s40-3 55-3s24 1 33 3s13 2 24 6s35 15 45 21M2826 687c10-11 22-22 30-29s6-7 17-12s38-14 51-17s13-3 27-4M2763 959c0-15 0-27 1-44s3-45 5-61s4-21 6-32s6-22 10-33s8-23 11-31s4-9 9-19s19-28 26-38"/>
<path stroke="#1da585" d="M2685 663c8-13 25-37 33-52M2720 616c7-13 15-26 21-39M2707 675c6-11 11-21 19-36M2786 647c8-12 20-27 27-40M2770 732c7-15 20-33 29-47s17-27 24-38M3260 737c6 22 7 38 10 52s2 13 3 29s2 50 2 69s-1 29-3 46s-5 36-10 55s-10 41-20 60s-29 42-39 55s-8 10-20 21s-35 28-52 42M3106 537c20 9 40 21 56 34s29 27 41 44s27 41 35 58s12 31 17 47M3271 835c0 16 1 52-1 75s-5 45-7 62s-4 28-10 44s-15 35-23 53M3170 582c15 12 17 15 28 30s30 44 39 62s12 31 17 46s8 29 11 46s6 35 7 57M3189 616c13 15 26 37 35 51s9 16 15 32s14 43 19 63s8 46 10 61s2 13 2 28s-1 48-3 67M2739 596c12-12 20-21 38-30s48-20 66-26s22-6 41-8M2675 693c9-18 16-28 26-42s19-27 34-42s39-35 56-46s32-15 48-21s32-9 51-12s45-4 62-5M2682 693c8-19 19-33 28-46s15-21 25-32s18-21 33-31s39-24 59-32s41-12 61-15M2851 558c19-6 29-6 46-8s45-3 61-4s22-2 36-1s33 2 50 6M3145 600c15 11 24 22 34 33s14 17 22 29s18 32 24 48s10 27 14 46s9 51 11 67s2 15 2 31M3162 621c13 15 32 41 42 59s15 34 20 49s9 31 11 43s4 19 6 33M3107 585c16 7 18 9 30 18s26 22 39 38s29 43 38 58s8 19 12 31s9 25 12 43M2731 675c12-16 28-32 39-44s15-16 28-25s37-22 51-29s20-8 37-11M2741 665c11-13 20-24 32-34s25-22 40-31s37-16 49-21s10-4 23-6s36-5 56-7M2696 762c5-17 13-36 19-49s9-16 18-27s22-27 33-39s19-22 36-33M2695 775c4-16 9-37 18-56s27-40 36-53s9-12 20-21s34-29 47-38M3009 585c16 1 29 4 43 8s28 9 41 15s26 13 40 25s30 32 40 47s15 25 21 39M2783 672c10-11 24-25 35-34s19-14 31-20s24-11 38-15s31-4 48-6M3071 619c10 4 22 9 32 15s18 11 30 23s28 35 37 47s9 14 14 29M2893 612c13-2 44-4 58-6s14-1 27-1s40 3 54 5s20 5 33 10s31 13 43 20M2865 627c12-5 28-11 44-14s38-4 52-5s19-2 31-1s27 2 43 7s36 12 49 18M3103 646c10 6 13 9 22 18s21 25 28 38s13 30 17 40s4 9 6 22s8 42 10 56s1 16 2 29M2775 741c7-12 14-19 22-29s15-18 24-27s22-20 31-28s12-10 23-15M3102 655c10 5 9 5 16 14s24 31 31 43s7 11 12 26s14 44 18 60s4 23 5 37M2951 625c14-1 45-1 58-1s9 0 18 3s23 5 36 12s36 19 47 27s9 7 17 18M2831 701c7-10 11-16 18-23s12-14 20-21s20-12 32-16M3206 1035c-12 10-22 21-35 31"/>
<path stroke="#1ea778" d="M2718 611c9-14 14-22 19-36M2726 639c7-16 19-41 25-58M2801 602c8-16 15-42 21-58M2823 647c6-10 10-14 17-27M3255 720c5 15 8 31 11 48s6 41 8 57s2 20 1 37s-2 46-4 65M3272 823c1 21 1 51 0 70s-2 26-5 43s-7 40-11 56M3267 918c-2 19-4 30-8 48s-9 41-17 60s-19 36-28 49s-16 20-28 32s-29 26-44 39M2884 532c20-2 55-4 76-5s40 0 53 1s13 1 28 6s43 13 63 23s44 27 59 40M2952 525c17-2 20-5 40-2s56 8 80 16s47 24 61 32s12 5 24 20M2888 537c20-3 41-2 60-3s37-2 53 0s25 2 41 7s38 13 55 22M3044 551c18 4 38 11 56 20s37 19 52 33s31 32 41 46s14 20 22 36s17 44 22 64M3252 854c-1 16-3 49-4 66s-4 23-7 37s-5 29-12 46s-19 36-29 55M3241 805c1 14 3 36 3 52s2 21 0 41s-7 55-10 74s-5 23-8 35M3238 773c3 19 6 50 7 69s1 30-1 48s-5 41-7 57s-5 25-8 37M2886 566c17-3 49-6 64-7s11-3 28-2s57 9 74 13s16 5 30 12s38 20 52 31M2941 566c20-1 45-4 64-3s33 5 50 10s37 13 50 20s17 8 29 18s31 31 42 45M2802 614c16-10 46-26 62-32s20-7 33-9s29-4 47-5s39-4 57-3M2816 607c14-9 16-10 32-15s50-12 66-15s16-2 31-2M3194 719c6 13 10 27 14 41s6 28 8 41s3 18 3 34s1 43 0 62s-4 36-7 52M2935 597c16-1 35-3 52-2s40 5 52 8s10 1 21 6s36 16 50 24s20 15 30 27M3184 733c5 15 14 44 18 59s3 20 4 34s2 36 2 51s-1 29-2 43s-5 28-8 42s-8 30-13 42s-8 18-18 29s-28 30-41 42s-27 21-39 29s-20 13-30 20M3108 640c13 8 21 17 30 26s17 19 25 30s15 27 21 40s10 26 13 42M3084 632c13 7 21 11 29 19s16 12 25 24s23 32 31 48s14 34 18 45M3188 849c1 13 3 32 4 48s-2 33-2 50M2875 642c11-5 30-11 41-14s16-4 30-5s42-4 57-3s16 0 28 4s33 11 45 16M3184 835c2 15 3 36 4 49s1 20 0 33s-4 30-6 45M3127 684c7 10 21 31 29 46s12 28 16 41s7 29 9 42s3 24 4 35s2 16 1 32M2901 641c12-4 26-5 42-6s43 0 55 1s10 1 18 4s21 6 32 10s24 7 37 15s29 23 39 31M3171 1066c-13 11-31 23-45 32s-25 9-39 18s-36 24-47 38s-20 29-22 46M3179 1012c-10 15-18 34-29 47s-25 26-37 35s-22 11-33 20M3166 1001c-11 11-24 24-34 34s-16 15-28 24"/>
<path stroke="#1fa76b" d="M2813 607c7-13 10-25 15-38M2854 614c7-15 14-33 20-47M3271 927c-2 19-6 32-8 48M3256 992c-5 16-5 25-14 42s-27 40-40 60M3163 597c15 13 22 22 33 38s26 43 33 58s9 21 13 35s9 31 13 47s6 35 8 53s2 39 2 55M3157 591c13 14 41 52 52 68s9 16 15 32s15 45 20 61M3097 563c18 9 37 22 51 33s22 21 32 35s22 31 31 46s14 31 20 46s8 23 12 39M3237 750c6 20 8 42 10 57s3 13 3 29s0 54-1 71s-2 18-5 33s-7 43-13 60s-7 27-17 43s-33 42-45 56s-19 17-28 26M3134 613c14 10 21 17 32 31s26 35 35 50s12 23 17 39s11 38 14 52s3 15 4 30M3176 656c11 14 16 26 23 39s11 24 16 41s11 43 14 59s3 22 4 35M3001 565c19 1 35 5 51 10s34 13 48 21s29 19 40 29s17 16 26 28s18 25 26 42M2945 575c16-1 45-4 64-2s35 5 51 10s31 12 43 18s18 9 28 18s26 24 35 36s16 19 23 33M3212 949c-3 16-5 29-10 42s-8 25-16 38s-21 27-32 39s-24 22-36 33M3140 660c11 12 26 34 33 45s4 6 9 18s15 38 19 55s7 38 9 52s1 14 1 28M3197 778c4 16 7 38 8 55s2 34 1 49s-1 28-3 39s-1 14-4 26s-7 36-14 51s-20 33-27 43s-10 11-20 20s-27 22-40 33M3187 768c4 12 4 10 6 23s6 38 7 57s1 40 1 55s-1 19-3 32s-6 31-9 44s-5 21-13 34s-23 30-35 42s-21 18-32 28M3076 640c12 5 20 11 28 16s10 9 18 18s22 28 29 41s12 22 16 34s9 23 13 37M3186 880c0 16-2 49-4 65s-4 21-6 32M3124 696c9 9 11 12 16 21s11 14 17 28s14 39 18 55s3 32 4 43M3018 1200c-3 17 6 37 8 56s4 45 4 62s-1 24-5 40s-9 38-15 55s-14 36-19 50M3194 1025c-12 15-26 34-35 46s-9 13-21 25s-39 32-54 46s-25 22-35 35s-19 28-24 40M3200 1030c-6 11-6 17-18 32s-37 46-53 60s-31 17-42 24M3200 1029c-15 15-33 35-44 45s-10 10-22 17s-33 14-51 24s-44 23-58 32M3177 1010c-12 12-24 25-34 36M3080 1114c-12 8-24 14-37 30s-29 45-36 62s-3 28-6 42s-4 23-8 39M3168 1003c-11 18-25 43-33 55s-3 8-16 17s-43 24-59 36M3104 1059c-12 10-31 20-45 32s-30 22-43 41s-30 49-36 70s2 40 2 59M3160 995c-18 13-42 31-53 39s-3 2-13 10s-34 22-49 35s-29 24-42 41"/>
<path stroke="#20a85f" d="M2741 577c5-13 7-22 13-37M2747 573c7-16 7-23 11-34M2840 620c7-13 18-37 24-50M2862 590c6-14 17-40 24-56M3265 883c0 17-1 28-4 46s-7 41-11 62M3244 752c4 16 5 20 8 37s6 46 7 65s2 34 1 49s-1 27-4 45s-7 39-11 59M3243 762c3 16 8 39 11 57s4 35 4 53s-1 39-2 55s-1 20-6 38s-12 51-21 70s-22 34-31 45s-11 13-23 23s-32 26-48 39M3236 815c0 15 1 42 1 60s-2 33-4 49s-5 31-8 45s-3 22-9 36s-17 37-25 50s-12 17-23 29s-31 28-47 41M3233 830c1 13 2 27 1 42s0 33-2 51s-6 40-10 57s-10 29-15 43M3192 695c9 17 19 47 24 61s4 10 6 23s7 38 9 58s2 50 1 67s-1 21-4 35M3189 688c7 14 16 34 21 50s9 30 12 47s5 40 7 55s1 22 0 37s-1 35-4 53M3211 858c1 13 2 35 0 53s-7 45-10 59s0 10-6 22s-20 39-28 51s-10 11-20 20s-28 23-41 35M3180 786c3 14 6 34 8 49s2 24 2 40s-1 44-3 60s-5 25-7 37M3179 843c1 11 1 12 0 24s0 27-2 45s-10 47-13 60s0 8-5 17s-14 24-22 36M3210 1039c-7 11-12 21-22 33s-21 30-37 44M3202 1032c-15 13-34 29-47 41M2991 1463c-5 14-7 20-11 34s-7 26-8 46M3025 1217c-5 12-4 19-7 31s-4 22-8 40s-10 53-13 71s-3 22-4 35s-3 29-5 46M3087 1146c-12 6-16 8-28 15s-30 11-41 27s-23 53-29 72s-3 32-3 46M3197 1027c-12 16-24 35-37 49s-26 26-37 34s-10 5-23 13s-43 25-57 38s-26 24-33 39M3025 1147c-14 10-19 10-26 26s-16 46-19 69s1 52 2 69s0 15 1 32s5 51 6 70M3143 1046c-11 10-18 18-28 27s-21 12-35 25s-39 36-51 54s-18 38-21 57M3186 1017c-11 10-22 21-33 29s-21 14-35 23s-37 21-52 31M2993 1287c-3 16-10 39-13 57s-2 35-5 54s-4 41-8 58s-7 29-10 45M3178 1011c-8 13-14 26-25 39s-23 32-37 44s-30 18-45 28s-30 15-44 28M3060 1111c-16 11-27 22-37 34s-18 18-24 37s-7 62-11 82s-7 25-11 39s-9 34-12 47M2982 1261c0 18-2 39-3 52s-1 13-3 25s-4 28-7 48s-9 51-12 72M3003 1120c-13 17-31 38-37 60s1 51 3 73s7 41 9 58s4 27 4 44"/>
<path stroke="#22a852" d="M3228 939c-2 14-6 32-10 47M3225 930c-2 19-5 38-11 57s-16 40-23 53s-10 14-20 24s-24 25-37 37M3236 1060c-12 10-23 19-36 30s-28 23-44 34M3151 1116c-16 13-44 27-58 36s-18 12-28 20s-21 16-29 28s-10 24-13 43M3155 1073c-13 11-19 15-32 25s-31 26-43 39s-17 24-24 35s-12 16-16 31M2972 1543c-2 20 0 53 1 74M2988 1440c-1 17-2 35-3 55s-2 45-3 64M2986 1306c0 13 1 18 3 35s8 53 10 70s2 15 3 30s-1 42-1 59M3010 1200c-6 15-5 34-8 53s-3 42-5 60s-4 33-6 50s-5 35-7 52M2989 1413c2 18 2 26 2 41s1 28 0 46M3185 1017c-14 14-28 30-42 41s-27 19-38 26s-12 4-25 14M3008 1209c-2 18 5 43 5 57s2 7-1 22s-8 48-13 67s-9 33-14 49s-9 28-13 44M3066 1100c-14 11-21 18-34 35s-36 43-44 62s-4 32-4 50s5 41 7 57M2957 1501c-3 17-7 40-9 55s0 25 0 39M3027 1150c-15 14-35 38-44 54s-6 26-9 43s-6 43-9 61s-3 33-4 49s-1 34-1 49M2965 1350c-3 14-3 18-4 35s-3 46-5 64s-4 25-7 44M2957 1458c-3 21-6 38-8 52s-2 20-3 34M2982 1355c0 16-1 40-2 54s-1 13-6 27s-13 37-19 56"/>
<path stroke="#28a846" d="M2737 575c6-13 9-27 15-42M2751 581c7-16 8-25 13-40M2822 544c6-15 9-22 14-34M2828 569c5-14 8-26 15-43M3156 1124c-15 11-37 22-51 33s-25 23-31 33s-7 18-7 29s5 16 6 34M3023 1243c-3 19-5 52-7 73s-1 34-1 51s0 37 0 50s0 12-1 25s-2 35-4 54M3040 1203c-4 15-7 40-9 58s-4 35-6 51s-3 31-5 45s-3 23-8 41s-16 49-21 66M2973 1617c1 21 4 35 5 51M2982 1559c0 19 0 32-1 48M3001 1500c-1 16-2 20-4 39s-8 52-12 70M2984 1415c-2 16-5 32-7 46s-3 23-3 38s-2 32-2 49M3192 1023c-6 11-8 19-17 32s-24 36-36 49s-22 20-35 30M2991 1500c-1 18-2 42-4 62s-5 38-7 53M3080 1098c-14 11-42 33-55 50s-22 34-26 51s0 33 0 51s0 44 0 59M2972 1448c-4 16-9 38-11 53s-4 23-5 40M2991 1304c2 15 4 18 4 35s-3 47-6 67s-10 33-13 49s-6 32-8 49M2948 1595c1 13 3 27 3 44M3173 1007c-12 11-23 23-37 32s-31 15-43 21s-15 4-27 13M2960 1406c-1 15-1 29-2 43s0 28 0 43s0 28 0 46M2949 1493c-4 19-10 54-12 71s-1 13-1 27M2946 1544c-2 13-3 29-4 48M2955 1492c-7 20-15 43-20 60s-6 25-8 39"/>
<path stroke="#34a93d" d="M2864 570c7-13 5-14 13-29M2874 567c7-15 14-30 19-41M3073 1253c1 17 2 52 2 68s0 13-4 28s-12 44-18 62s-13 32-20 50M3010 1496c-2 19-5 39-8 59M2991 1464c-5 17-7 19-9 35s-2 47-2 62M2978 1668c1 15 1 28 1 44M2981 1607c0 16-1 30-2 48M2985 1609c-3 18-5 22-9 36M2972 1548c0 16 1 30 1 48M3104 1134c-12 10-23 17-39 29s-44 26-57 42s-14 41-18 56s-3 23-6 38M2980 1615c-3 14-4 18-7 34M2999 1309c0 15 0 17-1 34s-3 50-5 67s-2 16-5 31s-10 35-14 55M2956 1541c-1 17-2 46-2 62M2968 1504c-2 16-2 35-4 52M2951 1639c1 17 0 41 0 57M3066 1073c-11 9-28 18-43 41s-40 71-47 94s1 30 3 43s6 25 9 39M2958 1538c0 17 2 42 2 61M2936 1591c1 15 5 43 6 60M2942 1592c-2 19-4 49-5 65M2927 1591c-2 15-4 31-5 48"/>
<path stroke="#41aa34" d="M3033 1461c-6 17-15 41-20 57s-5 23-6 38M3002 1555c-4 20-9 46-12 62M2980 1561c1 15 2 12 3 28M2979 1655c-1 18-4 46-6 60M2976 1645c-4 14-11 33-16 51M2973 1596c0 19 0 45-1 62M2984 1299c-2 15-6 39-7 55s-4 26-4 44s4 47 6 64s5 26 6 40M2973 1649c-4 16-11 46-15 62M2974 1496c-5 20-11 51-13 66s-2 12-3 27M2954 1603c-1 16-1 18-1 35M2964 1556c-3 18-6 35-9 53M2988 1290c3 15 8 32 10 49s1 36-1 54s-9 32-13 52s-9 46-12 64M2960 1599c1 18 1 33 1 52M2942 1651c2 17 4 28 4 44M2937 1657c-1 16-1 16-1 31M2922 1639c0 16 1 34 2 52"/>
<path stroke="#4eab2b" d="M2758 539c4-11 7-21 13-34M3007 1556c-1 15-1 35-1 50s1 30 2 45M2990 1617c-3 17-5 26-7 38M2983 1589c1 16 2 51 2 68M2979 1712c0 15-1 34-4 51M2972 1658c-1 18-2 29-3 44M2985 1502c2 14 3 28 3 44s0 33-1 53M2958 1589c-1 15-2 46-4 66M2953 1638c1 18 1 49 2 68M2955 1609c-4 18-9 39-10 55M2951 1696c-1 17-3 22-5 42M2972 1509c-4 18-5 29-9 45M2961 1651c-1 18-3 44-4 59M2936 1688c-1 14-1 37-1 56"/>
<path stroke="#5cab26" d="M2754 540c5-15 14-37 19-51M2836 510c5-12 10-24 16-38M2886 534c8-15 13-23 21-36M3008 1651c0 14 1 22 1 41M2983 1655c-2 12-4 18-6 34M2985 1657c0 17-1 16-3 32M2973 1715c-1 14 0 12-3 26M2960 1696c-5 17-10 36-13 54M2987 1599c-1 19-2 47-4 64M2958 1711c-4 17-5 23-9 38M2945 1664c-2 16-1 24-1 40M2963 1554c-4 15-12 36-17 51s-8 20-10 37M2946 1695c0 16-2 36-3 53M2924 1691c0 19 1 42 1 60"/>
<path stroke="#6aaa26" d="M2893 526c6-11 7-13 14-24M2977 1689c-2 16-6 44-8 62M2982 1689c-1 17-4 48-7 68M2975 1763c-2 17-7 37-11 52M2970 1741c-2 14-6 42-10 60M2969 1702c-1 15-3 32-5 48M2954 1655c-1 19-2 35-3 53M2955 1706c0 20 1 35 1 50M2944 1704c0 16 2 40 2 56M2946 1738c-1 19-3 54-4 73M2957 1710c-1 15-2 19-4 32M2935 1744c-1 20-1 44-1 62"/>
<path stroke="#79a926" d="M2752 533c6-15 14-36 20-49M2764 541c6-15 15-35 20-49M2843 526c7-17 18-43 24-59M3009 1692c0 19-1 55-2 73M2947 1750c-3 18-4 37-4 54M2964 1750c-2 15-4 27-6 44M2983 1663c-3 18-5 26-10 41M2949 1749c-3 15-7 38-10 55M2951 1708c-2 18-3 39-3 53M2956 1756c0 15 0 23-1 39M2936 1642c-3 16-3 43-4 60M2953 1742c-2 13-5 29-8 46M2943 1748c-1 16-4 30-6 47M2925 1751c0 18 0 33 0 49"/>
<path stroke="#88a825" d="M2877 541c8-14 25-43 33-58M2969 1751c-2 17-2 26-4 43M2964 1815c-3 15-7 25-10 38M2973 1704c-4 14-12 32-16 46M2946 1760c0 17-2 28-3 43M2942 1811c-1 19-1 26-2 40M2932 1702c-1 18-1 30-2 44"/>
<path stroke="#93a725" d="M3007 1765c-1 17-1 16-5 32M2975 1757c-2 20-5 39-8 55M2960 1801c-4 19-8 34-12 51M2943 1804c-1 16-1 31-1 47M2939 1804c-3 16-5 30-8 45M2948 1761c-1 14-1 17-2 32M2955 1795c-1 16-5 38-7 57M2937 1795c-1 17-2 36-4 54M2934 1806c-1 17-2 29-3 43M2925 1800c0 17 0 32 0 48"/>
<path stroke="#9ca424" d="M2771 505c5-14 12-32 18-48M2965 1794c-2 17-5 40-8 60M2958 1794c-3 17-7 39-10 58M2957 1750c-5 14-9 22-13 38M2943 1803c-2 15-5 31-7 47M2930 1746c-1 15-3 27-3 44M2945 1788c-4 18-10 41-15 61"/>
<path stroke="#a5a223" d="M2852 472c6-14 14-31 21-47M2907 498c7-13 16-28 24-42M3002 1797c-4 15-14 40-20 61M2967 1812c-3 16-7 28-11 41M2946 1793c0 14-2 39-3 58"/>
<path stroke="#ada022" d="M2773 489c6-14 9-22 14-33M2907 502c6-12 17-30 25-45M2944 1788c-4 17-8 41-12 61M2927 1790c-1 17-1 39-2 58"/>
<path stroke="#b09621" d="M2867 467c7-16 11-25 16-38"/>
<path stroke="#b18a20" d="M2772 484c5-13 8-19 12-29M2784 492c6-13 9-21 13-32M2910 483c8-14 11-19 17-29"/>
<path stroke="#2474d3" stroke-width="1.13" d="M2611 957c0-18 0-40 1-56s0-26 0-41s3-39 4-52s1-14 3-25s5-30 8-45s6-28 13-43s20-33 28-46"/>
<path stroke="#2588d5" d="M2668 649c9-13 14-18 23-32M2625 958c0-13 0-22 0-38s0-37 0-54s2-31 4-48s5-36 7-51s5-25 9-38M2620 957c0-16-1-32-1-48s-1-30 0-50s3-45 5-65s5-32 10-50s13-41 22-58"/>
<path stroke="#259dd2" d="M2645 729c4-13 9-29 15-41s14-22 22-35M2656 686c9-18 20-33 32-48s29-32 42-44s20-20 37-29s44-21 66-28M2632 957c-1-19-2-42-3-57s-1-13-1-30s1-53 3-74s4-37 10-56s11-39 21-57M2636 957c1-20 2-43 3-60s0-25 2-41s4-42 6-58M2764 959c1-12 1-18 1-35s1-51 2-69s3-27 5-39"/>
<path stroke="#24b2cd" d="M2691 617c9-13 24-35 31-48M2682 653c7-12 18-27 25-39M2664 958c0-11 0-17 0-33s0-41 1-59s1-33 2-49s4-30 6-43s6-29 9-40s2-13 8-25M2734 958c0-18 0-40 0-55s-1-21 0-35s1-32 4-49s8-41 12-54s2-12 9-25s21-38 30-53M2620 957c0-20-1-40-1-58s-1-38 0-55s2-32 4-45s0-14 6-34s18-63 29-86M2833 537c22-7 50-11 67-13s22-2 38-3s40-4 58-4s31 1 50 6s49 16 65 23s17 7 32 18M2626 957c2-19 4-38 5-56s2-40 3-55s1-17 2-34s5-50 8-69s5-28 11-44s14-35 28-54M2662 683c10-18 26-38 36-51s13-15 27-27s40-32 59-43M2647 798c2-17 4-26 7-40s2-22 10-41s30-58 40-75s12-16 24-28s33-31 48-41s26-14 44-20M2641 913c-1-17-2-38-2-55s-1-27 1-43s1-31 7-53M2646 957c1-19 2-39 3-57s1-37 2-53s2-25 3-40s4-31 8-49s11-43 18-61M2658 957c1-17 1-37 2-52s-1-22 0-36s1-31 2-48s4-35 7-52s4-28 12-48s32-57 41-72s2-7 16-19s46-41 63-53M2724 959c0-17 1-38 1-52s-1-15-1-30s0-40 2-57s3-31 6-46M2744 959c1-18 2-39 2-55s0-26 1-41s2-35 4-49s3-22 6-34s5-25 10-36M2752 959c1-19 2-42 2-56s1-15 2-29s4-40 7-53s2-15 6-26s11-31 15-42s5-10 12-20s25-33 33-43M2760 959c1-17 1-37 2-51s0-22 1-34s1-26 3-40s7-37 10-49s4-15 8-25s13-24 20-35M2772 816c2-12 4-21 7-33s9-25 12-34s4-8 11-17s21-29 28-38"/>
<path stroke="#23c5c8" d="M2617 958c1-19 1-42 1-57s0-25 0-37s0-21 1-34s2-28 4-44s4-30 10-48M2623 958c0-16 0-34-1-47s0-19 0-34s2-42 4-57s3-22 5-36s6-32 11-50M2707 614c8-13 14-22 20-33M2644 958c0-13 0-25-1-39s-1-31-1-45s0-25 1-41s4-42 7-58s5-26 8-37s3-17 10-32M2649 958c0-13-1-24-1-40s0-41 0-56s1-22 3-36s4-32 6-46s4-23 8-38s12-35 19-50M2690 709c6-12 21-35 28-47s7-13 13-25M2666 958c0-16 1-36 1-49s0-15 1-29s2-36 3-53s3-34 6-49M2706 958c0-16 0-33-1-49s-1-34 0-49s1-28 3-41s2-21 7-38s18-52 23-66s4-8 11-19M2789 687c9-15 16-24 24-36s17-26 24-38M2737 958c0-11 0-19 0-32s-1-32 0-51s3-47 5-63s2-18 7-32s13-41 21-56s14-23 23-36M2658 679c11-22 26-37 37-51s18-21 30-32s25-24 42-34s39-20 61-27M3143 564c14 12 39 33 53 51s25 37 34 54s14 36 19 51s7 25 10 41M2683 645c13-18 35-43 52-58s36-24 52-32M2784 562c19-10 38-15 57-20s37-7 55-9s39-2 56-3M2820 553c18-6 47-12 65-14s27-2 42-3s31-3 49-3M2643 957c-1-15-1-28-2-44M2647 762c7-22 21-60 31-80s20-26 29-37s12-15 26-27M2680 697c8-18 19-34 30-48s21-26 33-38s19-20 38-30s55-23 73-29M2646 957c2-20 4-42 5-59s2-32 3-46s1-19 3-37M2801 577c17-11 24-11 38-16s29-8 45-10s31-3 51-4M2669 958c1-18 1-38 1-54s0-26 1-41s2-35 5-53s9-42 14-59M2695 958c-1-15-1-25-1-44s-2-52-2-67s-1-9 1-25s8-52 13-70s9-28 16-41s17-26 28-39s27-28 38-38M2708 958c0-14 0-26 1-44s-1-48-1-62s-1-9 1-24s7-49 11-67s7-25 13-37s11-20 20-33M2708 958c1-17 1-37 2-51s-1-21 0-36s1-33 3-51s7-42 10-57s6-21 11-32M2732 774c3-14 7-28 12-40s8-18 15-29s15-21 26-33s31-30 42-39M2724 959c1-14 1-25 1-41s1-38 2-55s3-35 6-50s6-26 9-38M2767 744c5-11 11-21 17-31s12-18 21-28s22-23 31-31s19-14 29-19M2750 959c0-12 0-23 0-38s-1-30 0-48s2-46 3-61s4-21 6-31s4-18 9-29M2829 690c7-9 7-8 13-14s12-15 23-23s30-16 43-21M2757 959c-1-19-2-41-2-58s-1-33-1-45s1-17 3-29s5-26 9-38M2804 725c7-11 16-22 23-31s13-15 19-21s12-12 20-18s16-12 32-16M2830 694c7-8 6-8 13-14s19-18 28-24s12-9 25-13s33-7 49-8"/>
<path stroke="#24cab7" d="M2633 738c5-18 15-44 22-59s16-22 23-33M2642 734c5-17 14-42 21-55s9-15 16-26M2668 706c8-14 27-42 35-56s12-16 18-29M2684 692c6-14 16-25 22-37s10-17 17-29M2677 778c2-15 5-31 8-42s2-14 7-24s14-24 22-38M2691 958c0-20 0-41 1-58s0-34 1-50s3-33 5-46s1-15 5-30s13-44 18-59s7-15 15-27s18-29 29-46M2749 696c7-11 20-32 30-48M2793 688c8-14 22-34 29-45s6-9 13-21M2828 535c22-7 50-12 71-15s37-3 56-4s35-4 55-1s46 9 62 14s17 4 33 14M3259 761c3 16 6 35 8 54s2 38 2 56s-1 35-3 54s-6 42-11 62s-11 39-18 54s-16 26-24 39M2787 555c17-8 32-11 47-15s29-6 47-8s44-2 61-3M3055 530c23 5 52 18 68 25s11 2 26 16M2952 530c16-1 23-5 44-3s65 11 84 16s16 3 32 14s52 35 67 47s12 11 21 26s26 41 35 59s12 34 16 49M2976 533c18 0 37-2 59 3s58 18 77 26s24 12 38 24s34 34 46 50s19 32 27 48M2733 618c14-12 40-34 58-45s31-16 49-22s46-11 61-14s18-2 32-4s37-5 57-5M2648 957c-1-17-2-39-3-53s-2-16-2-32s0-46 2-67s7-44 11-59s2-15 9-30s26-47 38-63M2854 552c19-6 22-5 39-7s45-3 62-4s22-3 42-1s58 9 75 13s13 2 29 12M2657 815c2-17 6-48 10-68s10-36 15-50s9-20 17-33s19-27 33-41s33-31 52-43M2935 547c20-1 51-2 68-1s19 2 33 6s36 10 52 17s29 13 43 25s32 26 45 42M2658 957c0-17 0-38 0-52s-1-17 0-31s0-30 3-51s9-53 13-71s8-27 15-43M2667 958c0-12 0-21 0-35s-1-33-1-52s1-41 3-60M2690 751c5-17 8-28 16-43s22-33 33-47s23-26 32-35s13-14 26-22M2683 958c0-21 1-47 1-63s0-21 1-34s-1-22 2-41s8-53 12-69s3-16 9-28s15-31 24-44M2788 634c12-10 18-15 31-22s30-16 46-21s33-7 50-10s36-3 50-4M2695 958c0-20-1-46-2-60s-1-12 0-28s1-47 4-65s5-31 9-44s7-23 12-34s10-20 19-31s21-26 33-38M2702 958c0-19 0-40 0-57s0-31 0-43s-1-14 1-31s6-51 10-69s8-27 13-38s9-17 18-29s25-30 36-42M2700 958c1-18 2-40 2-54s0-14 2-30s5-47 7-63s4-19 8-32s8-31 16-47s22-35 32-49M2753 691c9-12 22-27 35-39s30-24 41-32s10-8 25-13M2734 731c5-11 11-22 19-34s18-24 28-35s21-23 33-32s19-15 35-21M2711 958c0-15 0-31 0-46s-1-28 0-41s-1-25 1-40s5-40 8-55s3-18 10-33s25-45 33-58s4-7 14-18M2718 958c0-19 0-41-1-57s-1-23 0-38s1-35 2-49s2-18 5-32s8-35 15-50s16-28 26-41M2827 633c12-9 17-11 29-16s27-10 40-13s21-3 36-4s39-2 54-2M2742 775c4-12 8-23 13-33s8-17 16-29s22-29 33-42s24-24 36-33M2737 959c1-15 2-28 1-45s-2-45-3-60s-1-18 0-32s3-40 7-55M2733 959c0-13 0-23 0-38s0-35 1-53s1-35 5-52s8-39 13-53s11-24 15-33s6-9 12-17M2741 959c0-18 0-37 0-54s-1-32-1-46s0-20 2-33s3-33 7-49s11-35 17-48s14-18 21-27M2865 635c9-6 18-9 30-12s27-4 41-6s31-2 47-2s33 3 46 6s25 8 36 12s16 4 29 13M2746 959c0-16-1-30-1-47s-1-40-1-55s0-22 1-32M2768 752c6-12 18-31 25-42s12-15 21-25s23-23 33-31s18-12 28-17M2908 632c12-5 21-5 34-6s31-5 45-4s30 2 44 5s26 8 37 13s20 9 29 16M2766 789c4-13 8-24 14-34s13-19 20-28s16-18 25-27s18-18 28-26s15-16 27-22M2759 959c0-15 0-31 0-44s0-23 1-39s3-41 4-54s3-17 6-28s8-29 14-41M2898 639c17-4 49-7 65-9s21-1 33 0s27 4 38 7s15 4 25 9s25 10 36 17M2945 635c16-2 32-2 46-2s21 1 34 4s30 10 41 14s20 8 27 13s10 7 17 14s17 16 26 29"/>
<path stroke="#25cea7" d="M2722 569c8-14 8-19 14-33M2678 646c7-11 15-21 22-32M2679 653c7-11 19-30 27-42M2731 637c6-12 18-35 24-49M2714 674c8-14 19-32 25-45M2765 642c11-16 28-39 36-52M2694 958c0-19 0-38 0-56s-1-35 0-51s3-33 5-47s5-25 9-40s12-38 18-50s8-16 15-27M2779 648c11-17 24-35 32-50M2837 613c7-12 10-18 17-33M3105 543c17 10 52 35 67 47s10 9 19 21s25 34 35 55s21 52 28 72M2942 529c18-2 24-5 43-4s47 0 70 5M3149 571c14 14 46 50 59 67s11 17 17 34M3251 738c5 16 7 29 10 46s4 34 5 54s-1 48-2 67M3223 684c7 17 12 36 17 51s6 25 9 42s6 40 8 58s2 35 2 48s1 12 0 27s-6 43-9 64M2990 528c19 1 43 5 60 9s26 6 43 16s46 28 62 42s23 24 34 40M2703 653c11-15 20-22 32-33s23-22 40-32s42-22 62-29M3101 565c16 9 52 33 67 46s15 16 23 28s18 27 26 45s16 48 21 65M2784 580c20-11 45-18 65-24s40-6 56-8s27-2 41-3M3176 636c13 16 25 36 34 53s15 31 20 49s12 44 15 59s3 16 4 31s2 43 2 59M2689 709c8-15 21-34 32-49s27-30 38-41s13-15 27-24s40-22 60-30M2669 811c2-19 5-37 9-53s6-28 13-43s18-34 28-48s21-26 34-39s30-26 43-35M2797 604c12-8 31-19 49-26s43-12 61-16s37-3 49-4s13-3 25-2M2732 679c10-14 17-25 32-39s40-34 56-44s26-12 38-16s18-5 33-7M2965 577c15-1 22-3 36-2s29 3 44 6s33 11 48 17s25 12 39 23s31 33 41 47M2692 958c0-15 0-27 1-44s0-43 1-60s2-29 4-41s3-20 7-36s15-45 21-60s7-15 18-28M2770 658c12-12 27-25 39-34s17-13 33-20s46-15 64-19s27-3 40-4M2780 649c12-11 19-18 32-26s27-16 43-22s38-10 54-13M2767 683c10-14 18-23 28-33s19-20 31-28s34-19 44-24s8-5 22-7M2854 607c15-4 47-12 63-15s17-2 33-3s45-3 63-2s29 6 42 9s21 6 33 13M2849 609c16-6 45-14 60-17s21-2 35-3s33-3 51-2s38 6 53 10M2777 667c11-10 34-32 48-43s27-16 41-21s30-8 43-10s20-2 32-3M2765 691c10-13 22-26 34-37s26-21 35-27s8-7 20-11s31-11 49-15M2986 598c14 0 22 1 34 4s23 4 39 10s41 20 54 28s15 11 24 21s20 23 28 35s13 23 20 39M2840 638c13-10 24-17 38-22s29-8 43-11s29-4 43-4M2742 767c3-16 9-27 14-37s4-9 14-19s33-33 43-43s12-9 21-15s23-16 36-22M2779 713c7-8 16-20 26-31s23-24 37-34s30-20 42-25s20-6 30-8M2787 702c7-9 12-16 22-26s28-24 40-32s21-12 30-16s17-5 28-7M3094 646c12 9 36 31 45 40s5 4 11 15s21 38 27 53s8 21 11 37M2745 825c1-11 2-18 5-31s8-30 13-42s8-18 16-29s22-27 33-38M2875 637c11-5 24-8 35-10s19-3 32-4s33-3 46-3s18 0 32 3s36 10 48 14s14 4 25 11M3097 656c10 7 21 20 28 28s9 11 14 20s13 23 19 38s13 37 17 53s4 33 6 45M2880 652c12-6 32-13 46-16s22-4 34-6s23-4 36-4M2784 753c5-12 13-23 19-32s9-12 16-20s15-19 25-28s23-20 33-26M3095 663c11 7 20 17 29 27s17 22 23 31s8 14 12 24s11 28 15 41M3136 707c8 12 18 32 24 45s7 14 11 29s7 45 8 58s1 6 1 19M3221 1048c-11 15-21 29-34 45"/>
<path stroke="#26d097" d="M2700 614c6-10 12-17 19-29M2706 611c8-12 13-19 19-31M2727 581c5-11 8-21 14-36M2721 621c7-13 18-33 24-48M2723 626c6-13 16-32 22-45M2739 629c7-13 10-17 15-31M2741 687c7-12 17-27 28-43M2702 958c-1-16-1-31-1-48s0-38 0-56s3-34 5-49s5-27 9-40s9-31 14-43s10-19 18-32s23-35 32-48M2835 622c6-12 19-37 25-50M3254 738c6 20 8 33 11 47s4 22 5 37s3 31 3 51s-3 47-6 68s-7 40-11 56s-11 29-16 43M3225 672c7 17 17 50 22 67s4 19 7 34s6 40 8 56s4 24 4 44s-2 57-3 75s0 15-5 33s-19 57-29 75s-17 22-26 34M3264 905c-2 18-4 29-7 45s-8 33-11 49M3189 635c11 15 22 33 30 51s18 44 23 60s6 21 9 34s5 24 7 43s4 49 3 69s-3 36-6 52M2837 559c21-7 43-10 60-12s25-3 42-4s43-4 58-5s17 0 32 3s40 7 60 16s45 22 60 33s21 16 32 30M3238 749c5 17 5 20 7 36s6 38 7 60s1 52 0 70s-3 25-5 38M2946 545c13-1 25-4 41-4s32 0 51 3s40 10 58 17s32 15 46 27s30 28 41 43s20 31 28 49M3251 887c-1 16-1 23-3 37s-5 31-9 47s-8 34-15 50s-15 29-27 44s-30 31-46 46M2846 565c19-7 41-10 56-13s22-2 36-3s28-3 45-3s35 0 56 6M2796 593c12-8 17-10 31-16s37-12 55-16s34-3 53-5M2981 556c13 0 32 0 49 3s35 9 52 17s40 21 55 32s24 24 33 35s14 17 22 33M2891 573c16-2 39-4 59-5s42-2 62 0s41 10 54 13s7 1 20 9s41 22 56 35M3173 668c11 14 15 23 22 39s13 38 17 52s5 16 7 31s4 42 5 58s1 19 0 35M2744 689c11-14 35-42 47-54s9-10 22-18s40-22 57-28s30-7 45-10M2946 581c14-1 28-4 43-4s31 1 46 4s35 10 49 15s20 7 33 17s37 33 48 46M2909 588c16-3 22-3 39-4s45-3 62-2s28 4 43 8s32 11 44 16s19 9 31 19M2892 591c13-3 45-7 60-9s20-3 33-3s31 1 48 5s36 11 52 19s34 20 46 31M3088 609c13 6 31 17 43 26s16 15 25 28s22 33 28 46s7 12 11 27s13 47 16 62M3048 597c16 4 30 11 41 16s12 5 22 11s22 16 34 30s28 38 36 52s9 15 13 29M2941 590c12-1 24-3 40-2s41 3 55 6s17 4 29 9s28 12 40 19s22 14 34 27M2903 601c18-3 41-4 58-5s30-1 44 0s27 4 37 7s15 3 28 9s35 15 49 25M3185 735c6 15 14 40 18 56s4 30 6 43s1 21 2 32s1 19-1 36s-6 50-10 69M2964 601c14-1 31-1 43 0s15 1 26 4s30 10 42 16s23 11 34 19s20 18 30 31s24 34 31 48M2870 631c13-7 31-12 43-16s22-5 34-7s21-5 37-5M2914 615c11-2 18-3 34-5s44-3 61-2s31 6 44 9s22 8 32 13s18 9 27 17M2907 621c12-3 24-5 41-6s48-2 64-2s22 3 34 7s29 9 39 14s15 5 24 14M3188 791c3 15 6 39 7 54s2 21 1 34s0 28-2 42s-4 30-8 45s-10 33-16 45s-14 17-20 25M2812 685c11-11 23-21 33-29s18-12 26-16s10-7 24-10s47-7 61-8s15-2 26-2M3093 648c10 7 26 19 37 31s22 30 28 39s5 10 9 20s10 22 14 38M3181 840c1 11 1 12 2 24s2 28 1 44s-3 33-5 50M2996 626c13 1 30 2 43 5s21 6 31 10s21 8 31 17s25 26 33 36s9 12 15 25M2877 647c10-6 16-7 26-10s18-4 32-5s34-3 48-3s26 1 38 3s26 7 36 10s17 6 27 11M3174 786c3 14 5 27 7 41s2 29 2 45s0 33-1 49s-5 32-8 45s-8 22-11 33M3180 858c0 14 0 45-1 61s-3 22-6 34s-5 26-9 36s-7 16-13 25s-14 18-25 28s-28 24-41 33s-26 17-39 25M3217 1044c-12 17-25 35-36 50s-22 29-31 40s-17 16-26 29s-25 41-30 52M3187 1093c-12 16-32 38-43 49s-13 9-24 16s-28 18-39 28s-20 23-25 35M3207 1036c-12 16-27 37-36 50s-10 16-22 29M3210 1038c-13 14-28 31-39 43s-16 18-29 30M3176 1010c-7 11-11 20-22 34s-28 38-39 48"/>
<path stroke="#27d186" d="M2801 590c8-12 5-11 10-24M2769 644c10-15 25-34 33-49M2779 642c9-12 14-16 21-28M2811 598c9-16 12-31 17-44M3255 944c-2 16-5 27-9 43s-13 34-20 51M3181 620c11 15 28 41 36 56s9 18 14 36s13 49 17 68M3211 680c8 17 15 38 20 53s6 25 10 41s7 40 9 56s3 25 4 42s0 39-2 58s-6 39-10 55M3039 552c21 5 52 19 68 26s15 7 26 17s32 29 44 44s20 27 29 46s18 45 24 63M2935 556c19-1 42-3 60-3s32 3 48 7s35 11 50 18s28 14 40 22s20 16 30 27s21 24 30 39M3192 676c7 16 19 44 26 62s9 36 12 50s3 19 4 34s3 38 4 55s-1 31-2 46M3142 625c15 12 25 26 35 39s15 23 22 38s13 29 18 47s10 46 13 60M3224 883c-1 16-2 43-5 61s-6 33-10 49M2915 579c16-2 30-4 47-4s39-1 54 1s28 5 40 9s23 8 37 16s36 24 48 34M3165 659c11 12 12 16 19 29s15 34 20 49s8 26 11 42s5 34 6 51M3128 625c11 11 28 28 39 44s19 31 26 48s12 36 16 50s4 19 5 31s3 24 4 40M3131 634c12 10 19 20 26 31s13 17 19 31s15 34 20 50s9 29 12 44s4 31 6 47M3211 798c3 16 2 19 3 32s2 33 2 49s0 30-3 49s-8 48-11 63s-2 13-9 25s-24 36-34 48s-11 13-23 22s-32 24-48 36M3194 735c5 14 12 39 16 54s4 27 5 40s2 23 2 39s-1 37-3 54s-5 31-8 46M3139 649c11 13 29 38 37 50s7 12 12 25s13 36 17 52s6 27 8 44s3 46 3 60M3119 637c14 11 26 24 36 37s18 29 24 39s4 5 9 20s15 50 19 66s2 16 3 28M3200 971c-4 18-10 31-14 41s-5 11-13 20s-18 21-30 32s-28 22-42 33M3170 719c7 14 9 20 14 34s10 37 13 53s4 27 5 41s3 30 3 47s-3 40-5 54M2984 603c16 0 46 4 59 6s8 1 20 8s39 22 52 32s18 21 26 32s16 24 21 34s8 13 12 24M3112 647c10 8 20 18 30 32s21 33 27 47s11 25 14 37s5 19 8 32s4 29 5 47M3109 648c10 8 26 24 34 34s12 15 19 29s16 38 21 55s7 36 9 49s2 19 2 30M2982 620c10 0 25 0 38 2s24 4 38 9s31 12 42 18s15 10 23 19s20 21 29 34M3181 776c4 16 7 41 9 57s1 26 2 39s-1 28-2 41s-2 23-5 38s-10 34-14 51M3149 719c6 14 16 39 20 56s6 32 8 46s1 28 2 39s1 13 1 25s0 34-2 50M3084 653c9 6 21 13 31 22s21 24 28 35s9 14 15 26s12 30 16 45M3094 1215c-5 11 1 5-2 13s-8 24-13 37s-9 24-16 42s-22 48-28 63s-5 13-9 26M3056 1221c-5 12-1 21-4 37s-7 40-11 55s-5 20-7 36s-5 44-7 62s-3 29-5 47M3149 1115c-13 13-39 34-52 46s-16 14-23 23s-17 16-22 29s-6 35-8 52M3214 1041c-7 13-10 22-21 37s-30 40-43 52s-21 12-34 20s-33 20-45 28M3142 1111c-14 11-40 29-52 40s-13 9-23 20s-31 29-39 45s-9 38-12 51M3196 1026c-7 11-10 16-21 32s-33 48-45 63s-16 15-25 25s-20 22-29 32s-15 15-22 28M3205 1034c-13 14-27 31-40 43s-25 20-38 27s-24 11-40 19s-38 20-52 31M3115 1092c-11 11-10 7-25 15s-46 19-67 34s-46 41-58 59s-11 36-14 50"/>
<path stroke="#29d176" d="M2755 588c5-14 6-21 10-34M3248 780c3 20 3 34 4 50s1 33 1 47s-1 20-2 33s-3 28-7 46s-5 39-13 60s-26 47-36 62s-14 18-25 28s-26 24-39 36M3242 985c-4 17-11 30-16 45M3230 748c5 17 7 30 10 42s3 15 4 30s3 46 3 63s1 20-2 37s-7 41-10 62M3193 666c9 14 18 33 24 48s9 25 13 40s8 34 10 52s3 44 4 61s0 25-2 41M3236 923c-2 16-3 30-7 46s-10 35-14 53M3230 809c2 15 2 13 2 27s2 39 1 58s-5 43-7 58s-4 21-8 33s-5 25-14 40s-26 34-39 51M3141 635c12 10 17 18 24 28s13 17 20 33s19 43 25 63s8 36 10 52M3221 830c1 17 1 36 1 50s0 18-1 32s-5 37-8 54s-6 32-13 47s-21 35-29 46s-9 11-19 21s-27 25-40 35s-26 17-38 26M3218 838c1 16 3 36 2 56s-4 47-7 64s-2 21-7 35s-13 34-21 47s-13 18-25 30s-33 30-46 40s-21 14-32 20M3214 837c1 15 2 32 2 45s1 20-1 36s-4 43-8 60s-6 29-13 43s-18 26-27 39M3216 880c1 14 2 10 0 25s-6 49-10 67s-8 29-13 41s-12 20-18 30M3210 827c1 12 3 25 2 43s-1 46-4 64s-6 33-9 46s-5 21-12 33s-21 30-30 41s-16 16-26 25s-25 18-37 27M3200 948c-2 15-2 18-6 30s-12 30-18 45M3174 739c5 12 12 28 17 43s8 35 10 53s3 39 3 51s1 13-1 26s-6 38-10 53s-10 26-14 39M3196 842c1 18 2 45 1 62s-1 25-4 40s-6 37-10 50s-9 23-17 34s-18 20-27 31M3194 845c1 11 2 21 1 39s-3 53-5 68s-1 13-5 25s-11 30-17 45M3152 702c8 14 17 32 22 46s9 23 11 36s5 32 6 44s2 14 2 29s0 40-2 57M3178 935c-1 17-5 33-8 49M3174 781c3 15 5 33 7 47s1 26 1 40s1 31 0 46s-3 28-6 40s-4 23-7 34s-10 20-15 30M3026 1396c-3 13-9 35-11 53s-3 39-2 56s2 27 4 43M3022 1458c-3 18-9 46-11 61s-3 14-4 30M3044 1265c-2 17-3 37-5 52s-3 26-6 42s-7 34-11 52s-11 41-15 56s-5 19-7 34M3071 1178c-11 9-18 13-24 24s-10 28-14 43s-4 30-7 47s-8 34-12 55M3016 1267c-2 14-3 16-5 32s-3 47-4 62s0 13-1 28s-4 45-7 64M3054 1206c-7 12-14 28-21 46s-15 44-20 61s-8 28-12 42s-6 31-9 46M3035 1154c-14 12-27 19-34 37s-6 57-7 74s0 14 1 29s4 47 5 63s2 15 2 33M3178 1011c-13 16-28 37-38 49s-12 18-21 27s-16 14-30 27s-39 39-51 54s-16 20-20 33M2951 1250c-3 15-5 23-6 38s-3 35-3 52s3 33 4 50s3 32 4 49"/>
<path stroke="#2ad266" d="M2719 585c6-13 13-33 19-48M2725 580c7-13 12-29 19-45M2745 581c5-13 6-20 11-35M2754 598c5-15 12-42 17-56M2802 595c9-16 12-31 17-45M2800 614c6-12 13-28 19-43M2854 580c7-16 20-45 27-60M2860 572c6-13 6-17 13-29M3242 908c-2 16-5 38-8 55s-7 32-13 48s-16 33-26 47s-21 24-32 36s-24 21-36 31M3220 811c3 17 4 32 4 45s2 21 1 37s-3 37-5 54s-4 28-9 43s-13 36-22 50s-20 23-29 34M3191 914c-1 17-5 33-7 45s-4 19-8 28s-5 18-13 29s-26 30-36 40s-19 16-28 24M3017 1548c1 16 5 37 6 55M3242 1065c-14 16-27 33-42 47s-38 29-52 38s-22 9-32 14M3208 1037c-7 10-13 17-22 31s-20 35-32 49M3232 1057c-9 16-18 34-28 48s-17 25-30 37s-37 27-50 35s-18 10-29 17s-31 19-39 27M3007 1549c-1 16 0 49-1 66M3000 1501c-2 15-4 38-4 57M3014 1347c-4 21-10 53-12 71s-2 24-3 37s0 27 1 41s1 26 2 47M2999 1453c-2 20-6 35-9 52s-4 40-5 54M2992 1401c-2 14-4 25-7 41s-6 38-9 56s-5 36-7 55M3002 1390c0 18-2 57-3 75s-2 20-3 35s-5 40-7 56M3018 1201c-5 12-4 23-7 42s-6 51-9 71s-4 35-6 51s-4 31-6 47M3169 1003c-11 9-20 18-32 28s-31 21-42 28s-12 3-26 13s-45 31-61 49M3190 1021c-13 10-24 22-39 31s-33 14-51 21M2950 1439c1 18 2 35 3 55s1 48 2 64"/>
<path stroke="#32d358" d="M2745 573c6-14 8-28 13-40M2828 554c4-12 6-16 11-29M3023 1603c1 17 2 32 1 51M3116 1164c-11 4-22 7-34 15s-31 21-39 32s-7 17-9 34s-5 52-6 69M3154 1117c-11 14-25 22-37 35s-29 31-36 43s-3 20-3 29s3 10 2 23M3056 1221c-8 7-6 8-10 19s-7 30-12 51s-10 54-14 74s-5 31-7 45s-3 20-5 37M3006 1615c0 17 0 21-1 36M2996 1558c0 19 2 38 3 56M3002 1543c0 20 0 56 0 74M3208 1036c-7 14-10 26-19 40s-23 32-36 44s-29 19-42 30s-26 23-36 34M2985 1559c-1 14-1 13 0 31M2969 1553c-2 20-5 48-6 62M2989 1556c-2 16-4 26-7 42M2990 1412c-3 16-6 34-8 47s-3 16-6 32s-7 44-10 62M3008 1121c-15 17-28 34-33 54s0 46 2 68s10 48 12 65s2 23 1 41M3100 1073c-17 8-37 14-53 23s-31 17-45 30s-33 27-41 46s-10 46-8 70M2955 1558c1 17 1 15 2 33M3159 995c-17 13-40 30-52 38s-10 6-19 13s-25 17-37 29s-27 26-39 41"/>
<path stroke="#42d44c" d="M2736 536c6-14 16-39 22-53M2811 566c6-14 17-44 23-59M3024 1654c-2 19-6 43-9 62M3028 1314c-1 17 0 14-1 32s0 54 0 71s0 19 0 32s0 30 1 47M3080 1247c-1 13-5 37-8 54s-8 33-11 48s-6 29-9 45s-8 37-13 54s-12 32-18 48M3008 1447c-2 16-5 46-7 62s-1 16 0 34M3005 1651c-2 15-6 35-9 53M2999 1614c1 18 1 33 0 50M3002 1617c-1 18-2 20-4 35M3075 1184c-11 11-19 21-26 33s-12 25-18 38s-12 28-17 42s-9 27-12 44s-4 43-6 60M2985 1590c0 18 1 60 1 78M2963 1615c-1 15-1 12-1 28M2982 1598c-3 15-8 35-12 52M2966 1553c-3 18-5 33-7 48M2990 1349c0 18-2 48-3 66s-5 30-6 43s-4 18-6 32s-5 31-9 50M2953 1242c2 23 16 52 21 71s6 30 7 43s1 21 1 36s-1 39-1 59M2957 1591c0 18 1 57 1 74M3012 1116c-13 15-28 29-36 51s-7 57-7 76s4 23 7 43s8 55 9 75"/>
<path stroke="#51d541" d="M2741 545c6-14 15-37 22-52M2765 554c4-13 8-26 14-42M2819 571c6-15 9-29 17-47M3028 1496c1 17 2 37 3 55s2 38 2 56M3021 1496c-6 16-12 27-16 48M3001 1543c1 18 6 58 7 76M2999 1664c-1 17-4 39-6 54M2998 1652c-2 16-5 40-8 57M2996 1401c-2 18-3 28-5 45s-7 36-8 56s0 49 2 65M2986 1668c0 17 0 14-1 27M2962 1643c0 16 1 48 2 68M2970 1650c-4 16-8 32-11 47M2959 1601c-2 15-4 24-6 42M2966 1540c-3 19-8 45-12 64M2981 1451c-1 19-2 43-4 58s-4 21-8 34s-9 24-14 43M2958 1665c0 16 1 10-1 25M2985 1361c1 20 0 30-2 43s-3 17-8 35s-19 58-23 74s-3 9-5 23"/>
<path stroke="#61d536" d="M2819 550c5-13 8-22 14-36M3015 1716c-4 19-9 39-13 53M3033 1607c0 17-1 30-3 48M3005 1544c-4 20-7 55-9 75M3008 1619c2 18 3 15 3 31M2996 1704c-3 17-6 34-8 51M2985 1567c1 16 3 17 5 32M2985 1695c-1 13-4 33-7 49M2953 1643c-2 18-4 47-5 65M2954 1604c-4 20-9 38-12 52M2957 1690c-2 16-7 51-10 68M2947 1536c-2 14-5 42-8 62"/>
<path stroke="#72d530" d="M2873 543c6-13 18-33 26-48M2996 1619c-3 19-4 30-5 42M3011 1650c0 16-1 44-2 63M2993 1718c-2 16-4 23-7 36M2990 1709c-2 17-3 29-6 46M2990 1599c3 16 7 42 8 61M2964 1711c1 20 3 35 3 52M2959 1697c-3 15-4 26-7 44M2942 1656c-4 15-5 21-8 37M2955 1586c-5 20-14 53-18 74M2939 1598c-3 21-8 44-11 61"/>
<path stroke="#85d430" d="M2738 537c7-15 12-28 18-42M2758 533c4-12 7-20 12-33M2756 546c6-16 17-43 23-57M2771 542c4-14 5-15 9-28M2839 525c6-13 15-34 22-50M2881 520c8-14 9-14 15-26M3002 1769c-4 13-4 13-9 28M3030 1655c-3 19-10 44-14 61M2991 1661c-2 13-3 16-5 31M2988 1755c-3 18-5 36-8 53M2986 1754c-3 13-6 27-10 44M2998 1660c0 19-3 36-6 53M2978 1744c-3 17-7 33-10 51M2948 1708c-1 18 0 30-1 44M2937 1660c-4 21-4 34-6 50M2947 1758c-3 16-4 17-8 32"/>
<path stroke="#98d32f" d="M2744 535c7-16 16-37 22-50M2834 507c6-15 8-18 14-32M3016 1716c-5 17-7 27-13 43M2986 1692c-2 14-4 38-5 57M3009 1713c-1 18-4 34-6 48M2984 1755c-3 17-7 38-11 54M2967 1763c1 17 0 34-1 49M2952 1741c-2 18-5 45-7 63M2947 1752c0 14 0 24 0 40M2934 1693c-3 17-8 44-10 63M2928 1659c-3 17-6 28-8 44"/>
<path stroke="#aad32f" d="M2993 1797c-5 14-15 39-22 59M3003 1761c-3 14-4 19-9 35M2980 1808c-4 17-8 32-12 48M2976 1798c-4 16-9 37-14 56M2992 1713c-2 16-6 32-9 48M2968 1795c-4 18-9 39-13 58M2931 1710c-3 16-6 31-7 47M2939 1790c-4 15-11 38-17 57M2920 1703c-2 15-4 31-4 48"/>
<path stroke="#b8d02e" d="M2758 483c6-14 10-22 15-33M2833 514c5-13 13-30 20-45M3003 1759c-5 16-13 38-18 54M2981 1749c-1 18-1 37-2 55M2973 1809c-4 17-9 30-14 45M2966 1812c-1 15-4 28-6 42M2945 1804c-2 18-3 31-5 47M2924 1756c-2 19-2 34-3 50"/>
<path stroke="#c3cd2d" d="M2763 493c6-15 11-27 17-40M2836 524c7-19 19-47 26-63M2994 1796c-4 16-13 40-19 61M2983 1761c-4 16-7 34-11 50M2947 1792c-1 17-3 39-5 59M2924 1757c-2 15-2 30-2 45M2916 1751c0 16 2 36 3 52"/>
<path stroke="#cecb2c" d="M2779 512c5-15 13-34 19-51M2896 494c7-12 17-29 25-43M2899 495c9-15 17-28 25-43M2985 1813c-6 16-11 29-16 43M2979 1804c-1 18-4 35-6 52M2921 1806c0 15 0 27-1 41"/>
<path stroke="#d9c82b" d="M2770 500c5-13 12-29 17-44M2780 514c5-14 13-35 20-53M2861 475c6-16 12-32 19-47M2972 1811c-3 15-7 29-10 43M2922 1802c0 15 1 31 2 46M2919 1803c1 16 1 29 2 44"/>
<path stroke="#dcbc2a" d="M2756 495c7-15 13-29 20-44M2848 475c6-14 15-34 22-51"/>
<path stroke="#ddac28" d="M2766 485c6-14 9-22 13-32M2779 489c5-15 8-21 12-31"/>
<path stroke="#de9d27" d="M2853 469c6-15 13-30 19-45"/>
<path stroke="#df8e25" d="M2862 461c7-16 10-23 15-35"/>
</g>
<clipPath id="cp3r"><rect x="3316.5" y="424.5" width="686.5" height="733.5"/></clipPath>
<g class="sl" clip-path="url(#cp3r)" stroke-width="1.75">
<path stroke="#173587" stroke-width="1.62" d="M3700 730c5 12 10 25 16 37s10 25 15 37s9 26 13 39s5 26 8 39s5 26 8 39s6 35 11 39s14-4 19-13s7-26 10-39s6-26 9-39s5-26 7-40s5-26 7-39s5-27 7-40M3830 780c5 12 10 24 15 36s10 23 15 35s9 25 12 37s6 25 8 38s4 25 7 38s5 27 9 37s12 28 16 26s8-25 12-37s5-25 8-38s6-25 8-38s5-25 7-38s4-25 6-38s5-25 7-38"/>
<path stroke="#18408b" stroke-width="1.67" d="M3198 656c23-11 49-24 70-34s37-20 51-27s12-8 32-17s64-32 86-42s35-13 50-18s27-8 45-11s38-8 63-9s67 1 90 2s29 3 47 7s39 8 61 14s46 16 68 26s44 23 61 32s26 14 43 23s39 22 59 32s40 18 60 27"/>
<path stroke="#184d8c" stroke-width="1.71" d="M3957 920c13 15 29 37 40 53s18 29 28 46s21 36 32 54"/>
<path stroke="#195a8e" d="M3770 827c21 2 38 2 62 12s65 32 86 45s26 21 39 36"/>
<path stroke="#18688c" d="M3266 971c12-9 17-12 35-27M3948 1009c12 18 25 48 35 66s16 31 23 46M3840 936c14 13 29 29 43 44s29 35 41 50s21 26 34 41s32 34 47 51M3187 977c20-9 43-20 60-28s24-10 40-17s32-13 54-21s55-21 77-28s36-13 56-18s41-11 63-16s49-7 68-10s35-5 52-7s29-4 48-5s44-2 65 0M4018 1022c16 16 31 29 47 44"/>
<path stroke="#187689" d="M3971 913c13 17 22 20 33 31M3301 944c18-15 57-50 72-63M3646 761c16 2 48 9 65 11s25-1 38-1M3259 959c17-9 33-17 51-28s39-26 55-37s23-19 38-30s32-24 51-35s46-21 63-29s27-11 40-17M3694 760c12 2 23 3 39 7s44 9 60 14s21 9 34 18s37 28 49 38s12 12 24 22s31 25 49 38s39 27 59 41M3899 885c20 14 30 26 43 40s23 27 36 43s29 38 42 55s27 31 40 47M3763 901c17 3 40 7 58 13s35 14 51 23s28 18 41 30s23 24 35 42M3639 866c22 1 53 4 75 7s40 10 54 15s19 8 31 16s27 19 41 32M3828 842c17 10 51 32 70 47s32 32 45 45s16 20 28 35s32 37 47 53"/>
<path stroke="#188485" d="M3137 733c22-9 44-19 66-26s44-13 64-19M3499 579c21-8 38-13 61-17s57-9 78-11s26-3 49-3s60-2 93 2s78 18 100 25s15 6 32 16M4101 704c16 7 36 17 53 25M3145 748c18-7 33-11 53-22s44-30 65-41s43-16 63-24M4097 706c16 9 36 18 55 27M3275 742c22-15 54-33 71-43s15-7 32-13M4064 745c18 10 38 21 57 31M3257 956c13-13 24-26 37-39s25-27 43-41M3504 783c20-4 53-6 69-9s17-5 29-9s26-9 39-11s27-2 43-3M3921 844c15 18 36 53 50 69M3373 881c16-14 11-7 24-18s39-37 55-50M3562 771c22-5 42-8 56-9s13-2 28-1M3749 771c13-1 25-4 39-1s32 10 50 18s38 18 54 28M3934 846c12 11 18 23 29 39s27 39 41 58M3557 783c13-5 21-11 38-16s47-10 63-11s23 2 36 4M3591 820c20-3 46-6 68-7s44 0 64 1s35 4 53 9s30 6 50 16s54 31 73 46M3227 1048c23-11 48-23 67-34s35-25 48-35s14-12 28-24s39-34 58-46s41-23 56-30s19-7 37-8s55 1 75 3s26 3 47 7s60 10 80 14s24 2 40 6M3227 1049c23-13 47-26 67-38s41-26 56-35s20-14 34-23s30-21 49-32s45-24 64-32s36-12 49-15s16-4 31-5s39-4 62-3M3513 841c16-4 42-9 63-12s37-6 61-8s53-5 80-4s63 10 81 14s13 2 30 11"/>
<path stroke="#18867a" d="M3267 688c20-6 37-11 55-19s38-17 57-27s34-21 54-32s45-23 66-31M3912 591c17 11 46 32 70 47s56 34 76 45s27 13 43 21M3326 661c20-8 44-18 58-25s11-7 28-14s45-17 69-24s50-10 74-15s45-13 71-15M3829 585c27 7 79 29 102 39s17 7 38 16s67 27 88 38s24 19 40 28M3160 776c17-10 34-21 50-28s26-10 47-18M3180 813c12-8 19-14 35-25s39-32 60-46M3378 686c16-5 43-14 68-20s56-15 78-20s29-7 52-9M3833 654c18 3 30 6 47 11s37 11 59 20s54 24 75 34s33 17 50 26M3185 823c16-7 27-13 46-22M3202 854c21-11 45-23 62-33s24-15 38-23s27-16 44-26s35-19 56-32s47-29 70-41s47-21 66-29M3827 665c22 9 49 25 67 36s28 18 44 30s42 30 55 40s9 8 23 19s40 34 60 50M3337 876c17-14 44-29 63-41s33-25 50-33s33-14 54-19M3684 751c16-2 35-5 55-6s47-5 65 0s31 21 43 31s21 18 33 29s26 21 41 39M3452 813c15-13 21-19 39-26s50-12 71-16M3892 816c16 9 30 18 42 30M3261 964c13-9 22-13 38-26M3195 990c24-11 51-23 71-33s33-17 50-26s35-19 52-28s35-20 53-29s37-19 57-27s41-14 60-18s32-7 53-9M3190 983c13-8 19-12 39-23s61-32 82-42s25-12 42-19s38-17 59-25s48-17 65-23s19-7 36-10"/>
<path stroke="#19896f" d="M3626 568c26-2 61 2 84 4s36 5 56 7s35-2 63 6M3257 730c22-9 60-26 81-35s29-12 45-18s31-9 51-14M3762 602c23 1 63 2 86 6s32 5 54 17s57 37 78 51s31 23 48 36s39 28 54 40s23 21 34 31M3576 637c22-2 60-2 81-1s28 2 47 4s46 5 68 7s43 4 61 7M3231 801c19-9 49-23 68-32s33-16 49-24s28-13 47-20s48-18 66-25s25-11 45-18s52-21 74-28s43-9 62-11s32-4 52-4s49-1 73 1s52 9 71 15s27 10 43 19s34 19 55 32s50 35 67 49s26 22 40 34s29 24 44 36M3538 670c19-7 26-10 46-15s51-11 71-13s36-1 54 1s34 4 54 7s42 7 64 15M3228 903c17-9 34-16 50-25s24-14 42-28M4005 858c18 13 27 18 40 26M3246 936c24-11 54-22 70-31s14-13 30-25s44-37 62-49M3887 808c12 13 20 29 36 42s40 26 56 38s27 22 41 33M3246 936c17-12 34-22 52-34s37-28 54-40s34-25 51-35s32-20 50-29s41-21 57-28s22-11 37-16M3644 730c20 0 53 4 70 6s19 2 32 6s32 7 47 13s29 14 44 23s34 22 48 32s20 17 36 30s45 35 62 47s27 19 41 28M3254 950c18-14 40-30 54-41M3299 938c16-12 42-34 60-49s35-29 49-40M3599 764c17-2 36-1 50-1s17 1 35 2s54 3 71 5s19 3 30 7s23 8 39 15M3961 883c16 15 33 34 50 50"/>
<path stroke="#198b64" d="M3434 663c21-6 48-11 73-19s57-20 77-27s22-8 43-11s63-5 86-6s27 0 49 2M3172 798c24-8 50-17 71-25M3172 798c20-7 43-15 61-21s30-11 48-19s40-18 60-28s44-22 65-33M3513 640c16-7 26-13 46-19M3953 696c14 7 24 12 44 21s53 25 73 36s32 19 48 28M3181 814c21-14 47-30 64-42s28-21 40-30s14-12 32-20s53-21 78-28M3904 656c22 9 37 21 55 33s32 24 50 38s42 32 58 44s24 21 36 32M3320 850c18-13 49-39 66-52s25-18 39-27s26-17 46-29s53-32 73-42s33-13 50-17M3769 695c16 4 20 6 32 12s28 18 43 29s30 23 46 34s30 22 50 36s48 39 65 52M3231 908c18-7 36-10 55-21M3236 917c17-11 32-21 50-32s38-25 55-36s32-21 46-32s26-19 40-30M3839 748c16 12 42 33 58 45s19 15 36 28s48 36 66 48s25 18 38 28M3977 850c14 15 36 36 55 54M3239 922c15-10 28-17 44-30s38-31 56-46M3981 856c14 13 34 32 51 47M3408 831c18-12 32-15 46-24s26-19 39-29s24-24 43-33s51-14 71-19M3757 727c13 5 18 8 34 16s45 19 61 30s23 22 35 35M3547 754c14-6 33-13 49-17s29-7 48-7M3308 909c14-11 16-12 32-26s43-40 61-55M3606 748c12-1 16-1 31 0s44 2 61 4s21 2 36 5s36 9 51 14s25 11 38 17s24 9 44 18s61 24 81 34M3408 849c14-10 21-15 36-24s36-19 53-28s37-16 54-22s32-9 48-11M3824 792c15 7 39 18 54 26s23 13 37 24s30 26 46 41"/>
<path stroke="#1a8b5a" d="M3243 773c21-8 39-16 53-22s20-9 36-16s35-17 57-27s55-25 79-35s43-21 61-29s25-12 45-18s52-15 74-19s40-4 60-4s34 0 58 4s67 13 88 19s19 5 39 16s58 33 76 45s22 17 37 30s37 34 53 49s30 24 44 36M3406 697c21-11 42-22 60-32s32-18 47-25M3559 621c19-5 44-12 71-13s69 5 90 8s20 4 37 8s38 8 63 16s69 27 91 37s28 13 42 19M3395 694c25-8 51-11 74-17s40-13 61-19s42-12 61-16s36-4 57-6s56 0 74 0s13-1 31-1s53-3 78 1s52 11 73 20M3189 829c21-8 43-15 63-23s36-20 56-28s45-12 65-18s37-12 55-19s36-20 55-27s41-14 57-19s22-7 39-14M3821 654c15 4 38 13 56 23s27 17 48 32s59 41 75 56s13 19 25 32s32 32 48 48M3224 894c17-7 33-12 52-22s39-23 59-35s43-26 60-36s29-17 42-25s20-13 37-24M3912 749c13 11 21 16 36 32s42 48 58 65s26 26 39 39M3594 683c18-3 34-5 53-5s41 2 62 5s45 8 60 12M3286 887c19-10 43-30 59-42s28-21 41-30s23-11 41-23s50-35 68-48s23-19 38-26M3771 707c20 6 22 13 37 22s42 24 55 32s16 8 27 16s24 22 38 34s26 28 46 41s47 22 70 34M3427 787c14-10 26-20 43-31s43-27 61-36s32-13 50-17s41-8 62-9s44 0 63 2s36 5 52 9s31 10 44 18s22 13 37 25M3227 900c23-10 52-25 68-32s15-1 33-10s57-36 75-47s19-10 34-18s33-19 52-31s46-31 64-39s27-7 41-10s22-9 41-10s50 2 72 5s48 12 63 16s15 1 26 6s27 15 43 24s34 16 54 27s52 29 69 40s18 15 32 25s37 22 55 33M3226 898c17-11 37-23 53-32s25-14 45-24s50-26 72-36s46-20 60-26s6-2 22-8s54-18 76-25s40-14 54-19s15-6 29-9s40-7 57-9s27-2 46 0s49 7 66 11s21 7 36 14s37 20 54 33s34 31 48 45s18 22 33 37M3339 846c18-14 37-28 52-38s21-14 36-22s34-17 54-25s46-18 66-24s36-9 53-11s33-3 51-4s39 1 58 1s42 1 57 1s20 0 34 3s31 6 49 15s41 25 58 39s33 32 45 44s16 18 29 31M3607 726c20-5 33-8 50-11s39-5 55-3s32 10 45 15M3401 828c17-15 27-25 44-35s37-22 57-29s45-11 62-13s30-3 42-3M3948 840c21 10 28 16 42 27s28 24 42 36"/>
<path stroke="#1b8c4f" d="M3320 653c-13 10-20 14-29 21M3298 615c-12 9-23 15-34 23M3579 681c18-6 45-20 67-25s42-4 64-5s54 0 73 0s22-2 38 3M3474 752c17-11 46-32 63-42s18-12 39-18s63-16 84-20s24-4 42-4s46 1 63 4s27 5 44 13s42 23 59 33s30 21 44 31M3533 718c16-8 37-15 55-19s37-5 54-6s24-6 46-4s63 11 83 18"/>
<path stroke="#1c8c44" d="M3370 612c-13 13-37 31-50 41M3336 583c-10 10-26 23-38 32"/>
<path stroke="#2c8d33" d="M3317 647c-12 9-20 15-29 23"/>
<path stroke="#368e2b" d="M3398 573c-8 13-15 26-28 39M3356 554c-7 13-10 19-20 29"/>
<path stroke="#418e24" d="M3357 612c-13 13-29 25-40 35"/>
<path stroke="#4c8e20" d="M3419 534c-7 15-13 26-21 39M3381 509c-7 15-17 33-25 45"/>
<path stroke="#598e20" d="M3391 568c-9 14-22 31-34 44"/>
<path stroke="#718c1f" d="M3441 482c-7 15-15 37-22 52"/>
<path stroke="#7b8b1f" d="M3415 530c-6 12-14 25-24 38M3400 463c-7 15-11 31-19 46"/>
<path stroke="#89871d" d="M3462 444c-7 12-14 23-21 38M3431 496c-5 12-9 22-16 34M3422 420c-6 12-15 28-22 43"/>
<path stroke="#937d1c" d="M3480 415c-6 10-11 18-18 29M3437 392c-5 9-9 16-15 28"/>
<path stroke="#93731b" d="M3450 457c-7 15-13 27-19 39"/>
<path stroke="#955f19" d="M3472 410c-7 16-16 33-22 47"/>
<path stroke="#1e44ae" stroke-width="1.62" d="M3207 677c22-5 47-11 65-16s29-8 46-14s36-12 57-20s45-21 67-31s45-21 65-29s39-16 54-21s13-6 35-9s69-7 95-7s43 5 62 9s36 9 53 16s33 16 48 25s25 15 42 26s49 31 65 41s12 8 30 16s49 23 74 34M3640 710c5 12 10 24 15 36s10 24 14 36s10 24 14 36s6 25 9 38s6 27 11 37s14 26 20 24s11-23 15-35s7-25 10-38s5-25 8-38s5-25 7-38s5-25 7-38M3590 720c5 13 10 26 15 38s11 26 16 39s10 25 14 38s8 29 14 39s18 25 26 23s14-23 19-36s7-27 10-40s5-27 8-41s5-27 8-40"/>
<path stroke="#2075b8" d="M3862 926c14 13 27 25 41 41s31 40 43 58s22 31 34 46s22 29 33 43"/>
<path stroke="#2087b5" d="M3473 573c24-10 58-21 89-25M3145 749c19-10 40-21 58-30s28-12 47-21s51-26 67-35s17-10 32-19s38-20 61-30s52-19 76-27s47-12 70-17s42-10 70-12s75-2 102 0M3930 613c22 8 28 10 49 20s53 31 75 43s37 24 54 33s30 14 46 21M3261 962c20-13 44-26 62-40s28-26 45-39M3619 769c15-3 13 0 26 1s35 5 50 7s20-2 36 0s45 6 59 11s13 10 25 18s31 24 48 34s34 17 50 27s27 16 43 28s32 32 49 47M3582 869c21-3 57-6 80-7s37 1 55 2s35 5 52 9s33 12 49 21s30 20 44 32"/>
<path stroke="#1f99b1" d="M3373 633c19-12 24-15 41-25s34-25 59-35M3562 548c30-4 72 1 93 2M4089 689c19 7 49 19 73 29M3728 558c27 2 41 8 61 13s37 8 60 15s59 19 81 27M3212 745c16-15 37-37 50-50s10-13 30-23s65-29 89-37s33-7 56-12M3841 587c27 3 70 11 96 20s45 25 61 36s20 18 36 33M3251 944c23-14 51-31 68-43M3954 875c15 13 41 34 62 51M3368 883c16-12 36-27 52-36s31-13 48-20s37-15 51-21s15-9 32-16s52-17 68-21M3968 880c19 15 35 31 52 50s37 46 50 63s21 25 31 38M3217 1030c22-10 46-22 65-32s31-16 50-26s45-24 63-33s27-16 44-24s40-18 56-24s26-10 40-13s26-7 47-9"/>
<path stroke="#1eaaac" d="M3244 716c15-10 36-26 58-40s53-32 71-43M3655 550c22 1 17 1 35 4s46 6 74 13M4050 677c20 6 20 5 39 12M3150 758c21-12 45-26 62-34s26-10 41-15s34-9 53-17s41-21 62-31s38-22 61-30M3639 570c21-4 33-4 55-3s51 6 79 10s65 8 90 13s37 9 57 18s40 22 60 34s38 28 58 40s42 21 60 32s30 20 45 30M3164 784c16-13 31-25 48-39M3437 623c22-4 55-11 79-15M3772 589c25-1 41-5 69-2M4034 676c16 16 43 45 59 60s24 20 35 30M3149 757c17-7 30-11 50-19s53-23 72-31s24-10 43-17M3984 654c18 8 25 13 43 22s42 24 62 35s37 20 56 31M3164 783c13-7 25-10 41-19s39-26 57-38s26-24 47-36s58-26 82-35s39-14 59-21s45-18 64-24M3827 604c25 7 64 21 90 30s40 12 62 22s48 27 67 41s32 31 46 43s24 18 36 27M3159 774c22-10 47-23 66-31s29-11 49-19s51-20 69-26M3916 637c23 8 53 23 70 32s17 11 31 21s37 28 55 42s34 28 51 42M3319 901c16-11 17-15 29-26s33-31 47-44s26-21 42-32M3787 742c17 10 45 29 61 40s22 14 36 25s34 32 46 43s10 12 24 25M3702 795c20 1 60 3 83 6s33 4 53 11s49 17 70 28s42 25 60 40"/>
<path stroke="#1fad9e" d="M3153 764c21-9 46-20 61-28s16-10 30-20M3764 567c27 7 64 16 91 27s53 26 71 35s19 12 40 19s63 22 84 29M3429 631c22-9 49-16 72-23s42-13 65-19s51-15 73-19M3516 608c24-4 45-6 62-8s21-3 39-4s48-2 74-3s56-3 81-4M3314 690c20-7 52-16 74-23s39-16 58-22M3826 606c27 5 61 17 88 25s51 16 70 23M3514 610c19-5 28-7 50-9s53-1 79-2s55-2 76-3s30-1 48 0s35 2 60 8M3171 797c18-7 31-13 52-22s61-21 78-29s10-5 23-15s36-29 58-42s56-26 74-34s15-6 34-15s58-30 80-38s26-12 49-13s63 1 90 3s44 3 69 7s60 9 81 16s33 19 48 29s25 21 41 32s34 23 52 34s34 18 52 32s38 34 57 51M3343 698c18-7 23-9 39-13s37-11 60-17s58-14 79-20M3706 614c25-1 62 0 85 1s35 1 56 5s45 8 69 17M3175 803c17-5 35-8 52-17s35-20 52-32s32-30 49-42s29-16 48-26s41-25 64-35s46-23 70-28M3891 642c21 7 49 23 69 33s33 11 53 23s52 38 69 53s21 24 32 36M3165 784c15-8 26-17 46-25M3194 839c22-9 51-19 67-26s16-8 32-18s47-32 66-43s35-17 51-25s31-14 49-23M3896 699c17 10 33 18 47 27s23 13 38 24s34 31 50 44s34 26 50 39M3201 852c17-7 33-14 51-22M4022 803c18 14 35 27 52 40M3210 868c11-9 19-16 35-28M4015 810c16 16 31 35 46 52M3437 799c17-11 37-23 57-34s45-23 63-32s32-15 45-19s16-8 34-8s57 3 76 6s24 7 36 12s22 8 39 18M3245 934c17-12 33-24 50-36M3981 882c17 15 28 23 42 35M3254 950c23-12 51-25 70-35s26-18 42-29M3956 894c14 14 35 29 52 43M3176 958c13-8 22-15 37-25s34-22 55-35s54-30 75-40s27-14 50-22s63-20 83-26s18-4 35-6s44-3 69-5s61-2 81-3s20-1 41-1"/>
<path stroke="#20b190" d="M3446 645c20-6 36-10 58-16s51-13 72-17s32-8 53-10s50-2 71-2s33 0 54 1s45 0 72 5M3166 788c16-11 30-22 47-33s34-25 53-34s37-14 58-24s50-31 69-41s25-13 43-19s41-8 65-15M3861 617c27 8 49 24 66 32s15 7 34 14s57 21 77 32s28 23 43 35s33 22 49 33M3521 648c21-5 28-8 48-13s47-11 70-15s42-5 67-6M3510 623c24-6 57-4 75-5s15-2 35-3s61-2 83 0s29 7 51 10s57 4 80 6s36 3 57 11M3211 759c21-9 57-20 77-26s24-6 42-12s43-17 64-25s38-17 57-24M3721 604c17 0 15 1 31 2s40 1 69 7s82 22 106 32s23 14 36 24s25 21 42 35s44 33 61 47s30 26 46 39M3174 803c20-8 39-13 60-22s52-27 67-35s7-8 23-15s52-19 73-28s38-19 55-27s26-18 47-25s56-11 83-17M3656 615c18-3 17-3 39-1M3784 627c21 3 23-1 40 3s39 11 62 21s52 31 74 43s40 15 58 28s35 35 50 47s27 16 41 24M3459 704c17-9 37-23 56-33s37-18 59-24s54-7 75-8s29-2 48-1s45-2 69 3s53 15 75 24s38 24 55 34M3189 829c20-11 41-21 61-31s46-22 61-29s12-6 27-13s45-23 63-32s25-12 45-20M3939 720c18 9 31 16 51 28s51 31 69 42s23 16 35 25M3252 830c18-8 34-15 54-26s52-32 70-42s19-9 38-18s52-25 71-35s31-18 46-24s25-10 43-15s41-8 63-11s53-6 72-6s24 0 44 4s61 16 81 23s22 6 40 17s55 35 70 45s7 7 20 17s39 31 58 44M3199 849c22-8 49-17 66-24s22-9 39-18s44-26 66-37s51-22 67-28s10-2 28-9M3920 727c20 14 51 35 72 50s36 25 49 37s22 20 32 31M3208 865c20-9 43-20 59-28s16-11 34-21s57-30 79-41s38-18 53-26M3919 737c18 12 29 24 46 38s35 30 52 43s34 23 50 35M3245 840c16-11 42-31 61-41s29-15 48-23s44-14 65-21s39-12 57-17s33-12 51-17s34-10 56-14s52-7 74-9s39-5 55-6s19-4 39-4s61 3 79 6s11 1 29 10s63 34 81 45s14 9 27 19s33 27 48 42M3225 896c24-10 54-23 72-31s20-9 33-15s30-13 48-23s46-27 63-37M3896 782c16 14 34 32 51 45s33 25 48 36s31 18 46 27M3243 929c21-11 47-22 65-32s27-16 43-29s37-35 54-46s29-11 46-22M3879 797c16 12 35 22 49 35s17 29 33 43s43 25 64 38M3295 898c18-11 39-23 56-33s29-16 45-26s32-21 48-31s30-19 49-28s50-18 70-24s37-8 50-10s10-4 26-5s47-5 68-4s43 6 57 9s18 5 29 9s19 7 36 16s53 26 69 35s10 6 24 19s43 41 59 57M3366 886c17-12 40-30 56-40s29-17 42-25s18-10 35-21s50-32 68-41M3846 789c13 9 24 16 36 27s26 28 38 41s21 24 36 37"/>
<path stroke="#20b382" d="M3501 622c24-6 59-17 79-22s26-7 45-8s46 3 69 5s44 3 71 7s69 5 96 13M3451 672c19-7 37-11 57-18s39-12 62-19s54-20 79-25s55-5 72-6M3582 634c26-6 55-16 74-19M3695 614c21 3 67 11 89 13M3446 704c21-8 56-21 79-28s35-9 58-13s55-8 76-9s26-2 44-2s44 2 64 5s41 6 60 12s38 15 57 24s38 18 55 27M3465 733c18-7 62-26 81-34s18-11 36-16s52-11 70-14s21 0 40 0s55 1 77 2s36 1 53 5s30 9 47 18s30 20 51 33M3433 749c16-8 23-14 41-23s49-24 65-31s15-6 30-10s44-10 64-14s41-7 61-7s41 2 60 5s35 8 52 14s34 11 53 20s43 22 60 34M3207 862c13-8 21-13 40-26s55-36 75-49s30-16 47-24s36-16 52-23s30-13 48-19s47-17 65-22s27-7 46-9s45-5 68-5s54 1 70 2s8-1 26 3s60 13 80 19s22 7 39 14s48 21 64 29s19 11 34 20s38 24 57 35s39 23 58 34M3206 860c19-7 40-17 58-23s28-8 49-17s57-23 78-34s37-25 50-34s14-10 27-18s34-22 53-30s37-16 60-22s58-9 75-11M3756 678c20 4 28 6 47 15s51 32 68 43s24 16 39 24s31 16 51 26s51 23 70 33s28 17 42 26M3208 865c18-12 36-27 53-37s31-15 52-23s55-18 75-26s28-13 43-20s27-16 46-23s52-19 70-25s20-4 35-8M3879 720c20 10 36 17 51 27s32 22 44 33s15 17 28 32s36 39 53 58M3223 893c16-12 33-25 48-36s22-16 41-28s57-33 75-42s14-8 31-14s48-15 68-21s34-9 51-14s31-9 50-14s51-16 68-20M3858 728c14 9 37 25 52 38s26 27 38 40s20 25 36 40s37 31 55 47M3441 790c18-11 27-18 41-27s22-18 43-29s57-30 79-37s38-8 52-9s12-2 30 0s56 6 75 10s22 4 37 11s35 21 52 33s30 26 46 40M3451 800c17-10 39-31 55-41s27-15 42-20s31-6 46-10s22-14 43-15s60 5 78 7s19 4 32 6s29-1 43 5s25 17 40 28s33 25 49 37M3567 759c18-9 24-10 40-14s36-6 54-8s36-3 52-2s28 1 43 6s29 11 44 19s32 20 46 29"/>
<path stroke="#22b474" d="M3320 638c-12 8-25 17-38 25M3181 815c20-13 44-28 60-37s16-14 33-23s51-20 70-29s27-18 43-26s34-15 54-22s40-12 65-20s69-20 88-25s12 1 31 0s60-5 81-6s24-1 45 3s53 11 77 17s41 6 63 15s44 26 64 37s38 18 54 28s32 18 48 30s32 28 48 42M3185 823c17-13 33-26 50-37s32-20 52-31s50-25 67-35s18-14 36-22s51-16 73-24s43-18 62-23s33-10 51-12M3902 688c24 11 37 23 52 32s27 10 42 17s30 15 48 26s39 26 59 39M3185 823c25-10 55-20 74-29s22-11 39-21s43-28 63-40s41-21 57-29s21-8 39-15s45-18 66-26M3831 649c23 6 44 14 62 21s26 11 44 25s53 42 69 55s13 12 28 23s41 26 62 39M3185 823c13-6 21-9 39-18s49-24 69-36s30-21 47-31s31-23 52-33M4006 755c21 14 34 26 49 36s27 14 41 21M3193 836c12-10 20-17 36-29s44-34 64-47s39-19 56-27s31-13 49-21s36-17 58-24s53-16 74-20s34-4 54-6M3815 666c21 4 44 11 65 17s35 8 58 19s58 33 77 44s18 15 32 26s34 25 51 38M3656 671c18-2 13-1 29 0s52 3 71 7M3582 703c16-3 37-8 55-12s35-9 55-12s42-4 63-3s36 7 57 14s48 21 67 30M3206 862c16-5 30-9 48-15s42-14 63-24s39-24 60-33s51-15 69-23s26-16 39-24M3861 728c14 10 28 29 46 42s48 26 65 34s21 7 36 17s36 27 54 40M3222 890c14-8 27-14 43-24s33-20 53-34s52-42 68-54s11-9 28-18s57-26 78-36M3847 728c14 9 25 20 45 35s54 37 74 51s33 21 47 32s26 20 39 30M3655 704c17-4 16-5 32-6s41-5 65-3s57 12 75 17s17 7 31 16"/>
<path stroke="#23b466" d="M3353 613c-10 9-21 17-33 25M3576 639c18-2 38 0 57-1s42-3 61-2s37 3 56 7s35 8 60 15s68 20 92 30M3523 663c21-8 39-17 59-23s36-12 59-14s58 0 77 2s14 1 33 5s56 10 80 16M3392 705c21-10 55-20 74-27s20-5 41-11s60-17 83-22s34-8 51-9s33-3 57 0s65 15 84 20s18 4 35 9s47 14 65 21s26 7 47 19s56 36 77 50M3584 662c19-2 44-4 65-6s45-2 63-2s28 0 45 2s38 6 58 10M3485 743c12-8 15-17 35-26s60-22 80-29s21-8 38-11s42-11 63-9s48 16 68 22s38 12 54 18s24 10 38 20M3492 724c21-10 36-17 49-23s15-9 30-12s41-10 63-11s50 5 68 7s22 3 40 6s50 10 67 16s24 12 38 21"/>
<path stroke="#2bb54c" d="M3378 583c-8 11-16 20-25 30"/>
<path stroke="#46b738" d="M3401 543c-8 15-15 28-23 40"/>
<path stroke="#72b729" d="M3422 490c-7 16-14 37-21 53"/>
<path stroke="#9eb327" d="M3441 447c-7 14-12 27-19 43"/>
<path stroke="#baac25" d="M3463 406c-7 13-15 27-22 41"/>
<path stroke="#2555d9" stroke-width="1.62" d="M3770 740c5 12 10 25 15 37s11 25 16 38s9 25 13 38s6 26 9 39s6 29 11 40s14 26 19 24s10-25 14-38s8-26 11-39s5-26 7-39s5-27 8-40s5-27 7-40"/>
<path stroke="#2667e0" stroke-width="1.67" d="M3192 639c14-5 24-6 43-14s49-19 73-30s50-25 71-36s38-20 57-29s36-16 55-23s39-13 60-18s44-7 65-8s33-2 56 0s59 8 83 13s44 12 64 19s35 15 55 24s40 21 60 32s46 23 61 30s14 7 30 13s47 18 71 27M3209 682c18-9 35-16 56-25s50-25 71-34s36-17 51-24s20-9 36-15s37-14 59-20s50-14 73-18s49-4 67-5s27-1 43 0s32 2 53 5s55 9 76 14s35 11 51 17s32 14 49 21s29 14 52 25s62 30 82 41s29 13 43 20"/>
<path stroke="#277de3" stroke-width="1.71" d="M3200 659c20-11 43-22 62-32s31-15 50-24s43-19 64-27s40-16 58-21s23-8 45-13s64-11 88-14s39-1 56-1s22 0 42 3s60 8 81 12s25 4 42 9s37 12 59 22s55 26 75 36s31 16 47 24s30 17 47 25s37 17 56 26"/>
<path stroke="#2892e5" d="M3907 877c21 19 37 40 51 54s19 20 33 31s33 25 52 36s40 20 61 30M3987 1071c16 10 29 18 44 27M3934 961c16 14 16 16 28 32s32 44 45 61s18 27 27 41M3892 912c17 8 16 8 30 17s34 22 50 36s34 30 50 47s30 35 44 52"/>
<path stroke="#27a8e2" d="M3140 739c16-7 27-12 47-21M3652 547c25-2 45-3 67-2s47 1 69 3s36 3 61 10s64 22 87 33s28 16 49 29s56 35 79 49s42 26 58 36s23 14 34 21M3210 706c17-11 27-18 39-25s17-12 35-21s46-24 71-35s58-22 80-30s29-11 52-17M4064 667c20 10 41 20 58 28s28 13 42 20M3934 595c26 9 35 18 53 27s36 13 56 25s46 35 65 49M3571 796c18-5 49-15 75-18s54-5 78-3s47 10 66 16s26 8 45 23s52 43 72 63M3830 957c11 11 22 22 40 36s46 33 65 46s36 22 52 32M3663 865c23-1 30-2 50-1s53 5 71 8s23 5 36 10s23 9 42 22s55 42 72 57M3536 843c22-1 36 1 55 3s41 3 63 5s52 6 71 9s30 4 45 7s25 5 46 12s58 25 76 33M3951 1008c12 18 19 30 31 46s29 33 43 50"/>
<path stroke="#27bfdd" d="M3187 718c21-8 59-23 77-30s16-6 31-12s35-15 59-26s60-32 81-43s26-15 48-23s59-20 87-26s57-9 82-11M3143 744c22-13 49-28 67-38M3487 578c23-6 65-15 86-19s17-3 38-3s62 0 89 2M3918 602c25 9 59 23 83 34s43 21 63 31M3141 741c16-6 29-13 48-18s43-10 65-17M3720 559c25 0 57 5 76 7s15-3 38 2s75 18 100 27M4108 696c18 14 30 23 46 34M3146 750c20-9 39-18 60-27s49-19 66-25s20-8 35-15s37-16 57-24M3616 573c29-4 72-9 100-9s44 2 67 6s50 9 76 17s59 23 81 34s32 15 50 26s42 26 61 39s38 29 53 39s24 16 36 24M3218 728c16-13 22-19 39-29s45-24 63-32s25-11 45-18s54-19 77-25M3840 592c24 3 45 9 68 17s51 19 74 31s44 23 64 39s41 39 55 54M3169 945c21-8 45-19 63-25s25-8 44-14s50-14 70-20s32-11 54-20s51-23 74-33s51-22 67-28s13-5 30-9M3526 858c19-6 32-8 53-8s56 2 77 6s33 8 52 16s47 22 63 32s20 16 30 25s17 17 29 28M3208 1015c16-8 26-13 47-23s58-27 76-35s17-8 32-15s37-17 57-25s37-15 58-22s51-14 68-18s13-2 33-4s62-6 84-8M3930 1017c14 11 36 27 56 37s41 18 62 27M3206 1011c15-12 30-24 45-35s30-24 45-35s25-19 44-31s55-31 75-40s23-11 43-15s55-10 78-12M3773 838c20 7 52 23 68 33s19 14 31 27s27 31 41 50s27 42 38 60"/>
<path stroke="#26d4d7" d="M3700 558c28 2 50 6 75 10s51 9 75 14s43 11 68 20M3254 706c21-8 42-21 63-29s42-15 60-21M3543 590c22-5 71-18 101-23s50-8 76-8M3364 659c20-9 41-19 64-28s50-21 70-28s27-10 47-15s43-11 71-15M3163 782c18-18 39-40 55-54M3442 624c23-6 42-9 60-11s26-3 51-5M3764 590c26-1 52-1 76 2M4101 733c13 15 18 22 27 34M4089 721c18 9 33 20 50 29M3251 945c15-10 25-16 43-28s49-33 67-46M3834 792c17 10 37 19 51 28M3455 834c15-6 38-12 55-18s26-12 44-19s45-15 62-19s27-3 42-5s28-6 44-7s41 2 55 4M3255 952c22-12 49-28 65-37s16-9 30-18s39-25 58-36s43-24 58-32s21-10 36-16s34-14 53-20s47-16 63-21s23-4 35-5s21-1 35-1s30 2 47 5s42 10 56 14s14 5 26 12s34 18 50 28s28 22 44 36s35 30 51 43s30 23 45 35M3233 1059c20-10 42-20 59-30s28-18 42-28s25-21 39-33s31-29 46-43s29-26 46-37s42-23 61-30M3772 839c21 7 47 25 64 40s23 32 34 50s22 40 32 54s14 22 28 34M3205 1010c25-10 55-20 75-28s33-14 47-20s20-9 38-19s49-27 66-36s16-11 34-20s56-27 78-36s35-9 54-13s41-8 61-10s42-2 61 0s34 2 54 10"/>
<path stroke="#27d9c5" d="M3377 656c19-7 28-9 50-18s65-31 84-39s10-3 32-9M3773 556c27 3 62 11 90 20s56 20 78 29s35 16 51 27M3149 757c17-13 32-26 51-38s50-26 66-34s17-9 31-16s33-18 55-26s51-18 74-24M3974 632c17 7 43 21 63 31s34 18 53 29s43 24 65 36M3641 561c21-4 32-5 56-3s63 11 88 16M3553 608c24-1 74-3 96-5s18-2 37-4s53-8 78-9M3153 763c17-5 29-8 50-17s61-26 78-35s10-7 24-14s40-22 61-31M3839 596c27 7 62 20 87 32s47 32 63 42M4023 692c16 9 43 22 62 33s32 22 49 33M3163 781c19-4 35-6 56-13M3321 718c19-13 61-42 78-54s9-6 26-16s50-30 73-41s44-17 65-21s39-4 60-3s41 3 65 7M3982 678c22 7 30 9 48 16s41 17 59 27M3231 752c20-13 42-24 56-31M3198 846c17-8 30-14 51-24s58-29 75-37s8-3 26-11s60-29 78-39s17-9 32-16s41-18 62-27M3864 697c20 11 54 32 71 43s15 12 28 22s30 24 49 37s44 27 65 40M3229 903c19-10 41-22 58-31s24-15 39-23s30-15 50-26s56-27 74-37s19-11 33-18s30-17 49-25s49-17 66-22M3919 779c15 10 20 16 31 26s17 17 33 31s41 33 62 50M3235 914c15-9 29-16 47-26s43-21 62-32s37-20 53-30M4001 871c14 12 22 20 33 30M3361 871c17-13 21-21 37-32s42-25 60-36s32-23 49-32M3684 735c18 3 47 10 64 14s24 2 39 9s31 23 47 34M3885 820c14 9 19 15 35 27s42 33 60 44s29 17 43 25M3249 940c22-13 46-28 67-39s41-17 57-25s29-16 43-24s23-12 39-18M3757 770c13 1 10 1 25 5s43 11 60 19s28 17 40 25s17 14 31 24s35 21 52 35s34 33 51 49M3209 1017c19-19 40-44 56-57s21-18 36-26s32-16 52-22s45-9 66-13s34-2 55-6s54-9 73-13s20-5 37-11s45-16 65-22s39-12 60-14s41-2 63 6"/>
<path stroke="#28ddb3" d="M3148 754c22-7 49-16 66-22s20-10 36-17M3571 575c26-8 56-11 77-14s29-2 49-3s48-5 76-2M3992 632c16 10 30 25 47 37s34 25 51 38s34 27 52 40M3426 619c23-6 37-7 64-11M3840 602c26 4 70 12 93 17s24 6 41 13M3159 775c22-7 47-16 64-22M3376 670c21-13 47-26 66-36s30-13 51-22s51-23 76-31s51-16 72-20M3785 574c24 5 39 8 59 14s39 10 61 20s48 26 70 43s42 40 61 55M4087 745c16 10 27 15 40 22M3366 666c21-8 40-11 65-20s60-22 82-30s29-14 49-19s44-12 69-14s60 1 82 2s31 3 52 4s48 1 74 7M3989 670c16 11 18 13 34 22M3219 768c21-8 53-22 70-30s14-8 32-20M3688 590c24 5 53 11 79 17s56 16 77 23s30 13 53 21s63 20 85 27M3171 796c20-14 41-31 60-44M3287 721c15-7 14-5 34-12s63-19 83-25s20-8 37-14s43-16 67-21M3720 612c25-2 48 1 67 3s29 4 48 8s38 8 63 18s62 26 83 38s29 25 42 37s19 22 34 35s35 28 52 42M3179 811c25-8 52-17 74-23s42-11 60-17s31-16 46-24s31-20 46-29s24-12 41-21s43-20 62-30s30-20 54-29s67-23 91-27s33 0 51 2s40 4 59 7s31 1 54 10s63 34 83 47s16 17 33 30s51 37 68 49s19 12 34 23s37 27 56 41M3194 839c13-7 22-12 38-22s40-23 59-34s37-23 58-34s50-24 68-32s22-9 41-15s48-16 70-22M3867 685c16 7 41 17 64 28s50 29 70 42s31 24 46 36s27 22 40 33M3194 840c13-8 18-13 38-23s66-33 85-42s12-5 28-11s51-17 71-25s37-14 53-20s25-12 46-21s60-23 81-29s29-7 48-10s47-4 65-4s20-3 42 0s70 8 93 15s33 14 48 23s27 18 43 31s36 33 51 47s25 23 40 35s32 25 48 38M3522 692c21-9 45-19 64-25s35-10 52-12s26-3 49-2s66 4 87 8s25 5 40 11s30 13 50 25M3204 858c14-14 26-28 41-40s31-25 50-36s47-18 66-27s29-16 50-23s54-18 76-23s36-4 54-7s38-10 56-14M3826 673c21 4 49 17 67 25s26 17 42 27s35 20 52 33s33 30 47 46s23 32 34 48M3209 866c19-14 44-32 58-42s9-9 25-21s53-34 75-47s41-20 59-28s34-16 51-22s36-13 54-17M3888 706c22 9 46 22 60 30s12 8 24 19s34 32 51 47s33 29 50 43M3219 884c15-9 27-17 45-29s44-28 63-39s36-14 54-22s34-18 52-27s38-19 53-26s20-7 38-13M3852 727c18 11 50 34 69 47s29 19 44 31s31 29 46 40s28 19 42 29M3598 721c16-5 20-5 35-8s36-7 56-8s44 0 62 2s30 5 49 11s41 15 61 25s44 25 58 36M3397 826c16-10 30-19 44-28s26-15 44-24s49-21 66-29s21-10 37-15s42-13 59-16s21-3 42-2s61 5 80 8s23 3 38 9s37 18 50 25s14 9 30 22s46 38 65 54s35 30 49 41M3246 935c15-7 27-10 45-21s49-32 67-43s20-16 37-28M3981 885c15 15 26 24 39 36M3507 771c18-9 42-17 56-22s18-4 30-6s31-9 46-10s27 0 45 2M3246 936c16-7 29-12 47-21s46-26 65-38s35-24 52-34s34-17 50-23s25-8 44-15s48-21 66-29s27-12 39-16s17-7 33-7s48 1 64 2s19 0 35 2s40 0 57 5M3875 808c15 12 41 33 59 46s30 21 45 32s27 24 40 35M3251 945c15-11 28-23 45-35M3356 872c19-10 36-15 53-23s32-13 49-21s37-19 54-28s32-17 46-23s23-9 38-13s34-6 52-9M3840 790c15 10 29 23 40 33s15 12 30 24s41 36 57 52s26 27 40 41"/>
<path stroke="#29e0a2" d="M3304 615c-12 8-26 17-39 25M3250 715c17-6 43-13 64-22s39-19 60-29s43-23 62-32s32-12 54-21s54-27 81-36M3490 608c27-4 71-11 96-14s36-6 58-7s55 1 77 3s36 4 56 6s37 2 63 6M3223 753c16-5 19-4 35-11s38-18 58-30s39-30 60-42M4036 706c18 16 36 29 51 39M3162 779c15-10 29-21 45-30s31-17 50-24s41-13 61-20s36-14 56-23s37-21 61-31s62-22 84-28M3828 611c22 6 47 16 69 24s39 12 62 22s60 30 81 43s27 25 41 37s29 23 44 34M3167 788c20-9 42-19 62-29s39-18 56-27s31-16 46-25s25-15 41-24s32-18 54-28s52-24 78-33s59-15 83-20s49-5 66-7s18-1 37 0s54 4 75 7s33 5 55 12s56 21 79 31s33 18 55 29s56 29 74 39s18 10 34 19s43 25 64 37M3508 649c25-6 58-11 80-14s29-6 51-10s56-11 81-13M3528 680c21-6 40-11 58-15s31-6 48-8s31-4 54-3s62 3 86 6s42 9 57 13s19 5 36 12M3597 688c18-4 35-10 53-12s34-1 53-1s41-1 61-1s40-5 62-1M3531 689c17-4 31-6 51-8s47-5 68-6s42-4 60-4s31 0 49 2s34 4 56 10s51 14 73 23M3206 861c18-8 32-16 53-24s51-17 70-26s32-20 46-29s20-17 40-27s59-25 78-32s19-5 36-11M3872 704c19 10 39 27 56 40s31 28 46 39s28 17 44 27s35 25 53 37M3524 728c17-7 44-18 66-25s50-14 69-16s29 1 46 2s40 2 58 4s35 5 50 11s21 11 39 23M3239 921c17-12 34-24 52-36s35-25 53-37M3950 826c14 12 23 24 37 37s30 27 45 41M3395 843c18-12 51-34 68-44s19-11 34-21s44-27 60-37M3899 790c14 13 18 21 32 37s35 42 50 58M3240 923c13-6 23-9 41-18s49-22 67-33s21-20 41-31s56-24 76-35s33-22 46-31M3892 813c14 10 32 19 44 28s13 15 27 28s38 34 57 51M3798 762c18 5 35 16 47 23s16 12 30 23M3296 910c18-12 42-28 60-38M3648 755c19-2 40-5 59-6s41-3 55-1s20 2 33 9s31 22 45 33"/>
<path stroke="#2ae190" d="M3324 658c-14 11-20 14-30 21M3339 591c-10 9-22 16-35 24M3301 616c-12 8-24 15-37 23M3519 623c21-5 26-4 47-7s55-9 75-12s27-6 48-7s55-2 78 0s39 8 61 14M3183 819c19-10 38-21 55-30M4010 728c16 10 30 20 46 33s30 29 45 43M3529 712c17-7 50-22 67-29s17-9 34-11s51-2 70-1s25 4 45 7s52 4 73 9s36 7 54 17M3223 892c14-8 28-15 43-24s32-21 52-33s44-27 64-37M3951 798c17 13 43 35 61 47s28 18 42 27M3344 848c17-11 34-20 51-31s37-24 55-34s37-17 51-23s15-5 33-11s57-17 74-21s17-4 30-5s33 0 52 0s48 2 65 4s21-1 39 5s50 23 67 32s23 13 38 23s36 26 51 39M3557 741c15-9 17-12 33-18s44-16 63-19s39-1 54 0s27 3 42 6s33 6 50 13s34 14 50 25s36 29 50 42M3511 775c13-8 15-12 32-18s47-12 66-18s39-13 53-15s17-3 32 0s39 9 57 12s35 2 51 9s34 24 49 36s27 22 41 32"/>
<path stroke="#2ce17f" d="M3333 662c-11 9-22 16-34 24M3337 638c-11 8-32 22-48 34M3324 630c-12 8-31 18-46 28M3334 592c-10 11-22 16-33 24M3238 789c18-9 33-16 50-23s30-9 51-16s53-19 74-28s40-19 56-27s20-11 39-18s51-15 74-20s48-7 66-9s26-5 46-6s51-6 75-4s46 6 68 13s42 17 63 26s41 18 60 26s34 16 50 25M3382 798c20-11 36-17 54-26s35-16 53-25s39-22 56-30s33-16 48-21s24-7 43-8s52 5 72 8s34 7 49 10s27 5 44 10s45 15 63 23s28 15 43 25s26 20 44 34"/>
<path stroke="#2de26e" d="M3376 616c-12 11-39 32-52 42M3304 626c-11 8-22 15-33 22M3364 560c-8 12-15 22-25 31"/>
<path stroke="#36e25e" d="M3369 632c-12 13-24 21-36 30M3356 623c-10 10-8 7-19 15M3348 612c-10 11-12 11-24 18M3309 633c-11 8-22 15-32 22"/>
<path stroke="#47e352" d="M3395 592c-8 13-7 13-19 24M3394 580c-11 16-29 34-38 43M3346 603c-10 10-25 21-37 30M3339 602c-13 12-24 17-35 24M3366 553c-9 12-21 28-32 39"/>
<path stroke="#57e546" d="M3406 583c-11 17-25 36-37 49M3384 561c-8 13-26 39-36 51M3386 520c-5 12-14 28-22 40"/>
<path stroke="#68e63a" d="M3369 575c-10 14-13 18-23 28M3378 554c-9 11-27 36-39 48"/>
<path stroke="#7be534" d="M3427 536c-8 17-23 43-32 56M3397 535c-6 13-5 14-13 26M3385 516c-5 13-11 24-19 37"/>
<path stroke="#8fe433" d="M3433 532c-6 12-17 34-27 51M3423 530c-8 15-18 35-29 50M3398 485c-5 13-6 22-12 35"/>
<path stroke="#a3e333" d="M3401 517c-7 14-23 44-32 58M3389 536c-6 13-3 7-11 18M3398 477c-6 16-7 26-13 39"/>
<path stroke="#b7e232" d="M3445 492c-5 12-9 28-18 44M3437 490c-4 11-7 25-14 40M3420 482c-8 15-17 40-23 53M3413 446c-7 15-11 27-15 39"/>
<path stroke="#c6e031" d="M3444 506c-6 12-5 13-11 26M3413 475c-7 17-18 48-24 61"/>
<path stroke="#d1dd30" d="M3459 463c-7 13-8 17-14 29M3412 488c-5 13-4 15-11 29M3422 422c-6 14-18 40-24 55"/>
<path stroke="#ddda2f" d="M3470 458c-8 14-19 35-26 48M3450 461c-6 13-8 18-13 29M3442 443c-7 13-15 24-22 39M3439 393c-8 18-19 37-26 53"/>
<path stroke="#e9d72e" d="M3434 443c-7 14-16 33-22 45M3430 438c-6 13-10 21-17 37"/>
<path stroke="#edca2d" d="M3484 417c-8 15-19 34-25 46M3476 412c-9 16-20 36-26 49M3463 406c-7 12-14 24-21 37M3437 392c-5 10-8 15-15 30"/>
<path stroke="#eeb92b" d="M3493 421c-7 13-14 23-23 37"/>
<path stroke="#efa92a" d="M3456 402c-7 14-15 26-22 41M3449 398c-6 14-13 27-19 40"/>
</g>
<clipPath id="cp3m"><rect x="3316.5" y="1183.5" width="472.5" height="676.5"/></clipPath>
<g class="sl" clip-path="url(#cp3m)" stroke-width="1.75">
<path stroke="#18867a" d="M3895 1182c-14 16-30 34-41 48M3845 1136c-15 12-30 23-44 36M3823 1115c-13 12-24 24-40 37M3776 1072c-7 13-11 21-21 38"/>
<path stroke="#19896f" d="M3927 1213c-9 11-14 18-27 34s-35 43-51 62s-30 37-44 54s-30 31-44 43M3854 1230c-12 14-18 22-29 36s-21 27-38 44s-45 44-61 59s-22 19-33 30M3531 1827c2 19 6 34 9 52M3801 1172c-15 13-27 23-43 42s-38 45-51 66s-22 44-29 59M3783 1152c-16 12-40 26-57 40s-34 29-47 46s-18 35-27 57M3851 1141c-12 9-21 14-35 26s-28 34-49 49s-53 33-78 43M3755 1110c-9 18-23 40-36 64s-29 56-38 79s-14 45-20 63"/>
<path stroke="#198b64" d="M3761 1406c-13 13-21 18-38 30s-49 29-66 39M3493 1715c-4 22-4 35-5 55s0 45 2 63s4 31 6 47M3693 1399c-11 11-21 19-34 37s-34 50-44 67M3536 1694c-3 16-9 48-10 70s3 44 5 63M3678 1339c-6 15-6 9-9 31s-9 78-12 103s-2 34-4 49M3530 1704c-12 14-20 20-31 41s-31 64-38 86s-7 33-10 50M3884 1173c-10 10-17 19-29 31s-28 25-43 44M3847 1138c-8 14-14 25-25 42s-27 38-38 62s-21 63-28 82M3652 1295c-9 22-15 52-24 75s-20 42-30 61M3519 1694c-7 17-22 49-28 67s-7 24-9 44s-2 50-3 75M3843 1134c-14 13-28 26-42 38M3828 1120c-11 9-17 13-33 28M3689 1259c-25 10-50 10-71 16s-34 9-53 22s-43 40-57 58M3438 1771c1 20-3 13 2 31s17 52 26 78M3661 1316c-5 17-5 26-14 44s-27 47-41 62s-25 17-44 27M3363 1679c-3 24-2 31-3 54s0 61 3 86s9 42 13 64M3702 1252c-19 14-40 30-56 41s-22 14-40 26s-49 33-68 47s-29 21-46 40s-43 46-57 69s-23 48-30 70s-9 44-12 66s-5 50-7 71s-1 30-3 54s-6 65-9 89s-7 36-11 55"/>
<path stroke="#1a8b5a" d="M3950 1234c-11 12-18 19-33 37s-43 49-58 67M3900 1187c-12 14-24 27-36 41s-21 29-35 47s-37 47-49 62s-13 14-24 29M3930 1216c-14 10-22 16-43 29M3657 1475c-16 10-20 9-36 21s-42 31-57 47s-27 36-35 52s-11 22-17 42s-15 55-19 78M3615 1503c-11 17-10 18-18 36s-22 54-31 75s-15 40-20 53s-6 11-10 27M3653 1522c-2 15-1 25-9 42s-24 47-36 63s-23 23-36 35s-30 29-42 42M3812 1248c-16 19-40 51-53 68s-14 21-27 34s-29 28-51 41M3482 1826c6 19 15 36 23 53M3756 1324c-6 20-3 20-10 35s-17 40-32 54M3421 1768c4 24 20 50 29 69s18 29 27 43M3598 1431c-9 19-20 35-28 52s-11 31-15 49s-4 34-7 56s-10 59-15 76s-7 14-14 30M3876 1165c-15 16-31 34-45 48s-24 22-41 34M3801 1172c-14 12-27 21-41 33s-28 24-44 39s-34 36-50 52M3795 1148c-17 15-49 43-66 63s-28 35-40 52s-22 33-33 49M3816 1109c-21 11-44 22-64 33s-40 22-57 32s-29 16-44 25M3508 1355c-15 18-18 30-32 50s-39 47-51 70M3415 1607c4 23 14 50 18 78s4 67 5 86M3562 1449c-19 10-49 20-72 32s-46 23-64 41s-34 42-45 68s-14 65-18 89M3789 1084c-21 9-42 17-63 29"/>
<path stroke="#1b8c4f" d="M3859 1338c-16 19-24 28-38 41s-28 27-42 38s-25 17-41 29M3549 1826c5 21 11 34 17 52M3756 1366c-11 14-30 38-40 60s-15 47-22 67M3549 1767c-2 17-1 35-2 53s-1 39-2 58M3887 1245c-20 12-61 35-79 46s-19 10-33 18s-34 19-52 32M3900 1188c-6 14-7 22-20 42s-43 58-59 76M3681 1391c-22 13-60 28-79 39s-23 10-36 23M3486 1637c-5 22-13 47-16 69s-5 41-3 61s8 40 15 59M3714 1413c-16 15-41 23-62 32s-41 13-61 24s-40 27-55 43M3457 1629c-12 22-26 39-32 62s-8 52-4 77M3790 1247c-16 11-40 24-60 34s-44 19-61 27s-27 11-43 21M3440 1821c6 23 9 40 14 60M3666 1296c-16 17-30 31-46 47s-35 34-50 53M3459 1691c-4 24-3 43-3 65s1 43 2 64s0 40 1 61M3656 1312c-11 16-23 32-34 45s-19 21-31 34s-30 29-46 47M3445 1674c-2 23-7 68-10 94s-5 41-7 60s-5 36-7 53M3651 1199c-16 10-31 18-46 32s-35 32-49 50s-27 36-37 60M3481 1743c1 19 2 41 4 63s3 49 4 74M3425 1475c-11 22-16 45-18 67s3 41 8 65M3726 1113c-21 11-45 28-63 40s-30 24-45 37s-31 26-48 40"/>
<path stroke="#1c8c44" d="M3738 1446c-16 11-42 30-56 41s-17 11-29 24M3558 1654c-8 20-18 51-22 68s-3 12-1 30s9 53 14 74M3934 1219c-7 17-12 32-20 50s-14 37-25 56M3694 1493c-6 20-11 38-17 52s-10 24-17 36M3633 1617c-13 15-37 38-49 55s-20 33-26 49s-7 30-9 46M3723 1341c-18 13-41 30-57 46s-30 36-40 52M3591 1723c1 17 3 36 4 51s3 23 4 40s1 42 2 63M3821 1306c-16 18-22 19-37 29s-33 20-53 32s-47 25-66 37M3550 1818c4 20 4 40 6 60M3566 1453c-14 12-33 33-44 53s-17 46-23 67s-8 41-13 64M3536 1512c-16 15-24 31-37 50s-30 46-42 67M3626 1329c-17 10-39 23-57 39s-37 39-52 58M3417 1609c-5 28-3 70-3 92s3 21 7 41s14 56 19 79M3570 1396c-14 19-27 41-38 62s-19 42-25 59s-11 28-16 44s-11 30-16 52s-13 54-16 78M3842 1133c-17 14-34 28-51 42M3545 1438c-16 18-36 41-49 60s-22 37-29 59s-13 51-16 71s-3 23-6 46M3519 1341c-11 24-22 63-29 85s-7 29-10 51M3477 1613c1 22 2 58 3 79s0 32 1 51M3570 1230c-16 14-34 29-50 44s-33 26-46 45s-25 49-33 70M3443 1688c2 24 5 51 6 75s-1 49-2 69s-3 33-5 49"/>
<path stroke="#218c3b" d="M3653 1511c-12 13-32 38-43 53s-16 24-24 39s-19 31-28 51M3889 1325c-11 19-21 43-40 59s-51 28-74 35s-43 6-64 11M3618 1802c0 18-6 50-9 75M3660 1581c-8 12-15 20-27 36M3626 1439c-10 16-13 21-19 42s-14 67-17 86s-1 9-1 27s1 59 1 80s1 32 1 49M3665 1404c-19 12-35 24-48 36s-22 18-34 34M3523 1657c-1 25 3 47 6 64s4 21 8 38s10 40 13 59M3517 1426c-15 19-28 36-40 54s-24 31-33 53s-22 48-27 76M3817 1110c-16 17-36 37-47 50s-14 17-24 30s-22 30-36 49s-35 47-48 64M3791 1175c-17 14-38 30-53 43s-20 18-33 31s-28 30-41 45s-20 23-34 39M3480 1477c-3 22-5 60-6 83s2 31 3 53M3441 1389c-8 20-11 29-14 55s-6 68-5 97s7 54 10 79s8 44 11 68"/>
<path stroke="#2c8d33" d="M3711 1430c-20 5-42 9-60 19s-35 27-47 41M3560 1646c4 23 19 56 28 77s19 35 24 48s7 14 6 31M3583 1474c-12 16-30 48-38 63s-8 10-11 30s-10 64-11 90M3662 1303c-13 18-17 22-29 40s-31 48-43 69M3446 1748c-5 24-7 51-9 74s-4 39-6 59M3630 1333c-14 16-34 39-50 57s-32 35-46 50M3431 1686c0 20 2 44 4 65s6 36 8 58s6 48 8 72"/>
<path stroke="#368e2b" d="M3604 1490c-12 14-17 25-24 41s-17 36-20 56s-5 37 0 59M3590 1412c-11 20-15 33-24 52s-21 45-29 61s-10 19-19 36s-25 48-33 67s-13 26-19 46s-15 49-20 74M3534 1440c-13 16-24 25-37 43s-30 41-41 65s-18 60-22 83s-4 35-3 55"/>
<path stroke="#1fad9e" d="M3773 1069c-15 15-35 33-47 46"/>
<path stroke="#20b190" d="M3872 1161c-11 15-21 27-32 45s-22 43-35 63s-28 40-41 57M3879 1168c-16 21-33 46-47 62s-22 23-37 36s-39 29-53 39s-14 9-30 22M3726 1115c-13 14-15 18-26 35s-27 42-41 64s-32 51-44 69"/>
<path stroke="#20b382" d="M3764 1326c-13 16-26 27-39 42s-25 30-36 47s-16 35-24 51M3512 1762c-3 21-7 41-9 61s-4 38-6 57M3712 1327c-16 14-52 46-66 60s-9 10-18 25M3481 1747c0 24 6 66 9 88s8 30 12 44M3838 1129c-8 18-13 36-25 54s-31 43-46 57s-23 14-43 25M3615 1283c-11 17-14 21-23 34s-19 27-29 47s-25 54-34 75M3419 1664c-9 18-30 54-41 80s-19 55-24 78s-3 41-4 61M3788 1082c-12 9-22 13-36 25s-34 27-51 46s-35 50-50 71s-27 41-37 54"/>
<path stroke="#22b474" d="M3862 1152c-12 14-24 25-37 42s-28 40-39 57s-15 23-27 42M3665 1466c-8 15-12 26-24 42s-36 42-50 58M3556 1605c-9 12-13 18-19 34s-14 41-18 62s-5 41-7 61M3628 1412c-8 15-21 41-33 64s-25 55-35 75s-15 28-25 46s-22 44-30 59s-9 20-13 35s-11 32-11 56M3870 1159c-14 16-28 32-42 46s-28 29-39 43s-18 20-29 38s-28 53-41 74M3867 1156c-12 13-22 22-34 37s-31 39-43 56M3851 1142c-15 14-29 29-45 43s-35 29-53 44M3724 1265c-20 10-59 27-77 37s-17 10-34 23M3379 1759c0 24-3 30 1 50s14 49 21 73M3529 1439c-9 22-15 38-22 56s-12 29-24 53s-38 71-49 90s-5 9-15 26M3614 1278c-11 14-10 14-24 27s-41 35-56 50M3389 1754c-7 29-14 64-17 85s-2 29-3 44"/>
<path stroke="#23b466" d="M3759 1293c-12 20-34 57-45 76s-14 23-22 40s-16 43-22 62M3594 1758c-5 15-13 42-17 62s-6 39-9 58M3897 1184c-14 24-30 51-40 71s-13 28-21 47s-19 46-28 63M3591 1566c-14 16-26 27-35 39M3719 1360c-12 20-21 36-33 49s-19 22-34 33s-35 20-56 34M3470 1680c-5 21-13 62-18 86s-8 36-10 55s-3 40-4 60M3790 1249c-12 16-17 28-29 44s-25 37-42 52s-40 30-57 40M3407 1839c0 22 5 28 8 43M3753 1229c-18 15-41 34-55 45s-15 13-30 24s-43 30-61 42M3461 1767c0 24 0 36 0 55s1 39 1 58M3823 1115c-16 12-29 23-46 36M3613 1325c-17 13-50 41-68 55s-21 16-40 30s-53 33-71 51M3381 1620c-2 25 1 21 1 45s-2 70-3 94M3800 1094c-13 21-28 48-38 64s-12 22-27 36s-45 36-62 47s-22 10-37 24M3534 1355c-15 16-23 19-36 41s-37 67-47 89M3439 1527c-4 22-11 67-15 89s-3 23-9 46s-18 62-26 92"/>
<path stroke="#24b558" d="M3903 1191c-11 23-25 49-34 70s-14 38-20 56s-10 34-17 52s-15 37-25 54M3895 1183c-12 11-21 19-37 33s-42 39-58 54s-27 25-40 39M3670 1471c-6 18-10 31-14 51s-8 48-11 67s-5 38-8 50s0 8-6 24s-21 53-27 68s-6 12-10 27M3808 1365c-9 17-12 24-23 38s-31 34-45 47s-22 17-39 28M3512 1756c-4 19-11 55-14 76s0 32 0 48M3872 1161c-11 13-20 19-34 38s-36 53-49 74s-17 38-24 55M3834 1126c-11 17-22 34-34 51s-27 37-39 53s-22 27-33 46s-22 41-31 64M3596 1476c-21 15-53 37-70 54s-22 30-30 48s-13 43-18 60s-4 20-8 42M3860 1150c-11 18-21 38-31 56M3662 1385c-18 11-28 12-48 22s-54 27-73 41M3442 1638c-7 26-14 49-18 68s-7 22-10 44s-7 67-7 89M3607 1340c-17 13-27 16-43 31s-42 38-56 54s-16 19-24 42M3458 1629c0 19 1 29 1 52s1 63 2 86M3777 1151c-16 14-35 31-52 47s-38 33-52 45s-14 11-30 23s-47 33-65 47M3434 1461c-18 18-30 28-39 54s-12 80-14 105M3636 1265c-16 15-42 44-56 62s-19 33-28 48M3407 1739c-3 22-13 58-16 82s-2 41-4 61M3451 1485c-10 21-7 20-12 42"/>
<path stroke="#2bb54c" d="M3807 1423c-9 17-22 34-35 48s-23 22-42 34M3550 1777c1 18 1 9 4 26s12 50 18 75M3760 1309c-14 15-28 29-41 46s-28 37-38 55M3590 1771c-1 18-1 34 0 51s1 37 2 55M3701 1478c-18 12-49 31-65 42s-20 16-31 28M3551 1641c-8 20-21 58-28 77s-7 19-11 38M3765 1328c-7 16-11 26-18 44s-18 39-26 59s-15 40-22 56M3526 1749c-6 19-15 59-19 81s-5 33-7 50M3697 1340c-9 23-15 52-21 74s-8 45-12 61M3515 1718c-5 18-7 34-12 54s-9 44-14 62s-9 31-14 46M3829 1206c-10 17-17 33-30 47s-31 29-47 42s-33 24-48 37M3541 1448c-19 13-29 23-42 41s-24 39-33 64s-17 60-24 85M3484 1467c-9 23-21 71-25 98s-1 44-1 64M3578 1313c-18 15-29 23-42 39s-23 33-32 53M3424 1691c-1 21 0 41 2 64s4 52 6 73s1 36 1 53M3552 1375c-8 15-10 24-25 42s-46 47-63 68M3426 1544c-8 23-10 52-12 76s-1 50-2 70s-1 28-5 49"/>
<path stroke="#38b642" d="M3730 1505c-18 11-50 24-70 36s-34 24-46 33M3590 1600c-8 12-19 32-26 48s-10 25-13 47s-1 64-1 82M3681 1410c-10 18-16 39-21 55s-8 24-13 40s-8 36-12 57M3609 1676c-4 14-8 24-11 40s-7 38-8 55M3605 1548c-10 13-23 31-32 47s-13 25-22 46M3699 1487c-7 15-10 21-19 36s-22 38-36 55M3600 1628c-13 14-22 24-32 38s-21 33-28 47s-9 16-14 36M3664 1475c-5 16-4 17-14 33s-35 49-48 65s-18 16-29 32s-28 39-38 58s-15 37-20 55M3704 1332c-14 13-24 26-37 41s-21 29-41 45s-54 36-74 52M3448 1679c-5 20-13 51-12 76s11 53 16 74s9 34 13 51M3504 1405c-10 19-17 38-26 63s-24 63-31 90s-12 49-16 72s-6 40-7 61M3464 1485c-17 21-29 37-38 59"/>
<path stroke="#46b738" d="M3614 1574c-12 10-15 13-24 26M3635 1562c-5 22-10 52-14 71s-8 29-12 43M3644 1578c-13 17-32 35-44 50M3552 1470c-20 16-32 29-43 44s-14 28-22 48s-16 55-23 75s-11 22-16 42"/>
<path stroke="#27d9c5" d="M3934 1219c-10 15-19 30-31 45"/>
<path stroke="#28ddb3" d="M3909 1196c-17 19-37 42-51 57s-25 24-35 34M3903 1264c-11 14-20 27-36 41s-45 33-64 45s-32 21-47 32M3862 1152c-14 18-32 37-44 53s-19 26-29 44s-24 48-33 68s-15 38-20 54M3901 1189c-13 20-30 45-39 59s-9 16-19 29s-27 36-45 52s-46 30-65 40M3776 1072c-7 20-13 42-20 61s-14 34-26 53s-34 43-47 60M3715 1266c-10 14-17 26-31 42s-32 39-50 56s-37 32-57 47s-47 29-67 44s-44 37-57 51s-15 17-22 35s-16 52-19 74s-1 34 0 58s5 63 5 88s0 42-3 62s-7 39-11 58M3707 1258c-15 17-30 34-46 51s-32 35-47 52s-28 32-43 49s-32 32-47 48s-31 31-45 48s-29 37-40 53s-15 24-24 46s-23 67-29 88s-4 15-5 38s-2 76-2 101s2 32 2 48M3705 1255c-14 10-26 19-41 31s-32 23-52 41s-52 48-70 68s-28 30-43 49s-34 50-44 66s-7 12-13 27s-17 39-24 62s-15 49-21 75s-12 64-15 86s-3 25-5 45s-3 50-5 75"/>
<path stroke="#29e0a2" d="M3949 1234c-15 15-27 30-45 45M3823 1287c-11 11-15 12-28 28s-39 47-51 66s-15 26-22 44M3573 1833c1 19 2 30 4 45M3921 1207c-10 13-13 25-28 40M3756 1382c-14 10-26 20-40 30s-29 22-46 34s-39 20-60 34M3477 1687c-4 18-8 33-8 54s1 48 7 71s16 45 24 68M3736 1371c-6 16-9 25-15 41s-12 39-21 58M3555 1722c-5 15-7 25-11 41s-7 41-11 60s-7 37-11 56M3873 1162c-12 18-25 33-37 52M3733 1369c-19 11-30 12-51 22s-56 26-74 38M3457 1739c4 23 17 60 25 83s19 38 28 57M3868 1158c-11 22-25 49-35 67M3854 1144c-10 14-13 27-30 42s-56 35-75 47s-25 13-43 24s-47 34-67 47M3812 1105c-15 19-33 42-45 56M3683 1246c-13 17-22 26-32 41s-18 31-30 48M3367 1763c0 20-2 19 0 39s11 54 16 80"/>
<path stroke="#2ae190" d="M3904 1279c-17 15-41 32-57 45s-29 22-42 33s-20 18-37 31M3722 1425c-6 17-12 42-17 60s-7 26-16 45M3604 1659c-9 14-23 40-29 57s-7 25-7 45s3 52 5 72M3893 1247c-16 14-46 37-64 49s-28 14-45 26s-40 28-55 44M3558 1820c-3 21-5 39-7 58M3610 1480c-21 14-51 37-66 51s-14 13-22 30s-21 49-29 70s-12 38-16 56M3700 1470c-8 19-19 38-31 56s-29 40-40 54M3607 1611c-9 15-25 42-34 60s-14 36-18 51M3836 1214c-12 19-26 48-36 64s-10 20-22 35s-33 37-49 53M3608 1429c-19 13-26 22-37 35s-23 28-34 46M3502 1569c-11 22-27 57-34 77s-8 25-10 40s-5 31-1 53M3833 1225c-9 19-14 29-24 45s-22 36-35 53s-26 32-41 47s-34 30-46 41M3461 1813c2 24 9 45 14 67M3841 1132c-7 19-12 33-20 56s-22 61-32 82M3639 1304c-21 13-37 23-56 34s-46 22-62 31M3462 1687c0 27-4 60-4 82s2 34 3 53s4 39 7 58M3851 1142c-13 8-23 17-39 26s-35 18-58 28M3767 1161c-13 15-15 17-29 32s-41 41-57 56s-24 23-36 35s-21 19-37 35M3398 1836c1 22 2 31 3 46M3804 1098c-9 12-15 25-26 38s-25 23-41 44s-43 60-54 78s-6 16-16 30M3621 1335c-12 17-24 38-41 55s-36 27-61 42M3368 1620c-6 28-1 37-1 61s0 62 0 82M3699 1248c-15 14-24 24-43 41s-53 46-70 60s-16 14-30 25s-36 30-53 45s-33 25-51 46s-44 55-59 78s-19 40-26 62s-12 44-15 68s-5 48-4 73s3 52 5 75s4 39 6 58"/>
<path stroke="#2ce17f" d="M3768 1388c-16 14-44 36-62 50s-29 21-44 34M3595 1721c1 16 2 17 3 34s-1 48-2 68s-2 36-3 54M3689 1530c-8 18-26 49-36 65s-18 23-27 34s-14 15-22 30M3729 1366c-16 16-25 34-37 52s-25 44-34 58s-6 8-17 21M3566 1713c1 20 2 25 1 42s-6 45-9 65M3629 1580c-10 14-13 16-22 31M3873 1162c-10 25-19 55-30 76s-23 36-32 49s-11 15-18 29M3729 1366c-17 16-34 26-50 41s-32 35-44 52M3497 1693c-5 17-10 34-11 58s7 63 10 84s4 30 6 44M3537 1510c-11 17-24 36-35 59M3687 1411c-13 11-12 9-29 23s-54 43-71 58M3470 1681c-6 21-9 36-10 58s-2 51 1 74M3789 1270c-11 22-24 34-32 47s-12 15-20 32s-15 47-24 71M3468 1758c-9 23-9 47-12 67s-2 37-4 56M3866 1155c-11 12-22 20-32 36s-20 42-29 62s-11 40-27 58s-47 38-66 54M3839 1130c-12 16-23 29-37 47s-35 44-47 61s-17 22-27 37M3854 1144c-10 19-21 39-31 57s-19 35-32 49M3828 1120c-17 12-32 22-51 36M3831 1123c-20 12-44 23-62 35M3521 1369c-15 10-20 11-31 25s-30 35-37 60s-5 69-5 94s7 36 9 59s5 53 5 80M3754 1196c-22 10-52 22-77 34s-56 31-74 41s-17 11-31 23M3468 1836c1 20-2 30-3 44M3608 1319c-17 16-46 45-60 60s-13 15-28 34M3403 1667c-2 22-6 56-6 84s0 64 1 85M3667 1288c-10 15-29 41-46 56s-35 20-53 33M3362 1748c0 22 5 47 6 69s0 44 0 66M3519 1432c-25 16-69 37-88 50s-17 4-27 27s-29 82-36 111"/>
<path stroke="#2de26e" d="M3662 1472c-15 12-35 29-47 43s-17 27-22 42s-8 31-9 48s2 34 4 53s5 47 7 63M3878 1166c-15 20-34 44-44 60s-8 19-15 39M3641 1497c-11 13-36 36-49 55s-21 46-26 60s-3 11-3 28s2 54 3 73M3857 1147c-13 12-27 18-40 35M3892 1179c-13 16-23 31-37 47s-35 39-48 54s-19 20-31 32s-26 27-39 41M3793 1316c-8 14-16 34-26 55s-23 53-39 71M3456 1746c0 25 12 57 17 79s10 37 15 55M3635 1459c-12 17-20 34-28 49s-15 28-23 41s-15 24-26 41s-31 45-41 62s-15 25-20 41M3587 1492c-16 14-14 10-27 26s-41 54-52 70s-8 13-15 28s-17 45-23 65M3713 1420c-10 24-21 56-31 71s-11 9-25 21s-42 29-57 46M3535 1660c-9 12-11 11-22 27s-36 48-45 71M3712 1365c-19 16-36 30-47 41s-5 12-16 27M3470 1687c-7 23-25 67-31 87s-7 13-5 31s11 50 17 76M3827 1119c-16 11-32 18-49 32M3728 1275c-11 15-26 37-37 52s-14 21-27 38s-38 52-51 68M3453 1774c2 26 7 43 10 61s6 30 9 45M3791 1250c-13 13-32 23-47 34s-31 15-46 28s-27 28-46 47M3455 1816c6 21 14 43 20 64M3777 1156c-19 15-46 36-62 49s-22 18-35 30s-32 30-46 44M3769 1158c-18 11-33 23-46 35s-23 23-35 37s-21 27-37 46s-39 45-54 64M3798 1092c-21 14-45 29-62 42s-26 24-41 36s-32 24-48 36s-36 22-52 33M3572 1294c-14 12-38 32-53 49s-22 31-33 52M3439 1640c1 30 5 44 8 64s8 33 11 55s8 57 10 77M3520 1413c-14 19-45 61-59 82s-16 22-24 43s-20 59-26 80s-5 27-8 49M3568 1377c-18 13-39 27-55 46s-33 49-44 68M3442 1535c-13 22-40 60-52 84s-20 43-24 65s-4 42-4 64"/>
<path stroke="#36e25e" d="M3819 1265c-7 20-20 64-27 84s-8 16-18 35s-34 62-42 79M3540 1775c-9 21-18 38-23 55s-6 33-8 49M3817 1182c-12 16-27 43-36 65s-13 47-17 67s-5 35-11 55M3737 1353c-13 13-25 25-39 42s-36 41-49 57M3494 1757c-1 21 1 36 2 57s6 44 9 65M3728 1442c-16 19-37 26-56 38s-45 20-61 30s-28 25-38 35M3498 1641c-13 17-17 19-24 36s-18 45-18 69M3600 1558c-15 16-23 36-34 53s-22 36-31 49M3649 1433c-11 15-33 47-49 62s-31 15-48 29s-45 38-57 56s-10 39-15 56s-4 28-10 51M3778 1151c-17 14-40 34-54 52s-21 33-31 52s-16 42-24 62M3613 1433c-13 16-11 13-26 29s-45 46-61 66M3464 1633c-6 18-10 26-11 50s-2 66 0 91M3652 1359c-18 19-43 48-63 65s-43 26-57 38M3461 1641c-5 23-10 23-14 42s-11 46-9 68s11 43 17 65M3634 1279c-13 14-22 24-34 41s-28 46-37 65s-9 29-13 51M3497 1716c-5 18-9 27-14 48s-13 54-17 73s-6 29-9 44M3597 1340c-16 20-31 36-40 51s-13 22-19 39M3480 1695c-5 16-12 36-18 55s-11 34-15 56s-6 50-10 75M3595 1239c-15 12-26 16-39 35s-34 54-43 79M3469 1698c3 21 8 51 9 69s1 19 0 38s-3 50-4 75M3486 1395c-10 20-22 47-30 69s-13 35-16 64s-2 83-1 112M3469 1491c-12 19-14 23-27 44"/>
<path stroke="#47e352" d="M3732 1463c-8 18-3 14-7 27s-5 36-16 54M3599 1652c-9 14-18 34-27 55s-23 47-32 68M3753 1369c-5 21-13 50-21 69s-15 31-29 45M3487 1690c-4 17-10 37-8 61s11 58 19 80s16 32 24 48M3649 1452c-13 15-18 20-30 35s-27 33-40 50M3542 1592c-10 18-18 36-25 52s-10 25-14 44s-8 48-9 69M3573 1545c-10 11-11 13-23 29s-40 50-52 67M3669 1317c-8 21-15 40-24 59s-19 40-29 58M3532 1713c-4 15-7 27-13 45s-16 46-22 66s-12 37-17 56M3526 1528c-17 19-27 33-38 51s-18 37-24 54M3532 1462c-15 12-22 19-30 33s-13 26-20 50s-15 73-21 96M3550 1436c-4 22-9 56-12 79s-4 35-8 59s-10 61-16 85s-12 40-17 57M3538 1430c-6 16-12 32-17 58s-11 72-15 100s-8 49-13 66s-7 25-13 41M3513 1353c-10 26-9 50-15 75s-15 55-21 74M3465 1545c-3 23-5 69-5 95s6 37 9 58"/>
<path stroke="#57e546" d="M3709 1544c-11 18-37 42-50 54s-22 14-32 23s-19 17-28 31M3703 1483c-14 15-38 28-57 41s-38 22-53 33s-23 14-38 30s-40 49-52 66s-11 21-16 37M3579 1537c-13 18-26 37-37 55M3616 1434c-9 17-18 32-27 48s-16 31-22 48s-11 30-15 53s-8 62-11 83s-6 31-9 47M3477 1502c-5 20-9 20-12 43"/>
</g>
<rect x="652.6" y="432.1" width="503.3" height="726.3" fill="none" stroke="#ff0000" stroke-width="10.2" stroke-linejoin="round"/>
<rect x="652.6" y="1191.1" width="568.3" height="669.8" fill="none" stroke="#ff33cc" stroke-width="10.2" stroke-linejoin="round"/>
<rect x="1884.6" y="424.1" width="607.3" height="758.8" fill="none" stroke="#ff0000" stroke-width="10.2" stroke-linejoin="round"/>
<rect x="1884.6" y="1208.1" width="496.3" height="649.3" fill="none" stroke="#ff33cc" stroke-width="10.2" stroke-linejoin="round"/>
<rect x="3317.1" y="425.1" width="685.3" height="732.3" fill="none" stroke="#ff0000" stroke-width="10.2" stroke-linejoin="round"/>
<rect x="3317.1" y="1183.6" width="471.3" height="676.3" fill="none" stroke="#ff33cc" stroke-width="10.2" stroke-linejoin="round"/>
<rect x="346.6" y="536.6" width="175.3" height="254.3" fill="none" stroke="#ff0000" stroke-width="10.2" stroke-linejoin="round"/>
<rect x="316.6" y="1188.6" width="178.8" height="211.3" fill="none" stroke="#ff33cc" stroke-width="10.2" stroke-linejoin="round"/>
<rect x="1494.1" y="520.1" width="257.8" height="322.3" fill="none" stroke="#ff0000" stroke-width="10.2" stroke-linejoin="round"/>
<rect x="1472.6" y="1072.1" width="212.8" height="238.8" fill="none" stroke="#ff33cc" stroke-width="10.2" stroke-linejoin="round"/>
<rect x="2848.1" y="485.1" width="272.8" height="276.8" fill="none" stroke="#ff0000" stroke-width="10.2" stroke-linejoin="round"/>
<rect x="2914.1" y="1108.1" width="188.8" height="253.8" fill="none" stroke="#ff33cc" stroke-width="10.2" stroke-linejoin="round"/>
<line x1="445" y1="580" x2="404.5" y2="704.5" stroke="#fff" stroke-width="6.6" stroke-dasharray="13 7.1"/>
<line x1="338" y1="1286" x2="464" y2="1331" stroke="#fff" stroke-width="6.6" stroke-dasharray="13 7.1"/>
<line x1="1692" y1="609" x2="1568" y2="760" stroke="#fff" stroke-width="6.6" stroke-dasharray="13 7.1"/>
<line x1="1494.5" y1="1198.5" x2="1668" y2="1198.5" stroke="#fff" stroke-width="6.6" stroke-dasharray="13 7.1"/>
<line x1="2972.5" y1="498" x2="2972.5" y2="651" stroke="#fff" stroke-width="6.6" stroke-dasharray="13 7.1"/>
<line x1="2932" y1="1263.5" x2="3080" y2="1263.5" stroke="#fff" stroke-width="6.6" stroke-dasharray="13 7.1"/>
<text class="w" x="366" y="775.5" font-size="100" text-anchor="start">I</text>
<text class="w" x="506" y="1381.5" font-size="100" text-anchor="start">II</text>
<text class="w" x="1638" y="598" font-size="100" text-anchor="start">III</text>
<text class="w" x="1359" y="1248.5" font-size="100" text-anchor="start">IV</text>
<text class="w" x="2920" y="741.5" font-size="100" text-anchor="start">V</text>
<text class="w" x="2800" y="1300" font-size="100" text-anchor="start">VI</text>
<path d="M356.4 1847C357 1838.1 358.6 1813.5 360 1793.5C361.4 1773.5 363 1747.6 364.7 1727C366.4 1706.4 368.4 1683.8 370 1670C371.6 1656.2 372.9 1650.1 374.3 1644C375.7 1637.9 377 1635.7 378.4 1633.5C379.8 1631.3 381.1 1630.8 382.4 1630.8C383.7 1630.8 385 1631.3 386.4 1633.5C387.8 1635.7 388.9 1637.9 390.7 1644C392.5 1650.1 394.4 1656.1 397.4 1670C400.4 1683.9 404.6 1706.8 408.6 1727.4C412.6 1748 417.1 1773.6 421.5 1793.5C425.9 1813.4 432.9 1838.1 435.2 1847L624 1847" fill="none" stroke="#fff" stroke-width="6" stroke-linejoin="miter" stroke-linecap="square"/>
<circle cx="408.6" cy="1727.4" r="9.6" fill="#fff200"/>
<path d="M1588.4 1847C1589 1838.1 1590.6 1813.5 1592 1793.5C1593.4 1773.5 1595 1747.6 1596.7 1727C1598.4 1706.4 1600.4 1683.8 1602 1670C1603.6 1656.2 1604.9 1650.1 1606.3 1644C1607.7 1637.9 1609.1 1635.7 1610.4 1633.5C1611.8 1631.3 1613.1 1630.8 1614.4 1630.8C1615.7 1630.8 1617 1631.3 1618.4 1633.5C1619.8 1635.7 1620.9 1637.9 1622.7 1644C1624.5 1650.1 1626.4 1656.1 1629.4 1670C1632.4 1683.9 1636.6 1706.8 1640.6 1727.4C1644.6 1748 1649.1 1773.6 1653.5 1793.5C1657.9 1813.4 1664.9 1838.1 1667.2 1847L1856 1847" fill="none" stroke="#fff" stroke-width="6" stroke-linejoin="miter" stroke-linecap="square"/>
<circle cx="1640" cy="1727.4" r="9.6" fill="#fff200"/>
<path d="M3022 1846.5C3022.6 1837.6 3024.2 1813 3025.6 1793C3027 1773 3028.6 1747.1 3030.3 1726.5C3032 1705.9 3034 1683.3 3035.6 1669.5C3037.2 1655.7 3038.5 1649.6 3039.9 1643.5C3041.3 1637.4 3042.7 1635.2 3044 1633C3045.3 1630.8 3046.7 1630.3 3048 1630.3C3049.3 1630.3 3050.6 1630.8 3052 1633C3053.4 1635.2 3054.5 1637.4 3056.3 1643.5C3058.1 1649.6 3060 1655.6 3063 1669.5C3066 1683.4 3070.2 1706.3 3074.2 1726.9C3078.2 1747.5 3082.7 1773.1 3087.1 1793C3091.5 1812.9 3098.5 1837.6 3100.8 1846.5L3288.5 1846.5" fill="none" stroke="#fff" stroke-width="6" stroke-linejoin="miter" stroke-linecap="square"/>
<circle cx="3074.6" cy="1727.4" r="9.6" fill="#fff200"/>
<text x="633.5" y="1959" font-size="100" text-anchor="middle">P1</text>
<text x="1937.5" y="1959" font-size="100" text-anchor="middle">P2</text>
<text x="3308" y="1959" font-size="100" text-anchor="middle">P3</text>
<defs>
<filter id="bl3" x="-30%" y="-30%" width="160%" height="160%"><feGaussianBlur stdDeviation="3"/></filter>
<filter id="bl5" x="-30%" y="-30%" width="160%" height="160%"><feGaussianBlur stdDeviation="5"/></filter>
<filter id="bl8" x="-30%" y="-30%" width="160%" height="160%"><feGaussianBlur stdDeviation="8"/></filter>
<filter id="bl12" x="-30%" y="-30%" width="160%" height="160%"><feGaussianBlur stdDeviation="12"/></filter>
<filter id="bl18" x="-30%" y="-30%" width="160%" height="160%"><feGaussianBlur stdDeviation="18"/></filter>
<filter id="bl26" x="-30%" y="-30%" width="160%" height="160%"><feGaussianBlur stdDeviation="26"/></filter>
</defs>
<clipPath id="k1"><path d="M379.2 2100C395.6 2099.6 409.5 2102 424.6 2106.6C439.8 2111.1 454.9 2118.6 470 2127.4C485.2 2136.2 501.8 2147.1 515.5 2159.2C529.2 2171.2 542.2 2185.3 552.1 2199.8C562.1 2214.2 569.9 2230.3 575.2 2245.9C580.5 2261.6 583.5 2277.8 584 2293.7C584.5 2309.6 582.4 2325.8 578.4 2341.4C574.5 2357.1 568 2373 560.1 2387.6C552.3 2402.2 542.3 2416.5 531.4 2429C520.5 2441.5 507.9 2453 494.7 2462.4C481.6 2471.9 466.6 2479.6 452.5 2485.5C438.4 2491.5 424 2495.6 410.3 2498.1C396.6 2500.6 384.4 2501.5 370.4 2500.3C356.5 2499.1 341.9 2496.1 326.6 2490.9C311.3 2485.6 294.3 2478.1 278.8 2468.7C263.2 2459.4 247.2 2447.5 233.4 2434.5C219.5 2421.5 206.3 2406.3 195.9 2390.8C185.5 2375.3 176.8 2358.2 171.1 2341.4C165.3 2324.7 161.8 2307.2 161.3 2290.5C160.8 2273.8 163.1 2256.8 167.8 2241.2C172.5 2225.5 180 2210.3 189.5 2196.6C198.9 2182.9 210.9 2170.3 224.6 2159.2C238.2 2148.1 254.6 2138.2 271.6 2129.8C288.6 2121.4 308.7 2113.9 326.6 2108.9C344.6 2103.9 362.9 2100.4 379.2 2100Z"/></clipPath>
<g clip-path="url(#k1)">
<rect x="101" y="2040" width="543" height="520" fill="#00ff7a"/>
<g filter="url(#bl26)"><ellipse cx="300" cy="2330" rx="120" ry="130" fill="#00f52a"/><ellipse cx="470" cy="2290" rx="80" ry="110" fill="#00ff86"/><ellipse cx="330" cy="2470" rx="70" ry="36" fill="#08f818"/></g>
<g filter="url(#bl12)"><ellipse cx="250" cy="2335" rx="58" ry="92" fill="#22f400" transform="rotate(-8 250 2335)"/><ellipse cx="244" cy="2322" rx="34" ry="62" fill="#74f800" transform="rotate(-8 244 2322)"/></g>
<g filter="url(#bl18)"><ellipse cx="384" cy="2404" rx="40" ry="62" fill="#00ffc4" transform="rotate(-18 384 2404)" opacity="0.85"/><ellipse cx="360" cy="2350" rx="36" ry="30" fill="#00ffb0" opacity="0.6"/></g>
<g filter="url(#bl8)"><ellipse cx="360" cy="2378" rx="20" ry="28" fill="#00fff6" transform="rotate(25 360 2378)"/><ellipse cx="352" cy="2392" rx="12" ry="16" fill="#00f0ff"/></g>
<g filter="url(#bl8)"><path d="M379.2 2100C395.6 2099.6 409.5 2102 424.6 2106.6C439.8 2111.1 454.9 2118.6 470 2127.4C485.2 2136.2 501.8 2147.1 515.5 2159.2C529.2 2171.2 542.2 2185.3 552.1 2199.8C562.1 2214.2 569.9 2230.3 575.2 2245.9C580.5 2261.6 583.5 2277.8 584 2293.7C584.5 2309.6 582.4 2325.8 578.4 2341.4C574.5 2357.1 568 2373 560.1 2387.6C552.3 2402.2 542.3 2416.5 531.4 2429C520.5 2441.5 507.9 2453 494.7 2462.4C481.6 2471.9 466.6 2479.6 452.5 2485.5C438.4 2491.5 424 2495.6 410.3 2498.1C396.6 2500.6 384.4 2501.5 370.4 2500.3C356.5 2499.1 341.9 2496.1 326.6 2490.9C311.3 2485.6 294.3 2478.1 278.8 2468.7C263.2 2459.4 247.2 2447.5 233.4 2434.5C219.5 2421.5 206.3 2406.3 195.9 2390.8C185.5 2375.3 176.8 2358.2 171.1 2341.4C165.3 2324.7 161.8 2307.2 161.3 2290.5C160.8 2273.8 163.1 2256.8 167.8 2241.2C172.5 2225.5 180 2210.3 189.5 2196.6C198.9 2182.9 210.9 2170.3 224.6 2159.2C238.2 2148.1 254.6 2138.2 271.6 2129.8C288.6 2121.4 308.7 2113.9 326.6 2108.9C344.6 2103.9 362.9 2100.4 379.2 2100Z" fill="none" stroke="#00fff0" stroke-width="24" stroke-linecap="round" stroke-linejoin="round"/><path d="M290 2122C298.3 2119.3 324.3 2110 340 2106C355.7 2102 369 2098 384 2098C399 2098 415.7 2101.3 430 2106C444.3 2110.7 455.3 2117.3 470 2126C484.7 2134.7 503.7 2145.7 518 2158C532.3 2170.3 546 2185 556 2200C566 2215 573 2232 578 2248C583 2264 585.3 2280.7 586 2296C586.7 2311.3 585 2326.7 582 2340C579 2353.3 570.3 2370 568 2376" fill="none" stroke="#00f0ff" stroke-width="70" stroke-linecap="round" stroke-linejoin="round"/><path d="M290 2122C298.3 2119.3 324.3 2110 340 2106C355.7 2102 369 2098 384 2098C399 2098 415.7 2101.3 430 2106C444.3 2110.7 455.3 2117.3 470 2126C484.7 2134.7 503.7 2145.7 518 2158C532.3 2170.3 546 2185 556 2200C566 2215 573 2232 578 2248C583 2264 585.3 2280.7 586 2296C586.7 2311.3 585 2326.7 582 2340C579 2353.3 570.3 2370 568 2376" fill="none" stroke="#00a0ff" stroke-width="38" stroke-linecap="round" stroke-linejoin="round"/><path d="M290 2122C298.3 2119.3 324.3 2110 340 2106C355.7 2102 369 2098 384 2098C399 2098 415.7 2101.3 430 2106C444.3 2110.7 455.3 2117.3 470 2126C484.7 2134.7 503.7 2145.7 518 2158C532.3 2170.3 546 2185 556 2200C566 2215 573 2232 578 2248C583 2264 585.3 2280.7 586 2296C586.7 2311.3 585 2326.7 582 2340C579 2353.3 570.3 2370 568 2376" fill="none" stroke="#0060f4" stroke-width="17" stroke-linecap="round" stroke-linejoin="round"/><ellipse cx="424" cy="2482" rx="12" ry="16" fill="#0080ff" transform="rotate(-30 424 2482)"/><ellipse cx="404" cy="2464" rx="18" ry="10" fill="#00f0ff" transform="rotate(-20 404 2464)"/><ellipse cx="215" cy="2416" rx="8" ry="22" fill="#00a8ff" transform="rotate(-40 215 2416)"/></g>
</g>
<clipPath id="k2a"><path d="M914.9 2077.5C930.7 2077.2 946.5 2078.8 960.9 2082.2C975.2 2085.6 988.5 2090.7 1000.9 2097.9C1013.4 2105.2 1024.8 2114.5 1035.7 2125.6C1046.7 2136.8 1057.3 2150.5 1066.7 2164.9C1076.1 2179.4 1085.2 2196.1 1092.3 2212.1C1099.3 2228.2 1105.2 2245.2 1109.2 2261.1C1113.1 2277.1 1115.3 2293 1115.9 2307.9C1116.5 2322.9 1115.3 2337.6 1112.6 2350.7C1109.9 2363.8 1105.3 2376.4 1099.7 2386.6C1094.1 2396.9 1086.6 2405.7 1079 2412.1C1071.5 2418.6 1062.7 2423.1 1054.3 2425.6C1046 2428 1037.6 2428.4 1028.6 2426.8C1019.7 2425.2 1011 2421.5 1000.5 2415.9C990 2410.4 978.8 2402.4 965.9 2393.4C953 2384.5 938.3 2373.1 923.2 2362C908.1 2351 891.2 2338.6 875.2 2327.3C859.2 2316.1 842.1 2304.9 827 2294.6C811.9 2284.4 796.7 2275.1 784.5 2266C772.4 2256.9 761.6 2248.7 754.2 2239.9C746.7 2231.2 742.1 2222.7 740 2213.5C737.9 2204.3 738.9 2194.7 741.6 2184.9C744.4 2175.1 749.7 2164.7 756.6 2154.8C763.6 2145 772.6 2134.7 783.3 2125.7C794 2116.6 806.9 2107.7 820.8 2100.7C834.6 2093.7 850.6 2087.7 866.3 2083.8C882 2080 899.1 2077.8 914.9 2077.5Z"/></clipPath>
<g clip-path="url(#k2a)">
<rect x="680" y="2018" width="496" height="469" fill="#00c8ff"/>
<g filter="url(#bl26)"><ellipse cx="940" cy="2200" rx="120" ry="90" fill="#00e4ff"/><ellipse cx="1010" cy="2330" rx="70" ry="70" fill="#00bcff"/></g>
<g filter="url(#bl12)"><path d="M914.9 2077.5C930.7 2077.2 946.5 2078.8 960.9 2082.2C975.2 2085.6 988.5 2090.7 1000.9 2097.9C1013.4 2105.2 1024.8 2114.5 1035.7 2125.6C1046.7 2136.8 1057.3 2150.5 1066.7 2164.9C1076.1 2179.4 1085.2 2196.1 1092.3 2212.1C1099.3 2228.2 1105.2 2245.2 1109.2 2261.1C1113.1 2277.1 1115.3 2293 1115.9 2307.9C1116.5 2322.9 1115.3 2337.6 1112.6 2350.7C1109.9 2363.8 1105.3 2376.4 1099.7 2386.6C1094.1 2396.9 1086.6 2405.7 1079 2412.1C1071.5 2418.6 1062.7 2423.1 1054.3 2425.6C1046 2428 1037.6 2428.4 1028.6 2426.8C1019.7 2425.2 1011 2421.5 1000.5 2415.9C990 2410.4 978.8 2402.4 965.9 2393.4C953 2384.5 938.3 2373.1 923.2 2362C908.1 2351 891.2 2338.6 875.2 2327.3C859.2 2316.1 842.1 2304.9 827 2294.6C811.9 2284.4 796.7 2275.1 784.5 2266C772.4 2256.9 761.6 2248.7 754.2 2239.9C746.7 2231.2 742.1 2222.7 740 2213.5C737.9 2204.3 738.9 2194.7 741.6 2184.9C744.4 2175.1 749.7 2164.7 756.6 2154.8C763.6 2145 772.6 2134.7 783.3 2125.7C794 2116.6 806.9 2107.7 820.8 2100.7C834.6 2093.7 850.6 2087.7 866.3 2083.8C882 2080 899.1 2077.8 914.9 2077.5Z" fill="none" stroke="#0090ff" stroke-width="64" stroke-linecap="round" stroke-linejoin="round"/><path d="M914.9 2077.5C930.7 2077.2 946.5 2078.8 960.9 2082.2C975.2 2085.6 988.5 2090.7 1000.9 2097.9C1013.4 2105.2 1024.8 2114.5 1035.7 2125.6C1046.7 2136.8 1057.3 2150.5 1066.7 2164.9C1076.1 2179.4 1085.2 2196.1 1092.3 2212.1C1099.3 2228.2 1105.2 2245.2 1109.2 2261.1C1113.1 2277.1 1115.3 2293 1115.9 2307.9C1116.5 2322.9 1115.3 2337.6 1112.6 2350.7C1109.9 2363.8 1105.3 2376.4 1099.7 2386.6C1094.1 2396.9 1086.6 2405.7 1079 2412.1C1071.5 2418.6 1062.7 2423.1 1054.3 2425.6C1046 2428 1037.6 2428.4 1028.6 2426.8C1019.7 2425.2 1011 2421.5 1000.5 2415.9C990 2410.4 978.8 2402.4 965.9 2393.4C953 2384.5 938.3 2373.1 923.2 2362C908.1 2351 891.2 2338.6 875.2 2327.3C859.2 2316.1 842.1 2304.9 827 2294.6C811.9 2284.4 796.7 2275.1 784.5 2266C772.4 2256.9 761.6 2248.7 754.2 2239.9C746.7 2231.2 742.1 2222.7 740 2213.5C737.9 2204.3 738.9 2194.7 741.6 2184.9C744.4 2175.1 749.7 2164.7 756.6 2154.8C763.6 2145 772.6 2134.7 783.3 2125.7C794 2116.6 806.9 2107.7 820.8 2100.7C834.6 2093.7 850.6 2087.7 866.3 2083.8C882 2080 899.1 2077.8 914.9 2077.5Z" fill="none" stroke="#0050f8" stroke-width="34" stroke-linecap="round" stroke-linejoin="round"/><path d="M914.9 2077.5C930.7 2077.2 946.5 2078.8 960.9 2082.2C975.2 2085.6 988.5 2090.7 1000.9 2097.9C1013.4 2105.2 1024.8 2114.5 1035.7 2125.6C1046.7 2136.8 1057.3 2150.5 1066.7 2164.9C1076.1 2179.4 1085.2 2196.1 1092.3 2212.1C1099.3 2228.2 1105.2 2245.2 1109.2 2261.1C1113.1 2277.1 1115.3 2293 1115.9 2307.9C1116.5 2322.9 1115.3 2337.6 1112.6 2350.7C1109.9 2363.8 1105.3 2376.4 1099.7 2386.6C1094.1 2396.9 1086.6 2405.7 1079 2412.1C1071.5 2418.6 1062.7 2423.1 1054.3 2425.6C1046 2428 1037.6 2428.4 1028.6 2426.8C1019.7 2425.2 1011 2421.5 1000.5 2415.9C990 2410.4 978.8 2402.4 965.9 2393.4C953 2384.5 938.3 2373.1 923.2 2362C908.1 2351 891.2 2338.6 875.2 2327.3C859.2 2316.1 842.1 2304.9 827 2294.6C811.9 2284.4 796.7 2275.1 784.5 2266C772.4 2256.9 761.6 2248.7 754.2 2239.9C746.7 2231.2 742.1 2222.7 740 2213.5C737.9 2204.3 738.9 2194.7 741.6 2184.9C744.4 2175.1 749.7 2164.7 756.6 2154.8C763.6 2145 772.6 2134.7 783.3 2125.7C794 2116.6 806.9 2107.7 820.8 2100.7C834.6 2093.7 850.6 2087.7 866.3 2083.8C882 2080 899.1 2077.8 914.9 2077.5Z" fill="none" stroke="#0028e8" stroke-width="14" stroke-linecap="round" stroke-linejoin="round"/></g>
</g>
<clipPath id="k2b"><path d="M736.9 2299C743.7 2298.4 752.6 2299.7 762 2303C771.4 2306.3 781.5 2312.7 793 2319C804.5 2325.3 817.6 2333 830.7 2340.8C843.8 2348.6 858.4 2356.9 871.4 2365.8C884.4 2374.7 897.5 2385.1 908.9 2394C920.3 2402.9 930.6 2411.2 940 2419C949.4 2426.8 959 2434.8 965 2441C971 2447.2 974.9 2450.8 976 2456.5C977.1 2462.2 974.8 2469.8 971.4 2475C968 2480.2 963.1 2484.6 955.8 2487.8C948.5 2491 938.1 2493.5 927.6 2494C917.1 2494.5 905.5 2493.6 893 2491C880.5 2488.4 865.6 2484.2 852.6 2478.4C839.6 2472.7 827 2464.8 815 2456.5C803 2448.2 791.6 2438.8 780.7 2428.4C769.8 2418 758.8 2404.9 749.4 2394C740 2383.1 730.6 2372.1 724.4 2362.7C718.1 2353.3 713.7 2345 711.9 2337.7C710.1 2330.4 711.9 2324.2 713.5 2319C715.1 2313.8 717.4 2309.7 721.3 2306.4C725.2 2303.1 730.1 2299.6 736.9 2299Z"/></clipPath>
<g clip-path="url(#k2b)">
<rect x="652" y="2239" width="384" height="315" fill="#ff0000"/>
<g filter="url(#bl3)"><path d="M736.9 2299C743.7 2298.4 752.6 2299.7 762 2303C771.4 2306.3 781.5 2312.7 793 2319C804.5 2325.3 817.6 2333 830.7 2340.8C843.8 2348.6 858.4 2356.9 871.4 2365.8C884.4 2374.7 897.5 2385.1 908.9 2394C920.3 2402.9 930.6 2411.2 940 2419C949.4 2426.8 959 2434.8 965 2441C971 2447.2 974.9 2450.8 976 2456.5C977.1 2462.2 974.8 2469.8 971.4 2475C968 2480.2 963.1 2484.6 955.8 2487.8C948.5 2491 938.1 2493.5 927.6 2494C917.1 2494.5 905.5 2493.6 893 2491C880.5 2488.4 865.6 2484.2 852.6 2478.4C839.6 2472.7 827 2464.8 815 2456.5C803 2448.2 791.6 2438.8 780.7 2428.4C769.8 2418 758.8 2404.9 749.4 2394C740 2383.1 730.6 2372.1 724.4 2362.7C718.1 2353.3 713.7 2345 711.9 2337.7C710.1 2330.4 711.9 2324.2 713.5 2319C715.1 2313.8 717.4 2309.7 721.3 2306.4C725.2 2303.1 730.1 2299.6 736.9 2299Z" fill="none" stroke="#ff7000" stroke-width="40" stroke-linecap="round" stroke-linejoin="round"/><path d="M736.9 2299C743.7 2298.4 752.6 2299.7 762 2303C771.4 2306.3 781.5 2312.7 793 2319C804.5 2325.3 817.6 2333 830.7 2340.8C843.8 2348.6 858.4 2356.9 871.4 2365.8C884.4 2374.7 897.5 2385.1 908.9 2394C920.3 2402.9 930.6 2411.2 940 2419C949.4 2426.8 959 2434.8 965 2441C971 2447.2 974.9 2450.8 976 2456.5C977.1 2462.2 974.8 2469.8 971.4 2475C968 2480.2 963.1 2484.6 955.8 2487.8C948.5 2491 938.1 2493.5 927.6 2494C917.1 2494.5 905.5 2493.6 893 2491C880.5 2488.4 865.6 2484.2 852.6 2478.4C839.6 2472.7 827 2464.8 815 2456.5C803 2448.2 791.6 2438.8 780.7 2428.4C769.8 2418 758.8 2404.9 749.4 2394C740 2383.1 730.6 2372.1 724.4 2362.7C718.1 2353.3 713.7 2345 711.9 2337.7C710.1 2330.4 711.9 2324.2 713.5 2319C715.1 2313.8 717.4 2309.7 721.3 2306.4C725.2 2303.1 730.1 2299.6 736.9 2299Z" fill="none" stroke="#ffe000" stroke-width="30" stroke-linecap="round" stroke-linejoin="round"/><path d="M736.9 2299C743.7 2298.4 752.6 2299.7 762 2303C771.4 2306.3 781.5 2312.7 793 2319C804.5 2325.3 817.6 2333 830.7 2340.8C843.8 2348.6 858.4 2356.9 871.4 2365.8C884.4 2374.7 897.5 2385.1 908.9 2394C920.3 2402.9 930.6 2411.2 940 2419C949.4 2426.8 959 2434.8 965 2441C971 2447.2 974.9 2450.8 976 2456.5C977.1 2462.2 974.8 2469.8 971.4 2475C968 2480.2 963.1 2484.6 955.8 2487.8C948.5 2491 938.1 2493.5 927.6 2494C917.1 2494.5 905.5 2493.6 893 2491C880.5 2488.4 865.6 2484.2 852.6 2478.4C839.6 2472.7 827 2464.8 815 2456.5C803 2448.2 791.6 2438.8 780.7 2428.4C769.8 2418 758.8 2404.9 749.4 2394C740 2383.1 730.6 2372.1 724.4 2362.7C718.1 2353.3 713.7 2345 711.9 2337.7C710.1 2330.4 711.9 2324.2 713.5 2319C715.1 2313.8 717.4 2309.7 721.3 2306.4C725.2 2303.1 730.1 2299.6 736.9 2299Z" fill="none" stroke="#80ff00" stroke-width="19" stroke-linecap="round" stroke-linejoin="round"/><path d="M736.9 2299C743.7 2298.4 752.6 2299.7 762 2303C771.4 2306.3 781.5 2312.7 793 2319C804.5 2325.3 817.6 2333 830.7 2340.8C843.8 2348.6 858.4 2356.9 871.4 2365.8C884.4 2374.7 897.5 2385.1 908.9 2394C920.3 2402.9 930.6 2411.2 940 2419C949.4 2426.8 959 2434.8 965 2441C971 2447.2 974.9 2450.8 976 2456.5C977.1 2462.2 974.8 2469.8 971.4 2475C968 2480.2 963.1 2484.6 955.8 2487.8C948.5 2491 938.1 2493.5 927.6 2494C917.1 2494.5 905.5 2493.6 893 2491C880.5 2488.4 865.6 2484.2 852.6 2478.4C839.6 2472.7 827 2464.8 815 2456.5C803 2448.2 791.6 2438.8 780.7 2428.4C769.8 2418 758.8 2404.9 749.4 2394C740 2383.1 730.6 2372.1 724.4 2362.7C718.1 2353.3 713.7 2345 711.9 2337.7C710.1 2330.4 711.9 2324.2 713.5 2319C715.1 2313.8 717.4 2309.7 721.3 2306.4C725.2 2303.1 730.1 2299.6 736.9 2299Z" fill="none" stroke="#00f040" stroke-width="9" stroke-linecap="round" stroke-linejoin="round"/><ellipse cx="722" cy="2312" rx="16" ry="22" fill="#00e0ff" transform="rotate(30 722 2312)"/><ellipse cx="716" cy="2306" rx="10" ry="12" fill="#0070ff"/></g>
</g>
<clipPath id="k3"><path d="M1742.7 2281.3C1742.7 2297.6 1740.9 2314.4 1737.1 2330.2C1733.4 2346 1727.6 2361.9 1720.3 2376.2C1712.9 2390.6 1703.3 2404.1 1693 2416.3C1682.8 2428.6 1671.1 2439.8 1658.8 2449.9C1646.6 2460.1 1633.6 2469.8 1619.6 2477.3C1605.6 2484.9 1590.3 2491.2 1574.9 2495.2C1559.4 2499.2 1543 2501.1 1527 2501.2C1511 2501.3 1494.6 2499.4 1479 2495.8C1463.4 2492.2 1447.8 2486.6 1433.4 2479.5C1419 2472.4 1405 2463.5 1392.5 2453.3C1380 2443.1 1368.3 2431.2 1358.4 2418.5C1348.4 2405.7 1339.6 2391.5 1332.7 2376.8C1325.7 2362.1 1320.3 2346.2 1316.7 2330.3C1313.1 2314.3 1311.3 2297.6 1311.3 2281.3C1311.3 2265 1313.1 2248.3 1316.7 2232.3C1320.3 2216.4 1325.7 2200.5 1332.7 2185.8C1339.6 2171.1 1348.4 2156.9 1358.4 2144.1C1368.3 2131.4 1380 2119.5 1392.5 2109.3C1405 2099.1 1418.9 2090.1 1433.3 2083C1447.7 2075.8 1463.3 2070.1 1478.9 2066.3C1494.5 2062.5 1510.9 2060.3 1527 2060C1543.1 2059.8 1559.7 2061.3 1575.4 2064.8C1591.2 2068.4 1607 2073.9 1621.5 2081.2C1636 2088.4 1650 2097.7 1662.4 2108.1C1674.9 2118.5 1686.3 2130.7 1696.2 2143.7C1706.1 2156.6 1714.7 2171 1721.5 2185.7C1728.4 2200.5 1733.8 2216.4 1737.3 2232.3C1740.9 2248.3 1742.7 2265 1742.7 2281.3Z"/></clipPath>
<g clip-path="url(#k3)">
<rect x="1251" y="2000" width="551" height="561" fill="#00ff70"/>
<g filter="url(#bl26)"><ellipse cx="1500" cy="2370" rx="110" ry="90" fill="#00fb48"/><ellipse cx="1620" cy="2330" rx="70" ry="120" fill="#00ffc0"/><ellipse cx="1560" cy="2270" rx="90" ry="50" fill="#00ffd0"/></g>
<g filter="url(#bl12)"><path d="M1400 2205C1411.7 2199 1426.7 2194.5 1440 2196C1453.3 2197.5 1466.7 2208.7 1480 2214C1493.3 2219.3 1509.2 2222.8 1520 2228C1530.8 2233.2 1548.3 2243 1545 2245C1541.7 2247 1515.8 2242.8 1500 2240C1484.2 2237.2 1465 2229.3 1450 2228C1435 2226.7 1420.8 2226.3 1410 2232C1399.2 2237.7 1392 2251 1385 2262C1378 2273 1373.5 2291.7 1368 2298C1362.5 2304.3 1354.7 2304.7 1352 2300C1349.3 2295.3 1349 2281.3 1352 2270C1355 2258.7 1362 2242.8 1370 2232C1378 2221.2 1388.3 2211 1400 2205Z" fill="#00f0ff"/><path d="M1400 2205C1411.7 2199 1426.7 2194.5 1440 2196C1453.3 2197.5 1466.7 2208.7 1480 2214C1493.3 2219.3 1509.2 2222.8 1520 2228C1530.8 2233.2 1548.3 2243 1545 2245C1541.7 2247 1515.8 2242.8 1500 2240C1484.2 2237.2 1465 2229.3 1450 2228C1435 2226.7 1420.8 2226.3 1410 2232C1399.2 2237.7 1392 2251 1385 2262C1378 2273 1373.5 2291.7 1368 2298C1362.5 2304.3 1354.7 2304.7 1352 2300C1349.3 2295.3 1349 2281.3 1352 2270C1355 2258.7 1362 2242.8 1370 2232C1378 2221.2 1388.3 2211 1400 2205Z" fill="none" stroke="#00f4f4" stroke-width="56" stroke-linecap="round" stroke-linejoin="round"/><ellipse cx="1616" cy="2424" rx="20" ry="46" fill="#00fff0" transform="rotate(8 1616 2424)"/><ellipse cx="1590" cy="2300" rx="40" ry="30" fill="#00fff0" opacity="0.8"/></g>
<g filter="url(#bl8)"><path d="M1400 2205C1411.7 2199 1426.7 2194.5 1440 2196C1453.3 2197.5 1466.7 2208.7 1480 2214C1493.3 2219.3 1509.2 2222.8 1520 2228C1530.8 2233.2 1548.3 2243 1545 2245C1541.7 2247 1515.8 2242.8 1500 2240C1484.2 2237.2 1465 2229.3 1450 2228C1435 2226.7 1420.8 2226.3 1410 2232C1399.2 2237.7 1392 2251 1385 2262C1378 2273 1373.5 2291.7 1368 2298C1362.5 2304.3 1354.7 2304.7 1352 2300C1349.3 2295.3 1349 2281.3 1352 2270C1355 2258.7 1362 2242.8 1370 2232C1378 2221.2 1388.3 2211 1400 2205Z" fill="#0098ff"/><path d="M1400 2205C1411.7 2199 1426.7 2194.5 1440 2196C1453.3 2197.5 1466.7 2208.7 1480 2214C1493.3 2219.3 1509.2 2222.8 1520 2228C1530.8 2233.2 1548.3 2243 1545 2245C1541.7 2247 1515.8 2242.8 1500 2240C1484.2 2237.2 1465 2229.3 1450 2228C1435 2226.7 1420.8 2226.3 1410 2232C1399.2 2237.7 1392 2251 1385 2262C1378 2273 1373.5 2291.7 1368 2298C1362.5 2304.3 1354.7 2304.7 1352 2300C1349.3 2295.3 1349 2281.3 1352 2270C1355 2258.7 1362 2242.8 1370 2232C1378 2221.2 1388.3 2211 1400 2205Z" fill="none" stroke="#00a8ff" stroke-width="16" stroke-linecap="round" stroke-linejoin="round"/><ellipse cx="1466" cy="2214" rx="46" ry="16" fill="#0078ff" transform="rotate(15 1466 2214)"/><ellipse cx="1362" cy="2282" rx="12" ry="24" fill="#0088ff" transform="rotate(20 1362 2282)"/></g>
<g filter="url(#bl8)"><path d="M1362 2168C1365.2 2159.3 1374.5 2140.3 1385 2128C1395.5 2115.7 1409.5 2102.7 1425 2094C1440.5 2085.3 1458.8 2078.7 1478 2076C1497.2 2073.3 1519.7 2074.3 1540 2078C1560.3 2081.7 1580.8 2088.5 1600 2098C1619.2 2107.5 1638.7 2120.5 1655 2135C1671.3 2149.5 1686.5 2167.5 1698 2185C1709.5 2202.5 1717.7 2220.8 1724 2240C1730.3 2259.2 1736.3 2283.7 1736 2300C1735.7 2316.3 1726 2332 1722 2338C1718 2344 1717.3 2342.3 1712 2336C1706.7 2329.7 1700.3 2314.3 1690 2300C1679.7 2285.7 1665 2266.7 1650 2250C1635 2233.3 1618.3 2214.7 1600 2200C1581.7 2185.3 1558.3 2171 1540 2162C1521.7 2153 1506.7 2148.7 1490 2146C1473.3 2143.3 1455.8 2143.3 1440 2146C1424.2 2148.7 1407.3 2156.3 1395 2162C1382.7 2167.7 1371.5 2179 1366 2180C1360.5 2181 1358.8 2176.7 1362 2168Z" fill="none" stroke="#60ff00" stroke-width="44" stroke-linecap="round" stroke-linejoin="round"/><path d="M1362 2168C1365.2 2159.3 1374.5 2140.3 1385 2128C1395.5 2115.7 1409.5 2102.7 1425 2094C1440.5 2085.3 1458.8 2078.7 1478 2076C1497.2 2073.3 1519.7 2074.3 1540 2078C1560.3 2081.7 1580.8 2088.5 1600 2098C1619.2 2107.5 1638.7 2120.5 1655 2135C1671.3 2149.5 1686.5 2167.5 1698 2185C1709.5 2202.5 1717.7 2220.8 1724 2240C1730.3 2259.2 1736.3 2283.7 1736 2300C1735.7 2316.3 1726 2332 1722 2338C1718 2344 1717.3 2342.3 1712 2336C1706.7 2329.7 1700.3 2314.3 1690 2300C1679.7 2285.7 1665 2266.7 1650 2250C1635 2233.3 1618.3 2214.7 1600 2200C1581.7 2185.3 1558.3 2171 1540 2162C1521.7 2153 1506.7 2148.7 1490 2146C1473.3 2143.3 1455.8 2143.3 1440 2146C1424.2 2148.7 1407.3 2156.3 1395 2162C1382.7 2167.7 1371.5 2179 1366 2180C1360.5 2181 1358.8 2176.7 1362 2168Z" fill="#ffff00"/><path d="M1362 2168C1365.2 2159.3 1374.5 2140.3 1385 2128C1395.5 2115.7 1409.5 2102.7 1425 2094C1440.5 2085.3 1458.8 2078.7 1478 2076C1497.2 2073.3 1519.7 2074.3 1540 2078C1560.3 2081.7 1580.8 2088.5 1600 2098C1619.2 2107.5 1638.7 2120.5 1655 2135C1671.3 2149.5 1686.5 2167.5 1698 2185C1709.5 2202.5 1717.7 2220.8 1724 2240C1730.3 2259.2 1736.3 2283.7 1736 2300C1735.7 2316.3 1726 2332 1722 2338C1718 2344 1717.3 2342.3 1712 2336C1706.7 2329.7 1700.3 2314.3 1690 2300C1679.7 2285.7 1665 2266.7 1650 2250C1635 2233.3 1618.3 2214.7 1600 2200C1581.7 2185.3 1558.3 2171 1540 2162C1521.7 2153 1506.7 2148.7 1490 2146C1473.3 2143.3 1455.8 2143.3 1440 2146C1424.2 2148.7 1407.3 2156.3 1395 2162C1382.7 2167.7 1371.5 2179 1366 2180C1360.5 2181 1358.8 2176.7 1362 2168Z" fill="none" stroke="#f4ff00" stroke-width="20" stroke-linecap="round" stroke-linejoin="round"/></g>
<g filter="url(#bl5)"><path d="M1362 2168C1365.2 2159.3 1374.5 2140.3 1385 2128C1395.5 2115.7 1409.5 2102.7 1425 2094C1440.5 2085.3 1458.8 2078.7 1478 2076C1497.2 2073.3 1519.7 2074.3 1540 2078C1560.3 2081.7 1580.8 2088.5 1600 2098C1619.2 2107.5 1638.7 2120.5 1655 2135C1671.3 2149.5 1686.5 2167.5 1698 2185C1709.5 2202.5 1717.7 2220.8 1724 2240C1730.3 2259.2 1736.3 2283.7 1736 2300C1735.7 2316.3 1726 2332 1722 2338C1718 2344 1717.3 2342.3 1712 2336C1706.7 2329.7 1700.3 2314.3 1690 2300C1679.7 2285.7 1665 2266.7 1650 2250C1635 2233.3 1618.3 2214.7 1600 2200C1581.7 2185.3 1558.3 2171 1540 2162C1521.7 2153 1506.7 2148.7 1490 2146C1473.3 2143.3 1455.8 2143.3 1440 2146C1424.2 2148.7 1407.3 2156.3 1395 2162C1382.7 2167.7 1371.5 2179 1366 2180C1360.5 2181 1358.8 2176.7 1362 2168Z" fill="#ff9c00"/></g>
<g filter="url(#bl12)"><path d="M1392 2140C1398.3 2135.3 1414.5 2118.7 1430 2112C1445.5 2105.3 1466.7 2100.7 1485 2100C1503.3 2099.3 1521.7 2102.2 1540 2108C1558.3 2113.8 1578.3 2124.3 1595 2135C1611.7 2145.7 1625.8 2157.5 1640 2172C1654.2 2186.5 1668.7 2204 1680 2222C1691.3 2240 1703.3 2270.3 1708 2280" fill="none" stroke="#ff6a00" stroke-width="36" stroke-linecap="round" stroke-linejoin="round"/><path d="M1400 2136C1406.7 2131.7 1423.3 2116 1440 2110C1456.7 2104 1490 2101.7 1500 2100" fill="none" stroke="#ff4800" stroke-width="22" stroke-linecap="round" stroke-linejoin="round"/><path d="M1660 2200C1665.8 2208.3 1686.3 2233.3 1695 2250C1703.7 2266.7 1709.2 2291.7 1712 2300" fill="none" stroke="#ff5800" stroke-width="26" stroke-linecap="round" stroke-linejoin="round"/></g>
<g filter="url(#bl5)"><path d="M1742.7 2281.3C1742.7 2297.6 1740.9 2314.4 1737.1 2330.2C1733.4 2346 1727.6 2361.9 1720.3 2376.2C1712.9 2390.6 1703.3 2404.1 1693 2416.3C1682.8 2428.6 1671.1 2439.8 1658.8 2449.9C1646.6 2460.1 1633.6 2469.8 1619.6 2477.3C1605.6 2484.9 1590.3 2491.2 1574.9 2495.2C1559.4 2499.2 1543 2501.1 1527 2501.2C1511 2501.3 1494.6 2499.4 1479 2495.8C1463.4 2492.2 1447.8 2486.6 1433.4 2479.5C1419 2472.4 1405 2463.5 1392.5 2453.3C1380 2443.1 1368.3 2431.2 1358.4 2418.5C1348.4 2405.7 1339.6 2391.5 1332.7 2376.8C1325.7 2362.1 1320.3 2346.2 1316.7 2330.3C1313.1 2314.3 1311.3 2297.6 1311.3 2281.3C1311.3 2265 1313.1 2248.3 1316.7 2232.3C1320.3 2216.4 1325.7 2200.5 1332.7 2185.8C1339.6 2171.1 1348.4 2156.9 1358.4 2144.1C1368.3 2131.4 1380 2119.5 1392.5 2109.3C1405 2099.1 1418.9 2090.1 1433.3 2083C1447.7 2075.8 1463.3 2070.1 1478.9 2066.3C1494.5 2062.5 1510.9 2060.3 1527 2060C1543.1 2059.8 1559.7 2061.3 1575.4 2064.8C1591.2 2068.4 1607 2073.9 1621.5 2081.2C1636 2088.4 1650 2097.7 1662.4 2108.1C1674.9 2118.5 1686.3 2130.7 1696.2 2143.7C1706.1 2156.6 1714.7 2171 1721.5 2185.7C1728.4 2200.5 1733.8 2216.4 1737.3 2232.3C1740.9 2248.3 1742.7 2265 1742.7 2281.3Z" fill="none" stroke="#00ff40" stroke-width="16" stroke-linecap="round" stroke-linejoin="round"/><path d="M1742 2330C1740 2340 1737 2371.7 1730 2390C1723 2408.3 1713.3 2425 1700 2440C1686.7 2455 1673.3 2469.7 1650 2480C1626.7 2490.3 1588.3 2498.7 1560 2502C1531.7 2505.3 1493.3 2500.3 1480 2500" fill="none" stroke="#00d8ff" stroke-width="16" stroke-linecap="round" stroke-linejoin="round"/></g>
</g>
<clipPath id="k4a"><path d="M2195.7 2042C2208.2 2042.1 2224 2043.4 2239.6 2047.2C2255.2 2050.9 2273.1 2056.6 2289.3 2064.7C2305.5 2072.8 2322.2 2083.9 2336.6 2096C2350.9 2108.1 2364.5 2122.6 2375.5 2137.2C2386.6 2151.7 2395.7 2167.5 2402.9 2183.3C2410.2 2199.1 2415.6 2215.5 2419.1 2231.9C2422.5 2248.2 2424.2 2264.8 2423.6 2281.3C2423 2297.7 2420.4 2314.4 2415.7 2330.6C2411 2346.8 2404.2 2363.3 2395.5 2378.4C2386.7 2393.5 2375.6 2408.2 2363.1 2421.2C2350.7 2434.3 2335.9 2446.5 2320.8 2456.7C2305.7 2466.8 2288.6 2475.6 2272.7 2482.2C2256.8 2488.7 2240.5 2493.3 2225.5 2496C2210.5 2498.7 2196.9 2499.5 2182.4 2498.3C2167.9 2497.1 2153.4 2493.8 2138.5 2488.6C2123.6 2483.4 2107.3 2475.8 2092.9 2467.3C2078.5 2458.9 2064.3 2448.2 2052.3 2437.7C2040.2 2427.1 2029.1 2414.7 2020.7 2403.9C2012.4 2393.1 2005.5 2382.2 2002.1 2372.6C1998.6 2363 1998.1 2355.5 2000 2346.3C2001.9 2337.1 2007.5 2328.7 2013.7 2317.5C2019.9 2306.3 2029.1 2293.1 2037.3 2278.8C2045.6 2264.5 2054.9 2248.1 2063.1 2231.9C2071.2 2215.7 2079.1 2198.4 2086.3 2181.7C2093.4 2164.9 2099.9 2146.9 2106.1 2131.4C2112.3 2115.8 2117.6 2100.3 2123.5 2088.5C2129.5 2076.6 2135 2067.5 2141.8 2060.4C2148.5 2053.4 2155.2 2049.4 2164.2 2046.3C2173.1 2043.2 2183.1 2041.9 2195.7 2042Z"/></clipPath>
<g clip-path="url(#k4a)">
<rect x="1940" y="1982" width="544" height="576" fill="#00f0ff"/>
<g filter="url(#bl5)"><path d="M2195.7 2042C2208.2 2042.1 2224 2043.4 2239.6 2047.2C2255.2 2050.9 2273.1 2056.6 2289.3 2064.7C2305.5 2072.8 2322.2 2083.9 2336.6 2096C2350.9 2108.1 2364.5 2122.6 2375.5 2137.2C2386.6 2151.7 2395.7 2167.5 2402.9 2183.3C2410.2 2199.1 2415.6 2215.5 2419.1 2231.9C2422.5 2248.2 2424.2 2264.8 2423.6 2281.3C2423 2297.7 2420.4 2314.4 2415.7 2330.6C2411 2346.8 2404.2 2363.3 2395.5 2378.4C2386.7 2393.5 2375.6 2408.2 2363.1 2421.2C2350.7 2434.3 2335.9 2446.5 2320.8 2456.7C2305.7 2466.8 2288.6 2475.6 2272.7 2482.2C2256.8 2488.7 2240.5 2493.3 2225.5 2496C2210.5 2498.7 2196.9 2499.5 2182.4 2498.3C2167.9 2497.1 2153.4 2493.8 2138.5 2488.6C2123.6 2483.4 2107.3 2475.8 2092.9 2467.3C2078.5 2458.9 2064.3 2448.2 2052.3 2437.7C2040.2 2427.1 2029.1 2414.7 2020.7 2403.9C2012.4 2393.1 2005.5 2382.2 2002.1 2372.6C1998.6 2363 1998.1 2355.5 2000 2346.3C2001.9 2337.1 2007.5 2328.7 2013.7 2317.5C2019.9 2306.3 2029.1 2293.1 2037.3 2278.8C2045.6 2264.5 2054.9 2248.1 2063.1 2231.9C2071.2 2215.7 2079.1 2198.4 2086.3 2181.7C2093.4 2164.9 2099.9 2146.9 2106.1 2131.4C2112.3 2115.8 2117.6 2100.3 2123.5 2088.5C2129.5 2076.6 2135 2067.5 2141.8 2060.4C2148.5 2053.4 2155.2 2049.4 2164.2 2046.3C2173.1 2043.2 2183.1 2041.9 2195.7 2042Z" fill="none" stroke="#00c4ff" stroke-width="16" stroke-linecap="round" stroke-linejoin="round"/></g>
<g filter="url(#bl26)"><ellipse cx="2235" cy="2190" rx="120" ry="74" fill="#00ff5c" transform="rotate(14 2235 2190)"/><ellipse cx="2185" cy="2150" rx="40" ry="66" fill="#00ff58"/><ellipse cx="2300" cy="2250" rx="90" ry="50" fill="#00ff80"/><ellipse cx="2240" cy="2290" rx="130" ry="50" fill="#00ffb0"/><ellipse cx="2215" cy="2390" rx="130" ry="60" fill="#00ecff"/></g>
<g filter="url(#bl12)"><ellipse cx="2208" cy="2092" rx="14" ry="28" fill="#0088ff" transform="rotate(-20 2208 2092)"/><ellipse cx="2306" cy="2148" rx="28" ry="16" fill="#0078ff" transform="rotate(25 2306 2148)"/><ellipse cx="2262" cy="2118" rx="24" ry="18" fill="#00b8ff"/><ellipse cx="2165" cy="2075" rx="16" ry="30" fill="#00e8ff" transform="rotate(30 2165 2075)"/></g>
<g filter="url(#bl18)"><path d="M2030 2296C2026 2302.7 2011 2324.7 2006 2336C2001 2347.3 1997.5 2353.2 2000 2364C2002.5 2374.8 2012 2388.8 2021 2401C2030 2413.2 2042 2426.2 2054 2437C2066 2447.8 2078.3 2457.3 2093 2466C2107.7 2474.7 2126.8 2483.7 2142 2489C2157.2 2494.3 2170.5 2496.8 2184 2498C2197.5 2499.2 2208.3 2498.5 2223 2496C2237.7 2493.5 2255.7 2489.5 2272 2483C2288.3 2476.5 2305.8 2467.3 2321 2457C2336.2 2446.7 2350.5 2434.2 2363 2421C2375.5 2407.8 2387.5 2392.2 2396 2378C2404.5 2363.8 2411 2343 2414 2336" fill="none" stroke="#00b8ff" stroke-width="120" stroke-linecap="round" stroke-linejoin="round"/><path d="M2414 2336C2415.7 2326.8 2423.2 2298.3 2424 2281C2424.8 2263.7 2422.7 2248.3 2419 2232C2415.3 2215.7 2409.2 2198.8 2402 2183C2394.8 2167.2 2380.3 2144.7 2376 2137" fill="none" stroke="#00c8ff" stroke-width="50" stroke-linecap="round" stroke-linejoin="round"/><path d="M2110 2130C2106.7 2138.8 2097.2 2166 2090 2183C2082.8 2200 2075.2 2215.7 2067 2232C2058.8 2248.3 2048.8 2267.7 2041 2281C2033.2 2294.3 2023.5 2306.8 2020 2312" fill="none" stroke="#00d0ff" stroke-width="40" stroke-linecap="round" stroke-linejoin="round"/></g>
<g filter="url(#bl12)"><path d="M2030 2296C2026 2302.7 2011 2324.7 2006 2336C2001 2347.3 1997.5 2353.2 2000 2364C2002.5 2374.8 2012 2388.8 2021 2401C2030 2413.2 2042 2426.2 2054 2437C2066 2447.8 2078.3 2457.3 2093 2466C2107.7 2474.7 2126.8 2483.7 2142 2489C2157.2 2494.3 2170.5 2496.8 2184 2498C2197.5 2499.2 2208.3 2498.5 2223 2496C2237.7 2493.5 2255.7 2489.5 2272 2483C2288.3 2476.5 2305.8 2467.3 2321 2457C2336.2 2446.7 2350.5 2434.2 2363 2421C2375.5 2407.8 2387.5 2392.2 2396 2378C2404.5 2363.8 2411 2343 2414 2336" fill="none" stroke="#0070ff" stroke-width="62" stroke-linecap="round" stroke-linejoin="round"/><path d="M2030 2296C2026 2302.7 2011 2324.7 2006 2336C2001 2347.3 1997.5 2353.2 2000 2364C2002.5 2374.8 2012 2388.8 2021 2401C2030 2413.2 2042 2426.2 2054 2437C2066 2447.8 2078.3 2457.3 2093 2466C2107.7 2474.7 2126.8 2483.7 2142 2489C2157.2 2494.3 2170.5 2496.8 2184 2498C2197.5 2499.2 2208.3 2498.5 2223 2496C2237.7 2493.5 2255.7 2489.5 2272 2483C2288.3 2476.5 2305.8 2467.3 2321 2457C2336.2 2446.7 2350.5 2434.2 2363 2421C2375.5 2407.8 2387.5 2392.2 2396 2378C2404.5 2363.8 2411 2343 2414 2336" fill="none" stroke="#0038f4" stroke-width="28" stroke-linecap="round" stroke-linejoin="round"/><path d="M2414 2336C2415.7 2326.8 2423.2 2298.3 2424 2281C2424.8 2263.7 2422.7 2248.3 2419 2232C2415.3 2215.7 2409.2 2198.8 2402 2183C2394.8 2167.2 2380.3 2144.7 2376 2137" fill="none" stroke="#0090ff" stroke-width="20" stroke-linecap="round" stroke-linejoin="round"/><path d="M2110 2130C2106.7 2138.8 2097.2 2166 2090 2183C2082.8 2200 2075.2 2215.7 2067 2232C2058.8 2248.3 2048.8 2267.7 2041 2281C2033.2 2294.3 2023.5 2306.8 2020 2312" fill="none" stroke="#0088ff" stroke-width="14" stroke-linecap="round" stroke-linejoin="round"/></g>
</g>
<clipPath id="k4b"><path d="M2099.4 2058.4C2104 2059.2 2108.6 2061.2 2110.8 2065.6C2113 2070 2113.3 2076.3 2112.5 2085C2111.7 2093.7 2109.2 2105.7 2106 2117.7C2102.8 2129.7 2098.4 2142.7 2093 2156.8C2087.6 2170.9 2080.5 2187.3 2073.4 2202.5C2066.3 2217.7 2058.2 2233.9 2050.6 2248C2043 2262.1 2034.8 2275.6 2027.7 2287C2020.6 2298.4 2014.2 2308.6 2008.2 2316.5C2002.2 2324.4 1996.9 2331.7 1992 2334.4C1987.1 2337.1 1983.8 2336.4 1978.9 2332.8C1974 2329.2 1967.2 2321.7 1962.6 2313C1957.9 2304.3 1953.6 2292.6 1951 2280.7C1948.4 2268.8 1946.7 2254.6 1947 2241.6C1947.3 2228.6 1949.1 2215.5 1952.8 2202.5C1956.5 2189.5 1962 2175.9 1969 2163.4C1976 2150.9 1985.2 2138.9 1995 2127.5C2004.8 2116.1 2016.8 2104.2 2027.7 2095C2038.6 2085.8 2051.1 2077.7 2060.3 2072C2069.5 2066.3 2076.5 2063 2083 2060.7C2089.5 2058.4 2094.8 2057.6 2099.4 2058.4Z"/></clipPath>
<g clip-path="url(#k4b)">
<rect x="1887" y="1998" width="286" height="396" fill="#00f8ff"/>
<g filter="url(#bl12)"><ellipse cx="2022" cy="2205" rx="30" ry="92" fill="#30f800" transform="rotate(27 2022 2205)"/><ellipse cx="2030" cy="2190" rx="20" ry="60" fill="#50f400" transform="rotate(27 2030 2190)"/></g>
<g filter="url(#bl8)"><ellipse cx="2086" cy="2084" rx="22" ry="16" fill="#0070ff" transform="rotate(-30 2086 2084)"/><path d="M2099.4 2058.4C2104 2059.2 2108.6 2061.2 2110.8 2065.6C2113 2070 2113.3 2076.3 2112.5 2085C2111.7 2093.7 2109.2 2105.7 2106 2117.7C2102.8 2129.7 2098.4 2142.7 2093 2156.8C2087.6 2170.9 2080.5 2187.3 2073.4 2202.5C2066.3 2217.7 2058.2 2233.9 2050.6 2248C2043 2262.1 2034.8 2275.6 2027.7 2287C2020.6 2298.4 2014.2 2308.6 2008.2 2316.5C2002.2 2324.4 1996.9 2331.7 1992 2334.4C1987.1 2337.1 1983.8 2336.4 1978.9 2332.8C1974 2329.2 1967.2 2321.7 1962.6 2313C1957.9 2304.3 1953.6 2292.6 1951 2280.7C1948.4 2268.8 1946.7 2254.6 1947 2241.6C1947.3 2228.6 1949.1 2215.5 1952.8 2202.5C1956.5 2189.5 1962 2175.9 1969 2163.4C1976 2150.9 1985.2 2138.9 1995 2127.5C2004.8 2116.1 2016.8 2104.2 2027.7 2095C2038.6 2085.8 2051.1 2077.7 2060.3 2072C2069.5 2066.3 2076.5 2063 2083 2060.7C2089.5 2058.4 2094.8 2057.6 2099.4 2058.4Z" fill="none" stroke="#00b0ff" stroke-width="16" stroke-linecap="round" stroke-linejoin="round"/></g>
<g filter="url(#bl3)"><path d="M2099.4 2058.4C2104 2059.2 2108.6 2061.2 2110.8 2065.6C2113 2070 2113.3 2076.3 2112.5 2085C2111.7 2093.7 2109.2 2105.7 2106 2117.7C2102.8 2129.7 2098.4 2142.7 2093 2156.8C2087.6 2170.9 2080.5 2187.3 2073.4 2202.5C2066.3 2217.7 2058.2 2233.9 2050.6 2248C2043 2262.1 2034.8 2275.6 2027.7 2287C2020.6 2298.4 2014.2 2308.6 2008.2 2316.5C2002.2 2324.4 1996.9 2331.7 1992 2334.4C1987.1 2337.1 1983.8 2336.4 1978.9 2332.8C1974 2329.2 1967.2 2321.7 1962.6 2313C1957.9 2304.3 1953.6 2292.6 1951 2280.7C1948.4 2268.8 1946.7 2254.6 1947 2241.6C1947.3 2228.6 1949.1 2215.5 1952.8 2202.5C1956.5 2189.5 1962 2175.9 1969 2163.4C1976 2150.9 1985.2 2138.9 1995 2127.5C2004.8 2116.1 2016.8 2104.2 2027.7 2095C2038.6 2085.8 2051.1 2077.7 2060.3 2072C2069.5 2066.3 2076.5 2063 2083 2060.7C2089.5 2058.4 2094.8 2057.6 2099.4 2058.4Z" fill="none" stroke="#0060ff" stroke-width="6" stroke-linecap="round" stroke-linejoin="round"/></g>
</g>
<path d="M2121 2050C2119.5 2058.3 2116.2 2082.3 2112 2100C2107.8 2117.7 2102.3 2137.3 2096 2156C2089.7 2174.7 2082 2194.3 2074 2212C2066 2229.7 2057 2246 2048 2262C2039 2278 2028.7 2294.7 2020 2308C2011.3 2321.3 2000 2336.3 1996 2342" fill="none" stroke="#fff" stroke-width="6.5" stroke-linecap="round" stroke-linejoin="round"/>
<clipPath id="k5"><path d="M2835.5 2095C2851.8 2095.8 2868.2 2098.5 2883.7 2103.7C2899.3 2108.9 2914.8 2116.7 2928.8 2126.2C2942.9 2135.8 2956.6 2148.2 2968.2 2161.2C2979.8 2174.2 2990.2 2189.4 2998.3 2204.2C3006.4 2219.1 3012.7 2234.8 3016.7 2250.3C3020.8 2265.7 3022.7 2281.3 3022.8 2296.9C3022.9 2312.4 3020.8 2328.1 3017.2 2343.4C3013.5 2358.6 3007.9 2374.2 3000.7 2388.5C2993.5 2402.8 2984.4 2416.9 2974.1 2429.2C2963.8 2441.5 2951.6 2452.9 2938.9 2462.3C2926.2 2471.7 2911.9 2479.7 2897.9 2485.7C2883.9 2491.7 2869.1 2496.1 2855 2498.5C2840.9 2501 2826.8 2501.6 2813.2 2500.3C2799.6 2499 2786.3 2495.7 2773.4 2490.6C2760.5 2485.4 2747.7 2478.2 2735.6 2469.3C2723.4 2460.5 2711.4 2449.5 2700.5 2437.4C2689.6 2425.2 2679 2411 2670 2396.4C2661.1 2381.8 2652.9 2365.5 2646.7 2349.5C2640.6 2333.6 2635.8 2316.9 2633.3 2301C2630.7 2285.1 2630 2269.1 2631.3 2254C2632.6 2238.9 2636 2224.2 2641.3 2210.5C2646.6 2196.7 2654 2183.4 2663.2 2171.4C2672.3 2159.4 2683.6 2148.1 2696.1 2138.5C2708.6 2128.9 2723.3 2120.3 2738.3 2113.7C2753.3 2107.1 2769.9 2102 2786.1 2098.9C2802.3 2095.7 2819.3 2094.2 2835.5 2095Z"/></clipPath>
<g clip-path="url(#k5)">
<rect x="2571" y="2035" width="512" height="525" fill="#68ff00"/>
<g filter="url(#bl26)"><ellipse cx="2840" cy="2290" rx="130" ry="120" fill="#a4ff00"/><ellipse cx="2780" cy="2322" rx="96" ry="62" fill="#e4ff00"/><ellipse cx="2800" cy="2424" rx="150" ry="34" fill="#10fb20" transform="rotate(8 2800 2424)"/><ellipse cx="2930" cy="2440" rx="50" ry="40" fill="#70ff00"/></g>
<g filter="url(#bl12)"><ellipse cx="2735" cy="2305" rx="50" ry="40" fill="#f8f800" transform="rotate(35 2735 2305)"/><ellipse cx="2700" cy="2285" rx="34" ry="30" fill="#ffe400" transform="rotate(40 2700 2285)"/></g>
<g filter="url(#bl8)"><ellipse cx="2690" cy="2278" rx="17" ry="24" fill="#ffc400" transform="rotate(-30 2690 2278)"/></g>
<g filter="url(#bl12)"><path d="M2835.5 2095C2851.8 2095.8 2868.2 2098.5 2883.7 2103.7C2899.3 2108.9 2914.8 2116.7 2928.8 2126.2C2942.9 2135.8 2956.6 2148.2 2968.2 2161.2C2979.8 2174.2 2990.2 2189.4 2998.3 2204.2C3006.4 2219.1 3012.7 2234.8 3016.7 2250.3C3020.8 2265.7 3022.7 2281.3 3022.8 2296.9C3022.9 2312.4 3020.8 2328.1 3017.2 2343.4C3013.5 2358.6 3007.9 2374.2 3000.7 2388.5C2993.5 2402.8 2984.4 2416.9 2974.1 2429.2C2963.8 2441.5 2951.6 2452.9 2938.9 2462.3C2926.2 2471.7 2911.9 2479.7 2897.9 2485.7C2883.9 2491.7 2869.1 2496.1 2855 2498.5C2840.9 2501 2826.8 2501.6 2813.2 2500.3C2799.6 2499 2786.3 2495.7 2773.4 2490.6C2760.5 2485.4 2747.7 2478.2 2735.6 2469.3C2723.4 2460.5 2711.4 2449.5 2700.5 2437.4C2689.6 2425.2 2679 2411 2670 2396.4C2661.1 2381.8 2652.9 2365.5 2646.7 2349.5C2640.6 2333.6 2635.8 2316.9 2633.3 2301C2630.7 2285.1 2630 2269.1 2631.3 2254C2632.6 2238.9 2636 2224.2 2641.3 2210.5C2646.6 2196.7 2654 2183.4 2663.2 2171.4C2672.3 2159.4 2683.6 2148.1 2696.1 2138.5C2708.6 2128.9 2723.3 2120.3 2738.3 2113.7C2753.3 2107.1 2769.9 2102 2786.1 2098.9C2802.3 2095.7 2819.3 2094.2 2835.5 2095Z" fill="none" stroke="#00ff30" stroke-width="64" stroke-linecap="round" stroke-linejoin="round"/><path d="M2640 2210C2638.5 2217.3 2632.2 2239.3 2631 2254C2629.8 2268.7 2630.3 2282.3 2633 2298C2635.7 2313.7 2640.5 2331.3 2647 2348C2653.5 2364.7 2662.7 2383 2672 2398C2681.3 2413 2692 2426 2703 2438C2714 2450 2726 2461.2 2738 2470C2750 2478.8 2762.5 2486 2775 2491C2787.5 2496 2806.7 2498.5 2813 2500" fill="none" stroke="#00ffd0" stroke-width="52" stroke-linecap="round" stroke-linejoin="round"/><path d="M2640 2210C2638.5 2217.3 2632.2 2239.3 2631 2254C2629.8 2268.7 2630.3 2282.3 2633 2298C2635.7 2313.7 2640.5 2331.3 2647 2348C2653.5 2364.7 2662.7 2383 2672 2398C2681.3 2413 2692 2426 2703 2438C2714 2450 2726 2461.2 2738 2470C2750 2478.8 2762.5 2486 2775 2491C2787.5 2496 2806.7 2498.5 2813 2500" fill="none" stroke="#00d0ff" stroke-width="24" stroke-linecap="round" stroke-linejoin="round"/><ellipse cx="2745" cy="2446" rx="10" ry="36" fill="#00ffe8" transform="rotate(10 2745 2446)"/><ellipse cx="2716" cy="2420" rx="8" ry="26" fill="#00ffe0" transform="rotate(-20 2716 2420)"/></g>
<g filter="url(#bl5)"><path d="M2640 2210C2638.5 2217.3 2632.2 2239.3 2631 2254C2629.8 2268.7 2630.3 2282.3 2633 2298C2635.7 2313.7 2640.5 2331.3 2647 2348C2653.5 2364.7 2662.7 2383 2672 2398C2681.3 2413 2692 2426 2703 2438C2714 2450 2726 2461.2 2738 2470C2750 2478.8 2762.5 2486 2775 2491C2787.5 2496 2806.7 2498.5 2813 2500" fill="none" stroke="#00a0ff" stroke-width="7" stroke-linecap="round" stroke-linejoin="round"/><ellipse cx="2756" cy="2484" rx="22" ry="9" fill="#0070ff" transform="rotate(25 2756 2484)"/><ellipse cx="2636" cy="2262" rx="5" ry="28" fill="#0078ff"/><path d="M2900 2100C2908.3 2105.8 2935.8 2121.7 2950 2135C2964.2 2148.3 2979.2 2172.5 2985 2180" fill="none" stroke="#00d0ff" stroke-width="8" stroke-linecap="round" stroke-linejoin="round"/></g>
</g>
<clipPath id="k6a"><path d="M3148.6 2240.6C3153.7 2229.7 3161.4 2220.5 3173.3 2212.5C3185.3 2204.6 3202.2 2198.3 3220.4 2192.8C3238.5 2187.2 3260.9 2183 3282.2 2179.1C3303.4 2175.2 3326.1 2172.5 3348.1 2169.6C3370 2166.6 3393.4 2163.8 3414 2161.3C3434.6 2158.7 3455.8 2155.8 3471.7 2154.4C3487.6 2153.1 3499.5 2151.8 3509.6 2153C3519.8 2154.2 3525.7 2156.6 3532.7 2161.8C3539.7 2167.1 3545.8 2174.9 3551.6 2184.3C3557.4 2193.7 3563 2206 3567.3 2218.2C3571.6 2230.5 3575.3 2244 3577.4 2257.9C3579.5 2271.8 3580.7 2286.7 3580 2301.7C3579.3 2316.7 3577.2 2333 3573.3 2348C3569.4 2363 3563.8 2378 3556.6 2391.8C3549.5 2405.6 3540.5 2418.8 3530.2 2430.6C3519.9 2442.5 3507.7 2453.6 3494.8 2462.8C3481.9 2472 3467.3 2479.8 3452.8 2485.9C3438.2 2491.9 3422.6 2496.4 3407.4 2499.1C3392.1 2501.9 3376.6 2503 3361.2 2502.5C3345.8 2502 3330.3 2499.9 3315.1 2495.9C3299.8 2491.9 3284.3 2486.3 3269.8 2478.5C3255.2 2470.8 3240.6 2460.9 3227.7 2449.6C3214.8 2438.3 3202.6 2424.7 3192.3 2410.7C3182 2396.8 3173 2381.2 3165.9 2366.1C3158.7 2351.1 3153.3 2335.4 3149.4 2320.7C3145.6 2306 3142.9 2291.1 3142.8 2277.7C3142.7 2264.4 3143.5 2251.4 3148.6 2240.6Z"/></clipPath>
<g clip-path="url(#k6a)">
<rect x="3083" y="2093" width="557" height="470" fill="#18ff00"/>
<g filter="url(#bl12)"><path d="M3330 2192C3350 2184.3 3385.3 2172.7 3410 2170C3434.7 2167.3 3462 2169.7 3478 2176C3494 2182.3 3500.3 2193.7 3506 2208C3511.7 2222.3 3509.7 2241.7 3512 2262C3514.3 2282.3 3516.7 2310.3 3520 2330C3523.3 2349.7 3532 2364.7 3532 2380C3532 2395.3 3528.7 2409.3 3520 2422C3511.3 2434.7 3496.7 2448 3480 2456C3463.3 2464 3441.7 2470 3420 2470C3398.3 2470 3370.7 2465.7 3350 2456C3329.3 2446.3 3309.7 2431 3296 2412C3282.3 2393 3273 2365.3 3268 2342C3263 2318.7 3262.3 2293 3266 2272C3269.7 2251 3279.3 2229.3 3290 2216C3300.7 2202.7 3310 2199.7 3330 2192Z" fill="none" stroke="#90ff00" stroke-width="104" stroke-linecap="round" stroke-linejoin="round"/><path d="M3330 2192C3350 2184.3 3385.3 2172.7 3410 2170C3434.7 2167.3 3462 2169.7 3478 2176C3494 2182.3 3500.3 2193.7 3506 2208C3511.7 2222.3 3509.7 2241.7 3512 2262C3514.3 2282.3 3516.7 2310.3 3520 2330C3523.3 2349.7 3532 2364.7 3532 2380C3532 2395.3 3528.7 2409.3 3520 2422C3511.3 2434.7 3496.7 2448 3480 2456C3463.3 2464 3441.7 2470 3420 2470C3398.3 2470 3370.7 2465.7 3350 2456C3329.3 2446.3 3309.7 2431 3296 2412C3282.3 2393 3273 2365.3 3268 2342C3263 2318.7 3262.3 2293 3266 2272C3269.7 2251 3279.3 2229.3 3290 2216C3300.7 2202.7 3310 2199.7 3330 2192Z" fill="none" stroke="#e8ff00" stroke-width="62" stroke-linecap="round" stroke-linejoin="round"/><path d="M3330 2192C3350 2184.3 3385.3 2172.7 3410 2170C3434.7 2167.3 3462 2169.7 3478 2176C3494 2182.3 3500.3 2193.7 3506 2208C3511.7 2222.3 3509.7 2241.7 3512 2262C3514.3 2282.3 3516.7 2310.3 3520 2330C3523.3 2349.7 3532 2364.7 3532 2380C3532 2395.3 3528.7 2409.3 3520 2422C3511.3 2434.7 3496.7 2448 3480 2456C3463.3 2464 3441.7 2470 3420 2470C3398.3 2470 3370.7 2465.7 3350 2456C3329.3 2446.3 3309.7 2431 3296 2412C3282.3 2393 3273 2365.3 3268 2342C3263 2318.7 3262.3 2293 3266 2272C3269.7 2251 3279.3 2229.3 3290 2216C3300.7 2202.7 3310 2199.7 3330 2192Z" fill="#ffec00"/></g>
<g filter="url(#bl8)"><path d="M3330 2192C3350 2184.3 3385.3 2172.7 3410 2170C3434.7 2167.3 3462 2169.7 3478 2176C3494 2182.3 3500.3 2193.7 3506 2208C3511.7 2222.3 3509.7 2241.7 3512 2262C3514.3 2282.3 3516.7 2310.3 3520 2330C3523.3 2349.7 3532 2364.7 3532 2380C3532 2395.3 3528.7 2409.3 3520 2422C3511.3 2434.7 3496.7 2448 3480 2456C3463.3 2464 3441.7 2470 3420 2470C3398.3 2470 3370.7 2465.7 3350 2456C3329.3 2446.3 3309.7 2431 3296 2412C3282.3 2393 3273 2365.3 3268 2342C3263 2318.7 3262.3 2293 3266 2272C3269.7 2251 3279.3 2229.3 3290 2216C3300.7 2202.7 3310 2199.7 3330 2192Z" fill="none" stroke="#ffd000" stroke-width="14" stroke-linecap="round" stroke-linejoin="round"/><path d="M3330 2192C3350 2184.3 3385.3 2172.7 3410 2170C3434.7 2167.3 3462 2169.7 3478 2176C3494 2182.3 3500.3 2193.7 3506 2208C3511.7 2222.3 3509.7 2241.7 3512 2262C3514.3 2282.3 3516.7 2310.3 3520 2330C3523.3 2349.7 3532 2364.7 3532 2380C3532 2395.3 3528.7 2409.3 3520 2422C3511.3 2434.7 3496.7 2448 3480 2456C3463.3 2464 3441.7 2470 3420 2470C3398.3 2470 3370.7 2465.7 3350 2456C3329.3 2446.3 3309.7 2431 3296 2412C3282.3 2393 3273 2365.3 3268 2342C3263 2318.7 3262.3 2293 3266 2272C3269.7 2251 3279.3 2229.3 3290 2216C3300.7 2202.7 3310 2199.7 3330 2192Z" fill="#ffae00"/></g>
<g filter="url(#bl12)"><ellipse cx="3412" cy="2192" rx="62" ry="24" fill="#ff3c00" transform="rotate(-6 3412 2192)"/><path d="M3300 2290C3302 2300 3303.7 2332 3312 2350C3320.3 2368 3333.7 2384.7 3350 2398C3366.3 2411.3 3390 2424.3 3410 2430C3430 2435.7 3454 2437 3470 2432C3486 2427 3500 2405.3 3506 2400" fill="none" stroke="#ff8c00" stroke-width="40" stroke-linecap="round" stroke-linejoin="round"/><ellipse cx="3468" cy="2436" rx="30" ry="18" fill="#ff8400" transform="rotate(-20 3468 2436)"/></g>
<g filter="url(#bl12)"><ellipse cx="3432" cy="2266" rx="104" ry="84" fill="#ffee00" transform="rotate(-22 3432 2266)"/></g>
<g filter="url(#bl12)"><ellipse cx="3432" cy="2266" rx="90" ry="70" fill="#b0ff00" transform="rotate(-22 3432 2266)"/></g>
<g filter="url(#bl12)"><ellipse cx="3431" cy="2264" rx="72" ry="55" fill="#00ff20" transform="rotate(-22 3431 2264)"/></g>
<g filter="url(#bl8)"><ellipse cx="3430" cy="2258" rx="46" ry="33" fill="#00ff90" transform="rotate(-20 3430 2258)" opacity="0.75"/><ellipse cx="3430" cy="2258" rx="28" ry="19" fill="#00fff0" transform="rotate(-20 3430 2258)"/></g>
<g filter="url(#bl8)"><path d="M3148.6 2240.6C3153.7 2229.7 3161.4 2220.5 3173.3 2212.5C3185.3 2204.6 3202.2 2198.3 3220.4 2192.8C3238.5 2187.2 3260.9 2183 3282.2 2179.1C3303.4 2175.2 3326.1 2172.5 3348.1 2169.6C3370 2166.6 3393.4 2163.8 3414 2161.3C3434.6 2158.7 3455.8 2155.8 3471.7 2154.4C3487.6 2153.1 3499.5 2151.8 3509.6 2153C3519.8 2154.2 3525.7 2156.6 3532.7 2161.8C3539.7 2167.1 3545.8 2174.9 3551.6 2184.3C3557.4 2193.7 3563 2206 3567.3 2218.2C3571.6 2230.5 3575.3 2244 3577.4 2257.9C3579.5 2271.8 3580.7 2286.7 3580 2301.7C3579.3 2316.7 3577.2 2333 3573.3 2348C3569.4 2363 3563.8 2378 3556.6 2391.8C3549.5 2405.6 3540.5 2418.8 3530.2 2430.6C3519.9 2442.5 3507.7 2453.6 3494.8 2462.8C3481.9 2472 3467.3 2479.8 3452.8 2485.9C3438.2 2491.9 3422.6 2496.4 3407.4 2499.1C3392.1 2501.9 3376.6 2503 3361.2 2502.5C3345.8 2502 3330.3 2499.9 3315.1 2495.9C3299.8 2491.9 3284.3 2486.3 3269.8 2478.5C3255.2 2470.8 3240.6 2460.9 3227.7 2449.6C3214.8 2438.3 3202.6 2424.7 3192.3 2410.7C3182 2396.8 3173 2381.2 3165.9 2366.1C3158.7 2351.1 3153.3 2335.4 3149.4 2320.7C3145.6 2306 3142.9 2291.1 3142.8 2277.7C3142.7 2264.4 3143.5 2251.4 3148.6 2240.6Z" fill="none" stroke="#00ff50" stroke-width="18" stroke-linecap="round" stroke-linejoin="round"/></g>
<g filter="url(#bl5)"><ellipse cx="3538" cy="2172" rx="26" ry="14" fill="#0070ff" transform="rotate(50 3538 2172)"/><ellipse cx="3553" cy="2202" rx="10" ry="24" fill="#00c0ff" transform="rotate(-25 3553 2202)"/><ellipse cx="3150" cy="2240" rx="10" ry="20" fill="#00e0ff" transform="rotate(30 3150 2240)"/><ellipse cx="3146" cy="2290" rx="6" ry="40" fill="#00ffd0"/></g>
</g>
<clipPath id="k6b"><path d="M3188.1 2148.7C3191.9 2141.9 3198.2 2132.4 3206.5 2123.6C3214.7 2114.8 3225.9 2104 3237.7 2095.9C3249.6 2087.8 3263.6 2080.3 3277.8 2075C3292 2069.7 3307.8 2066 3322.8 2064.2C3337.8 2062.3 3353.7 2062.6 3367.8 2064C3382 2065.4 3395.6 2068.8 3407.9 2072.8C3420.1 2076.8 3431.6 2082.4 3441.3 2087.9C3450.9 2093.4 3459.9 2100.2 3465.6 2105.7C3471.4 2111.3 3475.5 2116.7 3475.8 2121.1C3476.1 2125.6 3473.3 2129.1 3467.3 2132.6C3461.2 2136.2 3451.2 2139.3 3439.6 2142.4C3428 2145.6 3412.9 2148.5 3397.9 2151.4C3382.9 2154.3 3365.9 2157.1 3349.5 2159.9C3333.1 2162.7 3315.7 2165.6 3299.4 2168C3283.2 2170.5 3266.2 2173 3251.9 2174.6C3237.7 2176.1 3224 2177.4 3213.9 2177.3C3203.9 2177.2 3196.5 2175.8 3191.4 2173.7C3186.3 2171.6 3184.1 2168.7 3183.5 2164.5C3182.9 2160.4 3184.3 2155.5 3188.1 2148.7Z"/></clipPath>
<g clip-path="url(#k6b)">
<rect x="3124" y="2004" width="412" height="233" fill="#ffe800"/>
<g filter="url(#bl5)"><path d="M3188.1 2148.7C3191.9 2141.9 3198.2 2132.4 3206.5 2123.6C3214.7 2114.8 3225.9 2104 3237.7 2095.9C3249.6 2087.8 3263.6 2080.3 3277.8 2075C3292 2069.7 3307.8 2066 3322.8 2064.2C3337.8 2062.3 3353.7 2062.6 3367.8 2064C3382 2065.4 3395.6 2068.8 3407.9 2072.8C3420.1 2076.8 3431.6 2082.4 3441.3 2087.9C3450.9 2093.4 3459.9 2100.2 3465.6 2105.7C3471.4 2111.3 3475.5 2116.7 3475.8 2121.1C3476.1 2125.6 3473.3 2129.1 3467.3 2132.6C3461.2 2136.2 3451.2 2139.3 3439.6 2142.4C3428 2145.6 3412.9 2148.5 3397.9 2151.4C3382.9 2154.3 3365.9 2157.1 3349.5 2159.9C3333.1 2162.7 3315.7 2165.6 3299.4 2168C3283.2 2170.5 3266.2 2173 3251.9 2174.6C3237.7 2176.1 3224 2177.4 3213.9 2177.3C3203.9 2177.2 3196.5 2175.8 3191.4 2173.7C3186.3 2171.6 3184.1 2168.7 3183.5 2164.5C3182.9 2160.4 3184.3 2155.5 3188.1 2148.7Z" fill="none" stroke="#a0ff00" stroke-width="44" stroke-linecap="round" stroke-linejoin="round"/><path d="M3188.1 2148.7C3191.9 2141.9 3198.2 2132.4 3206.5 2123.6C3214.7 2114.8 3225.9 2104 3237.7 2095.9C3249.6 2087.8 3263.6 2080.3 3277.8 2075C3292 2069.7 3307.8 2066 3322.8 2064.2C3337.8 2062.3 3353.7 2062.6 3367.8 2064C3382 2065.4 3395.6 2068.8 3407.9 2072.8C3420.1 2076.8 3431.6 2082.4 3441.3 2087.9C3450.9 2093.4 3459.9 2100.2 3465.6 2105.7C3471.4 2111.3 3475.5 2116.7 3475.8 2121.1C3476.1 2125.6 3473.3 2129.1 3467.3 2132.6C3461.2 2136.2 3451.2 2139.3 3439.6 2142.4C3428 2145.6 3412.9 2148.5 3397.9 2151.4C3382.9 2154.3 3365.9 2157.1 3349.5 2159.9C3333.1 2162.7 3315.7 2165.6 3299.4 2168C3283.2 2170.5 3266.2 2173 3251.9 2174.6C3237.7 2176.1 3224 2177.4 3213.9 2177.3C3203.9 2177.2 3196.5 2175.8 3191.4 2173.7C3186.3 2171.6 3184.1 2168.7 3183.5 2164.5C3182.9 2160.4 3184.3 2155.5 3188.1 2148.7Z" fill="none" stroke="#20ff00" stroke-width="26" stroke-linecap="round" stroke-linejoin="round"/></g>
<g filter="url(#bl8)"><ellipse cx="3345" cy="2116" rx="88" ry="22" fill="#ff9800" transform="rotate(-7 3345 2116)"/><ellipse cx="3270" cy="2138" rx="40" ry="10" fill="#ffa800" transform="rotate(-12 3270 2138)"/></g>
<g filter="url(#bl8)"><ellipse cx="3352" cy="2110" rx="54" ry="15" fill="#ff3c00" transform="rotate(-6 3352 2110)"/><ellipse cx="3410" cy="2106" rx="30" ry="10" fill="#ff5000" transform="rotate(20 3410 2106)"/></g>
<g filter="url(#bl5)"><ellipse cx="3190" cy="2162" rx="10" ry="16" fill="#0070ff" transform="rotate(30 3190 2162)"/><ellipse cx="3468" cy="2122" rx="10" ry="14" fill="#0070ff" transform="rotate(-40 3468 2122)"/><path d="M3186 2170C3190.3 2171.3 3201.3 2177.3 3212 2178C3222.7 2178.7 3243.7 2174.7 3250 2174" fill="none" stroke="#00c8ff" stroke-width="8" stroke-linecap="round" stroke-linejoin="round"/></g>
</g>
<text x="561" y="2487.5" font-size="100">I</text>
<text x="1100" y="2487.5" font-size="100">II</text>
<text x="1699" y="2487.5" font-size="100">III</text>
<text x="2389" y="2487.5" font-size="100">IV</text>
<text x="2995" y="2487" font-size="100">V</text>
<text x="3545" y="2487" font-size="100">VI</text>
<rect x="3695" y="2116.2" width="109.5" height="333.8" fill="url(#rbv)"/>
<path d="M3695.6 2116.2V2450M3803.9 2116.2V2450" stroke="#000" stroke-width="1.3" fill="none"/>
<line x1="3695" y1="2116.2" x2="3827" y2="2116.2" stroke="#000" stroke-width="2"/>
<line x1="3695" y1="2199.6" x2="3827" y2="2199.6" stroke="#000" stroke-width="2"/>
<line x1="3695" y1="2283.1" x2="3827" y2="2283.1" stroke="#000" stroke-width="2"/>
<line x1="3695" y1="2366.5" x2="3827" y2="2366.5" stroke="#000" stroke-width="2"/>
<line x1="3695" y1="2450.0" x2="3827" y2="2450.0" stroke="#000" stroke-width="2"/>
<text x="3840" y="2146" font-size="100">1.0</text>
<text x="3836" y="2312.5" font-size="100">0.5</text>
<text x="3836" y="2478.5" font-size="100">0.0</text>
<text x="3694" y="2052" font-size="96"><tspan class="i">v</tspan> (m/s)</text>
</svg></body></html>
